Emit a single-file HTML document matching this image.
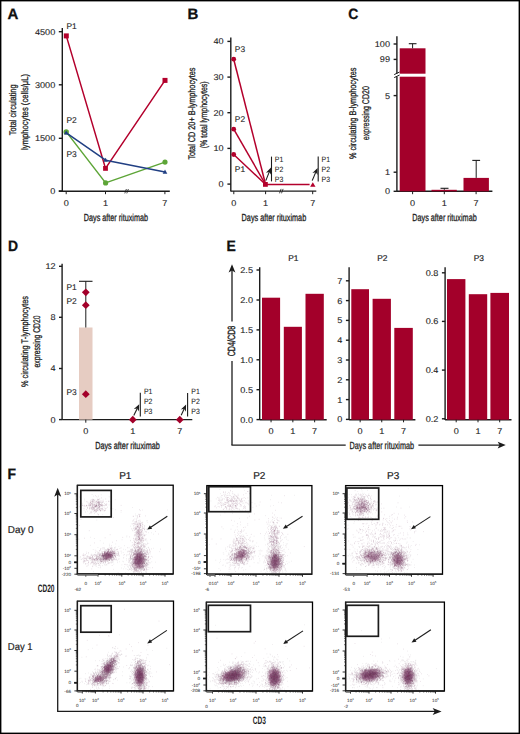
<!DOCTYPE html>
<html><head><meta charset="utf-8"><style>
html,body{margin:0;padding:0;background:#fff;}
body{width:520px;height:734px;overflow:hidden;}
svg{display:block;font-family:"Liberation Sans",sans-serif;text-rendering:geometricPrecision;}
</style></head><body>
<svg width="520" height="734" viewBox="0 0 520 734">
<defs><radialGradient id="cg"><stop offset="0" stop-color="#8C2566" stop-opacity=".95"/><stop offset=".5" stop-color="#8C2566" stop-opacity=".6"/><stop offset="1" stop-color="#8C2566" stop-opacity="0"/></radialGradient></defs>
<rect x="0" y="0" width="520" height="734" fill="#fff"/>
<text x="7.6" y="18.5" font-size="15" font-weight="bold" stroke="#111" stroke-width="0.3" fill="#111">A</text>
<line x1="62.3" y1="27.9" x2="62.3" y2="191.6" stroke="#1c1c1c" stroke-width="1.4"/>
<line x1="58.8" y1="31.7" x2="62.3" y2="31.7" stroke="#1c1c1c" stroke-width="1.4"/>
<text x="55.3" y="34.6" font-size="8.4" text-anchor="end" textLength="20.37" lengthAdjust="spacingAndGlyphs" stroke="#1e1e1e" stroke-width="0.1" fill="#1e1e1e">4500</text>
<line x1="58.8" y1="84.8" x2="62.3" y2="84.8" stroke="#1c1c1c" stroke-width="1.4"/>
<text x="55.3" y="87.7" font-size="8.4" text-anchor="end" textLength="20.37" lengthAdjust="spacingAndGlyphs" stroke="#1e1e1e" stroke-width="0.1" fill="#1e1e1e">3000</text>
<line x1="58.8" y1="138.3" x2="62.3" y2="138.3" stroke="#1c1c1c" stroke-width="1.4"/>
<text x="55.3" y="141.20000000000002" font-size="8.4" text-anchor="end" textLength="20.37" lengthAdjust="spacingAndGlyphs" stroke="#1e1e1e" stroke-width="0.1" fill="#1e1e1e">1500</text>
<line x1="58.8" y1="191.0" x2="62.3" y2="191.0" stroke="#1c1c1c" stroke-width="1.4"/>
<text x="55.3" y="193.9" font-size="8.4" text-anchor="end" textLength="5.09" lengthAdjust="spacingAndGlyphs" stroke="#1e1e1e" stroke-width="0.1" fill="#1e1e1e">0</text>
<line x1="58.8" y1="191.2" x2="169.8" y2="191.2" stroke="#1c1c1c" stroke-width="1.4"/>
<line x1="66.2" y1="191.2" x2="66.2" y2="194.2" stroke="#1c1c1c" stroke-width="1.0"/>
<text x="66.2" y="205.6" font-size="8.4" text-anchor="middle" textLength="5.09" lengthAdjust="spacingAndGlyphs" stroke="#1e1e1e" stroke-width="0.1" fill="#1e1e1e">0</text>
<line x1="105.5" y1="191.2" x2="105.5" y2="194.2" stroke="#1c1c1c" stroke-width="1.0"/>
<text x="105.5" y="205.6" font-size="8.4" text-anchor="middle" textLength="5.09" lengthAdjust="spacingAndGlyphs" stroke="#1e1e1e" stroke-width="0.1" fill="#1e1e1e">1</text>
<line x1="164.9" y1="191.2" x2="164.9" y2="194.2" stroke="#1c1c1c" stroke-width="1.0"/>
<text x="164.9" y="205.6" font-size="8.4" text-anchor="middle" textLength="5.09" lengthAdjust="spacingAndGlyphs" stroke="#1e1e1e" stroke-width="0.1" fill="#1e1e1e">7</text>
<path d="M124.8,193.39999999999998 L126.4,189.0 M126.8,193.39999999999998 L128.4,189.0" stroke="#1c1c1c" stroke-width="0.8" fill="none"/>
<text x="115.9" y="220.5" font-size="10.2" text-anchor="middle" textLength="64.2" lengthAdjust="spacingAndGlyphs" stroke="#1e1e1e" stroke-width="0.3" fill="#1e1e1e">Days after rituximab</text>
<text x="16.2" y="109.8" font-size="9.6" text-anchor="middle" textLength="50.7" lengthAdjust="spacingAndGlyphs" transform="rotate(-90 16.2 109.8)" stroke="#1e1e1e" stroke-width="0.3" fill="#1e1e1e">Total circulating</text>
<text x="28.4" y="111.9" font-size="9.6" text-anchor="middle" textLength="76" lengthAdjust="spacingAndGlyphs" transform="rotate(-90 28.4 111.9)" stroke="#1e1e1e" stroke-width="0.3" fill="#1e1e1e">lymphocytes (cells/μL)</text>
<polyline points="66.3,35.9 105.5,168.4 165,80.4" fill="none" stroke="#B3002C" stroke-width="1.5" stroke-linejoin="round"/>
<rect x="63.8" y="33.4" width="5" height="5" fill="#B3002C"/>
<rect x="103.1" y="166.0" width="4.8" height="4.8" fill="#B3002C"/>
<rect x="162.5" y="77.9" width="5" height="5" fill="#B3002C"/>
<polyline points="66.3,131.9 105.6,182.9 165,162.1" fill="none" stroke="#5DA537" stroke-width="1.5" stroke-linejoin="round"/>
<circle cx="66.2" cy="131.9" r="2.7" fill="#5DA537"/>
<circle cx="105.6" cy="182.9" r="2.6" fill="#5DA537"/>
<circle cx="165" cy="162.1" r="2.6" fill="#5DA537"/>
<polyline points="66.3,132.9 105.6,160.2 165,172.1" fill="none" stroke="#203F83" stroke-width="1.5" stroke-linejoin="round"/>
<polygon points="66.2,130.416 63.900000000000006,134.556 68.5,134.556" fill="#203F83"/>
<polygon points="105.6,157.71599999999998 103.3,161.856 107.89999999999999,161.856" fill="#203F83"/>
<polygon points="165,169.61599999999999 162.7,173.756 167.3,173.756" fill="#203F83"/>
<text x="66.4" y="28.8" font-size="8.4" stroke="#1e1e1e" stroke-width="0.12" fill="#1e1e1e">P1</text>
<text x="66.5" y="123.1" font-size="8.4" stroke="#1e1e1e" stroke-width="0.12" fill="#1e1e1e">P2</text>
<text x="66.5" y="156.7" font-size="8.4" stroke="#1e1e1e" stroke-width="0.12" fill="#1e1e1e">P3</text>
<text x="187.4" y="18.5" font-size="15" font-weight="bold" stroke="#111" stroke-width="0.3" fill="#111">B</text>
<line x1="230.8" y1="37.4" x2="230.8" y2="191.4" stroke="#1c1c1c" stroke-width="1.4"/>
<line x1="227.4" y1="41.4" x2="230.8" y2="41.4" stroke="#1c1c1c" stroke-width="1.4"/>
<text x="223.6" y="44.3" font-size="8.4" text-anchor="end" textLength="10.18" lengthAdjust="spacingAndGlyphs" stroke="#1e1e1e" stroke-width="0.1" fill="#1e1e1e">40</text>
<line x1="227.4" y1="77.1" x2="230.8" y2="77.1" stroke="#1c1c1c" stroke-width="1.4"/>
<text x="223.6" y="80.0" font-size="8.4" text-anchor="end" textLength="10.18" lengthAdjust="spacingAndGlyphs" stroke="#1e1e1e" stroke-width="0.1" fill="#1e1e1e">30</text>
<line x1="227.4" y1="112.7" x2="230.8" y2="112.7" stroke="#1c1c1c" stroke-width="1.4"/>
<text x="223.6" y="115.60000000000001" font-size="8.4" text-anchor="end" textLength="10.18" lengthAdjust="spacingAndGlyphs" stroke="#1e1e1e" stroke-width="0.1" fill="#1e1e1e">20</text>
<line x1="227.4" y1="148.4" x2="230.8" y2="148.4" stroke="#1c1c1c" stroke-width="1.4"/>
<text x="223.6" y="151.3" font-size="8.4" text-anchor="end" textLength="10.18" lengthAdjust="spacingAndGlyphs" stroke="#1e1e1e" stroke-width="0.1" fill="#1e1e1e">10</text>
<line x1="227.4" y1="184.1" x2="230.8" y2="184.1" stroke="#1c1c1c" stroke-width="1.4"/>
<text x="223.6" y="187.0" font-size="8.4" text-anchor="end" textLength="5.09" lengthAdjust="spacingAndGlyphs" stroke="#1e1e1e" stroke-width="0.1" fill="#1e1e1e">0</text>
<line x1="230.8" y1="191.1" x2="316.3" y2="191.1" stroke="#1c1c1c" stroke-width="1.4"/>
<line x1="233.8" y1="191.1" x2="233.8" y2="194.2" stroke="#1c1c1c" stroke-width="1.0"/>
<text x="233.8" y="205.6" font-size="8.4" text-anchor="middle" textLength="5.09" lengthAdjust="spacingAndGlyphs" stroke="#1e1e1e" stroke-width="0.1" fill="#1e1e1e">0</text>
<line x1="265.6" y1="191.1" x2="265.6" y2="194.2" stroke="#1c1c1c" stroke-width="1.0"/>
<text x="265.6" y="205.6" font-size="8.4" text-anchor="middle" textLength="5.09" lengthAdjust="spacingAndGlyphs" stroke="#1e1e1e" stroke-width="0.1" fill="#1e1e1e">1</text>
<line x1="312.7" y1="191.1" x2="312.7" y2="194.2" stroke="#1c1c1c" stroke-width="1.0"/>
<text x="312.7" y="205.6" font-size="8.4" text-anchor="middle" textLength="5.09" lengthAdjust="spacingAndGlyphs" stroke="#1e1e1e" stroke-width="0.1" fill="#1e1e1e">7</text>
<path d="M279.5,193.29999999999998 L281.09999999999997,188.9 M281.5,193.29999999999998 L283.09999999999997,188.9" stroke="#1c1c1c" stroke-width="0.8" fill="none"/>
<text x="273.9" y="220.6" font-size="10.2" text-anchor="middle" textLength="64.6" lengthAdjust="spacingAndGlyphs" stroke="#1e1e1e" stroke-width="0.3" fill="#1e1e1e">Days after rituximab</text>
<text x="195.0" y="113.6" font-size="9.6" text-anchor="middle" textLength="92" lengthAdjust="spacingAndGlyphs" transform="rotate(-90 195.0 113.6)" stroke="#1e1e1e" stroke-width="0.3" fill="#1e1e1e">Total CD 20+ B-lymphocytes</text>
<text x="207.3" y="114.8" font-size="9.6" text-anchor="middle" textLength="67" lengthAdjust="spacingAndGlyphs" transform="rotate(-90 207.3 114.8)" stroke="#1e1e1e" stroke-width="0.3" fill="#1e1e1e">(% total lymphocytes)</text>
<polyline points="233.7,59.2 265.6,184.5" fill="none" stroke="#B3002C" stroke-width="1.5" stroke-linejoin="round"/>
<polyline points="233.7,129.2 265.6,184.5" fill="none" stroke="#B3002C" stroke-width="1.5" stroke-linejoin="round"/>
<polyline points="233.7,154.5 265.6,184.5 309.6,184.5" fill="none" stroke="#B3002C" stroke-width="1.5" stroke-linejoin="round"/>
<circle cx="233.7" cy="59.2" r="2.4" fill="#B3002C"/>
<circle cx="233.7" cy="129.2" r="2.4" fill="#B3002C"/>
<circle cx="233.7" cy="154.5" r="2.4" fill="#B3002C"/>
<rect x="263.0" y="182.0" width="4.8" height="4.8" fill="#B3002C"/>
<polygon points="312.8,182.2 315.5,186.8 310.1,186.8" fill="#B3002C"/>
<text x="234.8" y="51.5" font-size="8.4" stroke="#1e1e1e" stroke-width="0.12" fill="#1e1e1e">P3</text>
<text x="234.8" y="122.0" font-size="8.4" stroke="#1e1e1e" stroke-width="0.12" fill="#1e1e1e">P2</text>
<text x="234.8" y="172.0" font-size="8.4" stroke="#1e1e1e" stroke-width="0.12" fill="#1e1e1e">P1</text>
<line x1="271.5" y1="156.6" x2="271.5" y2="181.4" stroke="#1c1c1c" stroke-width="1.1"/>
<line x1="265.8" y1="180.6" x2="269.3955922781503" y2="171.61101930462434" stroke="#1c1c1c" stroke-width="1.1"/>
<polygon points="271.00,167.60 271.15,174.77 269.28,171.89 265.95,172.69" fill="#1c1c1c"/>
<text x="274.8" y="162.10000000000002" font-size="7.7" textLength="8.48" lengthAdjust="spacingAndGlyphs" stroke="#1e1e1e" stroke-width="0.08" fill="#1e1e1e">P1</text>
<text x="274.8" y="171.9" font-size="7.7" textLength="8.48" lengthAdjust="spacingAndGlyphs" stroke="#1e1e1e" stroke-width="0.08" fill="#1e1e1e">P2</text>
<text x="274.8" y="181.5" font-size="7.7" textLength="8.48" lengthAdjust="spacingAndGlyphs" stroke="#1e1e1e" stroke-width="0.08" fill="#1e1e1e">P3</text>
<line x1="318.2" y1="156.6" x2="318.2" y2="181.4" stroke="#1c1c1c" stroke-width="1.1"/>
<line x1="312.2" y1="180.6" x2="315.9096095979892" y2="171.87554779732173" stroke="#1c1c1c" stroke-width="1.1"/>
<polygon points="317.60,167.90 317.59,175.07 315.79,172.15 312.44,172.88" fill="#1c1c1c"/>
<text x="321.6" y="162.10000000000002" font-size="7.7" textLength="8.48" lengthAdjust="spacingAndGlyphs" stroke="#1e1e1e" stroke-width="0.08" fill="#1e1e1e">P1</text>
<text x="321.6" y="171.9" font-size="7.7" textLength="8.48" lengthAdjust="spacingAndGlyphs" stroke="#1e1e1e" stroke-width="0.08" fill="#1e1e1e">P2</text>
<text x="321.6" y="181.5" font-size="7.7" textLength="8.48" lengthAdjust="spacingAndGlyphs" stroke="#1e1e1e" stroke-width="0.08" fill="#1e1e1e">P3</text>
<text x="348.2" y="18.6" font-size="15" textLength="10.07" lengthAdjust="spacingAndGlyphs" font-weight="bold" stroke="#111" stroke-width="0.3" fill="#111">C</text>
<line x1="396.9" y1="36.3" x2="396.9" y2="73.6" stroke="#1c1c1c" stroke-width="1.4"/>
<line x1="396.9" y1="76.8" x2="396.9" y2="191.6" stroke="#1c1c1c" stroke-width="1.4"/>
<path d="M394.2,74.6 L399.6,72.0 M394.2,77.6 L399.6,75.0" stroke="#1c1c1c" stroke-width="1" fill="none"/>
<line x1="393.6" y1="44.0" x2="396.9" y2="44.0" stroke="#1c1c1c" stroke-width="1.4"/>
<text x="390.0" y="46.9" font-size="8.4" text-anchor="end" textLength="15.27" lengthAdjust="spacingAndGlyphs" stroke="#1e1e1e" stroke-width="0.1" fill="#1e1e1e">100</text>
<line x1="393.6" y1="59.4" x2="396.9" y2="59.4" stroke="#1c1c1c" stroke-width="1.4"/>
<text x="390.0" y="62.3" font-size="8.4" text-anchor="end" textLength="10.18" lengthAdjust="spacingAndGlyphs" stroke="#1e1e1e" stroke-width="0.1" fill="#1e1e1e">99</text>
<line x1="393.6" y1="95.6" x2="396.9" y2="95.6" stroke="#1c1c1c" stroke-width="1.4"/>
<text x="390.0" y="98.5" font-size="8.4" text-anchor="end" textLength="5.09" lengthAdjust="spacingAndGlyphs" stroke="#1e1e1e" stroke-width="0.1" fill="#1e1e1e">5</text>
<line x1="393.6" y1="172.2" x2="396.9" y2="172.2" stroke="#1c1c1c" stroke-width="1.4"/>
<text x="390.0" y="175.1" font-size="8.4" text-anchor="end" textLength="5.09" lengthAdjust="spacingAndGlyphs" stroke="#1e1e1e" stroke-width="0.1" fill="#1e1e1e">1</text>
<line x1="393.6" y1="191.3" x2="396.9" y2="191.3" stroke="#1c1c1c" stroke-width="1.4"/>
<text x="390.0" y="194.20000000000002" font-size="8.4" text-anchor="end" textLength="5.09" lengthAdjust="spacingAndGlyphs" stroke="#1e1e1e" stroke-width="0.1" fill="#1e1e1e">0</text>
<line x1="396.9" y1="191.3" x2="492.4" y2="191.3" stroke="#1c1c1c" stroke-width="1.4"/>
<rect x="399.7" y="48.3" width="25.8" height="25.4" fill="#A3002A"/>
<rect x="399.7" y="76.7" width="25.8" height="114.6" fill="#A3002A"/>
<rect x="431.5" y="189.8" width="25.3" height="1.5" fill="#A3002A"/>
<rect x="463.5" y="177.9" width="25.4" height="13.4" fill="#A3002A"/>
<line x1="412.6" y1="48.3" x2="412.6" y2="43.7" stroke="#1c1c1c" stroke-width="1.0"/>
<line x1="408.8" y1="43.7" x2="416.5" y2="43.7" stroke="#1c1c1c" stroke-width="1.1"/>
<line x1="444.3" y1="189.8" x2="444.3" y2="188.3" stroke="#1c1c1c" stroke-width="1.0"/>
<line x1="440.5" y1="188.3" x2="448.5" y2="188.3" stroke="#1c1c1c" stroke-width="1.1"/>
<line x1="476.2" y1="177.9" x2="476.2" y2="160.4" stroke="#1c1c1c" stroke-width="1.0"/>
<line x1="472.3" y1="160.4" x2="480.1" y2="160.4" stroke="#1c1c1c" stroke-width="1.1"/>
<line x1="412.6" y1="191.3" x2="412.6" y2="194.2" stroke="#1c1c1c" stroke-width="1.0"/>
<text x="412.6" y="205.6" font-size="8.4" text-anchor="middle" textLength="5.09" lengthAdjust="spacingAndGlyphs" stroke="#1e1e1e" stroke-width="0.1" fill="#1e1e1e">0</text>
<line x1="444.3" y1="191.3" x2="444.3" y2="194.2" stroke="#1c1c1c" stroke-width="1.0"/>
<text x="444.3" y="205.6" font-size="8.4" text-anchor="middle" textLength="5.09" lengthAdjust="spacingAndGlyphs" stroke="#1e1e1e" stroke-width="0.1" fill="#1e1e1e">1</text>
<line x1="476.1" y1="191.3" x2="476.1" y2="194.2" stroke="#1c1c1c" stroke-width="1.0"/>
<text x="476.1" y="205.6" font-size="8.4" text-anchor="middle" textLength="5.09" lengthAdjust="spacingAndGlyphs" stroke="#1e1e1e" stroke-width="0.1" fill="#1e1e1e">7</text>
<text x="444.5" y="220.6" font-size="10.2" text-anchor="middle" textLength="64.4" lengthAdjust="spacingAndGlyphs" stroke="#1e1e1e" stroke-width="0.3" fill="#1e1e1e">Days after rituximab</text>
<text x="356.5" y="113.3" font-size="9.6" text-anchor="middle" textLength="91.5" lengthAdjust="spacingAndGlyphs" transform="rotate(-90 356.5 113.3)" stroke="#1e1e1e" stroke-width="0.3" fill="#1e1e1e">% circulating B-lymphocytes</text>
<text x="368.6" y="113.2" font-size="9.6" text-anchor="middle" textLength="54" lengthAdjust="spacingAndGlyphs" transform="rotate(-90 368.6 113.2)" stroke="#1e1e1e" stroke-width="0.3" fill="#1e1e1e">expressing CD20</text>
<text x="8.0" y="250.6" font-size="15" textLength="10.07" lengthAdjust="spacingAndGlyphs" font-weight="bold" stroke="#111" stroke-width="0.3" fill="#111">D</text>
<line x1="62.1" y1="263.8" x2="62.1" y2="419.7" stroke="#1c1c1c" stroke-width="1.4"/>
<line x1="59.0" y1="266.3" x2="62.1" y2="266.3" stroke="#1c1c1c" stroke-width="1.4"/>
<text x="55.6" y="269.2" font-size="8.4" text-anchor="end" textLength="10.18" lengthAdjust="spacingAndGlyphs" stroke="#1e1e1e" stroke-width="0.1" fill="#1e1e1e">12</text>
<line x1="59.0" y1="317.3" x2="62.1" y2="317.3" stroke="#1c1c1c" stroke-width="1.4"/>
<text x="55.6" y="320.2" font-size="8.4" text-anchor="end" textLength="5.09" lengthAdjust="spacingAndGlyphs" stroke="#1e1e1e" stroke-width="0.1" fill="#1e1e1e">8</text>
<line x1="59.0" y1="368.5" x2="62.1" y2="368.5" stroke="#1c1c1c" stroke-width="1.4"/>
<text x="55.6" y="371.4" font-size="8.4" text-anchor="end" textLength="5.09" lengthAdjust="spacingAndGlyphs" stroke="#1e1e1e" stroke-width="0.1" fill="#1e1e1e">4</text>
<line x1="59.0" y1="419.6" x2="62.1" y2="419.6" stroke="#1c1c1c" stroke-width="1.4"/>
<text x="55.6" y="422.5" font-size="8.4" text-anchor="end" textLength="5.09" lengthAdjust="spacingAndGlyphs" stroke="#1e1e1e" stroke-width="0.1" fill="#1e1e1e">0</text>
<line x1="62.1" y1="419.6" x2="192.3" y2="419.6" stroke="#1c1c1c" stroke-width="1.4"/>
<rect x="79.0" y="327.5" width="13.5" height="92.1" fill="#E6CCC2"/>
<line x1="85.8" y1="327.5" x2="85.8" y2="281.3" stroke="#1c1c1c" stroke-width="1.0"/>
<line x1="79.0" y1="281.3" x2="92.5" y2="281.3" stroke="#1c1c1c" stroke-width="1.1"/>
<line x1="85.8" y1="419.6" x2="85.8" y2="422.7" stroke="#1c1c1c" stroke-width="1.0"/>
<text x="85.8" y="434.0" font-size="8.4" text-anchor="middle" textLength="5.09" lengthAdjust="spacingAndGlyphs" stroke="#1e1e1e" stroke-width="0.1" fill="#1e1e1e">0</text>
<line x1="132.8" y1="419.6" x2="132.8" y2="422.7" stroke="#1c1c1c" stroke-width="1.0"/>
<text x="132.8" y="434.0" font-size="8.4" text-anchor="middle" textLength="5.09" lengthAdjust="spacingAndGlyphs" stroke="#1e1e1e" stroke-width="0.1" fill="#1e1e1e">1</text>
<line x1="179.8" y1="419.6" x2="179.8" y2="422.7" stroke="#1c1c1c" stroke-width="1.0"/>
<text x="179.8" y="434.0" font-size="8.4" text-anchor="middle" textLength="5.09" lengthAdjust="spacingAndGlyphs" stroke="#1e1e1e" stroke-width="0.1" fill="#1e1e1e">7</text>
<polygon points="85.8,288.40000000000003 89.7,292.3 85.8,296.2 81.89999999999999,292.3" fill="#A3002A"/>
<polygon points="85.8,301.3 89.7,305.2 85.8,309.09999999999997 81.89999999999999,305.2" fill="#A3002A"/>
<polygon points="85.8,390.3 89.7,394.2 85.8,398.09999999999997 81.89999999999999,394.2" fill="#A3002A"/>
<polygon points="132.8,415.8 136.70000000000002,419.7 132.8,423.59999999999997 128.9,419.7" fill="#A3002A"/>
<polygon points="179.8,415.8 183.70000000000002,419.7 179.8,423.59999999999997 175.9,419.7" fill="#A3002A"/>
<text x="66.4" y="289.9" font-size="8.4" stroke="#1e1e1e" stroke-width="0.12" fill="#1e1e1e">P1</text>
<text x="66.4" y="303.9" font-size="8.4" stroke="#1e1e1e" stroke-width="0.12" fill="#1e1e1e">P2</text>
<text x="66.4" y="395.2" font-size="8.4" stroke="#1e1e1e" stroke-width="0.12" fill="#1e1e1e">P3</text>
<line x1="140.3" y1="392.8" x2="140.3" y2="416.4" stroke="#1c1c1c" stroke-width="1.1"/>
<line x1="133.8" y1="415.6" x2="137.3373328941513" y2="408.19780338816486" stroke="#1c1c1c" stroke-width="1.1"/>
<polygon points="139.20,404.30 138.88,411.46 137.21,408.47 133.83,409.05" fill="#1c1c1c"/>
<text x="143.9" y="394.3" font-size="7.7" textLength="8.48" lengthAdjust="spacingAndGlyphs" stroke="#1e1e1e" stroke-width="0.08" fill="#1e1e1e">P1</text>
<text x="143.9" y="404.3" font-size="7.7" textLength="8.48" lengthAdjust="spacingAndGlyphs" stroke="#1e1e1e" stroke-width="0.08" fill="#1e1e1e">P2</text>
<text x="143.9" y="413.5" font-size="7.7" textLength="8.48" lengthAdjust="spacingAndGlyphs" stroke="#1e1e1e" stroke-width="0.08" fill="#1e1e1e">P3</text>
<line x1="187.6" y1="393.1" x2="187.6" y2="416.4" stroke="#1c1c1c" stroke-width="1.1"/>
<line x1="181.2" y1="415.3" x2="184.3013157155202" y2="408.5277391518233" stroke="#1c1c1c" stroke-width="1.1"/>
<polygon points="186.10,404.60 185.90,411.77 184.18,408.80 180.81,409.43" fill="#1c1c1c"/>
<text x="191.3" y="394.3" font-size="7.7" textLength="8.48" lengthAdjust="spacingAndGlyphs" stroke="#1e1e1e" stroke-width="0.08" fill="#1e1e1e">P1</text>
<text x="191.3" y="404.3" font-size="7.7" textLength="8.48" lengthAdjust="spacingAndGlyphs" stroke="#1e1e1e" stroke-width="0.08" fill="#1e1e1e">P2</text>
<text x="191.3" y="413.5" font-size="7.7" textLength="8.48" lengthAdjust="spacingAndGlyphs" stroke="#1e1e1e" stroke-width="0.08" fill="#1e1e1e">P3</text>
<text x="127.5" y="448.5" font-size="10.2" text-anchor="middle" textLength="64.6" lengthAdjust="spacingAndGlyphs" stroke="#1e1e1e" stroke-width="0.3" fill="#1e1e1e">Days after rituximab</text>
<text x="28.4" y="341.5" font-size="9.6" text-anchor="middle" textLength="91" lengthAdjust="spacingAndGlyphs" transform="rotate(-90 28.4 341.5)" stroke="#1e1e1e" stroke-width="0.3" fill="#1e1e1e">% circulating T-lymphocytes</text>
<text x="40.4" y="341.5" font-size="9.6" text-anchor="middle" textLength="52" lengthAdjust="spacingAndGlyphs" transform="rotate(-90 40.4 341.5)" stroke="#1e1e1e" stroke-width="0.3" fill="#1e1e1e">expressing CD20</text>
<text x="226.4" y="250.9" font-size="15" textLength="9.31" lengthAdjust="spacingAndGlyphs" font-weight="bold" stroke="#111" stroke-width="0.3" fill="#111">E</text>
<line x1="232" y1="270" x2="232" y2="321.4" stroke="#1c1c1c" stroke-width="1.3"/>
<line x1="232" y1="361.0" x2="232" y2="445.1" stroke="#1c1c1c" stroke-width="1.3"/>
<line x1="231.4" y1="445.1" x2="345.7" y2="445.1" stroke="#1c1c1c" stroke-width="1.3"/>
<line x1="418.4" y1="445.1" x2="501" y2="445.1" stroke="#1c1c1c" stroke-width="1.3"/>
<polygon points="232,264.3 228.6,272.4 232,270.6 235.4,272.4" fill="#1c1c1c"/>
<polygon points="505.7,445.1 497.7,441.7 499.5,445.1 497.7,448.5" fill="#1c1c1c"/>
<text x="235.4" y="341.0" font-size="10.4" text-anchor="middle" textLength="30.6" lengthAdjust="spacingAndGlyphs" transform="rotate(-90 235.4 341.0)" stroke="#1e1e1e" stroke-width="0.4" fill="#1e1e1e">CD4/CD8</text>
<text x="381.8" y="448.8" font-size="10.3" text-anchor="middle" textLength="64.4" lengthAdjust="spacingAndGlyphs" stroke="#1e1e1e" stroke-width="0.3" fill="#1e1e1e">Days after rituximab</text>
<line x1="259.7" y1="267.2" x2="259.7" y2="419.9" stroke="#1c1c1c" stroke-width="1.4"/>
<line x1="259.7" y1="419.7" x2="326.7" y2="419.7" stroke="#1c1c1c" stroke-width="1.4"/>
<line x1="256.5" y1="270.0" x2="259.7" y2="270.0" stroke="#1c1c1c" stroke-width="1.4"/>
<text x="253.0" y="272.9" font-size="8.4" text-anchor="end" textLength="12.73" lengthAdjust="spacingAndGlyphs" stroke="#1e1e1e" stroke-width="0.1" fill="#1e1e1e">2.5</text>
<line x1="256.5" y1="300.0" x2="259.7" y2="300.0" stroke="#1c1c1c" stroke-width="1.4"/>
<text x="253.0" y="302.9" font-size="8.4" text-anchor="end" textLength="12.73" lengthAdjust="spacingAndGlyphs" stroke="#1e1e1e" stroke-width="0.1" fill="#1e1e1e">2.0</text>
<line x1="256.5" y1="329.9" x2="259.7" y2="329.9" stroke="#1c1c1c" stroke-width="1.4"/>
<text x="253.0" y="332.79999999999995" font-size="8.4" text-anchor="end" textLength="12.73" lengthAdjust="spacingAndGlyphs" stroke="#1e1e1e" stroke-width="0.1" fill="#1e1e1e">1.5</text>
<line x1="256.5" y1="359.8" x2="259.7" y2="359.8" stroke="#1c1c1c" stroke-width="1.4"/>
<text x="253.0" y="362.7" font-size="8.4" text-anchor="end" textLength="12.73" lengthAdjust="spacingAndGlyphs" stroke="#1e1e1e" stroke-width="0.1" fill="#1e1e1e">1.0</text>
<line x1="256.5" y1="389.7" x2="259.7" y2="389.7" stroke="#1c1c1c" stroke-width="1.4"/>
<text x="253.0" y="392.59999999999997" font-size="8.4" text-anchor="end" textLength="12.73" lengthAdjust="spacingAndGlyphs" stroke="#1e1e1e" stroke-width="0.1" fill="#1e1e1e">0.5</text>
<line x1="256.5" y1="419.6" x2="259.7" y2="419.6" stroke="#1c1c1c" stroke-width="1.4"/>
<text x="253.0" y="422.5" font-size="8.4" text-anchor="end" textLength="12.73" lengthAdjust="spacingAndGlyphs" stroke="#1e1e1e" stroke-width="0.1" fill="#1e1e1e">0.0</text>
<rect x="262.0" y="297.7" width="18.100000000000023" height="122.0" fill="#A3002A"/>
<line x1="271.05" y1="419.7" x2="271.05" y2="422.3" stroke="#1c1c1c" stroke-width="1.0"/>
<text x="271.05" y="434.0" font-size="8.4" text-anchor="middle" textLength="5.09" lengthAdjust="spacingAndGlyphs" stroke="#1e1e1e" stroke-width="0.1" fill="#1e1e1e">0</text>
<rect x="283.8" y="326.8" width="18.099999999999966" height="92.89999999999998" fill="#A3002A"/>
<line x1="292.85" y1="419.7" x2="292.85" y2="422.3" stroke="#1c1c1c" stroke-width="1.0"/>
<text x="292.85" y="434.0" font-size="8.4" text-anchor="middle" textLength="5.09" lengthAdjust="spacingAndGlyphs" stroke="#1e1e1e" stroke-width="0.1" fill="#1e1e1e">1</text>
<rect x="305.5" y="293.8" width="18.30000000000001" height="125.89999999999998" fill="#A3002A"/>
<line x1="314.65" y1="419.7" x2="314.65" y2="422.3" stroke="#1c1c1c" stroke-width="1.0"/>
<text x="314.65" y="434.0" font-size="8.4" text-anchor="middle" textLength="5.09" lengthAdjust="spacingAndGlyphs" stroke="#1e1e1e" stroke-width="0.1" fill="#1e1e1e">7</text>
<text x="293.4" y="261.0" font-size="8.4" text-anchor="middle" stroke="#1e1e1e" stroke-width="0.2" fill="#1e1e1e">P1</text>
<line x1="349.1" y1="267.2" x2="349.1" y2="419.9" stroke="#1c1c1c" stroke-width="1.4"/>
<line x1="349.1" y1="419.7" x2="415.4" y2="419.7" stroke="#1c1c1c" stroke-width="1.4"/>
<line x1="345.90000000000003" y1="280.8" x2="349.1" y2="280.8" stroke="#1c1c1c" stroke-width="1.4"/>
<text x="342.40000000000003" y="283.7" font-size="8.4" text-anchor="end" textLength="5.09" lengthAdjust="spacingAndGlyphs" stroke="#1e1e1e" stroke-width="0.1" fill="#1e1e1e">7</text>
<line x1="345.90000000000003" y1="300.6" x2="349.1" y2="300.6" stroke="#1c1c1c" stroke-width="1.4"/>
<text x="342.40000000000003" y="303.5" font-size="8.4" text-anchor="end" textLength="5.09" lengthAdjust="spacingAndGlyphs" stroke="#1e1e1e" stroke-width="0.1" fill="#1e1e1e">6</text>
<line x1="345.90000000000003" y1="320.4" x2="349.1" y2="320.4" stroke="#1c1c1c" stroke-width="1.4"/>
<text x="342.40000000000003" y="323.29999999999995" font-size="8.4" text-anchor="end" textLength="5.09" lengthAdjust="spacingAndGlyphs" stroke="#1e1e1e" stroke-width="0.1" fill="#1e1e1e">5</text>
<line x1="345.90000000000003" y1="340.2" x2="349.1" y2="340.2" stroke="#1c1c1c" stroke-width="1.4"/>
<text x="342.40000000000003" y="343.09999999999997" font-size="8.4" text-anchor="end" textLength="5.09" lengthAdjust="spacingAndGlyphs" stroke="#1e1e1e" stroke-width="0.1" fill="#1e1e1e">4</text>
<line x1="345.90000000000003" y1="360.0" x2="349.1" y2="360.0" stroke="#1c1c1c" stroke-width="1.4"/>
<text x="342.40000000000003" y="362.9" font-size="8.4" text-anchor="end" textLength="5.09" lengthAdjust="spacingAndGlyphs" stroke="#1e1e1e" stroke-width="0.1" fill="#1e1e1e">3</text>
<line x1="345.90000000000003" y1="379.8" x2="349.1" y2="379.8" stroke="#1c1c1c" stroke-width="1.4"/>
<text x="342.40000000000003" y="382.7" font-size="8.4" text-anchor="end" textLength="5.09" lengthAdjust="spacingAndGlyphs" stroke="#1e1e1e" stroke-width="0.1" fill="#1e1e1e">2</text>
<line x1="345.90000000000003" y1="399.6" x2="349.1" y2="399.6" stroke="#1c1c1c" stroke-width="1.4"/>
<text x="342.40000000000003" y="402.5" font-size="8.4" text-anchor="end" textLength="5.09" lengthAdjust="spacingAndGlyphs" stroke="#1e1e1e" stroke-width="0.1" fill="#1e1e1e">1</text>
<line x1="345.90000000000003" y1="419.4" x2="349.1" y2="419.4" stroke="#1c1c1c" stroke-width="1.4"/>
<text x="342.40000000000003" y="422.29999999999995" font-size="8.4" text-anchor="end" textLength="5.09" lengthAdjust="spacingAndGlyphs" stroke="#1e1e1e" stroke-width="0.1" fill="#1e1e1e">0</text>
<rect x="351.3" y="289.2" width="17.69999999999999" height="130.5" fill="#A3002A"/>
<line x1="360.15" y1="419.7" x2="360.15" y2="422.3" stroke="#1c1c1c" stroke-width="1.0"/>
<text x="360.15" y="434.0" font-size="8.4" text-anchor="middle" textLength="5.09" lengthAdjust="spacingAndGlyphs" stroke="#1e1e1e" stroke-width="0.1" fill="#1e1e1e">0</text>
<rect x="372.6" y="298.8" width="18.299999999999955" height="120.89999999999998" fill="#A3002A"/>
<line x1="381.75" y1="419.7" x2="381.75" y2="422.3" stroke="#1c1c1c" stroke-width="1.0"/>
<text x="381.75" y="434.0" font-size="8.4" text-anchor="middle" textLength="5.09" lengthAdjust="spacingAndGlyphs" stroke="#1e1e1e" stroke-width="0.1" fill="#1e1e1e">1</text>
<rect x="394.3" y="327.9" width="18.5" height="91.80000000000001" fill="#A3002A"/>
<line x1="403.55" y1="419.7" x2="403.55" y2="422.3" stroke="#1c1c1c" stroke-width="1.0"/>
<text x="403.55" y="434.0" font-size="8.4" text-anchor="middle" textLength="5.09" lengthAdjust="spacingAndGlyphs" stroke="#1e1e1e" stroke-width="0.1" fill="#1e1e1e">7</text>
<text x="382.3" y="261.0" font-size="8.4" text-anchor="middle" stroke="#1e1e1e" stroke-width="0.2" fill="#1e1e1e">P2</text>
<line x1="445.1" y1="267.2" x2="445.1" y2="419.9" stroke="#1c1c1c" stroke-width="1.4"/>
<line x1="445.1" y1="419.7" x2="511.5" y2="419.7" stroke="#1c1c1c" stroke-width="1.4"/>
<line x1="441.90000000000003" y1="272.8" x2="445.1" y2="272.8" stroke="#1c1c1c" stroke-width="1.4"/>
<text x="438.40000000000003" y="275.7" font-size="8.4" text-anchor="end" textLength="12.73" lengthAdjust="spacingAndGlyphs" stroke="#1e1e1e" stroke-width="0.1" fill="#1e1e1e">0.8</text>
<line x1="441.90000000000003" y1="321.4" x2="445.1" y2="321.4" stroke="#1c1c1c" stroke-width="1.4"/>
<text x="438.40000000000003" y="324.29999999999995" font-size="8.4" text-anchor="end" textLength="12.73" lengthAdjust="spacingAndGlyphs" stroke="#1e1e1e" stroke-width="0.1" fill="#1e1e1e">0.6</text>
<line x1="441.90000000000003" y1="370.1" x2="445.1" y2="370.1" stroke="#1c1c1c" stroke-width="1.4"/>
<text x="438.40000000000003" y="373.0" font-size="8.4" text-anchor="end" textLength="12.73" lengthAdjust="spacingAndGlyphs" stroke="#1e1e1e" stroke-width="0.1" fill="#1e1e1e">0.4</text>
<line x1="441.90000000000003" y1="418.8" x2="445.1" y2="418.8" stroke="#1c1c1c" stroke-width="1.4"/>
<text x="438.40000000000003" y="421.7" font-size="8.4" text-anchor="end" textLength="12.73" lengthAdjust="spacingAndGlyphs" stroke="#1e1e1e" stroke-width="0.1" fill="#1e1e1e">0.2</text>
<rect x="447.0" y="279.1" width="18.399999999999977" height="140.59999999999997" fill="#A3002A"/>
<line x1="456.2" y1="419.7" x2="456.2" y2="422.3" stroke="#1c1c1c" stroke-width="1.0"/>
<text x="456.2" y="434.0" font-size="8.4" text-anchor="middle" textLength="5.09" lengthAdjust="spacingAndGlyphs" stroke="#1e1e1e" stroke-width="0.1" fill="#1e1e1e">0</text>
<rect x="468.8" y="294.2" width="18.399999999999977" height="125.5" fill="#A3002A"/>
<line x1="478.0" y1="419.7" x2="478.0" y2="422.3" stroke="#1c1c1c" stroke-width="1.0"/>
<text x="478.0" y="434.0" font-size="8.4" text-anchor="middle" textLength="5.09" lengthAdjust="spacingAndGlyphs" stroke="#1e1e1e" stroke-width="0.1" fill="#1e1e1e">1</text>
<rect x="490.4" y="292.9" width="18.600000000000023" height="126.80000000000001" fill="#A3002A"/>
<line x1="499.7" y1="419.7" x2="499.7" y2="422.3" stroke="#1c1c1c" stroke-width="1.0"/>
<text x="499.7" y="434.0" font-size="8.4" text-anchor="middle" textLength="5.09" lengthAdjust="spacingAndGlyphs" stroke="#1e1e1e" stroke-width="0.1" fill="#1e1e1e">7</text>
<text x="478.8" y="261.0" font-size="8.4" text-anchor="middle" stroke="#1e1e1e" stroke-width="0.2" fill="#1e1e1e">P3</text>
<text x="7.6" y="478.9" font-size="15" textLength="8.52" lengthAdjust="spacingAndGlyphs" font-weight="bold" stroke="#111" stroke-width="0.3" fill="#111">F</text>
<text x="125.3" y="479.4" font-size="10" text-anchor="middle" stroke="#1e1e1e" stroke-width="0.2" fill="#1e1e1e">P1</text>
<text x="259.3" y="479.4" font-size="10" text-anchor="middle" stroke="#1e1e1e" stroke-width="0.2" fill="#1e1e1e">P2</text>
<text x="393.2" y="479.4" font-size="10" text-anchor="middle" stroke="#1e1e1e" stroke-width="0.2" fill="#1e1e1e">P3</text>
<text x="7.8" y="533.0" font-size="10" textLength="25.8" lengthAdjust="spacingAndGlyphs" stroke="#1e1e1e" stroke-width="0.2" fill="#1e1e1e">Day 0</text>
<text x="7.8" y="650.2" font-size="10" textLength="24.8" lengthAdjust="spacingAndGlyphs" stroke="#1e1e1e" stroke-width="0.2" fill="#1e1e1e">Day 1</text>
<text x="46.1" y="591.8" font-size="10.8" text-anchor="middle" textLength="16.9" lengthAdjust="spacingAndGlyphs" font-weight="bold" fill="#1e1e1e">CD20</text>
<text x="259.4" y="723.6" font-size="10.8" text-anchor="middle" textLength="13.2" lengthAdjust="spacingAndGlyphs" font-weight="bold" fill="#1e1e1e">CD3</text>
<line x1="57.7" y1="494" x2="57.7" y2="711.4" stroke="#1c1c1c" stroke-width="1.3"/>
<line x1="57.1" y1="711.4" x2="436" y2="711.4" stroke="#1c1c1c" stroke-width="1.3"/>
<polygon points="57.7,487.8 54.2,496.8 57.7,494.6 61.2,496.8" fill="#1c1c1c"/>
<polygon points="441.6,711.4 432.6,707.9 434.8,711.4 432.6,714.9" fill="#1c1c1c"/>
<ellipse cx="138.8" cy="560.5" rx="6" ry="9.5" fill="url(#cg)" opacity="0.65" transform="rotate(0 138.8 560.5)"/>
<ellipse cx="107.5" cy="555.5" rx="5.7" ry="4.4" fill="url(#cg)" opacity="0.6" transform="rotate(-10 107.5 555.5)"/>
<path d="M95 495.7h.6m2.5 .4h.6m-2.2 .6h.6m4.3 1.2h.6m-9.4 1.2h.6m-.5 .4h.6m3.9-.1h.6m1.7-.6h.6m5.4 .2h.6m-15.4 1h.6m.4-.4h.6m.9 .1h.6m3.8-.1h.6m-.3 0h.6m-.4 .2h.6m-.2 0h.6m3.7 .3h.6m-13.5 .8h.6m.4 .4h.6m.4-.4h.6m-.5-.2h.6m-.2 .5h.6m.1-.3h.6m0 0h.6m-.3-.4h.6m.3 .7h.6m.4 0h.6m-.1 .2h.6m.2-.6h.6m.5 .5h.6m.5 .1h.6m.4-.3h.6m-.2-.1h.6m.4 .1h.6m1 .3h.6m4-.3h.6m-22.4 .6h.6m.7 .2h.6m2 .4h.6m-.4 .2h.6m-.5-.5h.6m-.1-.2h.6m1 .2h.6m-.4-.5h.6m.3 .4h.6m-.1 .3h.6m.6 .1h.6m.5-.7h.6m.2 .8h.6m-.4 0h.6m-.5-.5h.6m-.2 .1h.6m0-.5h.6m-.5 .7h.6m-.5 .2h.6m-.1-.3h.6m.7 .3h.6m.6-.1h.6m0-.2h.6m-.1 .3h.6m2.4-.8h.6m1.6 0h.6m-26.8 1.7h.6m5.4-.3h.6m2.2-.1h.6m-.3 .5h.6m.1-.1h.6m-.2-.4h.6m-.6 .1h.6m.9-.4h.6m1.5 .6h.6m-.3 0h.6m.1-.6h.6m.4 .5h.6m-.1-.3h.6m-.3 .3h.6m-.6-.3h.6m-.5-.1h.6m0 .1h.6m1.3 .2h.6m-12.6 .6h.6m.5 .4h.6m-.6 .5h.6m-.1-.8h.6m-.2 0h.6m.5 0h.6m.5 .6h.6m-.5-.2h.6m.3-.3h.6m-.5 .7h.6m1.2 0h.6m-.4-.9h.6m.5 .2h.6m.1 .1h.6m.1 .1h.6m-.6-.5h.6m-.4 .3h.6m-.4 .2h.6m-.4 .3h.6m-.5 .1h.6m.7 0h.6m-.5-.3h.6m2.9-.6h.6m.2 .9h.6m.7 0h.6m-.6-.6h.6m-25.1 1.3h.6m-.4 .3h.6m1.5-.1h.6m1.1 .2h.6m-.2-.1h.6m-.5 0h.6m.9-.7h.6m.4-.2h.6m-.5 .6h.6m.3 .3h.6m-.3-.1h.6m-.5-.3h.6m.2-.5h.6m.2 .3h.6m-.4 0h.6m-.4 .1h.6m-.5 .4h.6m.4 .1h.6m-.4-.1h.6m.1-.8h.6m-.1 .7h.6m.1-.5h.6m-.3 .6h.6m-.2 .1h.6m-.3-.3h.6m-.6 .2h.6m-.5 0h.6m.6-.7h.6m-.4 .9h.6m-.5-.1h.6m-.4-.1h.6m-.3-.2h.6m-.6-.5h.6m.8 .9h.6m-.6-1h.6m-.2 .1h.6m-.5 0h.6m-.4 .6h.6m.1 .2h.6m-.5 .1h.6m.1-.4h.6m-.6 .2h.6m-.5-.6h.6m-.2 .6h.6m1.7 0h.6m0-.4h.6m.1 .6h.6m13.8-.1h.6m-41.5 .3h.6m4.1 .4h.6m-.5 .1h.6m1.1-.1h.6m.6-.1h.6m0-.4h.6m.4 .1h.6m-.3 .2h.6m.2-.2h.6m.7 .4h.6m-.5-.4h.6m1.6 .3h.6m-.3-.1h.6m-.4 .2h.6m.2-.1h.6m-.6 .5h.6m-.5-.7h.6m-.4 .4h.6m-.6-.6h.6m-.6 .9h.6m-.5-.3h.6m-.1-.5h.6m-.4 .2h.6m-.5 0h.6m-.5 0h.6m-.5 .4h.6m-.5 .1h.6m.2-.2h.6m1-.3h.6m-.4 .3h.6m-.5 0h.6m-.6 .2h.6m-.5-.1h.6m-.2-.4h.6m.4 .4h.6m-.3-.8h.6m.5 1h.6m-23.3 .3h.6m9.3 .5h.6m-.2-.2h.6m.4 .2h.6m.7-.6h.6m-.4 .1h.6m-.4-.2h.6m-.4 .8h.6m-.5-.3h.6m.2 .2h.6m0-.4h.6m-.2 0h.6m.1-.3h.6m-.5 .4h.6m-.5 .1h.6m1.8 .1h.6m-.2-.3h.6m.3 .2h.6m-.5 .1h.6m-.2-.4h.6m3.4 .4h.6m2.7 0h.6m-24 1.2h.6m2.7-.2h.6m-.4-.6h.6m1.7 .5h.6m1 0h.6m-.4 .3h.6m-.4-.7h.6m-.3 .3h.6m-.2-.3h.6m-.5 .6h.6m.1-.3h.6m-.6 .2h.6m-.1-.4h.6m-.1 .4h.6m-.2-.4h.6m.9 .4h.6m0-.2h.6m.3 .1h.6m-.3 .1h.6m-.3 .2h.6m-.1-.7h.6m-.2 0h.6m-.4 .2h.6m1 .4h.6m1.2-.3h.6m2.8 .2h.6m4 0h.6m-21.8 .3h.6m-.1 0h.6m1.3 .6h.6m-.3 .4h.6m.2-.2h.6m.2-.3h.6m-.4-.4h.6m2.3 .9h.6m-.6-.2h.6m-.3-.6h.6m1.5 .6h.6m-.5-.2h.6m-.1-.3h.6m-.2 .2h.6m.7-.2h.6m0 .1h.6m-.6-.2h.6m2.1 0h.6m.1 .1h.6m-19.6 .8h.6m2.6 0h.6m1.2 .2h.6m.1 .3h.6m.4 0h.6m0-.5h.6m-.3 .3h.6m-.2 .4h.6m-.4 .1h.6m-.5-.3h.6m-.2-.1h.6m-.3-.3h.6m0 .1h.6m-.3 .3h.6m0 0h.6m-.3 .3h.6m.9-.6h.6m-.6-.2h.6m.1 .5h.6m.1 .2h.6m.1-.2h.6m.8-.5h.6m.5 .1h.6m.2 .8h.6m-.1-.1h.6m0-.1h.6m33.2-.7h.6m-45.4 1h.6m.7 .4h.6m-.5 .5h.6m-.2-.1h.6m-.2-.2h.6m-.2-.6h.6m.4 .1h.6m1.6-.2h.6m-.5 .6h.6m-.2-.4h.6m1.5 0h.6m.7 .4h.6m16.3-.6h.6m18.5 .1h.6m-55.5 1.4h.6m4.8-.1h.6m.2-.1h.6m-.1 .3h.6m.7-.5h.6m.3 .1h.6m.6 .6h.6m-5 1h.6m-.6-.8h.6m2.9 .8h.6m2.5 .6h.6m.1 .5h.6m39.7-.1h.6m.7 0h.6m-.6 .2h.6m-41.9 .4h.6m10.3 1.3h.6m23 .1h.6m-.4 0h.6m5.4-.5h.6m-.5 .1h.6m5.6 0h.6m20.8 .3h.6m-30.1 .4h.6m1.7 .1h.6m-.6-.1h.6m-27.1 1h.6m23 .7h.6m.3-.6h.6m-57.4 1.8h.6m53.3-.5h.6m-2 .9h.6m2.4-.1h.6m3 .4h.6m-8.3 .8h.6m3.5 .1h.6m1.1-.6h.6m-3.8 1.7h.6m-.6-.4h.6m.2 .1h.6m.1-.4h.6m-.1 .8h.6m1.4-.6h.6m.9 0h.6m1.7 .6h.6m-9.9 1.1h.6m2.1-.6h.6m1.3 .5h.6m-.2-.3h.6m1.8 .5h.6m-.4-1h.6m.7 .5h.6m-10.4 .9h.6m.8-.4h.6m-.2 .2h.6m.5 0h.6m.1 .4h.6m.8 .3h.6m-.5-.6h.6m-.4 .3h.6m.9-.3h.6m-.3-.2h.6m-.4 .4h.6m-.3 .1h.6m-.1-.1h.6m-.5-.1h.6m.9 .5h.6m-9.4 .8h.6m.4-.3h.6m.4-.3h.6m.7 0h.6m-.5 .8h.6m1.3-.7h.6m-.6 .4h.6m-.1-.2h.6m.6 .1h.6m-.6 .3h.6m-.4-.2h.6m.9-.1h.6m.2-.1h.6m-63.9 .6h.6m54.9 .9h.6m1.4 .1h.6m0-1h.6m-.6 1h.6m-.5 0h.6m-.4-.3h.6m.2-.5h.6m.8 .1h.6m-.2 .1h.6m-.2-.2h.6m3.1 .2h.6m-9.2 1.1h.6m-.1-.1h.6m.3-.4h.6m-.5 .3h.6m-.5 .5h.6m-.1-.3h.6m.3 .4h.6m.2-.9h.6m-.5 0h.6m0 1h.6m.7-.6h.6m-.3-.3h.6m-.5 .7h.6m1.6-.1h.6m-11.2 1.2h.6m-.5-.8h.6m.5 .7h.6m-.5-.1h.6m0-.3h.6m-.5 .2h.6m-.5 .1h.6m1-.5h.6m.2 .3h.6m-.1 .2h.6m-.4-.3h.6m-.3 .2h.6m-.6-.2h.6m.4-.3h.6m2.5 .5h.6m-12.8 .7h.6m1.2 0h.6m1.9 .3h.6m-.1-.4h.6m-.4 .6h.6m-.3-.7h.6m.2 .6h.6m1.2-.1h.6m-.2-.2h.6m-.3 .4h.6m1.7-.6h.6m-.6 .2h.6m.4-.3h.6m1 .2h.6m1 .4h.6m-12.6 1h.6m-.4-.3h.6m0-.2h.6m.3 .3h.6m.7 .4h.6m-.3-.2h.6m-.6 .1h.6m-.2-.1h.6m-.6-.2h.6m-.5-.3h.6m-.1 .3h.6m-.4-.3h.6m-.6 0h.6m.9 .5h.6m-.4-.5h.6m-.2 0h.6m-.5 .2h.6m.3 0h.6m1.7-.3h.6m-.5 .2h.6m-55.9 .9h.6m43.1 .1h.6m3.1 .5h.6m.8 .1h.6m-.5-.2h.6m-.3-.6h.6m-.2 .7h.6m-.4-.3h.6m-.5 .3h.6m-.2-.7h.6m-.4 .6h.6m-.2-.5h.6m1 .2h.6m-.5 .5h.6m.1-.8h.6m2.9 .8h.6m8.9 0h.6m-21.1 1.1h.6m.4-.9h.6m-.2 .3h.6m.2-.1h.6m-.4 .5h.6m-.5 .1h.6m-.5 0h.6m-.5-.3h.6m-.1 0h.6m-.2-.3h.6m-.4 .5h.6m-.5 .1h.6m-.5-.4h.6m-.2 .5h.6m-.5-.6h.6m-.2 .6h.6m-.3-.6h.6m-.6 .6h.6m-.4-.3h.6m.1-.1h.6m0 .2h.6m-.5-.4h.6m-.5 0h.6m.5 .3h.6m1.5-.4h.6m.7 .4h.6m-11.5 .7h.6m.2-.1h.6m-.2-.1h.6m-.5 .5h.6m-.4 .1h.6m.8 .1h.6m-.3-.1h.6m-.5-.4h.6m.7 .5h.6m.2 0h.6m.4-.1h.6m.6 .1h.6m-7.7 .6h.6m.1 .2h.6m-.4-.1h.6m-.2-.3h.6m-.1-.2h.6m-.5 .5h.6m-.3 .4h.6m0-.8h.6m-.4 .1h.6m-.6 .6h.6m-.5-.7h.6m-.5 0h.6m.1 .5h.6m.1-.2h.6m0 0h.6m.7 .5h.6m.8-.1h.6m14.1-.4h.6m-49.1 .7h.6m24.3 .4h.6m-.6-.2h.6m.3 0h.6m1-.1h.6m-.1 0h.6m-.1 .7h.6m.1-.6h.6m-.4-.2h.6m-.1 .2h.6m-.4 .2h.6m-.6-.2h.6m.7-.1h.6m-.3 .5h.6m-.5-.5h.6m2.5 0h.6m-11.3 1.1h.6m.4 .1h.6m.7-.3h.6m-.5 .7h.6m.6-.2h.6m-.5-.3h.6m-.3 .1h.6m-.5 .1h.6m.3 .4h.6m-.5-.9h.6m-.2 0h.6m-.1 .3h.6m-.2-.1h.6m-.2 .2h.6m1.5 0h.6m1-.2h.6m-.5 0h.6m-22.6 1.6h.6m6-.5h.6m7.6 .2h.6m-.3-.5h.6m-.1-.1h.6m-.5 .4h.6m-.4 .5h.6m-.5-.7h.6m0 0h.6m-.5 .5h.6m.8-.3h.6m-.2 .4h.6m.8-.5h.6m-58.8 1.4h.6m20-.4h.6m28.1 .4h.6m1.1 .2h.6m-.3-.5h.6m.1-.3h.6m.1 .3h.6m.5 .1h.6m-.6-.3h.6m-.4 .2h.6m.3 .1h.6m-.5 .1h.6m-.4-.1h.6m-.6 0h.6m-.5 .1h.6m-.6 .3h.6m-.3-.1h.6m-.3-.2h.6m.8-.2h.6m-.5 .2h.6m-.5-.2h.6m-.5 .5h.6m0-.4h.6m-.4-.4h.6m.4 .5h.6m-65.6 1.1h.6m54.3-.6h.6m.6 .8h.6m.2 0h.6m-.2-.5h.6m-.6-.4h.6m1 .2h.6m-.6 .4h.6m0 .4h.6m-.4-.1h.6m-.2 0h.6m-.2-.1h.6m-.5 .2h.6m-.4-.6h.6m-.5-.2h.6m1.1 .6h.6m0-.5h.6m.2-.2h.6m-.2 0h.6m2.1 .1h.6m-13.1 1.5h.6m1.3-.5h.6m.6 .3h.6m-.3-.2h.6m-.4 .5h.6m.5-.6h.6m-.3 .3h.6m-.2-.1h.6m.7-.1h.6m-.6 .2h.6m-.4 .4h.6m-.3-.2h.6m-.5-.4h.6m.3 .6h.6m-.3-.2h.6m-.5-.5h.6m-.3 .6h.6m.6-.1h.6m-.4 .3h.6m-.3-.6h.6m-28.1 .8h.6m17 .7h.6m-.4-.1h.6m0-.4h.6m.5 0h.6m.5-.4h.6m.9 .9h.6m.3-.9h.6m1.3 .1h.6m1.4 .7h.6m-31.6 .9h.6m22.1 .3h.6m-.3-.1h.6m1.7-.3h.6m0-.1h.6m-.3 .3h.6m1.2-.7h.6m-.2 0h.6m-.5 .2h.6m.3 .3h.6m-.5-.1h.6m-.5-.1h.6m-48.1 1h.6m37-.3h.6m1.6 0h.6m.1-.1h.6m1.3 .9h.6m-.2-.2h.6m-.4-.2h.6m-.6 .3h.6m-.1-.1h.6m0-.1h.6m-.6 .2h.6m-.3-.1h.6m.1-.7h.6m-.3 .5h.6m-.3 .2h.6m.2 .2h.6m-8.2 .8h.6m.2 .3h.6m-.5-.5h.6m-.5 0h.6m1.3-.2h.6m.4 .5h.6m.2-.2h.6m.1 .2h.6m0-.4h.6m-.1 .3h.6m.9 .2h.6m1 0h.6m.4-.9h.6m2.6 .2h.6m-15.1 1.2h.6m1.5 .2h.6m.7-.2h.6m.7 .4h.6m.6 .1h.6m1.2 0h.6m.1-.1h.6m-.5-.2h.6m1.8 .3h.6m-.5-.7h.6m.3 .6h.6m.2-.4h.6m.7-.2h.6m-35.7 1.1h.6m21.8 .1h.6m-.3-.4h.6m.3 1h.6m0 0h.6m-.1-.6h.6m.6 .2h.6m-.1 0h.6m-.3 .4h.6m-.3 0h.6m1.7-.1h.6m.2-.2h.6m-.3-.6h.6m.9 .7h.6m-.2-.7h.6m-34.7 1.6h.6m23-.7h.6m-.2 .9h.6m2.8-.1h.6m-.6-.3h.6m.3-.1h.6m-.1 .5h.6m.5-.3h.6m-.2-.2h.6m.1-.3h.6m-.2 .2h.6m-.6 .1h.6m2 .1h.6m-.3 .1h.6m-.5-.3h.6m-.4-.2h.6m-42.2 1.1h.6m.8 .2h.6m3.4 .4h.6m1.7-.1h.6m-.3 .1h.6m-.5 .1h.6m-.1-.1h.6m-.4-.6h.6m2.2 .4h.6m5.9-.2h.6m5.7-.2h.6m6.2 .2h.6m-.4-.3h.6m-.2 .6h.6m.8-.3h.6m-.4-.4h.6m-.2 .5h.6m.2-.3h.6m.7 .2h.6m-.5-.3h.6m-.2 .6h.6m-.1-.2h.6m-.6-.4h.6m-.4 .8h.6m-.3-.6h.6m-.3-.1h.6m-.3 .6h.6m1 .1h.6m-.4-.5h.6m-42.8 .8h.6m1.9 .4h.6m4.1-.3h.6m-.5 .3h.6m-.4 .2h.6m1.2 0h.6m-.2-.5h.6m.6 .4h.6m5.3 0h.6m14.4-.3h.6m2.5 .2h.6m-.4 .1h.6m-.5-.2h.6m.7 .1h.6m.2 .2h.6m0-.3h.6m-.4 0h.6m-.1 .2h.6m0-.1h.6m-.4 .1h.6m-.5-.3h.6m-.6 .2h.6m-.4-.2h.6m.3 .2h.6m-.3-.3h.6m-.1 .1h.6m-.2 .2h.6m6.4 .1h.6m1.7-.3h.6m8.2 .2h.6m-61.6 1.4h.6m.7-.7h.6m4.7 .2h.6m1.4 0h.6m-.3 .5h.6m-.6-.7h.6m-.1-.3h.6m-.6 .7h.6m-.6-.3h.6m-.5-.2h.6m-.4 .4h.6m-.3-.4h.6m1.1 .2h.6m.1 .1h.6m.1 .1h.6m.3-.5h.6m.6 .2h.6m.4 .4h.6m.7-.6h.6m-.4 .1h.6m13.2 .5h.6m.4-.6h.6m-.3 0h.6m.6 .5h.6m1.4 0h.6m-.2 .1h.6m-.6 .3h.6m1-.3h.6m0-.1h.6m-.5-.4h.6m-.5 .3h.6m-.2 .2h.6m-.5 .1h.6m-.6-.3h.6m-.4-.1h.6m-.5 .3h.6m.2-.5h.6m.2 .5h.6m-.5-.3h.6m.1 .3h.6m-.5-.4h.6m-.4-.3h.6m-.3 0h.6m-.1 .7h.6m.8-.5h.6m.3 .1h.6m2-.2h.6m1.7 .3h.6m-54.3 1.2h.6m2.9-.1h.6m1.7 .3h.6m1.9 .2h.6m-.6-.2h.6m-.5-.1h.6m.3-.3h.6m-.6 .5h.6m.6-.4h.6m.3 .3h.6m-.4-.4h.6m-.3 .6h.6m-.5 0h.6m-.5-.5h.6m-.2 .2h.6m-.6-.2h.6m-.3 .3h.6m.8-.3h.6m-.6 .2h.6m-.2 .2h.6m-.5-.4h.6m.2-.5h.6m-.5 .7h.6m.2 0h.6m-.6-.1h.6m-.5-.3h.6m.6 .5h.6m-.4 .1h.6m-.3-.4h.6m-.3 .2h.6m6 0h.6m7.1-.1h.6m1.6-.3h.6m-.4 .6h.6m.3-.5h.6m-.5 .3h.6m-.6-.5h.6m1.6 .4h.6m-.3-.3h.6m-.3 0h.6m-.4 .1h.6m-.4 .1h.6m-.5 .3h.6m-.4-.1h.6m-.4-.7h.6m-.4 .7h.6m.1-.1h.6m-.2 .1h.6m-.5 .1h.6m-.3-.4h.6m-.5 .2h.6m-.5 .2h.6m-.2 0h.6m-.5-.1h.6m-.5 .3h.6m-.1-.4h.6m-.5 0h.6m-.4-.6h.6m.5 .9h.6m-.2 0h.6m-.3-.4h.6m-.5-.2h.6m-.5 .1h.6m-.4 .5h.6m-.6-.3h.6m-.1-.1h.6m-.4 .3h.6m.5 .1h.6m-.1-.9h.6m-.2 .5h.6m1.5 .3h.6m.3-.5h.6m-.4-.2h.6m1.3 0h.6m.5 .7h.6m-53.5 .7h.6m.8 .3h.6m2.9-.7h.6m.4-.1h.6m.5 1h.6m-.4 0h.6m-.5-.4h.6m-.4 .3h.6m-.5-.8h.6m0 .1h.6m0 .2h.6m.7 .3h.6m-.5-.1h.6m-.4-.2h.6m-.6 .3h.6m-.5-.6h.6m-.5 .7h.6m-.3-.6h.6m-.3-.2h.6m-.3 .7h.6m-.6 .1h.6m-.4 .1h.6m-.6-.2h.6m.2 .2h.6m-.6-.1h.6m-.4 .1h.6m-.5-.8h.6m-.3 0h.6m-.3 .6h.6m-.2 0h.6m-.4-.7h.6m-.4 .9h.6m-.6 0h.6m-.2-.5h.6m-.5-.2h.6m-.3 .2h.6m-.6 .1h.6m-.4 .2h.6m-.1-.5h.6m-.5 .3h.6m-.2 .1h.6m.3-.2h.6m-.3 .2h.6m-.3-.2h.6m1.8-.2h.6m11-.2h.6m.4 .2h.6m.3 .6h.6m2.5-.1h.6m-.4-.6h.6m-.1 .5h.6m-.2-.1h.6m-.5-.3h.6m.5-.1h.6m-.5 .2h.6m-.4 .7h.6m.6-.4h.6m-.4 .2h.6m-.4 0h.6m.3-.3h.6m-.1 .4h.6m-.5-.7h.6m-.6 .6h.6m-.4 0h.6m-.2-.1h.6m-.3-.2h.6m-.5 .4h.6m-.5-.5h.6m-.5-.2h.6m-.6 0h.6m-.5 .1h.6m-.4 .3h.6m.2 .4h.6m-.2-.2h.6m-.3-.1h.6m.3-.7h.6m0 .4h.6m2.1-.2h.6m-.5 .6h.6m-.5-.6h.6m-.4 .6h.6m1.2-.2h.6m.3 .2h.6m-64 1.1h.6m1.4-.8h.6m6.2 0h.6m2.2 .5h.6m2.4-.1h.6m-.4 .3h.6m.2-.1h.6m-.6 .3h.6m-.6-.2h.6m-.3-.5h.6m-.5 .6h.6m1-.6h.6m-.3 0h.6m-.6 .1h.6m-.6 .2h.6m-.5 .1h.6m-.5-.3h.6m-.2-.1h.6m-.5-.2h.6m-.5 .6h.6m-.1-.5h.6m-.4 .7h.6m-.4 0h.6m-.4 0h.6m-.5-.1h.6m-.5-.1h.6m-.5 .1h.6m-.5 0h.6m-.5 0h.6m-.6-.4h.6m-.6 .3h.6m-.6-.2h.6m-.5-.3h.6m-.5 .2h.6m-.5 0h.6m-.6 .5h.6m-.5-.4h.6m-.6 0h.6m-.6-.2h.6m0 .3h.6m-.3 0h.6m-.5 .4h.6m0-.4h.6m-.6 .3h.6m-.1-.5h.6m-.5-.2h.6m0 0h.6m-.4-.1h.6m-.6 .9h.6m-.5-.4h.6m-.5-.4h.6m-.4-.2h.6m-.6 .3h.6m-.1-.1h.6m-.5 .1h.6m-.4 .4h.6m-.4-.1h.6m-.6-.6h.6m-.5 1h.6m-.1-.7h.6m-.5 .6h.6m-.2 .1h.6m-.5-.5h.6m-.6 .1h.6m-.5-.5h.6m-.5 .5h.6m-.6 0h.6m-.5 0h.6m-.6-.2h.6m-.2 .2h.6m-.1-.1h.6m-.5 .4h.6m-.4 0h.6m-.6-.1h.6m-.4-.6h.6m-.6 .8h.6m-.3-.5h.6m-.5 .4h.6m.1-.4h.6m2 0h.6m-.5 .2h.6m10.6 0h.6m1.4-.6h.6m.6 .4h.6m-.4-.4h.6m-.4-.1h.6m-.5 .7h.6m.3 0h.6m-.5 0h.6m-.1 .3h.6m-.4 0h.6m-.3-.7h.6m-.1-.1h.6m-.6 .1h.6m-.1 .1h.6m-.3 .2h.6m-.6-.4h.6m-.3 .7h.6m-.6-.6h.6m-.4 .6h.6m-.2-.8h.6m-.5 .3h.6m-.1 .4h.6m-.6-.6h.6m-.6 .4h.6m-.4 .4h.6m-.1-.3h.6m-.5-.4h.6m-.4-.1h.6m-.1 .5h.6m-.6-.4h.6m-.6 .4h.6m-.5-.1h.6m-.4 .3h.6m-.4-.1h.6m-.5-.5h.6m-.4 .7h.6m-.3-.2h.6m-.5-.6h.6m-.5 0h.6m-.6-.2h.6m-.4 .9h.6m-.5-.2h.6m-.6 .2h.6m.3 0h.6m-.2 0h.6m-.2 0h.6m.2 .1h.6m-.1-.1h.6m-.1-.6h.6m-.5 .6h.6m-.5-.9h.6m-.4 .6h.6m-.2 .1h.6m.2-.3h.6m.3 .1h.6m-64.6 .9h.6m12.1 .5h.6m1.3-.5h.6m.7 .4h.6m-.2-.1h.6m-.4-.3h.6m-.4 .3h.6m-.1-.6h.6m1.1 .7h.6m-.6-.1h.6m-.2 .2h.6m-.6-.6h.6m.4 .2h.6m-.2-.5h.6m-.5 0h.6m-.6 .4h.6m-.5-.3h.6m-.4 .8h.6m-.5-.6h.6m-.5 .2h.6m-.3-.2h.6m-.5 0h.6m-.5 .4h.6m-.4-.3h.6m-.5 .6h.6m-.2-.7h.6m-.6 .1h.6m-.3 .1h.6m-.6 .4h.6m-.4-.9h.6m-.5 .8h.6m-.5-.2h.6m-.3-.3h.6m-.6 0h.6m0 .4h.6m-.6-.4h.6m-.6 .2h.6m-.5-.1h.6m-.4 .2h.6m-.5-.4h.6m-.4 .7h.6m-.5-.1h.6m-.4 0h.6m-.4-.1h.6m-.6 .2h.6m-.6-.8h.6m-.4 .8h.6m-.6-.2h.6m-.5 .1h.6m-.5-.3h.6m-.4 .3h.6m-.5 .1h.6m-.6 0h.6m-.5-.1h.6m-.5-.7h.6m-.4 0h.6m-.6 .6h.6m-.4-.3h.6m-.6-.3h.6m-.5 0h.6m-.3 .3h.6m-.6 .5h.6m-.5-.5h.6m-.4 .6h.6m-.4-.2h.6m-.5 .1h.6m-.3 .1h.6m-.5-.9h.6m-.5 .9h.6m-.6-.8h.6m-.3 .7h.6m0-.6h.6m-.5 0h.6m0-.1h.6m-.4 .6h.6m-.5 0h.6m0-.7h.6m-.5 0h.6m-.1 .2h.6m-.1 0h.6m-.4 0h.6m1.3 .1h.6m-.5-.3h.6m12 .7h.6m1.2-.1h.6m1.1-.1h.6m-.3-.1h.6m-.5 0h.6m-.2 0h.6m-.4-.4h.6m-.3 .5h.6m-.5 .2h.6m-.3-.3h.6m.1-.3h.6m-.5 .8h.6m-.6-.6h.6m-.5-.3h.6m-.3 .8h.6m-.6 .1h.6m0-.5h.6m-.5-.2h.6m-.6 .1h.6m.1 .5h.6m-.5-.7h.6m-.5 .2h.6m-.6 0h.6m-.6-.1h.6m-.4 .6h.6m-.6-.1h.6m-.6 0h.6m-.4-.7h.6m-.6 0h.6m-.5 .8h.6m-.5-.5h.6m-.6 .5h.6m-.5-.7h.6m-.5 .4h.6m.1 .4h.6m-.6 0h.6m-.5-.5h.6m-.6 .1h.6m-.4-.1h.6m-.5-.1h.6m-.3 0h.6m-.6-.3h.6m-.6 .8h.6m-.5-.3h.6m-.5-.2h.6m-.5 0h.6m-.1 .2h.6m-.5-.4h.6m-.2 .7h.6m-.5-.4h.6m-.5 .3h.6m-.5 .1h.6m-.5-.1h.6m-.5 .1h.6m-.3-.9h.6m-.5 .2h.6m-.4 .5h.6m-.5-.3h.6m0 .2h.6m-.6 .2h.6m-.3-.3h.6m-.6 .5h.6m-.1-.2h.6m-.4-.4h.6m-.4-.2h.6m1 .1h.6m.3 .4h.6m-.6 .2h.6m.6 0h.6m-.4-.2h.6m-65.8 1.2h.6m-.4-.5h.6m1.4-.3h.6m-.6 .4h.6m5.4-.2h.6m-.4 .6h.6m1.8-.1h.6m.6-.7h.6m-.6 .2h.6m1.3 .5h.6m-.1-.7h.6m.8 .2h.6m0 .6h.6m-.2 0h.6m-.3-.8h.6m-.4 .9h.6m-.4-1h.6m-.2 .2h.6m0 .6h.6m-.1-.5h.6m-.2 .4h.6m-.6 .2h.6m-.6-.6h.6m-.4 .7h.6m-.5-.2h.6m-.6-.1h.6m-.3-.7h.6m-.5 .5h.6m-.5 .3h.6m-.6-.2h.6m-.5 0h.6m-.4-.2h.6m-.5 .1h.6m-.3 .5h.6m-.5-.2h.6m-.4-.3h.6m-.6-.4h.6m-.4 .6h.6m-.5 0h.6m-.5-.1h.6m-.4-.4h.6m-.5 .2h.6m-.5 .2h.6m-.6-.2h.6m-.5 .4h.6m-.5-.4h.6m-.5-.3h.6m-.5 0h.6m-.6-.1h.6m-.6 .6h.6m-.4 .4h.6m-.4-.2h.6m-.6-.7h.6m-.5 .7h.6m-.5 0h.6m-.6-.4h.6m-.6 .2h.6m-.2-.6h.6m-.5 .6h.6m-.6 0h.6m-.5-.5h.6m-.5 .8h.6m-.5-.7h.6m-.4 0h.6m-.4 .2h.6m-.6 0h.6m-.5 .1h.6m-.6-.1h.6m-.2 .3h.6m-.6 .1h.6m-.6-.4h.6m-.3 .4h.6m-.6-.8h.6m-.4 .8h.6m-.5-.4h.6m-.5 .3h.6m-.6-.6h.6m-.5 .5h.6m-.6-.2h.6m-.4-.2h.6m-.6 .5h.6m-.5 .1h.6m-.6-.7h.6m-.4 .5h.6m-.5 .1h.6m-.5-.1h.6m-.5 .2h.6m-.5 0h.6m-.5 0h.6m-.3 .1h.6m-.6-.7h.6m-.5 .7h.6m-.6-.3h.6m-.6-.4h.6m-.5 .1h.6m-.5 .3h.6m-.4 .1h.6m-.6-.7h.6m-.6 .9h.6m-.4-.4h.6m-.4-.1h.6m-.6 .3h.6m-.4-.4h.6m-.5 0h.6m-.4-.2h.6m-.6 0h.6m-.6 .4h.6m-.5 .1h.6m-.3-.1h.6m-.6-.3h.6m-.5 .7h.6m-.5-.7h.6m-.5 .6h.6m-.5-.5h.6m-.6 .6h.6m-.5-.4h.6m-.5-.3h.6m-.4 .6h.6m-.6-.1h.6m-.4-.1h.6m-.5 .2h.6m-.6 0h.6m-.3-.2h.6m-.6-.1h.6m-.4-.1h.6m-.6 .1h.6m.3 .5h.6m-.1-.7h.6m-.5 .4h.6m-.6 .3h.6m-.5-.4h.6m.4-.3h.6m-.6 .5h.6m1.4 .1h.6m-.3-.5h.6m.1 .2h.6m5.3-.5h.6m5.4 .7h.6m-.2-.7h.6m.2 .3h.6m.9 0h.6m-.4-.3h.6m-.4 .8h.6m-.5-.6h.6m-.5 .7h.6m.1-.8h.6m-.5 .2h.6m-.5-.3h.6m-.2 .1h.6m-.5 .3h.6m-.6-.3h.6m.2 .7h.6m-.4-.4h.6m-.5-.1h.6m-.5 .5h.6m-.5-.2h.6m-.5-.4h.6m-.4 .5h.6m-.5-.8h.6m-.6 .9h.6m-.5-.1h.6m-.6-.1h.6m-.5-.6h.6m-.5 0h.6m-.6 .5h.6m-.6 .1h.6m-.4-.2h.6m-.6-.2h.6m-.5 .1h.6m-.6 .1h.6m-.4 .3h.6m-.5-.6h.6m-.5-.2h.6m-.6 .9h.6m-.3-.5h.6m-.4 .5h.6m-.1-.1h.6m-.5-.8h.6m-.3 .6h.6m-.5-.2h.6m-.5 .4h.6m-.6 .1h.6m-.3-.7h.6m-.4 .7h.6m-.6-.3h.6m-.5-.2h.6m-.6 .3h.6m-.5-.7h.6m-.6 .2h.6m-.5 .5h.6m-.1 .2h.6m-.6-.4h.6m-.6-.4h.6m-.5 .2h.6m-.6 .6h.6m-.6-.5h.6m-.6 .1h.6m-.4-.1h.6m-.5 .3h.6m-.4 0h.6m-.5-.2h.6m-.6-.3h.6m-.4-.1h.6m-.5 .4h.6m-.5 .4h.6m-.5-.5h.6m-.6-.3h.6m-.5 .1h.6m-.5-.1h.6m-.4 .5h.6m-.5-.1h.6m-.2-.2h.6m-.4 .5h.6m-.5-.6h.6m-.4 .8h.6m-.2-.4h.6m-.3 .1h.6m-.3 .2h.6m-.4-.6h.6m-.6 .7h.6m-.3-.4h.6m-.5-.1h.6m.1 .1h.6m-.6 .4h.6m.2-.7h.6m-.4-.2h.6m-64 1.1h.6m.1 .2h.6m2.3 .5h.6m-.4-.6h.6m.2 .6h.6m2.2-.3h.6m.9-.3h.6m2.2-.1h.6m-.5 0h.6m.3 .5h.6m-.2-.1h.6m-.6 0h.6m.3 .1h.6m.9-.2h.6m0 .2h.6m-.3-.5h.6m-.5 .7h.6m-.4-.8h.6m.2-.1h.6m.2 .3h.6m-.5-.2h.6m-.5 .7h.6m-.6-.4h.6m-.5-.2h.6m-.4 .3h.6m-.6-.2h.6m-.6 .5h.6m-.4 .1h.6m-.5-.6h.6m-.2-.3h.6m-.5 .8h.6m-.5-.6h.6m-.4 .2h.6m-.6-.2h.6m-.5 0h.6m-.6 .2h.6m-.5 .1h.6m-.4 .1h.6m-.5 .3h.6m-.6 0h.6m-.4-.1h.6m-.6-.4h.6m-.2-.2h.6m-.6 .1h.6m-.4-.1h.6m-.6 0h.6m-.4 .1h.6m-.6-.1h.6m-.5 .1h.6m-.6 .2h.6m-.4 .1h.6m-.5 0h.6m-.4-.2h.6m-.5 .5h.6m-.6 0h.6m-.6-.4h.6m-.3-.2h.6m-.5 .6h.6m-.6-.3h.6m-.6-.3h.6m-.2 0h.6m-.6 0h.6m-.5-.2h.6m-.6 .7h.6m-.5 .1h.6m-.5-.3h.6m-.3-.4h.6m-.6 .1h.6m-.2-.1h.6m-.4 .1h.6m-.6 .3h.6m-.3-.1h.6m-.5-.3h.6m-.6 .7h.6m-.5-.2h.6m-.5-.7h.6m-.6 .2h.6m-.5 .4h.6m-.5 .3h.6m-.3-.2h.6m-.5-.5h.6m-.6 .3h.6m-.6-.4h.6m-.2 .4h.6m-.4 .2h.6m-.5-.6h.6m-.4 .2h.6m-.5 .2h.6m-.5 0h.6m-.5-.3h.6m-.6 .1h.6m-.6 0h.6m-.4 .6h.6m-.6 .1h.6m-.5-.3h.6m-.6 0h.6m-.4-.6h.6m-.6 .8h.6m-.4-.1h.6m-.5-.5h.6m-.6 .3h.6m-.4 .3h.6m-.6-.8h.6m-.4 .5h.6m-.4 0h.6m-.4 .1h.6m-.5 .1h.6m-.5-.2h.6m-.5 0h.6m-.6 0h.6m-.3-.4h.6m-.3 .7h.6m-.5-.4h.6m-.5-.5h.6m-.5 .6h.6m-.5 0h.6m0-.2h.6m.4 0h.6m.2-.1h.6m-.6 .4h.6m-.5 .2h.6m1-.9h.6m1.9 .3h.6m10.4 .7h.6m-.4-.4h.6m.3-.1h.6m0 .4h.6m-.3-.5h.6m-.5-.4h.6m-.2 .6h.6m-.2-.2h.6m1.4-.1h.6m-.3 .5h.6m.3-.4h.6m-.6 .2h.6m-.3 .2h.6m-.5 0h.6m-.6 .2h.6m-.5-.3h.6m-.5 0h.6m-.6-.7h.6m-.4 .8h.6m-.5-.6h.6m-.6 .6h.6m-.4-.3h.6m-.6-.2h.6m-.5 .2h.6m-.4 .2h.6m-.6 .3h.6m-.6-1h.6m-.2 .1h.6m-.4 .6h.6m-.6-.4h.6m-.4 .3h.6m-.5 0h.6m-.4 .1h.6m-.4 .1h.6m-.3-.5h.6m-.6 .4h.6m-.4-.7h.6m-.5 .4h.6m-.6 0h.6m-.5 .5h.6m-.5-.9h.6m-.6 .5h.6m-.5 .2h.6m-.4-.6h.6m-.6 .1h.6m-.5 .5h.6m-.4 .2h.6m-.2-.6h.6m-.5-.3h.6m-.4 .9h.6m-.5-.2h.6m-.5-.6h.6m-.3 .9h.6m-.6 0h.6m-.4-.1h.6m-.6-.5h.6m-.1-.1h.6m-.4 .3h.6m-.6 .2h.6m-.3-.3h.6m-.1 .3h.6m-.5-.5h.6m.3-.3h.6m-.5 .4h.6m0 .5h.6m-.4-.1h.6m.1 .1h.6m-.5-.1h.6m4.4 .1h.6m-71.1 .4h.6m5.5 .5h.6m.8-.3h.6m.4-.2h.6m-.1 .4h.6m.2-.1h.6m.4 .4h.6m.4-.2h.6m-.5-.8h.6m-.6 0h.6m1.1 0h.6m1.7 .4h.6m.6-.2h.6m-.4-.2h.6m0 .1h.6m-.4 .2h.6m1.4 .2h.6m-.4 .1h.6m-.4-.1h.6m-.3-.4h.6m0 .9h.6m-.6-.6h.6m-.1 0h.6m-.2-.1h.6m-.5 .6h.6m-.5-.5h.6m-.5 .1h.6m-.3-.1h.6m-.6 0h.6m-.5 .2h.6m-.6-.4h.6m-.5 .1h.6m-.4-.1h.6m-.5 .1h.6m-.5 .4h.6m-.5 .2h.6m.2-.1h.6m-.3-.5h.6m-.2 .1h.6m-.6 .4h.6m-.6-.7h.6m-.5 .6h.6m-.5 .3h.6m-.5-.7h.6m-.3-.1h.6m-.5 .5h.6m-.5-.1h.6m-.6 .1h.6m-.6-.2h.6m-.2 .1h.6m-.5-.1h.6m-.5 .2h.6m-.6-.1h.6m-.3-.3h.6m-.3 .1h.6m-.5-.2h.6m-.5 .7h.6m-.6 .1h.6m-.6-.2h.6m-.5 .1h.6m-.5-.1h.6m-.4 0h.6m-.4 0h.6m-.4-.3h.6m-.5-.1h.6m-.4 .4h.6m-.6-.4h.6m-.5-.3h.6m-.5 .8h.6m-.6-.9h.6m-.4 .9h.6m-.4-.1h.6m-.5-.5h.6m-.5 .7h.6m-.5-.2h.6m-.3-.7h.6m-.6-.1h.6m-.6 .5h.6m-.4 .1h.6m-.5 0h.6m-.4-.1h.6m-.6-.4h.6m-.5 .7h.6m-.5-.2h.6m-.4 .1h.6m-.3 .2h.6m-.5-.6h.6m-.3 .2h.6m-.4 0h.6m-.5 0h.6m-.2-.3h.6m-.5 .1h.6m-.3 .1h.6m-.5 .4h.6m-.5 .2h.6m-.4-.5h.6m1.1-.3h.6m-.4 .2h.6m14.4 .4h.6m-.5-.4h.6m1.2 .2h.6m1.4 .3h.6m-.6 0h.6m-.4-.2h.6m-.6-.5h.6m-.4 .3h.6m-.5 0h.6m-.4 0h.6m-.5 .2h.6m-.3-.2h.6m-.6 .2h.6m-.6 0h.6m-.6-.1h.6m-.5-.5h.6m-.6 0h.6m-.5 .8h.6m.1 .1h.6m-.5-.2h.6m-.4-.2h.6m-.5-.3h.6m-.5 .1h.6m-.5-.1h.6m-.5 .5h.6m-.6 .2h.6m-.5-.8h.6m-.6-.1h.6m-.5 .3h.6m-.6 .5h.6m-.6-.8h.6m-.5 .2h.6m-.5 0h.6m-.6-.1h.6m-.3 .2h.6m-.6-.2h.6m-.6-.1h.6m-.4 .8h.6m-.5 0h.6m-.5-.7h.6m-.3 0h.6m-.5-.2h.6m-.6 .4h.6m-.5 .3h.6m-.5-.1h.6m-.3-.4h.6m-.6-.1h.6m-.5 .1h.6m-.6 .5h.6m-.5-.5h.6m-.6 .3h.6m-.5 0h.6m-.5 .2h.6m-.6 .3h.6m-.6-.6h.6m-.5-.4h.6m-.6 .1h.6m-.5 .1h.6m-.5 0h.6m-.3 .6h.6m-.6 .2h.6m-.4-.9h.6m-.6 .4h.6m-.5-.5h.6m-.3 .5h.6m-.5-.4h.6m-.6 .5h.6m-.6-.4h.6m-.6 0h.6m-.5 0h.6m-.6 .7h.6m-.3-.1h.6m-.2-.7h.6m-.2 .6h.6m-.4-.1h.6m-.1 .2h.6m-.5-.5h.6m-.2-.3h.6m-.5 .2h.6m-.5 .5h.6m-.5 .3h.6m-.5-.7h.6m-.6 .6h.6m-.5-.4h.6m-.5 .4h.6m-.4-.6h.6m-.5-.1h.6m-.5-.2h.6m0 .3h.6m-.6 .2h.6m-.6-.1h.6m-.6-.3h.6m-.4 .2h.6m-.5-.1h.6m-.3 0h.6m-.4 .1h.6m.3-.3h.6m1.2 .4h.6m-.3 .3h.6m-.3-.5h.6m-.4-.1h.6m-66 1.2h.6m0 .5h.6m.2-.4h.6m.3 .5h.6m-.6-.1h.6m1.5-.2h.6m.5 .2h.6m-.4 .2h.6m-.2-.4h.6m-.2-.5h.6m.1 .5h.6m-.6-.1h.6m0 .2h.6m.1 0h.6m0 0h.6m-.2-.7h.6m0 .9h.6m1.8-.2h.6m-.4-.2h.6m-.3 .3h.6m-.5-.5h.6m-.6 .5h.6m-.4-.7h.6m-.2 0h.6m.5 .2h.6m0 .4h.6m-.3-.4h.6m-.4-.2h.6m.5 .5h.6m.1-.1h.6m.8 .5h.6m-.4-.7h.6m-.5-.1h.6m-.4-.2h.6m-.5 1h.6m-.6-.4h.6m-.5-.3h.6m-.5 0h.6m.1 .2h.6m-.3 .3h.6m-.5 .1h.6m-.5-.1h.6m-.3-.3h.6m-.6-.2h.6m-.6 .5h.6m-.5 .1h.6m0-.4h.6m-.6-.1h.6m-.6-.2h.6m-.5 .1h.6m-.6 .6h.6m-.6 0h.6m0-.6h.6m-.6 .5h.6m-.6 .2h.6m-.4-.3h.6m-.6-.6h.6m-.5 .5h.6m-.5 .1h.6m-.6 .2h.6m-.3-.5h.6m-.5 .1h.6m-.4 .2h.6m-.3 0h.6m-.6-.6h.6m-.4 .3h.6m-.3-.1h.6m-.3 0h.6m-.5 .6h.6m-.1-.9h.6m-.1 .6h.6m-.3 0h.6m-.4 .2h.6m-.5-.5h.6m-.5 .4h.6m-.4 .2h.6m-.5-.4h.6m-.6 .3h.6m-.4-.3h.6m-.5-.3h.6m-.1 .1h.6m-.4 0h.6m-.6 .2h.6m-.5 .2h.6m-.4-.3h.6m-.5 .6h.6m0-.9h.6m-.1 0h.6m.2 .7h.6m-.5-.7h.6m1.1 .2h.6m.3 .2h.6m13.3-.2h.6m-.6 .4h.6m1.2-.5h.6m0 .6h.6m.1-.8h.6m-.5 .3h.6m-.2 .5h.6m-.1-.3h.6m-.2-.2h.6m-.6-.1h.6m-.4 .5h.6m-.5 .1h.6m-.6-.7h.6m-.4 .3h.6m-.5 .1h.6m-.3 .4h.6m-.5-.3h.6m-.1-.5h.6m-.2 .9h.6m-.5-.8h.6m-.6 0h.6m-.3-.1h.6m-.5 .1h.6m-.5 0h.6m-.6 .5h.6m-.5 .3h.6m-.5-.7h.6m-.6 .5h.6m-.6-.5h.6m-.4 .4h.6m-.5 .1h.6m-.6-.3h.6m-.4-.5h.6m-.3 .6h.6m-.2-.5h.6m-.5 .4h.6m-.6-.5h.6m-.5 .3h.6m-.4 .1h.6m-.4 .2h.6m-.6-.3h.6m-.5-.3h.6m-.5 .6h.6m-.6 .2h.6m-.5-.3h.6m-.6 .3h.6m-.5 .1h.6m-.6-.7h.6m-.6 .1h.6m-.5 .5h.6m-.6-.7h.6m-.4 .9h.6m-.6-.8h.6m-.6 .4h.6m-.5-.4h.6m-.6 .5h.6m-.5-.7h.6m-.6 0h.6m-.5 0h.6m-.5 .2h.6m-.6 .7h.6m-.5-.4h.6m-.4-.3h.6m-.4 .5h.6m-.5-.3h.6m-.6 .6h.6m-.5-.8h.6m-.6 .3h.6m-.5 0h.6m-.5-.2h.6m-.4 .3h.6m-.5-.3h.6m-.6-.1h.6m-.6 .4h.6m-.5-.1h.6m-.6-.1h.6m-.3-.1h.6m-.2 0h.6m-.6 .2h.6m-.5 .1h.6m-.4-.3h.6m-.6-.1h.6m-.5 .4h.6m-.3-.3h.6m-.6 .1h.6m-.5 .1h.6m-.5 .3h.6m-.6-.5h.6m0 .4h.6m0 .1h.6m-.3 .1h.6m1.1-.7h.6m.8 .2h.6m0-.4h.6m-67.4 1.8h.6m.4-.7h.6m1.4 .1h.6m4.7-.2h.6m-.5 0h.6m.9 .9h.6m-.2 0h.6m-.1-.9h.6m.1 .6h.6m-.5-.2h.6m.6-.2h.6m.3-.1h.6m-.3 .3h.6m-.5 0h.6m-.3 0h.6m-.1 .3h.6m-.6 .1h.6m.2-.5h.6m-.5 .3h.6m-.5 .1h.6m-.5 0h.6m-.6-.1h.6m-.1-.6h.6m-.2 .3h.6m.3 .3h.6m-.3 .2h.6m-.6-.3h.6m-.4-.5h.6m-.3 .8h.6m-.6-.4h.6m-.3-.3h.6m-.6 .7h.6m-.3 0h.6m-.3 .1h.6m-.3-.4h.6m-.6 .4h.6m-.5-.3h.6m-.3-.5h.6m-.5-.1h.6m-.1 .9h.6m-.5-.6h.6m-.1 .6h.6m-.5-.5h.6m-.5-.2h.6m-.5 .1h.6m-.6-.1h.6m-.5 .7h.6m-.6-.1h.6m-.2 .1h.6m-.4-.8h.6m-.5 .3h.6m-.4 0h.6m-.3 .1h.6m-.6 0h.6m-.5 .3h.6m-.3-.7h.6m-.4 .7h.6m-.5-.3h.6m-.6 .4h.6m-.6-.1h.6m-.5 .2h.6m-.6-.2h.6m-.5-.7h.6m-.6 .1h.6m0 .8h.6m-.5-.4h.6m-.5-.1h.6m-.5-.3h.6m-.6 .8h.6m-.6-.6h.6m-.6 0h.6m-.5 .1h.6m-.5-.1h.6m-.5-.3h.6m-.5 .4h.6m-.6-.4h.6m-.4 .4h.6m-.5-.5h.6m-.1 .3h.6m-.4 .2h.6m-.5 0h.6m-.5-.2h.6m-.2 .2h.6m-.3-.1h.6m-.4 0h.6m-.6-.4h.6m-.3 .7h.6m0 .2h.6m.4 0h.6m-.5-.2h.6m-.1 .2h.6m.8-.2h.6m-.6-.1h.6m-.2-.4h.6m.7 .2h.6m-.6-.1h.6m.9 .6h.6m2.3-.5h.6m9.1 .2h.6m-.2-.4h.6m1 .4h.6m.3-.3h.6m-.5 0h.6m-.4 .4h.6m-.5-.2h.6m.3-.3h.6m-.2-.1h.6m-.3 .8h.6m-.6-.2h.6m-.6 0h.6m.1-.2h.6m-.3-.4h.6m-.5 .6h.6m-.5 0h.6m-.5-.2h.6m-.5-.5h.6m-.1 .6h.6m-.5 0h.6m-.6 .2h.6m-.6 .1h.6m-.5-.1h.6m-.4-.8h.6m-.6 .3h.6m-.4 .1h.6m-.5 0h.6m-.5 0h.6m-.5 0h.6m-.6-.3h.6m-.5 .7h.6m-.6-.3h.6m-.6 .4h.6m-.6 0h.6m-.5-.3h.6m-.6-.5h.6m-.5 .7h.6m-.5-.5h.6m-.3 .4h.6m-.6-.7h.6m-.6 .3h.6m-.6 .3h.6m-.5 .1h.6m-.5-.3h.6m-.4 .6h.6m-.4-.5h.6m-.5 0h.6m-.6-.3h.6m-.6 .1h.6m-.5-.3h.6m-.4 .8h.6m-.5-.3h.6m-.5 0h.6m-.6-.2h.6m-.5 .3h.6m-.6 .3h.6m-.5-.8h.6m-.4 0h.6m-.5 .2h.6m-.5-.2h.6m-.2 .6h.6m-.6-.1h.6m-.5-.2h.6m-.6 .5h.6m-.5 0h.6m-.5-.7h.6m-.5 .3h.6m-.5-.2h.6m-.5 .3h.6m-.6-.4h.6m-.6 0h.6m-.5 .7h.6m-.6-.9h.6m-.3 0h.6m-.6 1h.6m-.5-.1h.6m-.5-.5h.6m-.6 .3h.6m-.5-.5h.6m-.6 .8h.6m-.5-.9h.6m-.6 .8h.6m-.4 0h.6m-.5-.9h.6m-.5 .2h.6m-.5 .7h.6m-.5-.9h.6m-.6 .5h.6m-.4-.1h.6m-.6 .2h.6m-.5 .4h.6m-.5-.9h.6m-.6 .6h.6m-.3-.3h.6m-.6 .5h.6m-.5-.7h.6m-.6 .2h.6m-.5 0h.6m-.4 .2h.6m-.3-.4h.6m-.5 .4h.6m-.5-.1h.6m-.6-.3h.6m-.3 .4h.6m-.6-.2h.6m-.2 0h.6m-.6 .6h.6m-.6-.8h.6m-.5 .1h.6m-.5-.3h.6m-.4 .6h.6m-.6-.3h.6m-.5-.2h.6m-.2 .2h.6m.4-.3h.6m-.5 .5h.6m-.6 .5h.6m-.5-.7h.6m-.6 .7h.6m-.5 0h.6m-.5 0h.6m.2-.6h.6m-.3 .4h.6m.3-.3h.6m1.9-.4h.6m-67.3 1.1h.6m.4 .6h.6m.5 0h.6m-.2-.8h.6m.2 .9h.6m0 0h.6m2.6-.7h.6m.8 .3h.6m-.1-.5h.6m-.4 0h.6m.3 .2h.6m-.5 .2h.6m-.2-.3h.6m-.5 .1h.6m-.4 0h.6m-.6 .1h.6m-.3 .3h.6m.6 .4h.6m-.4-.3h.6m.3-.7h.6m-.2 .2h.6m-.1 .6h.6m-.2-.4h.6m.4-.2h.6m-.5 .1h.6m.3 .1h.6m-.5 0h.6m-.4 .5h.6m.8-.4h.6m-.2-.4h.6m-.3-.1h.6m-.5 .1h.6m-.5-.1h.6m-.5 .4h.6m-.2 .1h.6m-.1 .2h.6m-.6 .3h.6m0-.9h.6m-.3 .1h.6m0 .7h.6m-.3-.1h.6m-.5 .1h.6m0-.8h.6m-.2 0h.6m-.1 .5h.6m-.5-.2h.6m-.4 .1h.6m-.4-.3h.6m-.5-.2h.6m.2 .6h.6m-.5-.2h.6m-.5 .3h.6m-.5-.4h.6m-.5 .6h.6m-.6-.7h.6m.9 .2h.6m0-.3h.6m-.1 .5h.6m.2-.5h.6m-.2 .2h.6m.3 0h.6m1.1 0h.6m.6 .4h.6m12.5-.1h.6m1.7 0h.6m-.5 0h.6m-.4 0h.6m-.3-.3h.6m-.5 0h.6m-.4 .2h.6m-.5-.2h.6m-.2 .2h.6m-.1 .4h.6m-.6-.8h.6m-.4 .6h.6m-.4-.6h.6m-.6 .4h.6m-.3 .4h.6m-.5-.8h.6m-.6 0h.6m-.6 .2h.6m-.6 .7h.6m-.5-.4h.6m-.6 .3h.6m-.5-.8h.6m-.6 .9h.6m-.6-1h.6m-.4 .8h.6m-.5-.7h.6m-.5 0h.6m-.4 .1h.6m-.5 .5h.6m-.3-.5h.6m-.5 .3h.6m-.6 .3h.6m-.5 0h.6m-.5-.4h.6m-.5 .4h.6m-.5-.2h.6m-.6 .2h.6m-.4-.1h.6m-.4-.2h.6m-.4-.2h.6m-.6 0h.6m-.5 .7h.6m-.5-.7h.6m-.4 .3h.6m-.4 .4h.6m-.6-.4h.6m-.5-.3h.6m-.6-.2h.6m-.4 .1h.6m-.5 .1h.6m-.6-.3h.6m-.5 .4h.6m-.5 0h.6m-.6 .6h.6m-.4-.5h.6m-.5-.4h.6m-.6 .8h.6m-.5-.3h.6m-.2-.1h.6m-.6 0h.6m-.5 .1h.6m-.6 0h.6m-.5-.2h.6m-.6-.1h.6m-.6-.3h.6m-.5 .1h.6m-.5 0h.6m-.6 .7h.6m-.6-.3h.6m-.6-.2h.6m-.6 .1h.6m-.5 .1h.6m-.4-.1h.6m-.6 .1h.6m-.6 .4h.6m-.5-.7h.6m-.6 .5h.6m-.5-.4h.6m-.6 .2h.6m-.3-.4h.6m-.6 .4h.6m-.5-.4h.6m-.6 .7h.6m-.2-.1h.6m-.4-.1h.6m-.5 0h.6m-.5-.2h.6m-.3-.1h.6m-.6-.2h.6m-.5 .6h.6m-.5 0h.6m-.6-.4h.6m-.5 0h.6m-.3 .3h.6m-.6-.2h.6m-.5-.4h.6m-.6 .5h.6m.1-.4h.6m-.5 .6h.6m-.5-.2h.6m-.4 .3h.6m-.6-.3h.6m-.3-.4h.6m-.4 .6h.6m-.5-.4h.6m-.5-.1h.6m-.5 .4h.6m-.6-.2h.6m-.6-.3h.6m-.4 .1h.6m-.3-.1h.6m.3 0h.6m-.4 .3h.6m-.3-.1h.6m-.6-.1h.6m-.2 .5h.6m1.1 .1h.6m-65.6 .8h.6m0 .1h.6m-.2-.6h.6m-.3 .8h.6m.5 0h.6m.4-.8h.6m1.4 0h.6m2.5 .7h.6m-.2-.4h.6m-.2 .2h.6m.5-.3h.6m.1 .3h.6m.3-.4h.6m1 .3h.6m-.4-.2h.6m2.1 0h.6m.1-.3h.6m-.6 .8h.6m-.4 .1h.6m-.5-.5h.6m.1-.2h.6m-.6 .5h.6m-.4-.1h.6m-.5 .1h.6m.2 .1h.6m-.6-.8h.6m-.5 .8h.6m0 0h.6m-.2-.4h.6m.1 .1h.6m.5-.2h.6m-.3 .1h.6m-.5 .2h.6m.5-.3h.6m.1 .4h.6m.3-.2h.6m.1-.5h.6m1.3 .1h.6m.7 .1h.6m15.3 .3h.6m.6 0h.6m2.7-.3h.6m0 .3h.6m.4 .3h.6m-.3 .2h.6m-.5-.4h.6m-.3 0h.6m-.5 0h.6m-.5-.2h.6m-.6 .3h.6m-.5-.1h.6m-.3-.5h.6m-.6 .9h.6m0-.8h.6m-.5-.2h.6m-.5 0h.6m-.3 .2h.6m-.5 .7h.6m-.5 0h.6m-.4 0h.6m-.5-.9h.6m-.6 .4h.6m-.3 0h.6m-.2 .2h.6m-.4-.3h.6m-.6 .4h.6m-.6-.1h.6m-.6-.2h.6m-.4 .6h.6m-.6-.1h.6m-.6 .1h.6m-.3-.3h.6m-.6 .1h.6m-.5-.6h.6m-.5 .3h.6m-.5 .1h.6m-.5-.5h.6m-.5 .1h.6m-.5 .4h.6m-.6-.5h.6m-.5 .5h.6m-.6-.1h.6m-.5 .4h.6m-.4-.7h.6m-.6-.1h.6m-.4 .6h.6m-.5 0h.6m-.6-.5h.6m-.3-.2h.6m-.6 .9h.6m-.5-.7h.6m-.6 .4h.6m-.5-.3h.6m-.6-.2h.6m-.4 .1h.6m-.5 .5h.6m-.4 .2h.6m-.6-.3h.6m-.5-.6h.6m-.5 .1h.6m-.6 .8h.6m-.4 0h.6m-.6 0h.6m-.5-.6h.6m-.3-.1h.6m-.6 .5h.6m-.5-.4h.6m-.5-.1h.6m-.5 .2h.6m-.6-.2h.6m-.6 0h.6m-.5 .4h.6m-.3 .4h.6m-.3-.3h.6m-.3-.1h.6m-.5-.4h.6m.1 .1h.6m-.4-.1h.6m-.4 .2h.6m-.3 0h.6m-.4-.4h.6m-.5 .3h.6m-.4 .7h.6m-.1-.8h.6m.8 .5h.6m-.3-.7h.6m.2 0h.6m-.4 .9h.6m-65.9 .6h.6m4.6 .3h.6m-.2-.5h.6m2 .7h.6m.6-.2h.6m-.4 0h.6m.4-.5h.6m.9 .6h.6m-.3-.4h.6m1.3 .1h.6m1.9-.2h.6m1-.1h.6m-.5-.3h.6m-.5 .5h.6m-.4-.2h.6m.6 .5h.6m-.4 .1h.6m.5-.8h.6m.3 .6h.6m-.2-.7h.6m1 .1h.6m2.8 .5h.6m17 .3h.6m2.4-.5h.6m.1-.1h.6m-.4 .3h.6m-.6-.5h.6m-.1 .4h.6m0-.1h.6m-.6 .3h.6m-.6-.3h.6m.1-.1h.6m-.6-.2h.6m-.4 .5h.6m-.6 .1h.6m-.3 0h.6m-.5-.5h.6m-.5-.1h.6m-.6 .4h.6m-.3 .4h.6m-.5-.3h.6m-.4 .4h.6m-.5-.2h.6m-.6-.5h.6m-.5-.2h.6m-.6 .3h.6m-.5 .5h.6m-.5-.6h.6m-.6-.1h.6m-.2 .6h.6m-.6-.6h.6m-.4 .3h.6m-.5 0h.6m-.5-.2h.6m-.5 0h.6m-.5-.2h.6m-.3 .5h.6m-.5-.4h.6m-.6 .4h.6m-.6-.1h.6m-.3-.1h.6m-.6-.4h.6m-.5 .7h.6m-.6-.3h.6m-.5-.1h.6m-.6 .1h.6m-.6 .2h.6m-.5-.4h.6m-.6 0h.6m-.5 .6h.6m-.6 0h.6m-.5-.7h.6m-.6 .1h.6m-.5 .1h.6m-.4 .2h.6m-.6-.4h.6m-.4 .9h.6m-.4-.7h.6m-.3 .6h.6m-.6-.8h.6m-.3 .5h.6m-.5-.5h.6m-.6 .9h.6m-.6-.1h.6m-.4-.9h.6m-.6 .7h.6m-.5-.2h.6m-.5-.2h.6m-.6-.3h.6m-.5 .9h.6m-.6 0h.6m-.6-.2h.6m-.5-.1h.6m-.4 0h.6m-.5 .4h.6m-.4-.1h.6m-.5 0h.6m-.6-.1h.6m-.4-.4h.6m-.5 .3h.6m-.5-.4h.6m-.5-.3h.6m-.4 .6h.6m-.4-.1h.6m-.6 .1h.6m-.3 0h.6m-.4-.5h.6m-.6 .2h.6m-.6-.2h.6m-.1 .8h.6m-.3-.5h.6m-.3-.3h.6m-.5 .8h.6m-.6-.4h.6m-.5-.4h.6m-.5 .4h.6m-.5 .2h.6m-.6-.3h.6m-.6 .1h.6m-.2-.1h.6m-.6 .4h.6m-.4-.4h.6m-.5-.1h.6m-.5 0h.6m-.6 .7h.6m-.1-.6h.6m-.5 .1h.6m.3 .3h.6m.6 .1h.6m-64.3 .6h.6m4.4-.3h.6m2.2 .2h.6m.2 .1h.6m.6 0h.6m.1-.3h.6m-.1 .4h.6m-.3 .2h.6m.8-.1h.6m1.2 .2h.6m1.8-.5h.6m.1 .5h.6m2.3-.4h.6m1 0h.6m2.6-.1h.6m.5 0h.6m1.3-.1h.6m18.7 .1h.6m-.4 .3h.6m.1-.2h.6m-.3 .2h.6m.1-.4h.6m-.1 0h.6m-.2 .6h.6m-.4-.2h.6m-.4 .2h.6m-.6-.8h.6m-.6 .5h.6m-.5-.3h.6m-.4 .4h.6m-.3 0h.6m-.5-.4h.6m-.5 .1h.6m-.2 .4h.6m-.4-.5h.6m-.4-.1h.6m-.6 .1h.6m-.6 .4h.6m-.4-.4h.6m-.5 .7h.6m-.5-.2h.6m-.5-.5h.6m-.6 .6h.6m-.2-.8h.6m-.6 .5h.6m-.5 .4h.6m-.6-.7h.6m-.5 .4h.6m-.5-.2h.6m-.4-.2h.6m-.5 0h.6m-.6-.1h.6m-.5 .3h.6m-.6-.4h.6m-.5 .8h.6m-.6 0h.6m-.5-.1h.6m-.4-.2h.6m-.5-.6h.6m-.4 1h.6m-.5-.5h.6m-.5 .2h.6m-.5-.1h.6m-.6-.3h.6m-.5 .1h.6m-.4 .4h.6m-.6 .1h.6m-.5-.3h.6m-.6-.3h.6m-.4 .4h.6m-.5 .1h.6m-.5-.2h.6m-.6-.6h.6m-.4 .1h.6m-.6 .5h.6m-.3 .2h.6m-.4 .1h.6m-.4-.5h.6m-.3 .3h.6m-.3-.1h.6m-.6 0h.6m-.6 .4h.6m-.5-.6h.6m-.5 .3h.6m-.5 .1h.6m-.6-.2h.6m-.6 .3h.6m-.3-.4h.6m-.1 .3h.6m-.6-.5h.6m-.4-.1h.6m-.5 0h.6m-.6-.2h.6m-.4 .3h.6m-.6 0h.6m-.6 .5h.6m-.5 .2h.6m-.4-.6h.6m-.5 .4h.6m-.5 .2h.6m-.5-.8h.6m-.4 .7h.6m-.1-.6h.6m-.3 .6h.6m-.3-.1h.6m-.3-.3h.6m-.5 .5h.6m-.5-.3h.6m-.6-.3h.6m-.3 .4h.6m.5-.1h.6m-.2 .3h.6m-.6 0h.6m-.2-.2h.6m.6-.1h.6m.1-.6h.6m.1 .2h.6m-64.5 1.4h.6m-.5-.7h.6m.8 .2h.6m2.8 .2h.6m2.8-.3h.6m1.4 .5h.6m.3 .1h.6m1.2-.7h.6m-.4 .2h.6m9-.1h.6m16.1 .8h.6m6.4-.6h.6m-.4 .7h.6m.2-.1h.6m-.4-.6h.6m-.5-.3h.6m-.4 .4h.6m-.5-.3h.6m-.4-.1h.6m-.2 .2h.6m-.5 .2h.6m-.4 0h.6m-.1 .6h.6m-.4 0h.6m-.4-.7h.6m-.5-.2h.6m-.5 .8h.6m-.6-.9h.6m-.6 .1h.6m-.4-.1h.6m-.6 .1h.6m-.4 .5h.6m-.6-.1h.6m-.6-.3h.6m-.5-.1h.6m-.5 .9h.6m-.3-.9h.6m-.6 0h.6m-.4 .1h.6m-.6-.2h.6m-.5 .6h.6m-.4 0h.6m-.4 .1h.6m-.3-.7h.6m-.6 .1h.6m-.5 .4h.6m-.5 .1h.6m-.6-.4h.6m-.6-.2h.6m-.5 1h.6m-.6-.2h.6m-.6-.7h.6m-.4 .1h.6m-.3 0h.6m-.6 .5h.6m-.4-.3h.6m-.5 .4h.6m-.6-.4h.6m-.5 0h.6m-.4 .4h.6m-.3-.7h.6m-.6 .1h.6m-.5 .1h.6m-.5 .1h.6m-.5 0h.6m-.4-.3h.6m-.6 0h.6m-.3 0h.6m-.6 .8h.6m-.6 .1h.6m-.5-1h.6m-.2 .3h.6m-.3 0h.6m-.4-.2h.6m-.3 .2h.6m-.5 .7h.6m-.5-.8h.6m-.5 .5h.6m-.2-.7h.6m-.5 .5h.6m-.4 .1h.6m-.6-.3h.6m-.3-.2h.6m-.4 .6h.6m-.6-.1h.6m.3-.5h.6m-.4 .2h.6m-.6 .2h.6m-.3-.5h.6m-.3 .2h.6m-.5 .1h.6m.2 .5h.6m1-.5h.6m-.1 .3h.6m-.5-.1h.6m-59.6 1h.6m4-.4h.6m.7 .3h.6m4 .2h.6m7.2-.3h.6m19.4 0h.6m4.3-.1h.6m-.5 .3h.6m-.5 0h.6m-.2-.1h.6m-.5 .1h.6m-.3-.3h.6m-.3 .1h.6m-.5 .4h.6m-.3-.2h.6m.3 .3h.6m-.3-.5h.6m-.2 .6h.6m-.4-.8h.6m-.1 .2h.6m-.5 .6h.6m-.6-.3h.6m-.1 .4h.6m-.4-.6h.6m-.5 .5h.6m-.6-.8h.6m-.5 .5h.6m-.1 0h.6m-.6-.5h.6m-.2 .9h.6m-.3-.1h.6m-.4-.8h.6m-.5 .4h.6m-.5-.3h.6m-.5 .5h.6m-.4-.7h.6m-.5 1h.6m-.6-.9h.6m-.5 .1h.6m-.4-.1h.6m-.5 .1h.6m-.5 .5h.6m-.5 0h.6m-.2-.3h.6m-.5 0h.6m-.3 .4h.6m-.5-.3h.6m-.5 0h.6m0-.1h.6m-.5 .1h.6m-.4-.4h.6m-.5-.1h.6m-.1 .8h.6m-.3-.6h.6m-.5 .7h.6m-.5-.5h.6m-.1 .3h.6m.1-.3h.6m-.5-.1h.6m-.4 .5h.6m.4-.7h.6m-.4 .8h.6m-.2-.3h.6m-.6-.5h.6m-.3 .4h.6m-.3 .3h.6m-.5-.6h.6m-.1 .4h.6m-.3 .2h.6m1.2-.6h.6m-62.6 1.5h.6m5.5-.3h.6m2.8 .2h.6m15.2-.6h.6m17 .1h.6m.4 .7h.6m-.3-.8h.6m-.6 .7h.6m.6-.6h.6m-.3 .6h.6m-.2 .1h.6m.3-.1h.6m-.5-.5h.6m.1 0h.6m-.1 .6h.6m-.5-.6h.6m-.4 0h.6m-.4 0h.6m.2 .8h.6m-.4-.5h.6m-.1-.3h.6m-.5 .8h.6m-.1-.1h.6m-.6 .1h.6m-.4-.4h.6m-.2 .3h.6m-.6-.7h.6m-.4 .6h.6m-.5 .2h.6m-.3-.8h.6m-.4-.1h.6m-.5 .7h.6m-.5-.1h.6m-.6-.1h.6m-.6 .3h.6m-.3-.2h.6m-.3-.6h.6m-.6 .3h.6m-.3 .5h.6m-.3 0h.6m-.2-.1h.6m-.6-.6h.6m-.5 0h.6m-.2 .8h.6m-.5-.1h.6m-.4-.1h.6m-.4 0h.6m-.6-.1h.6m-.4 0h.6m-.5-.1h.6m-.6-.4h.6m-.4-.1h.6m-.2 .8h.6m-.6-.5h.6m-.3 .3h.6m-.5-.2h.6m-.3 .4h.6m-.1-.7h.6m-.3 .5h.6m-.2-.7h.6m-.5 1h.6m.5-.1h.6m-.4-.1h.6m1.1-.7h.6m-55.8 1h.6m39.3 0h.6m-.1 0h.6m-.6 .2h.6m.3 .1h.6m-.6 .2h.6m-.1-.3h.6m-.1-.2h.6m-.2 .5h.6m-.6 .4h.6m-.1-.2h.6m-.2-.1h.6m-.4 .1h.6m-.1-.4h.6m-.5-.4h.6m-.3 .2h.6m-.3 .7h.6m-.5 0h.6m-.3-.5h.6m-.5-.2h.6m-.1 .7h.6m0-.6h.6m-.5-.2h.6m-.6 .4h.6m-.3-.2h.6m-.6 .1h.6m-.1 .6h.6m-.4-.2h.6m-.6-.7h.6m-.6 .4h.6m-.4 .4h.6m-.1-.4h.6m-.4 .2h.6m-.3 .3h.6m-.2-.9h.6m-.4 .8h.6m-.5-.3h.6m-.5 .3h.6m-.3-.1h.6m-.2 .2h.6m-.6-.4h.6m-.6 0h.6m-.5-.5h.6m-.6 0h.6m-.5 .5h.6m-.5-.5h.6m-.5 .8h.6m0-.7h.6m.1 0h.6m.2 0h.6m1.7 .3h.6m-48.2 .7h.6m29.6 .1h.6m.8 .6h.6m1-.8h.6m0-.1h.6m-.5 .3h.6m-.4 .5h.6m-.5 0h.6m-.3-.7h.6m-.3 .2h.6m.2 .1h.6m-.5 0h.6m-.3 0h.6m0 0h.6m-.6-.1h.6m-.5 .3h.6m-.4-.3h.6m-.3 0h.6m-.1 .4h.6m-.1-.5h.6m-.2 .2h.6m-.5 .3h.6m-.5 .3h.6m-.5-.6h.6m0-.2h.6m-.5 .3h.6m-.5 .5h.6m-.5-.4h.6m-.6-.5h.6m-.5 .3h.6m-.4 .2h.6m.3-.3h.6m-.1 0h.6m-.3 .6h.6m-.3-.1h.6m.3-.6h.6m-.1 .7h.6m-.4-.3h.6m1-.6h.6m.3 .7h.6m-.3 .2h.6m5.4-.7h.6m-61.5 1.2h.6m39 0h.6m.2 .4h.6m.6-.5h.6m-.1 .5h.6m-.4-.5h.6m-.2 .5h.6m-.6-.3h.6m-.4-.1h.6m-.4-.4h.6m-.3 .3h.6m-.5-.2h.6m-.4 .8h.6m-.3-.5h.6m0 0h.6m-.1 .4h.6m1.3-.1h.6m0-.2h.6m1-.4h.6m-.1 .3h.6m.6 0h.6m-.6 .4h.6m1.2-.5h.6m-.4 .5h.6m-.4-.5h.6m.8 .7h.6m-17 0h.6m.9 .9h.6m1-.4h.6m1.3-.3h.6m-.6 .4h.6m-.2 .2h.6m-.3-.3h.6m-.4 .3h.6m.2 .1h.6m-.5-.7h.6m-.5-.1h.6m.2 .8h.6m0-.2h.6m.2-.4h.6m.3-.1h.6m.6-.1h.6m.3 .3h.6m.6 .3h.6m-.6 .1h.6m.1-.5h.6m-.5 .4h.6m-.4 .1h.6m-.4-.7h.6m-.3 0h.6m-.2 .5h.6m1-.4h.6m-.1 0h.6m-14.5 1.6h.6m.2-.1h.6m-.3-.3h.6m-.2 .3h.6m-.5-.6h.6m.9 .9h.6m-.2-.8h.6m.2 .1h.6m0-.2h.6m-.6 .3h.6m.8 .5h.6m.2-.6h.6m-.4 .1h.6m5.1 .1h.6m-11.1 .6h.6m.6 0h.6m-.1 .5h.6m0-.6h.6m-.1 .7h.6m.1-.1h.6m1.4 .2h.6m-23.8 .5h.6m15.2-.1h.6m7.2 .4h.6m-.5-.1h.6m3.6-.3h.6" stroke="#7A4266" stroke-width=".6" stroke-opacity=".38" fill="none"/>
<path d="M91.8 494.5h.5m8.6 .3h.5m-8.3 1.4h.5m-14 .9h.5m28.8-.3h.5m-11.7 1.2h.5m-13.7 1.2h.5m7.9 .6h.5m.2-.1h.5m.6-.2h.5m1.6 .8h.5m2.1-.5h.5m15-.1h.5m-30.8 1.2h.5m7.2 .4h.5m16.5 0h.5m-17.4 .4h.5m17.6 .2h.5m-21.3 .9h.5m7.8 .2h.5m.5-.3h.5m-.4 .1h.5m.8-.2h.5m.7 .4h.5m0-.1h.5m-13.9 .8h.5m6.5 1.1h.5m1.7 .1h.5m.2-.2h.5m1.9 .4h.5m2.6 .1h.5m4.2-.3h.5m-26.7 .7h.5m.4 .3h.5m4.8-.2h.5m7.2 .5h.5m6.5-.7h.5m.3 .1h.5m6.2 .2h.5m-14.7 1h.5m.8 .4h.5m-11.1 .7h.5m5.7 .3h.5m2.9-.5h.5m0 .6h.5m3.1 0h.5m30.7-.8h.5m-31.5 1.7h.5m10.8-.4h.5m-29.4 1.3h.5m30.7-.4h.5m26.9 .3h.5m24.4 0h.5m-80.8 1.2h.5m7.4-.2h.5m5.2-.2h.5m-4.9 1.4h.5m24.1 0h.5m-32.1 1.4h.5m45.6 .4h.5m-33.2 .6h.5m34.3 .9h.5m-2.8 .3h.5m1.1 0h.5m-29 1.7h.5m-12.1 2.5h.5m41.8 .2h.5m-6.3 .7h.5m12.4-.1h.5m.7-.1h.5m-.1 1.7h.5m-8.8 .2h.5m1.8 .7h.5m-10.5 .5h.5m5.3 .8h.5m-7.8 1.6h.5m2.7 0h.5m10.2-.4h.5m-6 1.4h.5m-3.2 .9h.5m5.3 .8h.5m2-.1h.5m-12.3 1.4h.5m2.7-.7h.5m.8 .5h.5m10.2-.1h.5m-10.7 1.4h.5m4.3-.7h.5m5.7 2.1h.5m2.5 .1h.5m-17.1 1.5h.5m3-.6h.5m.2-.1h.5m.5 .9h.5m12.7-.3h.5m-11.8 .9h.5m3.5-.5h.5m-19.6 1.3h.5m8.8 0h.5m5.8 .5h.5m.8-.8h.5m.6-.1h.5m-55.1 1.8h.5m36-.4h.5m-33.1 1.6h.5m27.3 1.3h.5m8.2 .6h.5m8.3-.6h.5m1.6 0h.5m3.1 .2h.5m-.1-.1h.5m-.1-.2h.5m4.1-.1h.5m-51 1.1h.5m30 .2h.5m15.8 .1h.5m-11.1 .7h.5m2.7-.1h.5m-36.6 1.6h.5m32.6-.2h.5m.6 .4h.5m.9-.8h.5m0 .8h.5m2-.8h.5m.4 .5h.5m4-.2h.5m.9 .5h.5m-40.1 .8h.5m6.1-.3h.5m19.1 .2h.5m7.5-.5h.5m1.9 0h.5m-56.1 1.8h.5m45-.7h.5m6.3 .6h.5m-.3-.4h.5m-33.6 .7h.5m8.8 .8h.5m5.2-.7h.5m6 .4h.5m.6-.5h.5m5.3 .6h.5m-40.6 1.3h.5m17.4-.6h.5m19.6 .5h.5m1.6 .1h.5m1.2-.8h.5m3.1 0h.5m1.4 .3h.5m-.2-.5h.5m2 .9h.5m.2-.1h.5m-45.8 .6h.5m8.5-.1h.5m-.1 .6h.5m1.3-.7h.5m.6 .2h.5m12.8-.1h.5m5.6-.3h.5m3.9 .6h.5m3.2-.5h.5m1.2 .6h.5m1.1 .2h.5m-.3 0h.5m1.6-.3h.5m4 .2h.5m-60.7 1.2h.5m8.3-.8h.5m2.2 .2h.5m.5 .6h.5m5.2 0h.5m8-1h.5m3.2 .8h.5m6.6 .1h.5m-.2 0h.5m.5-.5h.5m2.3 0h.5m2.2 .2h.5m5.3 .2h.5m-48.6 .7h.5m5.1 .1h.5m3.6-.2h.5m1.2 .1h.5m-.3 .3h.5m-.1-.8h.5m8.6 .3h.5m8.9-.1h.5m5.7 0h.5m.1 .5h.5m2.1-.6h.5m.6 .4h.5m-.2 .5h.5m.9-.9h.5m3.3-.1h.5m1.8 .5h.5m.4-.1h.5m-.4 .3h.5m.9 .2h.5m-38.5 .9h.5m2.1 .1h.5m2.1-.2h.5m13.7 .1h.5m1.6-.4h.5m3.1 .3h.5m3 0h.5m0-.1h.5m1.7-.2h.5m-.3 0h.5m-.4 .1h.5m.6-.2h.5m0 .2h.5m.5 .1h.5m0-.2h.5m1.5 .6h.5m-.2-.9h.5m-59.2 1.4h.5m16.9 .4h.5m1-.3h.5m3.4-.5h.5m2.7-.1h.5m2.9 .5h.5m1.6 .1h.5m-.2-.3h.5m8.9 .3h.5m2.8-.3h.5m1 .6h.5m0 .1h.5m2.5-.7h.5m.2-.2h.5m3.6 0h.5m1 .7h.5m.2-.5h.5m16.1-.2h.5m-62.4 1.6h.5m.8-.4h.5m1.3 .5h.5m.7-.7h.5m4.4 .2h.5m-.4-.1h.5m-.4 .3h.5m-.3-.1h.5m.2 .3h.5m10 .1h.5m2.4-.3h.5m1.1-.4h.5m7.9 .8h.5m6.1 0h.5m-.4-.6h.5m-.2 .4h.5m.3 .2h.5m.9-.3h.5m1.3-.3h.5m-.2-.2h.5m.3 .9h.5m.9-.3h.5m.3 0h.5m1.7-.4h.5m-60.3 1h.5m3.1 .3h.5m2.5 .3h.5m2.8-.4h.5m4.5-.3h.5m1.5 .7h.5m-.5 0h.5m.5-.6h.5m-.5-.2h.5m.4 .1h.5m4.5 .5h.5m.5-.5h.5m.6 .4h.5m1.5 0h.5m-.4 0h.5m1.8 .2h.5m12.2-.6h.5m2.4 .5h.5m.2-.4h.5m-.3 .5h.5m1.2-.1h.5m-.4 .2h.5m-.5-.8h.5m.5 .3h.5m.7-.1h.5m1.7-.1h.5m1.1-.1h.5m0 .5h.5m1.9 .3h.5m2.3-.6h.5m-.1 0h.5m.7 .1h.5m-58.5 1.2h.5m1.1-.1h.5m2.2 .2h.5m4.9-.2h.5m.3-.3h.5m2.7 .5h.5m-.4 0h.5m-.4-.3h.5m.3 .3h.5m.4-.7h.5m1.1 .6h.5m-.4-.1h.5m3.3-.3h.5m5.1-.1h.5m4.1 .5h.5m2.7-.1h.5m.1-.2h.5m.7 0h.5m7.3 0h.5m.5 .5h.5m.2-.2h.5m-.1-.5h.5m1.7 .1h.5m1.5 .3h.5m.1-.1h.5m-46.4 .7h.5m-.2 .7h.5m4.3-.7h.5m.5 .5h.5m.1 .3h.5m-.3-.3h.5m-.5-.5h.5m-.4 .3h.5m.2 0h.5m-.2 .5h.5m-.4-.9h.5m-.4 .6h.5m.3 .3h.5m.8-.9h.5m-.1 .1h.5m.8-.1h.5m4 1h.5m4.7-.3h.5m6.8-.2h.5m3.3-.3h.5m.1-.1h.5m1.3 .7h.5m5.3 .1h.5m3.2-.4h.5m-.3 .4h.5m0-.3h.5m2.6 .3h.5m-.4-.1h.5m2.6-.4h.5m-61.7 1.2h.5m4.5 .2h.5m4.2 .1h.5m5.9-.2h.5m3.8-.1h.5m1.7-.2h.5m.3 0h.5m2.2 .2h.5m1.1-.4h.5m7.9 .7h.5m5.7-.6h.5m-.3 .7h.5m4.4-.1h.5m.3-.8h.5m-.5 .4h.5m3.7-.1h.5m-.2 .4h.5m-.2-.1h.5m.3-.2h.5m-.1 .1h.5m.2-.5h.5m0 .7h.5m.1-.1h.5m-.1-.3h.5m.6 .2h.5m6.5 0h.5m-72.7 .8h.5m6.3 .5h.5m2.7-.1h.5m7.5 0h.5m-.2-.5h.5m.8-.1h.5m0 .1h.5m.2-.1h.5m-.2 .6h.5m2.6-.5h.5m.9 .5h.5m4.1-.2h.5m-.4 .1h.5m.7 0h.5m-.1 0h.5m10.8-.1h.5m6.3-.2h.5m0 0h.5m1 .4h.5m1.6-.2h.5m4-.5h.5m-.2 .8h.5m-.2-.1h.5m.1-.3h.5m-.2-.1h.5m1.1 .5h.5m1.6-.1h.5m.9-.4h.5m.2-.3h.5m-65.4 1.9h.5m4.9-.5h.5m-.2-.1h.5m13.7 .2h.5m0-.1h.5m2.1 .5h.5m9.9-.3h.5m1 .3h.5m2-.3h.5m7.8-.6h.5m3.3 0h.5m1-.1h.5m5.6 .3h.5m.2-.3h.5m.1 .8h.5m1.9-.5h.5m1.2 .3h.5m.1 0h.5m3.3-.3h.5m-59 .7h.5m4.4 .9h.5m.5-.7h.5m.1-.1h.5m4.9 .2h.5m1.8 .1h.5m.7-.1h.5m1 .5h.5m1.6-.1h.5m.8 .3h.5m-.4-.9h.5m1.7 .5h.5m0 .1h.5m0-.1h.5m13 .1h.5m3-.3h.5m0-.2h.5m6.9 .1h.5m.3 0h.5m.2 .6h.5m.4-.7h.5m.1 .8h.5m.3-1h.5m.1 .1h.5m.1 0h.5m-.2 .4h.5m2.4-.1h.5m3.2-.3h.5m-59.4 .9h.5m-.3 .4h.5m5.7-.3h.5m.3 .9h.5m1.4-.6h.5m3.1-.2h.5m7.6 .5h.5m.6 0h.5m4.4-.2h.5m4.6 .3h.5m6.3-.3h.5m-.2 0h.5m1.7 .4h.5m4-.9h.5m.5 .5h.5m-.1 .2h.5m.4-.3h.5m4.3 .1h.5m-.1 .3h.5m1-.7h.5m-.3 .1h.5m-.4-.1h.5m-62.2 1.5h.5m13.5-.1h.5m2.2-.3h.5m3.7 .1h.5m2.6 .6h.5m3.6-.2h.5m.7-.2h.5m5.6-.2h.5m3.2 0h.5m5.7 .7h.5m4.3-.9h.5m1.5 .6h.5m.4 .1h.5m0-.5h.5m-.4 .2h.5m1.5 .2h.5m.2-.5h.5m2.4 .5h.5m1.7-.3h.5m5.7-.1h.5m3.3 .4h.5m-59.8 1.2h.5m2.3-.7h.5m.6 .7h.5m2.2 0h.5m2.1-.9h.5m1.2 .9h.5m2.2-.3h.5m1.6-.5h.5m5.1 0h.5m12.4 .4h.5m1.3-.5h.5m1 .2h.5m.2 .3h.5m1.5-.3h.5m2.8-.1h.5m0 0h.5m1.8 .3h.5m-.4 .2h.5m-.5 .2h.5m-.3-.4h.5m-.4 .6h.5m-.5-.5h.5m2.5 .3h.5m-.2-.5h.5m0-.3h.5m3.3 .4h.5m-63.1 .8h.5m7.5-.1h.5m8.3 .5h.5m8.5 .1h.5m15.4-.1h.5m.3-.1h.5m1.4-.3h.5m0 .1h.5m1.2 .2h.5m0 .2h.5m1-.6h.5m.3 .1h.5m0 .5h.5m.5-.3h.5m.9 0h.5m3.9-.2h.5m2.5 .8h.5m-52.9 .2h.5m2.8 .7h.5m.7-.6h.5m-.5 .6h.5m3.9-.5h.5m1.1 .4h.5m-.2-.7h.5m15.3 .3h.5m2.5-.3h.5m2.4 .2h.5m10.3 .1h.5m0 0h.5m.2 .4h.5m.4-.6h.5m.7 .3h.5m-.2 .4h.5m.6 0h.5m.7-.1h.5m1.8-.1h.5m.8-.6h.5m-61 1.3h.5m7.6 0h.5m4 .2h.5m1.9-.5h.5m25.3 .6h.5m8-.2h.5m-.2-.4h.5m-.2 .3h.5m1.5-.2h.5m-.2 .5h.5m-.3-.5h.5m-.5 .2h.5m2.7 .2h.5m-.4-.5h.5m2.4 .2h.5m-48.6 1.7h.5m25.7-.6h.5m2.4-.2h.5m2.8 .6h.5m1.3 0h.5m1.1 0h.5m2.7-.6h.5m.4 .2h.5m.3 .3h.5m2.6-.6h.5m1.2 .4h.5m2.6 .2h.5m1.6 .3h.5m-27.9 .5h.5m6.3-.4h.5m2.8 .1h.5m1.7 0h.5m.7-.1h.5m2.3-.1h.5m1.6 .7h.5m.1-.5h.5m.1 .3h.5m-.4-.2h.5m0 .4h.5m7.9-.3h.5m-36.8 1.5h.5m9.4-.5h.5m1.8-.1h.5m1.3 .7h.5m1.2-.5h.5m-.2 0h.5m.2 .3h.5m3.6 .1h.5m1.8-.3h.5m-.5 .1h.5m-.3-.5h.5m2.8 .5h.5m-.5-.3h.5m-.2 .5h.5m.1-.3h.5m.5-.5h.5m.5 .1h.5m-.3 .5h.5m1-.6h.5m3.4 .8h.5m-21 .8h.5m7.7-.2h.5m4.3-.5h.5m-6.6 1.3h.5m.7-.1h.5m-.4 .1h.5m4.1 .3h.5m-.1-.5h.5m1.8-.1h.5m-51.1 1.1h.5m39.3 0h.5m12 0h.5m.4 .8h.5m-21.3 .5h.5m7.7-.2h.5m.7 0h.5m4.1 .2h.5m3.6 .2h.5" stroke="#8f8290" stroke-width=".5" stroke-opacity=".5" fill="none"/>
<rect x="77.4" y="485.2" width="95.79999999999998" height="88.80000000000001" fill="none" stroke="#000" stroke-width="1.3"/>
<line x1="77.4" y1="485.0" x2="77.4" y2="574.6" stroke="#1c1c1c" stroke-width="1.3"/>
<line x1="76.80000000000001" y1="574.0" x2="173.2" y2="574.0" stroke="#1c1c1c" stroke-width="1.3"/>
<rect x="80.8" y="490.4" width="30.400000000000006" height="26.5" fill="none" stroke="#1c1c1c" stroke-width="1.7"/>
<line x1="167.3" y1="516.2" x2="150.3617911184838" y2="527.4921392543441" stroke="#1c1c1c" stroke-width="1.1"/>
<polygon points="147.2,529.6 149.92,525.38 152.14,528.71" fill="#1c1c1c"/>
<line x1="74.4" y1="493.8" x2="77.4" y2="493.8" stroke="#1c1c1c" stroke-width="0.9"/>
<text x="71.0" y="495.40000000000003" font-size="4.6" text-anchor="end" fill="#262626">10<tspan font-size="3" dy="-1.8">5</tspan></text>
<line x1="74.4" y1="513.5" x2="77.4" y2="513.5" stroke="#1c1c1c" stroke-width="0.9"/>
<text x="71.0" y="515.1" font-size="4.6" text-anchor="end" fill="#262626">10<tspan font-size="3" dy="-1.8">4</tspan></text>
<line x1="74.4" y1="534.7" x2="77.4" y2="534.7" stroke="#1c1c1c" stroke-width="0.9"/>
<text x="71.0" y="536.3000000000001" font-size="4.6" text-anchor="end" fill="#262626">10<tspan font-size="3" dy="-1.8">3</tspan></text>
<line x1="74.4" y1="555.8" x2="77.4" y2="555.8" stroke="#1c1c1c" stroke-width="0.9"/>
<text x="71.0" y="557.4" font-size="4.6" text-anchor="end" fill="#262626">10<tspan font-size="3" dy="-1.8">2</tspan></text>
<line x1="74.4" y1="562.3" x2="77.4" y2="562.3" stroke="#1c1c1c" stroke-width="0.9"/>
<text x="71.0" y="563.9" font-size="4.6" text-anchor="end" fill="#262626">0</text>
<line x1="74.4" y1="568.3" x2="77.4" y2="568.3" stroke="#1c1c1c" stroke-width="0.9"/>
<text x="71.0" y="569.9" font-size="4.6" text-anchor="end" fill="#262626">-10<tspan font-size="3" dy="-1.8">2</tspan></text>
<line x1="74.4" y1="574.2" x2="77.4" y2="574.2" stroke="#1c1c1c" stroke-width="0.9"/>
<text x="71.0" y="575.8000000000001" font-size="4.6" text-anchor="end" fill="#262626">-220</text>
<line x1="75.80000000000001" y1="507.56970908541956" x2="77.4" y2="507.56970908541956" stroke="#1c1c1c" stroke-width="0.6"/>
<line x1="75.80000000000001" y1="504.10071128202264" x2="77.4" y2="504.10071128202264" stroke="#1c1c1c" stroke-width="0.6"/>
<line x1="75.80000000000001" y1="501.6394181708391" x2="77.4" y2="501.6394181708391" stroke="#1c1c1c" stroke-width="0.6"/>
<line x1="75.80000000000001" y1="499.73029091458045" x2="77.4" y2="499.73029091458045" stroke="#1c1c1c" stroke-width="0.6"/>
<line x1="75.80000000000001" y1="498.1704203674422" x2="77.4" y2="498.1704203674422" stroke="#1c1c1c" stroke-width="0.6"/>
<line x1="75.80000000000001" y1="496.85156861171913" x2="77.4" y2="496.85156861171913" stroke="#1c1c1c" stroke-width="0.6"/>
<line x1="75.80000000000001" y1="495.70912725625874" x2="77.4" y2="495.70912725625874" stroke="#1c1c1c" stroke-width="0.6"/>
<line x1="75.80000000000001" y1="494.7014225640453" x2="77.4" y2="494.7014225640453" stroke="#1c1c1c" stroke-width="0.6"/>
<line x1="75.80000000000001" y1="528.3181640919237" x2="77.4" y2="528.3181640919237" stroke="#1c1c1c" stroke-width="0.6"/>
<line x1="75.80000000000001" y1="524.5850293999432" x2="77.4" y2="524.5850293999432" stroke="#1c1c1c" stroke-width="0.6"/>
<line x1="75.80000000000001" y1="521.9363281838472" x2="77.4" y2="521.9363281838472" stroke="#1c1c1c" stroke-width="0.6"/>
<line x1="75.80000000000001" y1="519.8818359080764" x2="77.4" y2="519.8818359080764" stroke="#1c1c1c" stroke-width="0.6"/>
<line x1="75.80000000000001" y1="518.2031934918667" x2="77.4" y2="518.2031934918667" stroke="#1c1c1c" stroke-width="0.6"/>
<line x1="75.80000000000001" y1="516.7839215516977" x2="77.4" y2="516.7839215516977" stroke="#1c1c1c" stroke-width="0.6"/>
<line x1="75.80000000000001" y1="515.5544922757708" x2="77.4" y2="515.5544922757708" stroke="#1c1c1c" stroke-width="0.6"/>
<line x1="75.80000000000001" y1="514.4700587998863" x2="77.4" y2="514.4700587998863" stroke="#1c1c1c" stroke-width="0.6"/>
<line x1="75.80000000000001" y1="549.4482670914899" x2="77.4" y2="549.4482670914899" stroke="#1c1c1c" stroke-width="0.6"/>
<line x1="75.80000000000001" y1="545.7327415254151" x2="77.4" y2="545.7327415254151" stroke="#1c1c1c" stroke-width="0.6"/>
<line x1="75.80000000000001" y1="543.09653418298" x2="77.4" y2="543.09653418298" stroke="#1c1c1c" stroke-width="0.6"/>
<line x1="75.80000000000001" y1="541.0517329085101" x2="77.4" y2="541.0517329085101" stroke="#1c1c1c" stroke-width="0.6"/>
<line x1="75.80000000000001" y1="539.3810086169051" x2="77.4" y2="539.3810086169051" stroke="#1c1c1c" stroke-width="0.6"/>
<line x1="75.80000000000001" y1="537.9684313556992" x2="77.4" y2="537.9684313556992" stroke="#1c1c1c" stroke-width="0.6"/>
<line x1="75.80000000000001" y1="536.74480127447" x2="77.4" y2="536.74480127447" stroke="#1c1c1c" stroke-width="0.6"/>
<line x1="75.80000000000001" y1="535.6654830508303" x2="77.4" y2="535.6654830508303" stroke="#1c1c1c" stroke-width="0.6"/>
<rect x="74.10000000000001" y="561.4" width="3.3" height="1.8" fill="#1c1c1c"/>
<line x1="85.8" y1="574.0" x2="85.8" y2="576.6" stroke="#1c1c1c" stroke-width="0.9"/>
<text x="85.8" y="585.0" font-size="4.6" text-anchor="middle" fill="#262626">0</text>
<line x1="98" y1="574.0" x2="98" y2="576.6" stroke="#1c1c1c" stroke-width="0.9"/>
<text x="98" y="585.0" font-size="4.6" text-anchor="middle" fill="#262626">10<tspan font-size="3" dy="-1.8">2</tspan></text>
<line x1="121.8" y1="574.0" x2="121.8" y2="576.6" stroke="#1c1c1c" stroke-width="0.9"/>
<text x="121.8" y="585.0" font-size="4.6" text-anchor="middle" fill="#262626">10<tspan font-size="3" dy="-1.8">3</tspan></text>
<line x1="143" y1="574.0" x2="143" y2="576.6" stroke="#1c1c1c" stroke-width="0.9"/>
<text x="143" y="585.0" font-size="4.6" text-anchor="middle" fill="#262626">10<tspan font-size="3" dy="-1.8">4</tspan></text>
<line x1="165" y1="574.0" x2="165" y2="576.6" stroke="#1c1c1c" stroke-width="0.9"/>
<text x="165" y="585.0" font-size="4.6" text-anchor="middle" fill="#262626">10<tspan font-size="3" dy="-1.8">5</tspan></text>
<rect x="77.4" y="574.0" width="20.599999999999994" height="1.7" fill="#666"/>
<line x1="105.16451389680275" y1="574.0" x2="105.16451389680275" y2="575.6" stroke="#1c1c1c" stroke-width="0.6"/>
<line x1="109.35548586232797" y1="574.0" x2="109.35548586232797" y2="575.6" stroke="#1c1c1c" stroke-width="0.6"/>
<line x1="112.3290277936055" y1="574.0" x2="112.3290277936055" y2="575.6" stroke="#1c1c1c" stroke-width="0.6"/>
<line x1="114.63548610319725" y1="574.0" x2="114.63548610319725" y2="575.6" stroke="#1c1c1c" stroke-width="0.6"/>
<line x1="116.51999975913071" y1="574.0" x2="116.51999975913071" y2="575.6" stroke="#1c1c1c" stroke-width="0.6"/>
<line x1="118.11333335233931" y1="574.0" x2="118.11333335233931" y2="575.6" stroke="#1c1c1c" stroke-width="0.6"/>
<line x1="119.49354169040825" y1="574.0" x2="119.49354169040825" y2="575.6" stroke="#1c1c1c" stroke-width="0.6"/>
<line x1="120.71097172465593" y1="574.0" x2="120.71097172465593" y2="575.6" stroke="#1c1c1c" stroke-width="0.6"/>
<line x1="128.1818359080764" y1="574.0" x2="128.1818359080764" y2="575.6" stroke="#1c1c1c" stroke-width="0.6"/>
<line x1="131.91497060005685" y1="574.0" x2="131.91497060005685" y2="575.6" stroke="#1c1c1c" stroke-width="0.6"/>
<line x1="134.5636718161528" y1="574.0" x2="134.5636718161528" y2="575.6" stroke="#1c1c1c" stroke-width="0.6"/>
<line x1="136.6181640919236" y1="574.0" x2="136.6181640919236" y2="575.6" stroke="#1c1c1c" stroke-width="0.6"/>
<line x1="138.29680650813324" y1="574.0" x2="138.29680650813324" y2="575.6" stroke="#1c1c1c" stroke-width="0.6"/>
<line x1="139.71607844830226" y1="574.0" x2="139.71607844830226" y2="575.6" stroke="#1c1c1c" stroke-width="0.6"/>
<line x1="140.9455077242292" y1="574.0" x2="140.9455077242292" y2="575.6" stroke="#1c1c1c" stroke-width="0.6"/>
<line x1="142.02994120011368" y1="574.0" x2="142.02994120011368" y2="575.6" stroke="#1c1c1c" stroke-width="0.6"/>
<line x1="149.6226599046076" y1="574.0" x2="149.6226599046076" y2="575.6" stroke="#1c1c1c" stroke-width="0.6"/>
<line x1="153.49666760383258" y1="574.0" x2="153.49666760383258" y2="575.6" stroke="#1c1c1c" stroke-width="0.6"/>
<line x1="156.24531980921518" y1="574.0" x2="156.24531980921518" y2="575.6" stroke="#1c1c1c" stroke-width="0.6"/>
<line x1="158.3773400953924" y1="574.0" x2="158.3773400953924" y2="575.6" stroke="#1c1c1c" stroke-width="0.6"/>
<line x1="160.11932750844016" y1="574.0" x2="160.11932750844016" y2="575.6" stroke="#1c1c1c" stroke-width="0.6"/>
<line x1="161.59215688031364" y1="574.0" x2="161.59215688031364" y2="575.6" stroke="#1c1c1c" stroke-width="0.6"/>
<line x1="162.86797971382276" y1="574.0" x2="162.86797971382276" y2="575.6" stroke="#1c1c1c" stroke-width="0.6"/>
<line x1="163.99333520766515" y1="574.0" x2="163.99333520766515" y2="575.6" stroke="#1c1c1c" stroke-width="0.6"/>
<text x="77.7" y="590.8" font-size="4.6" text-anchor="middle" fill="#262626">-62</text>
<ellipse cx="108" cy="668.5" rx="4.5" ry="6.5" fill="url(#cg)" opacity="0.85" transform="rotate(30 108 668.5)"/>
<ellipse cx="99" cy="679" rx="5.5" ry="3.8" fill="url(#cg)" opacity="0.6" transform="rotate(-10 99 679)"/>
<ellipse cx="139.6" cy="676.5" rx="5.8" ry="10" fill="url(#cg)" opacity="0.8" transform="rotate(0 139.6 676.5)"/>
<path d="M124.4 609.3h.6m33.7 11.8h.6m-49.8 11.8h.6m-10.9 2.4h.6m8.7 .4h.6m-.4 .4h.6m-22.4 4.2h.6m50.8 2.3h.6m-9.5 1.8h.6m-33.3 .6h.6m50.4 .3h.6m-33.3 1.3h.6m15.4 0h.6m-19.4 1.2h.6m4.7 .5h.6m7.7 .7h.6m-6.6 1.7h.6m.3 .4h.6m11.1-.3h.6m-18.9 1h.6m.2 .6h.6m3.5-.2h.6m-7.6 1h.6m3.6-.6h.6m-.6 .3h.6m1.3-.1h.6m22-.3h.6m-34.2 1.8h.6m4.1-.5h.6m3.3 0h.6m.7 .3h.6m-.3-.4h.6m-.3 .8h.6m3.4-.1h.6m-7.9 1h.6m.1-.8h.6m.2 .6h.6m.2-.6h.6m2.4 .8h.6m-10.6 .4h.6m-.5 0h.6m3.3-.2h.6m-.4 .6h.6m-.4 0h.6m.7 .1h.6m-.2-.7h.6m-.4 .6h.6m-.3-.6h.6m-.6 .3h.6m.1 0h.6m-.4-.3h.6m-.4 .6h.6m-.5 .3h.6m-.4-.4h.6m-.2 .1h.6m6.4 0h.6m.4-.2h.6m7.3-.5h.6m5.3 0h.6m-54.5 1.3h.6m21.4-.2h.6m1.4 .2h.6m.3-.2h.6m2.2 .2h.6m-.1 .6h.6m-.4-.3h.6m-.4 .2h.6m-.3-.6h.6m-.2 .2h.6m0-.3h.6m-.6 .6h.6m-.4-.6h.6m.9 .5h.6m-8.4 1.2h.6m-.6-.2h.6m.8-.1h.6m-.5 .4h.6m-.6-.2h.6m.7-.6h.6m-.6 .6h.6m-.5-.2h.6m0 .4h.6m.3-.7h.6m-.4 .6h.6m.4-.1h.6m.2-.3h.6m.8 .4h.6m-.1-.2h.6m.2-.2h.6m16.1 .4h.6m.6 0h.6m-35.1 1.1h.6m.8-.3h.6m1.3-.4h.6m3.3 .1h.6m0 0h.6m-.1 .6h.6m-.6-.1h.6m-.2-.2h.6m-.6-.5h.6m-.4 .3h.6m-.5 .1h.6m-.6 .1h.6m-.2 .1h.6m0 0h.6m-.5-.1h.6m-.5-.6h.6m-.4 .4h.6m-.6-.3h.6m-.1 .2h.6m-.5-.3h.6m-.6 .2h.6m-.3 .4h.6m-.6 .3h.6m-.4-.7h.6m-.6 .1h.6m-.4 0h.6m.1 .2h.6m.4-.4h.6m-.3 .2h.6m2.7 .6h.6m12.7 .1h.6m6.4-.8h.6m-37.2 1.6h.6m2.7 .1h.6m.2-.1h.6m-.3 .2h.6m-.4-.6h.6m.5-.1h.6m-.5 .1h.6m-.3 .2h.6m-.5 0h.6m.3-.3h.6m-.2-.1h.6m-.5 .3h.6m-.5 .4h.6m-.5-.3h.6m-.2 0h.6m-.6-.4h.6m-.6 .4h.6m-.3-.2h.6m-.5 .4h.6m-.2-.6h.6m.3-.1h.6m-.5 .8h.6m-.4-.9h.6m-.6 .3h.6m-.5 .2h.6m-.6-.5h.6m-.6 .8h.6m-.5-.3h.6m-.6-.1h.6m-.4 .1h.6m-.4 0h.6m-.5 .5h.6m-.5-.2h.6m-.5-.1h.6m-.5-.6h.6m-.6 .7h.6m-.1-.2h.6m-.1 .3h.6m-.6 0h.6m-.5 0h.6m-.4-.1h.6m-.3-.5h.6m-.4 .1h.6m.7-.1h.6m1.4 .6h.6m13.9-.1h.6m.4-.7h.6m-.2 .1h.6m3.1 .8h.6m.1-.5h.6m.1-.4h.6m-.2 .5h.6m-.2-.3h.6m.5 .7h.6m.6-.5h.6m-41 .8h.6m3.5 .1h.6m-.1 .4h.6m-.1-.1h.6m.3 0h.6m-.4-.4h.6m-.3 .2h.6m-.1-.4h.6m-.6 .3h.6m-.5 .6h.6m-.6-1h.6m.1 .2h.6m-.4-.1h.6m-.3 .5h.6m-.3-.4h.6m-.6-.1h.6m-.5 .7h.6m-.3-.2h.6m-.5 .3h.6m-.4-.6h.6m-.5 .5h.6m-.4 .2h.6m-.3-.4h.6m-.5 0h.6m-.3 0h.6m-.6-.2h.6m-.5 .1h.6m-.3-.1h.6m-.6-.3h.6m-.5 .3h.6m-.5 .1h.6m-.5-.2h.6m-.4 .6h.6m-.5-.4h.6m-.5 .1h.6m-.6-.5h.6m-.3 .1h.6m-.2 .2h.6m-.1 .6h.6m-.5-.3h.6m-.6-.4h.6m-.5 .3h.6m-.4 0h.6m-.5-.3h.6m.5 .3h.6m17.4 .3h.6m1.3-.1h.6m-.5-.6h.6m.2 .3h.6m.1 .4h.6m-.3-.7h.6m.2 .4h.6m.1 .4h.6m-.1-.7h.6m-.1 .3h.6m2.3-.3h.6m.2-.1h.6m-40.9 1.8h.6m.8-.8h.6m-.1 .7h.6m-.6-.1h.6m.8-.2h.6m-.5-.2h.6m-.3 .1h.6m-.6-.5h.6m-.4 .9h.6m-.5-.4h.6m-.4 .5h.6m-.3-.2h.6m-.5-.4h.6m-.6-.4h.6m-.5 .5h.6m-.6 .2h.6m-.2 .1h.6m-.5 .1h.6m-.5-.3h.6m-.3 0h.6m-.4 .4h.6m-.2-.4h.6m-.6-.4h.6m-.5 .1h.6m-.6-.3h.6m-.5 .3h.6m-.6-.1h.6m-.6 .5h.6m-.5-.4h.6m-.5 .7h.6m-.5-.2h.6m-.6-.5h.6m-.2 .1h.6m-.5-.4h.6m-.6 .9h.6m-.6-.8h.6m-.5 .5h.6m-.5-.2h.6m-.6-.2h.6m-.5 .6h.6m-.6-.8h.6m-.4 1h.6m-.6-.2h.6m-.4-.1h.6m-.4-.7h.6m-.3 .2h.6m-.6 .3h.6m-.5 .4h.6m-.5-.7h.6m-.5 0h.6m-.5 .7h.6m.1-.2h.6m-.5-.7h.6m-.6 .3h.6m-.3 .4h.6m-.6 .1h.6m-.4-.1h.6m-.5 0h.6m-.6-.1h.6m-.5 .4h.6m-.4-1h.6m.4 .1h.6m.2 .4h.6m17.5-.5h.6m1.1 .9h.6m-.3-.4h.6m-.3-.2h.6m-.1-.1h.6m-.2 .3h.6m-.5-.3h.6m.3 .1h.6m-.5 .3h.6m-.6-.2h.6m.3 .1h.6m1.9-.5h.6m-40.1 1.7h.6m-.5 .3h.6m-.4-.6h.6m-.2-.4h.6m1.1 .4h.6m-.6 .2h.6m-.3 .2h.6m-.3-.3h.6m-.2-.1h.6m-.5 .5h.6m-.3-.9h.6m-.4 .6h.6m-.6-.5h.6m-.5 .5h.6m-.6 .1h.6m-.2 .1h.6m-.2-.6h.6m-.6 .4h.6m0 .2h.6m-.3-.1h.6m-.3-.2h.6m-.6 .4h.6m-.6-.5h.6m-.5 .1h.6m-.4-.3h.6m-.5 .7h.6m-.5-.2h.6m-.6-.4h.6m-.4 0h.6m-.6 .2h.6m-.4 .2h.6m-.6-.4h.6m-.6 .1h.6m-.6 .2h.6m-.6 .1h.6m-.5-.7h.6m-.6 .5h.6m-.5-.4h.6m-.6 0h.6m0 .7h.6m-.5-.4h.6m-.4 .2h.6m-.5-.1h.6m-.6 0h.6m-.5 .3h.6m-.5-.3h.6m-.2 0h.6m-.3-.2h.6m-.6 0h.6m-.5 .7h.6m-.5-.2h.6m-.2 0h.6m-.5 0h.6m-.5-.3h.6m-.4-.1h.6m-.6 .4h.6m-.2-.5h.6m.4-.2h.6m.4 .4h.6m1.7-.4h.6m-.4 .4h.6m0-.1h.6m16.2 .6h.6m.6-.9h.6m-.5 .1h.6m-.2 .7h.6m-.4 0h.6m-.2-.3h.6m-.4-.1h.6m.8-.1h.6m-.5 .1h.6m-.4-.3h.6m1 .6h.6m-.6-.5h.6m-.3 .5h.6m.4 0h.6m0 0h.6m-.5 0h.6m-.5-.6h.6m-.4 .8h.6m-.5-.3h.6m.5-.5h.6m-.3 .3h.6m-45.1 1.1h.6m.9-.3h.6m.7 .6h.6m-.6-.8h.6m-.2 .1h.6m-.5 .6h.6m-.2-.4h.6m-.5 .4h.6m-.1-.2h.6m.5-.5h.6m-.6 .3h.6m-.5 .5h.6m-.5-.8h.6m-.5 .7h.6m-.3-.3h.6m-.3 .2h.6m-.3-.1h.6m-.6-.3h.6m-.5 .3h.6m-.4-.2h.6m-.4 .4h.6m-.1-.6h.6m-.2 .6h.6m-.4-.5h.6m-.4 .5h.6m0-.6h.6m-.6 .1h.6m-.2 .6h.6m-.5-.8h.6m-.4 .2h.6m-.4 .6h.6m-.5 .1h.6m-.5-1h.6m-.5 .5h.6m-.5 .5h.6m-.6-.2h.6m-.5-.5h.6m-.3 .6h.6m-.5 .1h.6m-.3-.1h.6m-.6-.7h.6m-.5 .5h.6m-.6-.1h.6m-.4 .1h.6m-.4-.3h.6m-.5-.2h.6m-.6 .2h.6m-.5 0h.6m-.6 0h.6m-.1-.4h.6m0 .4h.6m-.5 .2h.6m-.6 .1h.6m-.5 .2h.6m-.3-.9h.6m-.2 .7h.6m-.4 .2h.6m-.6-.5h.6m.2-.2h.6m-.4-.2h.6m-.1 .5h.6m18.3-.1h.6m-.2 .2h.6m-.2-.3h.6m.1-.2h.6m-.1 .2h.6m.2 .2h.6m-.5-.1h.6m.6 .1h.6m-.1-.3h.6m-.1-.1h.6m-.1 .1h.6m-.5 .7h.6m-.6-.3h.6m.4-.6h.6m-38.9 1.6h.6m-.5-.6h.6m-.1 .3h.6m-.1 .2h.6m-.5 .3h.6m-.5-.1h.6m-.5 0h.6m-.5-.2h.6m-.3 .2h.6m-.5-.4h.6m-.5 .3h.6m0-.4h.6m-.1-.1h.6m-.6 .6h.6m-.5-.6h.6m-.6 .2h.6m-.4-.3h.6m-.6 .8h.6m-.5-.6h.6m-.5 .6h.6m-.5 0h.6m-.4-.4h.6m-.4 .2h.6m-.6 0h.6m-.4-.5h.6m-.6 .8h.6m-.5-.7h.6m-.6 .7h.6m-.6-.2h.6m-.5-.5h.6m-.5 .8h.6m-.6-.5h.6m-.4-.2h.6m-.6 .4h.6m-.6-.2h.6m-.1 .2h.6m-.6 .2h.6m-.6-.9h.6m-.6 .1h.6m-.6 .7h.6m-.5 0h.6m-.4-.1h.6m-.5 .2h.6m-.6-.3h.6m-.4 .1h.6m-.5-.5h.6m-.3 .1h.6m-.6 .6h.6m-.5 0h.6m-.6-.7h.6m-.5 .3h.6m-.6 .3h.6m-.5 .2h.6m-.5-.5h.6m-.5 .2h.6m-.5-.4h.6m-.6 .1h.6m-.2 .4h.6m-.5 .2h.6m-.6-.8h.6m-.4 .3h.6m-.6-.1h.6m-.5 .2h.6m.1-.1h.6m-.5 .2h.6m-.5-.4h.6m-.5-.3h.6m-.5 .7h.6m-.5-.1h.6m-.6 .2h.6m-.5 .2h.6m-.2-.3h.6m.1 .2h.6m-.4-.5h.6m-.6 .6h.6m.1-.5h.6m-.5 .4h.6m-.6-.8h.6m.4 .2h.6m-.4-.1h.6m-.4 0h.6m13.8 .4h.6m1-.2h.6m1.5-.3h.6m1.3 0h.6m-.5 .9h.6m-.3-.5h.6m-.5 .3h.6m-.3 .1h.6m-.6-.7h.6m-.3 .8h.6m.2-.7h.6m-.4 .6h.6m-.5-.6h.6m-.1 0h.6m-.3-.2h.6m-.2 .6h.6m-.5-.2h.6m-.3 0h.6m-.3 0h.6m-.5 0h.6m-.6-.4h.6m-.3 .8h.6m-.1-.6h.6m-.4-.3h.6m3.5 .3h.6m-.3-.2h.6m2.1 .7h.6m20-.7h.6m-72.5 1.1h.6m-.2 0h.6m4.1 .6h.6m-.6 0h.6m-.5 .2h.6m.9-.4h.6m-.6 .1h.6m-.3-.1h.6m-.5-.2h.6m-.5 .5h.6m-.6-.2h.6m-.2 .3h.6m-.6 0h.6m-.4-.4h.6m-.6 .1h.6m-.4 0h.6m-.4-.2h.6m-.2 .5h.6m-.6-.3h.6m-.5-.3h.6m-.6-.1h.6m-.1 .3h.6m-.5-.2h.6m-.6-.1h.6m-.5 .4h.6m-.6-.4h.6m-.4 .4h.6m-.5-.5h.6m-.6-.1h.6m-.3 0h.6m-.5 .4h.6m-.3-.1h.6m-.6-.3h.6m-.2 .5h.6m-.6 .3h.6m-.5-.8h.6m-.6 .9h.6m-.4-.5h.6m-.5 .3h.6m-.3-.6h.6m-.5 .5h.6m-.6-.4h.6m-.5 .5h.6m-.1-.6h.6m-.5 .1h.6m-.5-.2h.6m-.6 .6h.6m-.4 0h.6m-.6-.3h.6m-.6 .6h.6m-.3 0h.6m-.6-.4h.6m-.6-.5h.6m-.5-.1h.6m-.5 .2h.6m-.6 .2h.6m-.6-.3h.6m-.5 .2h.6m-.5 .3h.6m-.6 .4h.6m-.5-.5h.6m-.6-.3h.6m-.6 .7h.6m-.6-.4h.6m-.6 .5h.6m-.5-.3h.6m-.6-.7h.6m-.6 .2h.6m-.5 .6h.6m-.1 .2h.6m-.5-.2h.6m-.1-.5h.6m-.5-.1h.6m-.6-.2h.6m-.5 .9h.6m-.5 0h.6m-.5-.1h.6m-.4 0h.6m-.5-.7h.6m-.5 .7h.6m-.5-.1h.6m-.5-.2h.6m-.6 .2h.6m.1-.6h.6m-.5 .9h.6m-.2-.1h.6m-.2-.2h.6m.8 0h.6m.9 .1h.6m8.5-.8h.6m7.3 .3h.6m.5 0h.6m-.4 .1h.6m-.4 .6h.6m.1-.6h.6m.6 .1h.6m-.6 .5h.6m-.4-1h.6m-.5 0h.6m-.3 .7h.6m-.3 .2h.6m-.5-.5h.6m-.6-.4h.6m-.6 .4h.6m-.5-.2h.6m-.6 .1h.6m-.4 .4h.6m-.3-.4h.6m-.3-.2h.6m-.2 .3h.6m-.4 .6h.6m-.5-.4h.6m-.3-.4h.6m-.5 .1h.6m-.5 .5h.6m-.3-.6h.6m-.1 .4h.6m-.3-.6h.6m-.5 .3h.6m-.4 .3h.6m-.1 .4h.6m.3-.9h.6m-.2 .6h.6m-.3 0h.6m-.3-.7h.6m1.8 .3h.6m-47.1 .8h.6m0 .2h.6m-.5 0h.6m-.3 .2h.6m.7-.1h.6m-.5 .6h.6m-.2-.7h.6m-.3 .5h.6m-.4 0h.6m-.6-.1h.6m-.6-.3h.6m-.3 .6h.6m-.6-.6h.6m-.5-.2h.6m-.5 .1h.6m-.5 .1h.6m-.4 .2h.6m-.5-.5h.6m-.3 .4h.6m-.5-.1h.6m-.5-.3h.6m-.2 .1h.6m-.4 .6h.6m-.5 .2h.6m-.5-.7h.6m-.4 .2h.6m-.5-.2h.6m-.6 .5h.6m-.5-.7h.6m-.4 .5h.6m-.6 .3h.6m-.6-.1h.6m-.5-.1h.6m-.6-.1h.6m-.5-.2h.6m-.3 .5h.6m-.6-.3h.6m-.3-.3h.6m-.5 .6h.6m-.4 .1h.6m-.4-.6h.6m-.6 .3h.6m-.6-.2h.6m-.4-.5h.6m-.5 .9h.6m-.6-.1h.6m-.6-.8h.6m-.4 .1h.6m-.5 .8h.6m-.4-.3h.6m-.6-.4h.6m-.4-.1h.6m-.6 0h.6m-.4 .3h.6m-.4-.1h.6m-.6 .4h.6m-.3 .1h.6m-.5 .2h.6m-.3-.9h.6m-.5 .4h.6m-.6-.4h.6m-.6 .3h.6m-.4 .5h.6m-.5-.7h.6m-.5 0h.6m-.5 .5h.6m-.4 .1h.6m-.3-.3h.6m-.6 .2h.6m-.6-.4h.6m-.6 0h.6m-.4 .3h.6m-.5-.6h.6m-.3 .7h.6m-.6 0h.6m-.5 0h.6m-.5-.4h.6m-.5 .2h.6m-.1-.5h.6m-.6 0h.6m-.4 .3h.6m-.6-.1h.6m-.5 .7h.6m-.1-.3h.6m-.6-.4h.6m-.1 .7h.6m-.1-.5h.6m-.4 .2h.6m-.1 .3h.6m-.4 0h.6m3.2-.7h.6m13.7 .7h.6m.1-.3h.6m-.3 .2h.6m.6-.8h.6m-.5 .8h.6m-.4-.1h.6m-.5-.7h.6m-.2 .3h.6m-.5 .4h.6m-.6-.2h.6m-.6 .1h.6m-.4-.3h.6m-.4 .1h.6m.3 .2h.6m-.5-.2h.6m-.5 .2h.6m-.4-.2h.6m0 .4h.6m-.5 0h.6m-.5-.1h.6m-.1-.6h.6m-.6 .6h.6m-.5-.3h.6m-.6-.3h.6m-.5 .1h.6m.1 .2h.6m-.6 .5h.6m.2-.6h.6m-.2 .4h.6m-.4 .1h.6m-.5 .1h.6m-.6-.3h.6m-.5-.6h.6m0 .2h.6m-.5-.1h.6m-.1 .4h.6m-.4 .1h.6m-.5-.4h.6m-.3 .5h.6m-.5-.2h.6m-.3 .1h.6m.2-.4h.6m-.5 .7h.6m-44.8 .5h.6m.2 0h.6m-.1 .3h.6m-.4 .3h.6m-.4-.9h.6m0 .1h.6m-.3 .3h.6m-.5-.4h.6m-.5 .6h.6m-.4 0h.6m-.4-.5h.6m-.5 0h.6m-.6 .7h.6m-.4-.9h.6m-.5 0h.6m-.5 .9h.6m-.5-.3h.6m-.6 .3h.6m-.4-.3h.6m-.6 .1h.6m-.4 .1h.6m-.5 .2h.6m-.6-.9h.6m-.5 .3h.6m-.3-.4h.6m-.4 .7h.6m-.5-.1h.6m-.4 .2h.6m-.6-.6h.6m-.6 .3h.6m-.4 .2h.6m-.5 0h.6m-.4 0h.6m-.3-.7h.6m-.3 .1h.6m-.5 0h.6m-.6 .8h.6m-.5-.4h.6m-.4-.1h.6m-.6 0h.6m-.5 .5h.6m-.5-.9h.6m-.6 .3h.6m-.4 .7h.6m-.5-.2h.6m-.6-.5h.6m-.6 .7h.6m-.6-.3h.6m-.5-.7h.6m-.4 .7h.6m-.6 0h.6m-.6-.5h.6m-.5 .4h.6m-.6-.5h.6m-.6 .9h.6m-.5-.8h.6m-.5 .1h.6m-.5 0h.6m-.5-.2h.6m-.4 .8h.6m-.4 0h.6m-.5-.8h.6m-.5 .2h.6m-.3 .2h.6m.1-.3h.6m-.6 .4h.6m-.5-.1h.6m-.5 0h.6m-.2 .3h.6m-.5-.5h.6m-.1 .5h.6m-.6-.8h.6m-.6 .1h.6m0 .6h.6m-.1 0h.6m-.3-.5h.6m-.6 .2h.6m0 .1h.6m.8 0h.6m.8 0h.6m12.1-.5h.6m4 .4h.6m-.3 .4h.6m0-.7h.6m-.4 .5h.6m-.2-.4h.6m-.5 .7h.6m-.5 .1h.6m-.4-.8h.6m-.6 .4h.6m-.6-.2h.6m-.4-.2h.6m0 .4h.6m-.3 0h.6m-.6-.3h.6m-.4 .2h.6m-.4-.1h.6m-.5 .6h.6m-.4 0h.6m-.4-.1h.6m-.4-.2h.6m-.5-.3h.6m-.2-.3h.6m-.5 .8h.6m-.6 .1h.6m-.4-.4h.6m-.5-.2h.6m-.5 .2h.6m-.5 .2h.6m-.3-.7h.6m-.5 .7h.6m-.4-.2h.6m-.5-.3h.6m-.6-.1h.6m-.6 .4h.6m-.6 .4h.6m-.5-.2h.6m-.5-.2h.6m-.4-.5h.6m-.6 0h.6m-.5 .9h.6m-.4-.7h.6m-.6 0h.6m-.5 .1h.6m-.4 .1h.6m-.5 .2h.6m-.3-.2h.6m-.5 .5h.6m-.5-.7h.6m-.6 .3h.6m-.3 0h.6m.1 .4h.6m-.5-.9h.6m-.6 .7h.6m-.5-.4h.6m-.5 .5h.6m-.5 0h.6m-.4-.3h.6m-.4-.2h.6m-.2-.1h.6m-.4-.1h.6m.6 .6h.6m-.4-.7h.6m-.4 .4h.6m-51.3 1.4h.6m2.2-.2h.6m2.8 0h.6m.4 0h.6m-.1-.5h.6m-.4 .5h.6m-.5 0h.6m.5-.2h.6m-.4-.2h.6m-.1 .5h.6m-.6-.4h.6m-.6 .4h.6m-.5 .1h.6m-.6-.1h.6m-.5-.4h.6m-.4 .1h.6m-.5 .4h.6m-.4 0h.6m-.4-.4h.6m-.6 .3h.6m-.5-.8h.6m-.6 .7h.6m-.6-.6h.6m-.6 .2h.6m-.5 .3h.6m-.4-.3h.6m-.6 .7h.6m-.5-.4h.6m-.5 .1h.6m-.5-.3h.6m-.4-.2h.6m-.6 .5h.6m-.6-.4h.6m-.4 .2h.6m-.6 .3h.6m-.4-.7h.6m-.5 .7h.6m-.6 0h.6m-.4-.6h.6m-.5 .6h.6m-.1-.6h.6m-.4 .1h.6m-.6 0h.6m-.6 0h.6m-.6 .4h.6m-.5 0h.6m-.4-.1h.6m-.6 .3h.6m-.4-.2h.6m-.5 .2h.6m-.4-.5h.6m-.5 .2h.6m-.5 0h.6m-.5-.2h.6m-.5-.2h.6m-.3 .6h.6m-.4-.8h.6m-.5 .9h.6m-.1-.2h.6m-.4 .2h.6m-.5-.8h.6m-.5 .1h.6m-.5 .8h.6m-.4-.6h.6m-.6 .3h.6m-.6-.6h.6m-.4 0h.6m-.5 .4h.6m-.5 .3h.6m-.6-.8h.6m-.6 .5h.6m-.4 .3h.6m-.3-.7h.6m-.5 .7h.6m-.3-.1h.6m-.4-.4h.6m-.5 .1h.6m-.6 .3h.6m-.5-.5h.6m-.5 .5h.6m-.5 .1h.6m-.2-.4h.6m-.4 .5h.6m-.4-.6h.6m-.5-.2h.6m-.6 .8h.6m-.1 0h.6m-.1-.8h.6m.4 .1h.6m-.4 .7h.6m.9-.8h.6m.2 0h.6m15.1 .5h.6m-.5-.5h.6m-.2 .6h.6m-.2-.6h.6m.2 .3h.6m-.6 .3h.6m-.4 .3h.6m.5-.7h.6m-.5 .4h.6m-.6-.3h.6m-.6 0h.6m0 .6h.6m-.3-.5h.6m-.6 .1h.6m-.5 .1h.6m-.6 .1h.6m-.4 .1h.6m-.4 0h.6m-.2-.1h.6m-.4 .1h.6m-.2-.6h.6m-.6-.1h.6m-.4 .1h.6m-.5 .5h.6m-.6-.2h.6m-.4-.4h.6m-.4 0h.6m-.5 .7h.6m-.5-.8h.6m-.5 .1h.6m-.5-.2h.6m-.5 .5h.6m-.5-.3h.6m-.5 .8h.6m-.6-.1h.6m-.6-.3h.6m-.4-.5h.6m-.6 .5h.6m-.2-.5h.6m-.3 .8h.6m-.6-.6h.6m-.4 .6h.6m-.5-.8h.6m-.4 .6h.6m-.5-.4h.6m-.5 .4h.6m-.5-.5h.6m-.4 0h.6m-.5 .2h.6m-.6 .3h.6m-.5-.2h.6m-.3-.1h.6m-.4-.2h.6m-.4 .1h.6m-.6-.3h.6m-.4 .4h.6m-.5 .5h.6m-.5-.9h.6m-.2 .8h.6m.3-.1h.6m4.5-.3h.6m-53.1 1.3h.6m.4-.7h.6m.2 .5h.6m.8 .2h.6m-.2-.4h.6m-.1 .1h.6m-.1 .4h.6m-.4 .1h.6m-.6-.6h.6m0 .3h.6m-.5 .4h.6m-.4 0h.6m-.5-.5h.6m-.3 .1h.6m-.5-.3h.6m-.5 .7h.6m-.6-.7h.6m-.5-.2h.6m-.5 .6h.6m-.6 .2h.6m-.5-.7h.6m-.6-.2h.6m-.2 .1h.6m-.2 .9h.6m-.6-.4h.6m-.5 .2h.6m-.2-.7h.6m-.3 .5h.6m-.5 .2h.6m-.1-.2h.6m-.6-.5h.6m-.5 .4h.6m-.5-.3h.6m-.6 .7h.6m-.6-.2h.6m-.6-.1h.6m-.5 .3h.6m-.6-.6h.6m-.5 .3h.6m-.6 .3h.6m-.6-.2h.6m-.5 0h.6m-.5-.2h.6m-.6-.1h.6m-.4 .4h.6m-.4-.4h.6m-.6 .2h.6m-.5-.3h.6m-.5-.3h.6m-.5 .2h.6m-.6 .2h.6m-.4 .1h.6m-.6 .1h.6m-.5-.5h.6m-.6 .5h.6m-.6 .1h.6m-.5-.2h.6m-.5 .4h.6m-.5-.8h.6m-.6 .4h.6m-.4 .2h.6m-.4-.5h.6m-.5 .1h.6m-.5-.2h.6m-.4 .2h.6m-.4-.1h.6m-.6 .1h.6m-.6 .6h.6m-.4 0h.6m-.5-.5h.6m-.5 .3h.6m-.6-.3h.6m-.5 .2h.6m-.5-.2h.6m-.3 .2h.6m-.3-.5h.6m-.5 .2h.6m-.5-.3h.6m-.6 .1h.6m-.6 .4h.6m-.5-.2h.6m-.4 .4h.6m-.4-.5h.6m-.4 .6h.6m-.5-.8h.6m-.2 .4h.6m-.6-.3h.6m-.4-.1h.6m-.5 1h.6m-.5-1h.6m-.3 .9h.6m-.5-.5h.6m-.1 .1h.6m-.3-.3h.6m-.5-.1h.6m20.4 .9h.6m-.5-.4h.6m.2 .1h.6m-.1 0h.6m-.6-.2h.6m-.2-.1h.6m-.5-.2h.6m-.5 .7h.6m-.6-.5h.6m-.5-.1h.6m-.6 .6h.6m-.6-.5h.6m-.5-.3h.6m-.6 .7h.6m-.6-.3h.6m-.2 0h.6m-.5 .4h.6m-.4-.7h.6m-.6 .3h.6m-.4-.1h.6m-.4 .1h.6m-.6-.2h.6m-.5 .1h.6m-.3 .1h.6m-.5 .3h.6m-.5-.3h.6m-.6 0h.6m-.5 .1h.6m-.5-.1h.6m-.4-.4h.6m-.6 .1h.6m-.6 .1h.6m-.4 .2h.6m-.6 .3h.6m-.5 .2h.6m-.5-.1h.6m-.5-.1h.6m-.4-.3h.6m-.5-.5h.6m-.5 .8h.6m-.5-.6h.6m-.5 .6h.6m-.4-.5h.6m-.5 .2h.6m-.6-.2h.6m-.4-.1h.6m-.6 .1h.6m-.5-.3h.6m-.4 .2h.6m-.6 .5h.6m-.6-.1h.6m-.4 .4h.6m-.6-.1h.6m-.4-.8h.6m-.5 .8h.6m-.5 0h.6m-.5 0h.6m-.5-.6h.6m-.5 0h.6m-.3-.1h.6m-.6 .4h.6m-.5 .1h.6m-.4-.1h.6m-.6 .2h.6m-.6-.5h.6m-.4-.3h.6m-.4 .6h.6m-.5 0h.6m-.5-.5h.6m-.5 0h.6m-.3 .9h.6m-.2-1h.6m-.5 1h.6m-.4-1h.6m.6 .8h.6m-.5-.1h.6m1.4-.2h.6m-50.3 1.2h.6m.8 .1h.6m-.1-.7h.6m1 .8h.6m-.3-.1h.6m-.5-.2h.6m-.3 0h.6m-.6 .3h.6m0-.6h.6m-.3 .6h.6m-.6-.2h.6m-.6 .2h.6m-.5-.9h.6m0 .5h.6m-.5 .1h.6m-.4-.4h.6m-.5 .8h.6m-.5-.9h.6m-.5 .5h.6m-.4 .3h.6m-.3 0h.6m-.6-.8h.6m-.5 .9h.6m-.6-.1h.6m-.4 0h.6m-.5-.4h.6m-.5-.5h.6m-.3 .9h.6m-.6-.1h.6m-.4-.8h.6m-.6 .8h.6m-.4-.2h.6m-.4-.3h.6m-.5 .5h.6m-.5-.1h.6m-.6-.2h.6m-.6-.2h.6m-.5-.3h.6m-.6 .8h.6m-.5 0h.6m-.4 .2h.6m-.4-.9h.6m-.5 .3h.6m-.4 0h.6m-.4 .3h.6m-.5 .3h.6m-.4-.4h.6m-.5 .3h.6m-.3-.2h.6m-.5-.1h.6m-.6-.4h.6m-.5 .1h.6m-.6 .3h.6m-.6 .1h.6m-.5-.5h.6m-.6 .4h.6m-.5-.4h.6m-.4 .1h.6m-.6 .7h.6m-.5-.2h.6m-.5 0h.6m-.5-.5h.6m-.5-.3h.6m-.5 .6h.6m-.5 .2h.6m-.4-.5h.6m-.1-.1h.6m-.6 .7h.6m-.5-.3h.6m-.4-.2h.6m-.6 .1h.6m-.5-.3h.6m-.6 .2h.6m-.4-.3h.6m-.6 .4h.6m-.4-.1h.6m-.4-.1h.6m-.5-.2h.6m-.5 .2h.6m-.5 .7h.6m-.4-.4h.6m-.3-.4h.6m-.6 .5h.6m-.3-.3h.6m-.5-.3h.6m-.5 .7h.6m-.1-.5h.6m-.5-.1h.6m2.3 .3h.6m14 .4h.6m1.5 .1h.6m.1-.6h.6m.3 0h.6m-.2-.1h.6m-.5 .3h.6m-.4 .4h.6m-.2-.2h.6m-.2-.2h.6m-.4-.1h.6m-.4-.5h.6m-.5 .3h.6m-.3-.2h.6m-.3 .7h.6m-.6-.6h.6m-.5-.1h.6m-.6 .2h.6m-.4 .5h.6m-.5-.1h.6m-.2 .2h.6m-.5-.8h.6m-.5 .1h.6m-.5 .3h.6m-.4-.1h.6m-.5 0h.6m-.5-.2h.6m-.5 .8h.6m-.5-.3h.6m-.6-.6h.6m-.6 .3h.6m-.6-.3h.6m-.6 .5h.6m-.5-.1h.6m-.4 .1h.6m-.6 .3h.6m-.5 0h.6m-.3-.2h.6m-.6 0h.6m-.5-.4h.6m-.4 .2h.6m-.5 0h.6m-.6 0h.6m-.5-.3h.6m-.4 .4h.6m-.4 .4h.6m-.4-.3h.6m-.5 0h.6m-.6-.5h.6m-.5 .4h.6m-.6-.2h.6m-.5 .5h.6m-.5-.2h.6m-.6-.3h.6m-.5 .4h.6m-.6 .1h.6m-.3-.1h.6m-.6-.7h.6m-.5 .8h.6m-.5-.3h.6m-.5-.3h.6m-.2 .1h.6m-.6 .6h.6m-.6-.5h.6m-.5 .1h.6m-.4-.3h.6m-.5 .2h.6m-.6 .3h.6m-.2-.7h.6m-.5 .8h.6m-.6-.1h.6m-.6-.4h.6m-.4 0h.6m-.4 .2h.6m-.2-.1h.6m-.6-.3h.6m-.4 .4h.6m-.5 .2h.6m-.5-.5h.6m-.5 .4h.6m-.2-.5h.6m-.4 .2h.6m-.5 .4h.6m-.3-.6h.6m0-.1h.6m.2 .8h.6m-51.8 .9h.6m-.2-.4h.6m.8 .4h.6m1.2 .1h.6m.2-.4h.6m0 .1h.6m-.6 .1h.6m-.1-.1h.6m0-.3h.6m-.5-.1h.6m-.6 .6h.6m0-.5h.6m-.5 .6h.6m-.5-.8h.6m-.4 .5h.6m-.5 .1h.6m-.6 .1h.6m-.5 0h.6m-.4-.1h.6m-.5 .2h.6m-.5-.7h.6m-.6 .7h.6m-.4-.5h.6m0 .3h.6m-.4 .3h.6m-.3-.1h.6m-.4-.4h.6m-.6 .4h.6m-.5-.3h.6m0-.5h.6m-.6 .7h.6m-.5-.6h.6m-.1 .6h.6m-.3-.6h.6m-.5 .2h.6m-.5 .5h.6m-.6-.5h.6m-.4-.1h.6m-.3 .3h.6m-.5-.3h.6m-.6 .5h.6m-.6-.3h.6m-.6 .3h.6m-.4-.7h.6m-.5 0h.6m-.5 .1h.6m-.5 .2h.6m-.6 .1h.6m-.3 0h.6m-.6 .5h.6m-.5-.4h.6m-.6 .3h.6m-.4-.5h.6m-.6 .6h.6m-.5-.6h.6m-.4-.1h.6m-.5 0h.6m-.6 .4h.6m-.6-.4h.6m-.6 .2h.6m-.6 .5h.6m-.6-.3h.6m-.3 .3h.6m-.5-.1h.6m-.1 0h.6m-.6-.8h.6m-.5-.1h.6m-.5 1h.6m-.5-.5h.6m-.5-.2h.6m-.3 .4h.6m-.4 .2h.6m-.4-.2h.6m0-.3h.6m.4-.4h.6m-.4 .9h.6m-.4 0h.6m-.5-.3h.6m.2-.2h.6m0 0h.6m.3 .4h.6m16.2-.1h.6m1.1 0h.6m-.6-.2h.6m-.1 .4h.6m.7-.4h.6m-.6-.5h.6m-.6 .3h.6m-.6 .5h.6m-.2-.1h.6m-.5 .1h.6m-.6-.2h.6m.2 0h.6m-.5 .2h.6m-.1-.2h.6m-.4 .2h.6m-.6-.3h.6m-.5 .4h.6m-.6-.8h.6m-.4 .1h.6m-.6 .1h.6m-.4 .1h.6m-.6 0h.6m-.6 .5h.6m-.5-.2h.6m-.6 .2h.6m-.1-.7h.6m-.6 .7h.6m-.5 .1h.6m-.6-.9h.6m-.5 .4h.6m-.5 .3h.6m-.6-.7h.6m-.4 0h.6m-.5 .6h.6m-.4-.3h.6m-.5 .5h.6m-.5-.8h.6m-.6 .1h.6m-.6 .2h.6m-.6 .5h.6m-.5-.2h.6m-.6 .2h.6m-.4-.3h.6m-.6 .1h.6m-.5-.5h.6m-.6 .1h.6m-.6 .3h.6m-.4-.1h.6m-.6 0h.6m-.6-.2h.6m-.5 .3h.6m-.5-.4h.6m-.6 .4h.6m-.5-.4h.6m-.4 0h.6m-.6 .4h.6m-.5 .1h.6m-.5-.2h.6m-.5-.2h.6m-.4 0h.6m-.6 .6h.6m-.2 .1h.6m-.5-.4h.6m-.5-.3h.6m-.4 .4h.6m-.5-.1h.6m-.6 0h.6m-.5-.3h.6m-.6 .5h.6m-.5 .2h.6m-.4-.3h.6m-.6-.2h.6m-.5-.3h.6m0 .2h.6m.1-.4h.6m-.3 .6h.6m-.5-.2h.6m.3 .3h.6m-.2-.5h.6m-.1 0h.6m-.2 .1h.6m0 .5h.6m-.5-.4h.6m1.9-.1h.6m6.2 .1h.6m-63.2 1.6h.6m-.5-.9h.6m1.4 .5h.6m.4 .1h.6m1.5-.5h.6m-.5 .6h.6m.4-.7h.6m-.3 .7h.6m.1-.6h.6m-.4 .1h.6m.5 .1h.6m-.5 .5h.6m-.4-.7h.6m-.5-.2h.6m.2 .2h.6m-.3 0h.6m-.5 .5h.6m-.2-.2h.6m-.3 .3h.6m-.6-.6h.6m-.5 .6h.6m-.5-.7h.6m-.3 .4h.6m0-.4h.6m-.4 .4h.6m-.6 .2h.6m-.3-.4h.6m-.2 .3h.6m-.3 0h.6m-.4 .3h.6m-.5 0h.6m-.6-.1h.6m-.5-.7h.6m-.5 .8h.6m.2-.1h.6m-.6-.1h.6m.1-.2h.6m-.6 .4h.6m-.5-.3h.6m-.6-.4h.6m-.4-.2h.6m-.5 .1h.6m-.5 0h.6m.2 .2h.6m-.5 .5h.6m-.3-.6h.6m-.4 .3h.6m-.4 .1h.6m-.6-.4h.6m-.3 0h.6m-.6 .5h.6m0-.3h.6m-.4 .4h.6m-.5-.8h.6m1 .3h.6m19.6-.1h.6m-.5 .4h.6m-.4-.5h.6m.1 .6h.6m-.2-.6h.6m-.5 .8h.6m-.4-.7h.6m-.6 .1h.6m-.4 .6h.6m-.3-.8h.6m.1 .6h.6m-.6-.2h.6m-.3-.2h.6m-.6 .1h.6m-.5-.3h.6m-.5 .3h.6m-.5 .3h.6m-.6-.5h.6m-.5-.1h.6m-.5-.1h.6m-.5 1h.6m-.6-.7h.6m-.2 0h.6m-.6 .2h.6m-.5 .4h.6m-.5-.2h.6m-.6-.4h.6m-.6 0h.6m-.5-.1h.6m-.5 .5h.6m-.5 .2h.6m-.4-.4h.6m-.6-.1h.6m-.5 .3h.6m-.5-.6h.6m-.6 .2h.6m-.6 .4h.6m-.5-.4h.6m-.5 .5h.6m-.6-.1h.6m-.6-.3h.6m-.5 .5h.6m-.6-.1h.6m-.6 .1h.6m-.5 0h.6m-.5-.4h.6m-.4 .4h.6m-.4-.4h.6m-.5 .1h.6m-.6 0h.6m-.6 .3h.6m-.6-.9h.6m-.6 .3h.6m-.5 .4h.6m-.5 0h.6m-.5 .1h.6m-.6 0h.6m-.5-.3h.6m-.5 .4h.6m-.5-.3h.6m-.3-.4h.6m-.5 .5h.6m-.5 .1h.6m-.6-.6h.6m-.6 .7h.6m-.5-.1h.6m-.3 .1h.6m-.6 0h.6m-.5-.1h.6m-.4 0h.6m-.6-.4h.6m-.3 .1h.6m-.4 .1h.6m-.6-.4h.6m-.5-.2h.6m-.5 1h.6m-.5-.7h.6m-.6-.3h.6m-.5 .4h.6m-.4 0h.6m-.3-.4h.6m0 .2h.6m-.6 .7h.6m-.3 .1h.6m-.3-.8h.6m-.5 .7h.6m-.5-.7h.6m-.5 .2h.6m-.5 0h.6m-.3-.2h.6m-.6-.2h.6m1.4 .7h.6m.6-.3h.6m-58.4 1.3h.6m.2 0h.6m1.9-.2h.6m-.2-.1h.6m1.4 .6h.6m1.1-.7h.6m-.3 .6h.6m-.5 0h.6m-.4-.4h.6m0-.3h.6m-.3 .3h.6m.4 .4h.6m-.5-.1h.6m-.2 .1h.6m-.1-.6h.6m-.6-.1h.6m-.4 .1h.6m-.4-.2h.6m-.5 .8h.6m-.4-.7h.6m-.5 .3h.6m-.5 .4h.6m-.6-.8h.6m-.5 .3h.6m-.2-.2h.6m-.3 .1h.6m-.4 .6h.6m-.4-.7h.6m-.5 .4h.6m-.5-.5h.6m-.1 .5h.6m-.6 .1h.6m-.1 .2h.6m-.5-.1h.6m-.6-.2h.6m-.5 .2h.6m-.5-.5h.6m-.6 0h.6m-.4-.3h.6m-.6 .8h.6m-.6 0h.6m0-.1h.6m-.6 0h.6m-.6 .2h.6m-.4-.6h.6m-.5-.1h.6m-.5 .1h.6m-.4 .7h.6m-.3-.6h.6m-.5 0h.6m-.6-.3h.6m-.3 .7h.6m-.2-.4h.6m-.5 .4h.6m-.5-.3h.6m-.5-.2h.6m-.5 .4h.6m-.6-.2h.6m-.3-.4h.6m-.2 .3h.6m-.5 .6h.6m-.6-.9h.6m-.5 .8h.6m-.5-.2h.6m0 .1h.6m-.3-.4h.6m-.3-.2h.6m-.6 .2h.6m-.3 .2h.6m-.5-.3h.6m-.2 .2h.6m-.4-.3h.6m20.4 .1h.6m-.1-.2h.6m.6 .4h.6m0-.1h.6m-.5 .3h.6m-.3-.2h.6m-.6 .1h.6m-.4-.2h.6m-.3-.2h.6m-.5 .5h.6m-.6-.6h.6m-.5 .8h.6m-.4-.6h.6m-.4 .5h.6m-.4-.1h.6m-.5 .2h.6m-.5-.3h.6m-.6-.5h.6m-.5 .6h.6m-.3-.2h.6m-.6-.3h.6m-.3 .3h.6m-.5-.1h.6m-.6 .6h.6m-.3-.7h.6m-.4 .3h.6m-.6-.2h.6m-.4-.3h.6m-.6-.1h.6m-.5 .3h.6m-.6-.2h.6m-.5 .2h.6m-.4-.2h.6m-.5 .3h.6m-.4 .1h.6m-.6 .2h.6m-.5 0h.6m-.3 .2h.6m-.6-.2h.6m-.4-.2h.6m-.6 .5h.6m-.6 0h.6m-.6-1h.6m-.5 .2h.6m-.6 .7h.6m-.6 .1h.6m-.5-.9h.6m-.6 .2h.6m-.6 .7h.6m-.6-.4h.6m-.4-.4h.6m-.6 .1h.6m-.6 .2h.6m-.3 .2h.6m-.6 .2h.6m-.5-.8h.6m-.5 .2h.6m-.4 .3h.6m-.6 .3h.6m-.5 0h.6m-.6-.7h.6m-.6 .1h.6m-.5 .1h.6m-.6-.4h.6m-.5 1h.6m-.6-1h.6m-.5 .2h.6m-.5 .2h.6m-.5 .3h.6m-.5-.1h.6m-.6 .2h.6m-.6 .2h.6m-.5-.6h.6m-.4 .4h.6m-.6-.4h.6m-.5-.1h.6m-.6 0h.6m-.6-.2h.6m-.5-.1h.6m-.6 .2h.6m-.6 .6h.6m-.4 0h.6m-.5-.7h.6m-.4 .5h.6m-.6-.2h.6m-.5 .3h.6m-.6-.4h.6m-.6 .2h.6m-.5-.2h.6m-.6 .6h.6m-.5-.2h.6m-.5-.3h.6m-.6-.2h.6m-.5 .4h.6m-.6-.1h.6m-.5 0h.6m-.5-.4h.6m-.4 .6h.6m-.6 .1h.6m-.5 .1h.6m-.5-.8h.6m-.3 .6h.6m-.2-.4h.6m-.5 0h.6m-.2 .1h.6m-.4 0h.6m-.6-.2h.6m-.4 .6h.6m.1-.4h.6m-.4 .5h.6m.4-.5h.6m2.4 0h.6m-57.4 1.2h.6m0 .1h.6m-.6 .2h.6m.1-.2h.6m-.5 .1h.6m-.1-.6h.6m-.2 .7h.6m-.5 .1h.6m.5-.5h.6m-.2-.4h.6m.4 .3h.6m0 0h.6m.1 .5h.6m.2-.7h.6m-.5 .7h.6m.2-.4h.6m-.4-.2h.6m-.4 .4h.6m-.5-.1h.6m-.6 .1h.6m-.1 .1h.6m-.2-.8h.6m0 .9h.6m-.6-.3h.6m-.5 .4h.6m-.6-.4h.6m-.6 0h.6m-.3-.6h.6m-.5 .7h.6m-.5 0h.6m-.6-.1h.6m-.4-.1h.6m-.3-.3h.6m-.5-.1h.6m-.4 .3h.6m-.5 .1h.6m-.1-.1h.6m-.6 .3h.6m-.1-.5h.6m-.6 .1h.6m-.4 .7h.6m-.5-.2h.6m-.2-.7h.6m-.6 .3h.6m-.1-.2h.6m-.5 .6h.6m-.5-.5h.6m-.3 0h.6m-.6 0h.6m-.5 .3h.6m-.6 .3h.6m-.6-.3h.6m-.3-.2h.6m-.3-.4h.6m-.2 .1h.6m-.6 .6h.6m-.2-.4h.6m.2 .3h.6m-.4-.4h.6m-.1 .7h.6m-.5-.4h.6m-.5 .1h.6m22.8-.4h.6m-.2 .2h.6m-.5 .6h.6m-.3-.8h.6m0 .2h.6m-.5-.2h.6m-.4 .7h.6m-.5-.2h.6m-.2 0h.6m-.6-.6h.6m-.1 .5h.6m-.4 .1h.6m-.5 .1h.6m-.4-.2h.6m-.5-.3h.6m0 .2h.6m-.6-.4h.6m-.4 .8h.6m-.6-.7h.6m-.6 .3h.6m-.6 0h.6m-.5 0h.6m-.5 .2h.6m-.6-.3h.6m-.6 .6h.6m-.5-.3h.6m-.4 .2h.6m-.4-.7h.6m-.6 0h.6m-.6-.1h.6m-.6 0h.6m-.4 0h.6m-.5 .1h.6m-.6 .5h.6m-.5-.1h.6m-.5 0h.6m-.6 0h.6m-.6 .2h.6m-.5-.6h.6m-.5 .6h.6m-.6-.8h.6m-.5 .1h.6m-.6 0h.6m-.5 .3h.6m-.5-.2h.6m-.6-.1h.6m-.5 .1h.6m-.6 .4h.6m-.5-.5h.6m-.6 .6h.6m-.5 .3h.6m-.5-.9h.6m-.5 .7h.6m-.5-.7h.6m-.6 .5h.6m-.5 .4h.6m-.6-.5h.6m-.6 .5h.6m-.5-.3h.6m-.6 .3h.6m-.5-.9h.6m-.6 .6h.6m-.4 0h.6m-.5-.4h.6m-.6 .5h.6m-.6-.7h.6m-.4 .8h.6m-.6-.5h.6m-.5 .2h.6m-.5 .3h.6m-.5-.8h.6m-.6 .3h.6m-.5 .1h.6m-.6-.4h.6m-.5 .1h.6m-.5 .7h.6m-.5-.6h.6m-.6 .1h.6m-.5 .6h.6m-.6-.7h.6m-.6 .3h.6m-.5-.1h.6m-.6 .3h.6m-.6-.7h.6m-.6 .8h.6m-.5-.2h.6m-.4 0h.6m-.5 0h.6m-.3-.7h.6m-.5 .8h.6m-.5-.3h.6m-.5 0h.6m-.6 .4h.6m-.5-.5h.6m-.5 .2h.6m-.5-.5h.6m-.5 .1h.6m-.5 .1h.6m-.1 .6h.6m-.6-.1h.6m-.3-.4h.6m-.4 0h.6m-.4 .1h.6m.3-.1h.6m-.5-.1h.6m-.4 .2h.6m-.1-.4h.6m-.4 .2h.6m-.1 .3h.6m-54.9 1.3h.6m-.4-.3h.6m-.5 .4h.6m-.4-.8h.6m-.6 0h.6m-.3 .6h.6m0-.3h.6m.6 .2h.6m1.4-.6h.6m-.5 .3h.6m-.5-.1h.6m-.5 .6h.6m-.5-.2h.6m-.5-.1h.6m-.6-.6h.6m-.4 .3h.6m-.6-.3h.6m-.5 .1h.6m-.3 .7h.6m.1-.5h.6m-.5-.1h.6m-.4-.1h.6m-.3 .6h.6m-.6 .1h.6m-.2-.6h.6m-.4 .7h.6m-.6-.1h.6m-.5-.3h.6m-.5 .3h.6m-.5-.4h.6m-.5 .3h.6m-.5-.5h.6m-.4 .6h.6m-.4 0h.6m-.5 .1h.6m-.6-.2h.6m-.4-.3h.6m-.4 .2h.6m-.2-.3h.6m.3 .6h.6m-.2-.3h.6m-.5 .1h.6m-.4-.3h.6m-.1-.1h.6m-.6 0h.6m-.5 .6h.6m-.6-.1h.6m-.5-.4h.6m-.3 .1h.6m-.4 .3h.6m-.6-.3h.6m-.5 .4h.6m-.4-.3h.6m-.5-.5h.6m-.5 .2h.6m.1 .6h.6m-.2 0h.6m-.5-.3h.6m-.4 .2h.6m-.5-.3h.6m-.1 .1h.6m-.6-.5h.6m-.5 .4h.6m-.4-.2h.6m-.5 .2h.6m-.5 .2h.6m-.5 0h.6m-.1-.4h.6m-.6-.1h.6m.1 .4h.6m-.4-.2h.6m-.5 .4h.6m-.5-.3h.6m-.4-.4h.6m.5 .1h.6m-.5 .5h.6m23.1-.1h.6m-.2-.3h.6m0-.2h.6m-.6 0h.6m-.3 .4h.6m-.6-.3h.6m-.4 0h.6m.1 .4h.6m-.5-.2h.6m-.6 .3h.6m-.5 0h.6m-.2-.6h.6m-.4 .5h.6m-.5-.3h.6m-.5 0h.6m-.5 .5h.6m-.5-.4h.6m-.6 .3h.6m-.6-.6h.6m-.6 .3h.6m-.5-.2h.6m-.4 .6h.6m-.4-.6h.6m-.5 .5h.6m-.6-.6h.6m-.6 .4h.6m-.5-.1h.6m-.5-.1h.6m-.5-.2h.6m-.6 .1h.6m-.5 .5h.6m-.6-.5h.6m-.5 .5h.6m-.6-.1h.6m-.6-.4h.6m-.4 .6h.6m-.5 .2h.6m-.6-.2h.6m-.6-.5h.6m-.5-.2h.6m-.6 .3h.6m-.5 0h.6m-.6-.1h.6m-.5 .1h.6m-.6 .3h.6m-.5-.3h.6m-.5 .3h.6m-.6 .2h.6m-.5-.1h.6m-.6-.1h.6m-.5-.1h.6m-.5-.2h.6m-.5 .3h.6m-.6-.1h.6m-.4 0h.6m-.4-.4h.6m-.6 .2h.6m-.6-.1h.6m-.5 .1h.6m-.3 .4h.6m-.6 0h.6m-.3-.8h.6m-.6 .4h.6m-.5-.2h.6m-.6 .1h.6m-.6 .2h.6m-.6 0h.6m-.5 0h.6m-.5 .2h.6m-.4-.7h.6m-.5 .7h.6m-.6-.1h.6m-.6-.5h.6m-.4 .2h.6m-.6-.1h.6m-.6 .1h.6m-.5 .6h.6m-.6 .1h.6m-.6-1h.6m-.3 .7h.6m-.6-.4h.6m-.4 .3h.6m-.6-.4h.6m-.5 .2h.6m-.5-.1h.6m-.5 .6h.6m-.5 .1h.6m-.5-.6h.6m-.2-.1h.6m-.2-.2h.6m-.5 .9h.6m-.6-.8h.6m-.6 .4h.6m-.4-.6h.6m-.4 .8h.6m-.1-.2h.6m-.5-.4h.6m-.4-.1h.6m-.1 .9h.6m-.5-.1h.6m-.4-.4h.6m0-.4h.6m-.6 0h.6m-57.5 1.3h.6m.3-.1h.6m1.5 .1h.6m-.4-.3h.6m-.2-.1h.6m-.4 .9h.6m-.5-.6h.6m-.5 .7h.6m-.5-.3h.6m-.4-.1h.6m.3-.4h.6m-.1 0h.6m-.6 .7h.6m-.3-.2h.6m-.3-.3h.6m-.4 0h.6m-.1-.2h.6m-.6 .4h.6m-.5 .2h.6m-.5 0h.6m-.6-.3h.6m-.4 0h.6m-.2 .2h.6m-.5 .3h.6m-.5-.7h.6m-.5 0h.6m-.4 0h.6m-.5 .6h.6m-.6-.6h.6m-.4 .1h.6m-.6-.1h.6m.3-.1h.6m-.5 .2h.6m-.4 .4h.6m-.6-.6h.6m-.5 .4h.6m-.6-.2h.6m-.5 .2h.6m-.4-.5h.6m-.5 .6h.6m-.5-.1h.6m-.3-.4h.6m-.5 .3h.6m-.4 .4h.6m-.5-.2h.6m-.3-.5h.6m-.6 .2h.6m0 .5h.6m-.4-.1h.6m-.3-.2h.6m-.4-.3h.6m-.5 .2h.6m-.6 0h.6m-.3-.1h.6m-.5 .2h.6m-.6-.6h.6m-.5 0h.6m-.3 .7h.6m-.5 .3h.6m-.5-1h.6m-.3 .2h.6m.3 .1h.6m-.3 .4h.6m-.6 .1h.6m-.4-.6h.6m-.5 .6h.6m-.6-.2h.6m-.2-.5h.6m-.6 0h.6m-.5 .6h.6m-.5 .2h.6m-.6-.2h.6m-.6-.2h.6m-.5 .1h.6m-.5-.4h.6m-.6-.2h.6m-.4 .7h.6m-.4-.7h.6m-.5 .5h.6m.3 .4h.6m.2-.4h.6m1.1 .5h.6m-.4-.3h.6m19.6-.5h.6m-.5 .2h.6m3.1 .6h.6m-.6-.9h.6m-.5 .9h.6m-.2-.5h.6m-.3-.2h.6m-.5 .5h.6m-.3 0h.6m-.4-.1h.6m-.4-.3h.6m-.5-.3h.6m-.6 .6h.6m-.5 .3h.6m-.4-.4h.6m-.5-.2h.6m-.5 .6h.6m-.6-.7h.6m-.5 .1h.6m-.6-.4h.6m-.5 .5h.6m-.5 .5h.6m-.5 0h.6m-.5-.7h.6m-.5 .3h.6m-.5 0h.6m-.6-.2h.6m-.6 .2h.6m-.5 .4h.6m-.6-.6h.6m-.6 .3h.6m-.5-.3h.6m-.6-.2h.6m-.6 .2h.6m-.1 .1h.6m-.5 .2h.6m-.4-.6h.6m-.5 .3h.6m-.3-.1h.6m-.6-.1h.6m-.6 .7h.6m-.6-.1h.6m-.5-.1h.6m-.6 .1h.6m-.5 0h.6m-.5-.1h.6m-.5-.1h.6m-.5-.2h.6m-.6 .2h.6m-.5 .3h.6m-.5-.2h.6m-.5-.3h.6m-.3-.1h.6m-.6-.3h.6m-.5 1h.6m-.6-.6h.6m-.6-.1h.6m-.5 .1h.6m-.5 .4h.6m-.6-.2h.6m-.5-.3h.6m-.5 .1h.6m-.6 .6h.6m-.6 0h.6m-.5-.6h.6m-.6 .5h.6m-.6 0h.6m-.6-.1h.6m-.5 0h.6m-.4 .1h.6m-.6-.8h.6m-.5-.1h.6m-.5 .2h.6m-.4 .1h.6m-.6-.1h.6m-.6 .5h.6m-.6 0h.6m-.5 .3h.6m-.6-.4h.6m-.4-.5h.6m-.5 .7h.6m-.2 .1h.6m-.6 0h.6m-.5-.2h.6m-.5-.2h.6m-.5-.3h.6m-.5 .3h.6m-.4-.2h.6m-.5 .4h.6m-.6 .1h.6m-.3-.2h.6m-.5 .4h.6m-.6-.7h.6m-.5 0h.6m-.6-.1h.6m-.5 .6h.6m-.5-.5h.6m-.1 .7h.6m-.5-1h.6m-.5 .4h.6m-.5 .4h.6m-.5-.8h.6m-.2 .7h.6m.1-.2h.6m-.5 .3h.6m.5 .2h.6m3.3-.9h.6m-61.7 1.2h.6m-.2 .3h.6m-.2-.2h.6m1.2 .4h.6m-.3-.2h.6m-.5 .3h.6m-.3-.3h.6m-.1-.2h.6m.4 .2h.6m-.3 .3h.6m.2-.3h.6m-.5-.4h.6m-.6 .1h.6m-.4-.2h.6m-.5 .8h.6m-.6 0h.6m-.4-.7h.6m-.5 .1h.6m-.3 .1h.6m-.5 .4h.6m.1-.5h.6m-.5 .4h.6m.1-.3h.6m-.4 0h.6m-.6 .5h.6m-.3-.4h.6m-.4 .3h.6m-.5-.1h.6m-.2-.1h.6m-.6 .3h.6m-.3-.5h.6m-.2 .1h.6m-.4 .4h.6m-.3-.8h.6m-.5 .7h.6m-.5-.7h.6m-.5 .7h.6m-.5-.5h.6m-.5 .4h.6m-.3-.1h.6m-.6-.1h.6m-.6-.5h.6m-.3 .5h.6m-.6-.2h.6m-.2 .4h.6m-.6 0h.6m-.5-.6h.6m-.3-.1h.6m-.6 .6h.6m-.5 .3h.6m-.5-.4h.6m-.6 .4h.6m-.5-.1h.6m-.6-.1h.6m-.1-.4h.6m0-.2h.6m-.4 .2h.6m-.5-.2h.6m-.4 .3h.6m-.6-.3h.6m-.6 0h.6m-.4 .5h.6m-.5 .2h.6m-.5-.2h.6m-.5-.3h.6m-.6-.2h.6m-.4 .8h.6m-.5-.1h.6m-.6-.7h.6m.2 .6h.6m-.6 .2h.6m-.5-.8h.6m-.5 .8h.6m-.2-.8h.6m-.2 .4h.6m-.5 .3h.6m-.4 .1h.6m-.5-.7h.6m-.6 0h.6m-.5-.1h.6m-.5 .9h.6m.1-.9h.6m.2 .2h.6m-.2 0h.6m-.5-.1h.6m-.3 .7h.6m-.1-.6h.6m.3 0h.6m-.2 0h.6m22.8 .2h.6m-.2 .5h.6m-.3-.3h.6m-.3-.5h.6m.2 .7h.6m-.5-.3h.6m-.6 0h.6m-.5 0h.6m-.5-.3h.6m-.5-.2h.6m-.5 .7h.6m-.5-.4h.6m-.3 .4h.6m-.6-.8h.6m-.5 .2h.6m-.5-.1h.6m-.5 .8h.6m-.3-.7h.6m-.5 .8h.6m-.3-.6h.6m-.5 .1h.6m-.5 .4h.6m-.4 .1h.6m-.6-.4h.6m-.6-.4h.6m-.4-.2h.6m-.4 .3h.6m-.5 .5h.6m-.6-.6h.6m-.6 .2h.6m-.5 0h.6m-.6 .1h.6m-.4 .1h.6m-.4-.2h.6m-.5 .6h.6m-.6 0h.6m-.5-.4h.6m-.5 .3h.6m-.6-.8h.6m-.6 .7h.6m-.5-.4h.6m-.6 .2h.6m-.4 .1h.6m-.6 .1h.6m-.5 0h.6m-.6-.1h.6m-.4-.6h.6m-.6 .3h.6m-.6 .3h.6m-.3-.4h.6m-.6 .6h.6m-.5-.4h.6m-.6-.3h.6m-.5 .4h.6m-.4-.4h.6m-.5 .4h.6m-.5 0h.6m-.2-.5h.6m-.5 .7h.6m-.5-.6h.6m-.6 .1h.6m-.6-.2h.6m-.4 .3h.6m-.5-.4h.6m-.5 .1h.6m-.6 .6h.6m-.5 .3h.6m-.5-1h.6m-.6 0h.6m-.4 .4h.6m-.5 .6h.6m-.5 0h.6m-.5-1h.6m-.5 0h.6m-.5 .5h.6m-.4-.3h.6m-.4 .1h.6m-.6-.1h.6m-.5 0h.6m-.6 .7h.6m-.2-.5h.6m-.4 .5h.6m-.3-.3h.6m-.5 0h.6m-.6-.4h.6m-.5 .5h.6m-.5-.2h.6m.7-.3h.6m-.6 .6h.6m-.4-.2h.6m-61.5 1.1h.6m3.8 .2h.6m0-.1h.6m1.6-.2h.6m-.6-.1h.6m-.2 .4h.6m-.2-.8h.6m-.3 .7h.6m-.5 .2h.6m.1-.4h.6m-.1 0h.6m-.5-.2h.6m-.1 .1h.6m-.5-.4h.6m-.4-.1h.6m-.2 .9h.6m-.5-.1h.6m-.5-.8h.6m-.5 .3h.6m-.6-.2h.6m-.4 0h.6m-.5 .6h.6m-.4-.2h.6m-.4 .5h.6m-.5-.2h.6m-.5-.7h.6m-.5 .5h.6m-.5-.4h.6m-.4 0h.6m-.5 .5h.6m-.5 .3h.6m-.5-.9h.6m-.2 .7h.6m-.2-.4h.6m-.4-.3h.6m-.4 .5h.6m-.4 0h.6m-.5 0h.6m-.4 .1h.6m-.5 .2h.6m-.6-.5h.6m-.5-.2h.6m-.5 .3h.6m-.4-.2h.6m-.5-.2h.6m-.1 .6h.6m-.6-.1h.6m-.1-.2h.6m-.4 .3h.6m-.6 .1h.6m-.4-.4h.6m-.2 .3h.6m-.2-.4h.6m-.5-.1h.6m-.2 .4h.6m-.4-.1h.6m-.6-.1h.6m-.4 .2h.6m-.6-.3h.6m-.6 .3h.6m-.6-.5h.6m.1 .2h.6m-.6 0h.6m-.3-.1h.6m-.1 0h.6m-.5-.1h.6m-.4 .5h.6m.2 0h.6m.3 .1h.6m1-.1h.6m-.2 .3h.6m5.8-.4h.6m13.9-.1h.6m2.7 .2h.6m-.4 .2h.6m-.2-.3h.6m0-.1h.6m.4 .3h.6m-.5-.2h.6m-.4 .5h.6m-.6-.4h.6m-.2 .2h.6m-.4-.2h.6m-.4-.1h.6m-.5 .5h.6m-.6-.9h.6m-.3 .4h.6m-.5 .4h.6m-.2-.3h.6m-.6-.1h.6m-.4 .3h.6m-.4-.6h.6m-.2-.1h.6m-.6 0h.6m-.4-.1h.6m-.4 .9h.6m-.6-.1h.6m-.4-.5h.6m-.6 .6h.6m-.5 .1h.6m-.6-.8h.6m-.4-.2h.6m-.5 .4h.6m-.6-.4h.6m-.6 .3h.6m-.3 0h.6m-.6 .5h.6m-.5-.5h.6m-.5 .1h.6m-.2-.3h.6m-.4 .8h.6m-.5-.5h.6m-.6 .5h.6m-.6-.3h.6m-.3 .1h.6m-.3-.6h.6m-.6 .4h.6m-.5-.1h.6m-.6-.4h.6m-.5 .9h.6m-.6-.3h.6m-.6 .2h.6m-.5-.3h.6m-.4 .4h.6m-.3-.3h.6m-.6 .4h.6m-.5-.8h.6m-.5 .2h.6m-.5 .2h.6m-.6 .2h.6m-.6-.4h.6m-.6 .4h.6m-.5-.2h.6m-.5-.1h.6m-.3 .3h.6m-.5 0h.6m-.4-.6h.6m-.2 .2h.6m-.5 .3h.6m-.4 0h.6m1.1 .3h.6m-.5-1h.6m-.5 .5h.6m-.4-.4h.6m-.6 .1h.6m-.3 .7h.6m.9-.6h.6m-60.2 1.6h.6m-.2-.4h.6m.1 .4h.6m.2-.7h.6m.8 .2h.6m1 .1h.6m-.2-.4h.6m-.6 .8h.6m-.6-.6h.6m-.5 .1h.6m0-.4h.6m-.2 .7h.6m-.4 .1h.6m0 0h.6m-.6-.3h.6m-.5-.3h.6m-.6 .6h.6m-.5-.2h.6m-.6 .2h.6m-.5-.1h.6m-.6-.4h.6m-.5 .2h.6m-.6-.4h.6m-.5 .9h.6m-.5-.5h.6m-.5 .2h.6m-.4-.2h.6m-.5-.1h.6m-.4 .1h.6m-.3-.3h.6m-.5 0h.6m-.6 .4h.6m-.5-.3h.6m-.3-.1h.6m-.5 .5h.6m.1-.2h.6m-.5-.3h.6m-.5 .1h.6m-.5 .6h.6m-.5-.1h.6m-.5 0h.6m0-.6h.6m-.4 0h.6m-.5 0h.6m-.1 .4h.6m-.4 .2h.6m-.5-.2h.6m-.6-.2h.6m-.5-.2h.6m-.3 .7h.6m-.5 0h.6m-.4-.5h.6m-.5-.1h.6m-.2 .5h.6m-.4-.1h.6m-.5-.5h.6m-.4 .2h.6m-.5 0h.6m-.4 0h.6m-.2 .2h.6m-.6-.1h.6m-.5 .3h.6m-.5-.8h.6m-.5 .5h.6m-.6 .2h.6m-.6-.6h.6m-.5 .2h.6m0 .5h.6m0 0h.6m.7-.7h.6m-.5 .8h.6m-.3-.8h.6m0 .7h.6m-.5-.1h.6m25.6-.1h.6m-.1 .2h.6m.3-.6h.6m-.2 .6h.6m-.1 .1h.6m-.4-.8h.6m-.6 .5h.6m-.3 0h.6m-.5 .2h.6m-.3-.3h.6m-.1 0h.6m-.2 .1h.6m-.6 .4h.6m-.2-.5h.6m-.5-.2h.6m-.5 0h.6m-.4-.2h.6m-.5 .4h.6m-.5-.4h.6m-.6 .2h.6m-.6 .5h.6m-.6-.2h.6m-.5 .3h.6m-.4-.4h.6m-.6 .4h.6m-.6 0h.6m-.5-.3h.6m-.4 0h.6m-.5 0h.6m-.6 .2h.6m-.6-.2h.6m-.5 .1h.6m-.5-.2h.6m-.5-.1h.6m-.6 .1h.6m-.6-.1h.6m-.3 .4h.6m-.5-.4h.6m-.6 .2h.6m-.5 .3h.6m-.4-.6h.6m-.6 .2h.6m-.4 0h.6m-.6-.4h.6m-.5 .6h.6m-.5-.2h.6m-.5 .3h.6m-.4-.7h.6m-.5 .7h.6m-.6-.1h.6m-.3-.6h.6m-.5 .6h.6m-.5-.1h.6m-.6-.4h.6m-.5 .3h.6m-.5-.1h.6m-.5-.2h.6m-.3-.2h.6m-.5 .8h.6m-.5-.6h.6m-.6 .7h.6m-.4-.5h.6m-.5-.2h.6m-.4 .3h.6m-.6-.3h.6m-.5 .4h.6m-.6-.1h.6m-.6 .1h.6m-.3 .4h.6m-.4-.6h.6m-.5 .1h.6m-.5-.3h.6m-.2 .4h.6m-.5-.1h.6m-.4 .3h.6m.2-.4h.6m-.5-.1h.6m.2 .1h.6m-.1-.3h.6m-.1 .9h.6m-65.2 .8h.6m3.1-.4h.6m2.3-.2h.6m-.6 .6h.6m0-.7h.6m.6-.1h.6m-.6 .6h.6m1.3-.4h.6m-.2 .6h.6m-.5-.3h.6m-.5-.1h.6m.3 0h.6m-.2 .5h.6m-.4 0h.6m-.4-.3h.6m-.4-.4h.6m-.6 0h.6m-.5 .3h.6m-.5 .1h.6m-.6-.6h.6m-.6 .7h.6m-.4-.1h.6m-.5-.5h.6m-.5 .8h.6m-.2-.8h.6m-.2 0h.6m-.6 .1h.6m-.2-.1h.6m-.6 .8h.6m-.4-.1h.6m-.2-.7h.6m-.2 .3h.6m-.4-.3h.6m-.6 .9h.6m-.5-.3h.6m-.6-.2h.6m-.3 .5h.6m-.4-.8h.6m-.6 .5h.6m-.6 .2h.6m-.5-.2h.6m-.4 .2h.6m-.6 0h.6m.1 .1h.6m-.2-.2h.6m-.4-.3h.6m-.6 .1h.6m-.5 0h.6m-.3 0h.6m-.4-.3h.6m-.6-.1h.6m-.5 .4h.6m-.2 .3h.6m-.3-.9h.6m-.2 .2h.6m-.5 .1h.6m-.5 0h.6m-.5 0h.6m-.5 .4h.6m-.5-.5h.6m-.2-.1h.6m-.6 .5h.6m-.1-.3h.6m-.5 .4h.6m.3-.6h.6m-.6 .2h.6m-.5 .4h.6m-.3-.6h.6m-.2-.1h.6m-.3 .1h.6m.5 .6h.6m-.6 .1h.6m-.2 .1h.6m-.5-.9h.6m-.6 .7h.6m.4-.6h.6m.1 .7h.6m.4 .1h.6m0-.3h.6m24.5-.3h.6m-.5 .3h.6m.2-.3h.6m-.3 .2h.6m-.3 0h.6m-.5-.3h.6m-.5 .3h.6m0-.3h.6m-.5-.1h.6m-.6 .5h.6m-.4-.3h.6m-.5-.1h.6m-.6 .2h.6m-.3 0h.6m-.6 .3h.6m-.6 .3h.6m-.5-.1h.6m-.5-.6h.6m-.4 .3h.6m-.6-.5h.6m-.6 .8h.6m-.4 0h.6m-.6-.8h.6m-.5 .5h.6m-.6-.4h.6m-.5-.2h.6m-.5 0h.6m-.6 .4h.6m-.6 .3h.6m-.4-.4h.6m-.5 0h.6m-.6-.3h.6m-.6 1h.6m-.4-.6h.6m-.5 .2h.6m-.6 0h.6m-.5-.6h.6m-.4 .5h.6m-.5-.3h.6m-.6 .3h.6m-.1 0h.6m-.6 .5h.6m-.4-.1h.6m-.5-.1h.6m-.6-.3h.6m-.6 .5h.6m-.4-.6h.6m-.6-.3h.6m-.5 .7h.6m-.4-.7h.6m-.6 .1h.6m-.3 .5h.6m-.4-.2h.6m-.4-.2h.6m-.5 .2h.6m-.6-.5h.6m-.4 .6h.6m-.5-.6h.6m-.2 .7h.6m-.6-.3h.6m-.1 0h.6m-.5 0h.6m-.6 .3h.6m-.4 .1h.6m.3-.2h.6m-.4-.5h.6m3.5 .8h.6m-64.3 .1h.6m2.4 .7h.6m.7-.5h.6m3.1 .5h.6m-.6-.5h.6m-.6 .7h.6m0 .1h.6m0-.8h.6m-.5 .1h.6m-.3-.2h.6m-.5 .1h.6m-.4 .1h.6m-.6 .4h.6m-.2-.3h.6m-.4-.1h.6m-.3 .1h.6m-.3-.3h.6m-.5 .7h.6m-.5-.6h.6m-.1 0h.6m-.6 .2h.6m-.6 .2h.6m.3-.4h.6m1-.1h.6m-.4 .3h.6m-.6 .4h.6m.1 0h.6m-.6-.7h.6m0 .3h.6m.1 .1h.6m-.6-.2h.6m-.6 .2h.6m-.4 .4h.6m-.4 .1h.6m-.5-.5h.6m.2 .2h.6m-.4-.2h.6m-.2-.2h.6m-.2-.2h.6m-.6 0h.6m-.5 .4h.6m0-.2h.6m-.4 .2h.6m.4 .5h.6m0-.9h.6m26.5 .6h.6m-.1 .2h.6m-.3-.9h.6m-.3 .4h.6m.3-.4h.6m-.2 .5h.6m-.1 .5h.6m-.4-.1h.6m-.6-.9h.6m-.2 .8h.6m-.4 0h.6m-.2-.4h.6m-.5 .1h.6m-.6-.2h.6m-.5 .4h.6m-.5 .2h.6m-.6-.9h.6m-.6 .3h.6m-.5 .5h.6m-.4-.4h.6m-.3 .4h.6m-.6-.4h.6m-.5 .2h.6m-.3-.3h.6m-.6 .2h.6m-.5-.2h.6m-.5 .1h.6m-.6 .2h.6m-.5 0h.6m-.6-.5h.6m-.6 .8h.6m-.4-.3h.6m-.4 0h.6m-.4-.2h.6m-.5 .2h.6m-.6 .2h.6m-.5-.1h.6m-.3-.4h.6m-.6-.1h.6m-.6-.1h.6m-.5-.1h.6m-.6 .9h.6m-.5 0h.6m-.5 .1h.6m-.5-.9h.6m-.5 .3h.6m-.4-.4h.6m-.6 .7h.6m-.6 .2h.6m-.6-.9h.6m-.6 .7h.6m-.6 .2h.6m-.5-.8h.6m-.5 .3h.6m-.5 .4h.6m-.4 .2h.6m-.4 0h.6m-.6-.2h.6m-.6-.3h.6m-.4 .3h.6m-.4 .1h.6m-.3-.6h.6m-.5-.1h.6m-.5 .1h.6m-.5-.3h.6m-.4 .1h.6m-.3 .6h.6m-.1 .3h.6m1.1-.9h.6m-.5 .7h.6m.5-.3h.6m.5 .4h.6m.8-.6h.6m-61.9 1.5h.6m-.4 0h.6m-.5-.4h.6m1.8-.1h.6m.7 .5h.6m.5-.8h.6m.3 .2h.6m-.5-.1h.6m-.1 .5h.6m-.2-.2h.6m1.4 0h.6m-.3-.3h.6m0 .6h.6m.8-.2h.6m-.2 .1h.6m-.3 .1h.6m-.4-.6h.6m-.2 .1h.6m-.2 .5h.6m-.5 0h.6m-.1-.4h.6m0 .7h.6m-.5-.2h.6m-.4-.1h.6m-.4-.3h.6m-.3 0h.6m-.5-.3h.6m-.3 0h.6m-.2 .4h.6m-.4 .3h.6m3.4-.3h.6m3.9 .4h.6m21.6-.4h.6m-.6 .4h.6m-.4 0h.6m-.6-.6h.6m.2 .7h.6m-.6-.9h.6m-.5 .1h.6m-.2 .2h.6m-.2 .4h.6m-.6-.4h.6m-.6 .4h.6m-.5-.4h.6m-.4 .1h.6m-.3 .5h.6m-.4-.2h.6m-.6-.3h.6m-.6 .3h.6m-.5-.3h.6m-.5-.3h.6m-.1 .2h.6m-.3-.2h.6m-.4-.1h.6m-.5-.1h.6m-.5 .5h.6m-.4 .3h.6m-.6-.6h.6m-.4 .4h.6m-.3-.6h.6m-.6 .7h.6m-.4-.1h.6m-.5-.4h.6m-.6-.1h.6m.1 .7h.6m-.6-.5h.6m-.4-.3h.6m-.5 .2h.6m-.6 .4h.6m-.3 .4h.6m-.5-.1h.6m-.2 0h.6m-.5-.1h.6m-.6-.6h.6m-.4 .5h.6m-.5 .1h.6m-.4-.2h.6m-.6-.2h.6m0-.1h.6m-.6 .2h.6m-.4 .1h.6m-.4-.2h.6m.1-.3h.6m-.3 .3h.6m-.3-.1h.6m-.6 .1h.6m1.2 .1h.6m-.1-.4h.6m.3 .6h.6m-59.2 .7h.6m3.1-.2h.6m-.6 .2h.6m-.3-.3h.6m.6 .3h.6m1 .4h.6m1-.5h.6m-.5-.2h.6m-.6 .1h.6m-.1 .1h.6m-.4-.3h.6m-.3 .1h.6m1.1 .3h.6m.2-.2h.6m0 .2h.6m.3 .4h.6m.1-.5h.6m.2-.1h.6m1.6 .1h.6m-.1 0h.6m.6 0h.6m24 0h.6m-.6-.3h.6m-.2 .1h.6m.1 .4h.6m1.1 .5h.6m.9-1h.6m-.1 .8h.6m-.5-.1h.6m-.3-.5h.6m-.1 .4h.6m-.3-.5h.6m-.4-.1h.6m-.6 .2h.6m-.4 .4h.6m-.5-.5h.6m-.3 .8h.6m-.4-.1h.6m-.5-.5h.6m-.5 0h.6m-.4-.3h.6m-.5 .2h.6m-.4 .4h.6m-.5-.1h.6m-.5 .3h.6m-.1-.7h.6m.1 .9h.6m-.6-.2h.6m-.4-.5h.6m.1 .3h.6m-.3-.4h.6m-.5 0h.6m-.5 0h.6m-.6-.2h.6m-.5 0h.6m-.1 1h.6m-.4-.1h.6m.4-.3h.6m-.2-.3h.6m.6-.3h.6m-55.7 1h.6m.8 .3h.6m.6-.2h.6m-.3 .6h.6m-.2-.4h.6m-.4 .6h.6m-.2-.5h.6m.7 .2h.6m.2 0h.6m-.6 .1h.6m2.5-.7h.6m-.4 .2h.6m-.5 .3h.6m.4 .1h.6m.4-.2h.6m-.5 .3h.6m.3-.1h.6m.8 .3h.6m28.4 .1h.6m-.1-.6h.6m.5 .3h.6m-.5-.7h.6m-.5 .8h.6m.1-.5h.6m.1 0h.6m0 .2h.6m-.6 .5h.6m-.5 0h.6m-.5-.2h.6m-.5 .1h.6m-.5-.2h.6m-.5 .1h.6m.3-.8h.6m-.5 .8h.6m-.6 0h.6m-.3-.2h.6m-.6-.4h.6m-.4 0h.6m-.5 .8h.6m-.5 0h.6m-.3-1h.6m0 .7h.6m-.5-.5h.6m-.3 .1h.6m-.6 .3h.6m1.6 0h.6m-.6-.4h.6m.4 .6h.6m1.2 .1h.6m-.5-.5h.6m-.4 .2h.6m-.3 .1h.6m-55.2 .4h.6m-.3 .5h.6m10.7 .2h.6m.6-.7h.6m28.4 0h.6m.4 .8h.6m.3-.5h.6m-.4-.1h.6m-.1 .4h.6m-.5-.6h.6m.3 .7h.6m-.3-.5h.6m-.3-.2h.6m0 .7h.6m-.5-.4h.6m-.5 .4h.6m-.3-.4h.6m-.2 .3h.6m-.6-.7h.6m-.5 .1h.6m-.5 0h.6m-.3 .5h.6m-.2-.3h.6m-.5-.3h.6m-.4 .5h.6m-.3 .2h.6m-.4 .2h.6m-.1-.7h.6m1.1 .2h.6m-.3 .5h.6m-.4-.3h.6m-52.5 1.4h.6m5.5-.3h.6m32.8-.1h.6m-.5 0h.6m1.9 .2h.6m.4-.1h.6m.9-.2h.6m-.5-.2h.6m.8-.3h.6m-.2 .3h.6m-.1 .6h.6m-.2-.7h.6m-.6 .3h.6m-.3-.2h.6m.1-.3h.6m-.2 .9h.6m.6-.8h.6m.6 .9h.6m-.3-.7h.6m-.4 .1h.6m-.4 .3h.6m.1-.3h.6m.1-.2h.6m-14.6 1.6h.6m2.2-.4h.6m2.2 0h.6m.3 .5h.6m-.5-.6h.6m-.1 .3h.6m-.4 0h.6m-.5-.5h.6m0 .5h.6m-.4-.4h.6m-.4 .3h.6m.2-.2h.6m.3 .7h.6m-.4-1h.6m-.6 .7h.6m1.5 .2h.6m-.3-.6h.6m-.1 .5h.6m-.1-.1h.6m.2-.4h.6m-56.3 1.6h.6m47.1-.7h.6m.1 .1h.6m-.2 .5h.6m-.3-.3h.6m-.4 .3h.6m-.3-.2h.6m-.4-.4h.6m-.3-.2h.6m-.5 .8h.6m-.3-.8h.6m-.1 .2h.6m-.6 .2h.6m1.2 .3h.6m-.5-.4h.6m-.3 .2h.6m-.1-.4h.6m-.5 .1h.6m.9 0h.6m1.6 .2h.6m-8.6 .8h.6m.2 .4h.6m2.5 0h.6m.4-.6h.6" stroke="#7A4266" stroke-width=".6" stroke-opacity=".38" fill="none"/>
<path d="M86.6 631.5h.5m32.4 3.3h.5m-7.3 12.6h.5m-20.9 .9h.5m21.8 .1h.5m51.5-.1h.5m-53.2 .3h.5m.9 .3h.5m-27.9 .8h.5m58 .3h.5m5.2 .5h.5m-44.5 1.8h.5m6.4-.2h.5m1.1-.1h.5m1 1.1h.5m-7 1.3h.5m4.3-.9h.5m2.2 1h.5m1.5-.5h.5m-.3 .3h.5m-14.4 1.2h.5m3-.1h.5m5.5-.7h.5m1.1 0h.5m1 .5h.5m-.4-.3h.5m17 .6h.5m-.4-.1h.5m.4-.5h.5m7.9-.4h.5m.4 .3h.5m-41.4 1.1h.5m3.7 .3h.5m-.5-.5h.5m5.3 .6h.5m18.5-.7h.5m3 .7h.5m-.2-.3h.5m-58.6 1.3h.5m29.6 .1h.5m1.3-.1h.5m2.2 .1h.5m29.7 0h.5m-40.1 .9h.5m.3-.1h.5m5.2-.6h.5m.3 .8h.5m-.4-.3h.5m.4 .2h.5m-.2-.8h.5m1.1 .3h.5m17.4-.1h.5m2.2 .8h.5m-31.3 .4h.5m1.7-.2h.5m1.9 .1h.5m0 0h.5m.8-.3h.5m.1 1h.5m.2-.5h.5m2.6-.3h.5m-.1 .8h.5m16.2-.4h.5m2.2-.4h.5m2.7 .7h.5m.9 0h.5m3.8-.6h.5m-37.2 1.4h.5m1.3-.5h.5m.1 .2h.5m-.2 .3h.5m.2-.5h.5m1.1 .8h.5m23.9-.3h.5m.4-.4h.5m1 .5h.5m1.3-.2h.5m-48.4 .6h.5m3.5-.1h.5m1.7 .8h.5m.9-.7h.5m.9-.1h.5m.9 0h.5m.1 .9h.5m-.3-.1h.5m-.4-.3h.5m-.1-.3h.5m.7-.1h.5m.4 .1h.5m1 .6h.5m-.5-.3h.5m-.4 0h.5m5 .2h.5m20.9-.4h.5m2.8-.1h.5m.4 .2h.5m2.7 .1h.5m.6-.6h.5m-44.3 1.3h.5m1 0h.5m.8-.2h.5m1.2 .5h.5m-.3 .1h.5m0 0h.5m2.2-.1h.5m0 0h.5m.6-.4h.5m1.9 .7h.5m.4-.4h.5m1.7-.4h.5m13.7 .8h.5m2.9 0h.5m1.6-.1h.5m1.9-.6h.5m-.3-.2h.5m.3 .7h.5m1.1 .1h.5m6.9-.7h.5m-45.7 1h.5m3 .6h.5m1.3 .1h.5m.7 0h.5m-.2 .2h.5m.1-.4h.5m.6-.5h.5m-.2 .7h.5m.7-.8h.5m19.3 0h.5m2.4 .3h.5m.2 0h.5m-.5 .1h.5m2.2 .3h.5m-39.1 .6h.5m4.9 .2h.5m.4-.1h.5m2.8 .3h.5m-.2 0h.5m.7-.7h.5m.7 .8h.5m-.1-.5h.5m2.1 0h.5m13 .6h.5m4.1-.4h.5m.9-.5h.5m1.5 .7h.5m.7 .2h.5m.7-.2h.5m.5-.1h.5m.4 .1h.5m.1-.3h.5m.8 .5h.5m-43.3 1h.5m.8-.7h.5m-.1 .5h.5m.2-.2h.5m2.7 .2h.5m-.1-.6h.5m.6 .5h.5m1.8-.1h.5m-.5-.3h.5m-.3 0h.5m2.9 .5h.5m14.5 .3h.5m.3 0h.5m8.9-.9h.5m-.2 .8h.5m.1-.6h.5m-44.8 1.1h.5m.4 0h.5m7 .5h.5m.1 0h.5m.5-.2h.5m.4-.6h.5m-.5 .3h.5m.4 0h.5m.4 .4h.5m0-.1h.5m-.5-.2h.5m.8 .3h.5m1.6-.8h.5m17.3 .2h.5m.4-.1h.5m2.1 .1h.5m2.6 .4h.5m.9-.6h.5m0 .7h.5m.3-.7h.5m.6 .5h.5m.2 .1h.5m1.8 .3h.5m-.4-.4h.5m4.8 .4h.5m-49.1 .8h.5m1 .1h.5m0 .1h.5m1.8-.1h.5m.1-.3h.5m1.1-.2h.5m-.3 .1h.5m.7 0h.5m-.3 .5h.5m1.7-.4h.5m.4 .3h.5m.4-.2h.5m9-.1h.5m9.5 .4h.5m2.1-.5h.5m1.8 .6h.5m.1-.3h.5m.9 0h.5m-.4-.3h.5m1.8 .6h.5m-.4-.5h.5m-42.3 1.4h.5m3-.3h.5m1.5 .2h.5m1.7-.6h.5m1.5 .5h.5m.2-.4h.5m-.5 0h.5m.4 .7h.5m4.3-.8h.5m15.8 .6h.5m4.8 0h.5m1.3 0h.5m-.2 .1h.5m-.3 .1h.5m2.1-.8h.5m1.4 .8h.5m-50.1 .4h.5m5.9 .1h.5m-.4-.3h.5m2.4 .7h.5m.8-.4h.5m.6-.3h.5m.1-.1h.5m.3 .4h.5m1-.1h.5m.3 .2h.5m-.2-.2h.5m4.6 .1h.5m-.2 0h.5m10.9-.3h.5m.9 0h.5m5.1 .6h.5m4.7-.3h.5m-.5 .4h.5m.2-.8h.5m1.7 .9h.5m.9-.9h.5m0 .5h.5m1.4 .3h.5m.1 .1h.5m-.3-.5h.5m-52.6 1.2h.5m3.8 .3h.5m4.1-1h.5m.3 .9h.5m.5-.7h.5m5.7 .4h.5m-.3 .4h.5m.6-.9h.5m.9 .5h.5m15.4 .4h.5m-.1-1h.5m-.1 .7h.5m1.5-.2h.5m-.1 .1h.5m.3-.4h.5m1 .6h.5m.4-.2h.5m.3 .2h.5m2-.7h.5m-.4 .5h.5m.9 .3h.5m-.4-.6h.5m.3-.3h.5m.7 1h.5m-.3-.6h.5m-45.3 .6h.5m2 .8h.5m3.4 .1h.5m-.3-.2h.5m-.1 .1h.5m.1-.3h.5m-.1 .5h.5m1.7-.5h.5m.3-.2h.5m24.2 .3h.5m2.9-.5h.5m2.1 .8h.5m.4-.7h.5m.9 .1h.5m1.5 .2h.5m2-.5h.5m-56.8 1.2h.5m4.7-.1h.5m2.2 .2h.5m-.5 0h.5m.7 .3h.5m1.1 .4h.5m.1-.7h.5m.2 .3h.5m-.2 .4h.5m-.5-.2h.5m-.4-.5h.5m-.1 .7h.5m1.5-.2h.5m1.1-.6h.5m-.1-.2h.5m.2 .2h.5m.5 .1h.5m-.5 .4h.5m.9-.1h.5m1.4 0h.5m2 .3h.5m5.5-.6h.5m9.3 0h.5m3.8 .1h.5m-.2 .5h.5m2.8-.2h.5m1.2-.1h.5m1.1 0h.5m.3-.1h.5m-.1-.5h.5m.8 1h.5m3.4-.9h.5m-62.2 1.4h.5m4.3-.5h.5m.4 .9h.5m-.4 .1h.5m.9-.4h.5m.5 .1h.5m.7-.5h.5m4.8 .3h.5m1.5 .1h.5m-.3-.2h.5m.6 .4h.5m-.3-.2h.5m-.1 .2h.5m1.2-.7h.5m1.7 .4h.5m.4 0h.5m-.4-.5h.5m.6 .3h.5m-.4 .5h.5m22.2 .2h.5m1-.1h.5m-.3 0h.5m.4-.6h.5m-.3 .2h.5m-.4-.4h.5m-.3 .6h.5m3.4-.5h.5m1-.1h.5m5.3 .5h.5m1.3 0h.5m-66.7 .5h.5m10.2 .2h.5m1.3 .5h.5m.3-.1h.5m1.8 .1h.5m.3-.2h.5m2 .2h.5m-.4-.1h.5m.4-.2h.5m0 .2h.5m0-.6h.5m.5 0h.5m-.4 0h.5m1.2 .3h.5m.6 .3h.5m-.5-.5h.5m.4 .3h.5m20 .2h.5m1.8-.1h.5m.5 .3h.5m.4-.2h.5m1.3 0h.5m-.3-.3h.5m.4 .1h.5m-.2 .1h.5m2.9 0h.5m.6 .1h.5m3.9-.2h.5m-57.7 1.4h.5m-.2-.2h.5m3.2-.6h.5m2.7 .7h.5m-.5-.4h.5m1.9 .3h.5m1.7-.4h.5m-.1 .2h.5m1.1-.5h.5m24.7 .8h.5m2.4-.3h.5m2.2 .4h.5m.7-.3h.5m.6-.1h.5m2.8 .2h.5m2.1-.6h.5m-.2 .6h.5m.5-.6h.5m.4 .7h.5m.4 .2h.5m1.8-.3h.5m-53.9 .9h.5m2.4-.1h.5m3.2-.4h.5m0 .5h.5m.3-.3h.5m0 .2h.5m3.2 .2h.5m.3 0h.5m-.3-.4h.5m12.9-.1h.5m8.5 .3h.5m1.3 .1h.5m.2-.5h.5m.7 0h.5m0 .6h.5m.7 .1h.5m1.1 .1h.5m-.5-.9h.5m-.2 .3h.5m-.5 .5h.5m1.4-.7h.5m-.2 .7h.5m.6-.3h.5m-.2-.1h.5m2.7 .3h.5m4.8 .1h.5m-62 .6h.5m3.9-.1h.5m5.1 .5h.5m-.2 0h.5m1.9 0h.5m-.2 0h.5m1.3-.7h.5m1.8 0h.5m23 0h.5m1 .4h.5m2.1 .5h.5m2.5-.2h.5m.7 0h.5m.8 0h.5m-.4-.3h.5m-.4-.4h.5m-.4 .5h.5m.5-.5h.5m0 .3h.5m1.7 .1h.5m1.9 .2h.5m6.3-.6h.5m-72.1 1.7h.5m16.3-.2h.5m.9-.2h.5m2-.1h.5m-.2 .5h.5m-.1-.3h.5m.4-.2h.5m2.5 .3h.5m1.5-.3h.5m0 0h.5m.1-.2h.5m0 .5h.5m5.2 .2h.5m-.3 .2h.5m.4-1h.5m13.1 1h.5m1.8-.5h.5m1.7-.1h.5m7.2 .6h.5m0-.1h.5m.5-.1h.5m.3-.3h.5m.4-.1h.5m-66.6 .9h.5m5-.1h.5m1.5 .3h.5m6.7-.4h.5m.5 .3h.5m.1 .6h.5m.1-1h.5m-.1 .4h.5m3.2-.3h.5m.6 .8h.5m-.1-.7h.5m1.2 .5h.5m-.5 0h.5m9.7 .2h.5m15.3-.8h.5m-.3 .1h.5m1.7 .1h.5m3.1 0h.5m.2 .5h.5m-.5-.1h.5m.7 .3h.5m2-.5h.5m2.1 0h.5m-.1-.2h.5m1.8-.3h.5m-51 1.4h.5m1.5 .3h.5m1.9-.4h.5m.5-.2h.5m-.2-.1h.5m1.4 .8h.5m-.1-.4h.5m.1-.1h.5m1.9 .6h.5m1.5 0h.5m5.1-.6h.5m3.3 .4h.5m13.5-.3h.5m4.8-.1h.5m-.1 .5h.5m1.2-.5h.5m-.1 .1h.5m1.9 .4h.5m-.3-.2h.5m.6-.3h.5m.9 .6h.5m3.3-.5h.5m-.4 0h.5m-59.6 1.5h.5m2.1-.8h.5m2.1 .3h.5m5.8-.1h.5m1.2 .6h.5m2.6 0h.5m-.1-.4h.5m0 0h.5m.4-.5h.5m.3 0h.5m.7 .5h.5m22.2 0h.5m2.3-.1h.5m.3 .5h.5m3.2-.3h.5m.7 0h.5m.4 .1h.5m.4-.4h.5m-62.2 1.7h.5m1.5-.2h.5m3.7 .1h.5m7.8-.1h.5m2 0h.5m3.5-.8h.5m2.2 .8h.5m.8-.4h.5m24.2 .1h.5m3 .4h.5m-.4-.3h.5m.4 .3h.5m.3-.5h.5m.5 .5h.5m.8-.6h.5m.1 .2h.5m-.4 .4h.5m1-.4h.5m1.9 .2h.5m-.1 .2h.5m1.2-.2h.5m-.4 0h.5m-52.8 .6h.5m-.4-.1h.5m2.6 0h.5m.1-.1h.5m-.5 .5h.5m3.4-.3h.5m5.9 .3h.5m-.3 .1h.5m1.5 .3h.5m-.3-.9h.5m17.7 .2h.5m2.2 .1h.5m4.5-.2h.5m.2-.1h.5m2.1 .6h.5m.4 .1h.5m0-.1h.5m0-.2h.5m-61 .7h.5m4.6-.1h.5m2.7 .7h.5m.6 .2h.5m2.1-.7h.5m.4 .1h.5m1.1 .3h.5m2.7 0h.5m-.1-.1h.5m.1 .1h.5m.4-.6h.5m2.9 .3h.5m3.1-.4h.5m7.3 .1h.5m17.5 .7h.5m0-.7h.5m2.5 .1h.5m.9-.2h.5m-.2 .6h.5m.1-.2h.5m.4-.3h.5m2 .6h.5m.6 .3h.5m1.8-.7h.5m.3 0h.5m-59.3 .9h.5m6.7-.1h.5m4.6 .7h.5m.4-.2h.5m.4 0h.5m37 0h.5m-.5-.5h.5m1.4 .9h.5m1.9-.2h.5m-.2-.2h.5m.1 .4h.5m0-.2h.5m-.1-.1h.5m.9 .2h.5m-.5-.8h.5m.6 .3h.5m-52.7 1h.5m8.4-.3h.5m5.6 .5h.5m27.5-.4h.5m4.5 .1h.5m.4-.2h.5m4.7 .6h.5m.5 .2h.5m-53.9 .2h.5m.2 .7h.5m5.7-.6h.5m29.9 .6h.5m6.9-.6h.5m1.7 .3h.5m0-.5h.5m.2 .7h.5m4.1-.1h.5m3.3-.5h.5m-54.9 1.7h.5m10.9 .1h.5m21.8-.1h.5m5.8-.1h.5m-.3-.3h.5m2.2-.4h.5m-45.1 1.1h.5m2.2 .1h.5m2.5 .2h.5m31.6 .3h.5m.7-.6h.5m-.2 .5h.5m.6-.3h.5m1.3 .6h.5m.9-.1h.5m.5-.3h.5m.1-.4h.5m1.1 .1h.5m.9 .7h.5m-51.1 .6h.5m0-.5h.5m2.8 .3h.5m40.6 0h.5m-.2 .1h.5m1-.1h.5m1 .2h.5m7.6-.3h.5" stroke="#8f8290" stroke-width=".5" stroke-opacity=".5" fill="none"/>
<rect x="77.4" y="601.1" width="96.1" height="89.79999999999995" fill="none" stroke="#000" stroke-width="1.3"/>
<line x1="77.4" y1="600.9" x2="77.4" y2="691.5" stroke="#1c1c1c" stroke-width="1.3"/>
<line x1="76.80000000000001" y1="690.9" x2="173.5" y2="690.9" stroke="#1c1c1c" stroke-width="1.3"/>
<rect x="80.8" y="605.7" width="30.400000000000006" height="26.5" fill="none" stroke="#1c1c1c" stroke-width="1.7"/>
<line x1="166.9" y1="630.4" x2="150.36426005865158" y2="641.3958473721657" stroke="#1c1c1c" stroke-width="1.1"/>
<polygon points="147.2,643.5 149.92,639.29 152.14,642.62" fill="#1c1c1c"/>
<line x1="74.4" y1="610.3" x2="77.4" y2="610.3" stroke="#1c1c1c" stroke-width="0.9"/>
<text x="71.0" y="611.9" font-size="4.6" text-anchor="end" fill="#262626">10<tspan font-size="3" dy="-1.8">5</tspan></text>
<line x1="74.4" y1="630" x2="77.4" y2="630" stroke="#1c1c1c" stroke-width="0.9"/>
<text x="71.0" y="631.6" font-size="4.6" text-anchor="end" fill="#262626">10<tspan font-size="3" dy="-1.8">4</tspan></text>
<line x1="74.4" y1="650.5" x2="77.4" y2="650.5" stroke="#1c1c1c" stroke-width="0.9"/>
<text x="71.0" y="652.1" font-size="4.6" text-anchor="end" fill="#262626">10<tspan font-size="3" dy="-1.8">3</tspan></text>
<line x1="74.4" y1="671.2" x2="77.4" y2="671.2" stroke="#1c1c1c" stroke-width="0.9"/>
<text x="71.0" y="672.8000000000001" font-size="4.6" text-anchor="end" fill="#262626">10<tspan font-size="3" dy="-1.8">2</tspan></text>
<line x1="74.4" y1="682.8" x2="77.4" y2="682.8" stroke="#1c1c1c" stroke-width="0.9"/>
<text x="71.0" y="684.4" font-size="4.6" text-anchor="end" fill="#262626">0</text>
<line x1="74.4" y1="690.9" x2="77.4" y2="690.9" stroke="#1c1c1c" stroke-width="0.9"/>
<text x="71.0" y="692.5" font-size="4.6" text-anchor="end" fill="#262626">-66</text>
<line x1="75.80000000000001" y1="624.0697090854195" x2="77.4" y2="624.0697090854195" stroke="#1c1c1c" stroke-width="0.6"/>
<line x1="75.80000000000001" y1="620.6007112820226" x2="77.4" y2="620.6007112820226" stroke="#1c1c1c" stroke-width="0.6"/>
<line x1="75.80000000000001" y1="618.1394181708391" x2="77.4" y2="618.1394181708391" stroke="#1c1c1c" stroke-width="0.6"/>
<line x1="75.80000000000001" y1="616.2302909145805" x2="77.4" y2="616.2302909145805" stroke="#1c1c1c" stroke-width="0.6"/>
<line x1="75.80000000000001" y1="614.6704203674421" x2="77.4" y2="614.6704203674421" stroke="#1c1c1c" stroke-width="0.6"/>
<line x1="75.80000000000001" y1="613.3515686117191" x2="77.4" y2="613.3515686117191" stroke="#1c1c1c" stroke-width="0.6"/>
<line x1="75.80000000000001" y1="612.2091272562586" x2="77.4" y2="612.2091272562586" stroke="#1c1c1c" stroke-width="0.6"/>
<line x1="75.80000000000001" y1="611.2014225640453" x2="77.4" y2="611.2014225640453" stroke="#1c1c1c" stroke-width="0.6"/>
<line x1="75.80000000000001" y1="644.3288850888883" x2="77.4" y2="644.3288850888883" stroke="#1c1c1c" stroke-width="0.6"/>
<line x1="75.80000000000001" y1="640.719014278247" x2="77.4" y2="640.719014278247" stroke="#1c1c1c" stroke-width="0.6"/>
<line x1="75.80000000000001" y1="638.1577701777768" x2="77.4" y2="638.1577701777768" stroke="#1c1c1c" stroke-width="0.6"/>
<line x1="75.80000000000001" y1="636.1711149111117" x2="77.4" y2="636.1711149111117" stroke="#1c1c1c" stroke-width="0.6"/>
<line x1="75.80000000000001" y1="634.5478993671353" x2="77.4" y2="634.5478993671353" stroke="#1c1c1c" stroke-width="0.6"/>
<line x1="75.80000000000001" y1="633.1754901797077" x2="77.4" y2="633.1754901797077" stroke="#1c1c1c" stroke-width="0.6"/>
<line x1="75.80000000000001" y1="631.9866552666651" x2="77.4" y2="631.9866552666651" stroke="#1c1c1c" stroke-width="0.6"/>
<line x1="75.80000000000001" y1="630.9380285564938" x2="77.4" y2="630.9380285564938" stroke="#1c1c1c" stroke-width="0.6"/>
<line x1="75.80000000000001" y1="664.9686790897556" x2="77.4" y2="664.9686790897556" stroke="#1c1c1c" stroke-width="0.6"/>
<line x1="75.80000000000001" y1="661.323590027303" x2="77.4" y2="661.323590027303" stroke="#1c1c1c" stroke-width="0.6"/>
<line x1="75.80000000000001" y1="658.7373581795111" x2="77.4" y2="658.7373581795111" stroke="#1c1c1c" stroke-width="0.6"/>
<line x1="75.80000000000001" y1="656.7313209102444" x2="77.4" y2="656.7313209102444" stroke="#1c1c1c" stroke-width="0.6"/>
<line x1="75.80000000000001" y1="655.0922691170585" x2="77.4" y2="655.0922691170585" stroke="#1c1c1c" stroke-width="0.6"/>
<line x1="75.80000000000001" y1="653.7064705717049" x2="77.4" y2="653.7064705717049" stroke="#1c1c1c" stroke-width="0.6"/>
<line x1="75.80000000000001" y1="652.5060372692668" x2="77.4" y2="652.5060372692668" stroke="#1c1c1c" stroke-width="0.6"/>
<line x1="75.80000000000001" y1="651.447180054606" x2="77.4" y2="651.447180054606" stroke="#1c1c1c" stroke-width="0.6"/>
<rect x="74.10000000000001" y="681.9" width="3.3" height="1.8" fill="#1c1c1c"/>
<line x1="82.3" y1="690.9" x2="82.3" y2="693.5" stroke="#1c1c1c" stroke-width="0.9"/>
<text x="82.3" y="701.9" font-size="4.6" text-anchor="middle" fill="#262626">10<tspan font-size="3" dy="-1.8">1</tspan></text>
<line x1="95.4" y1="690.9" x2="95.4" y2="693.5" stroke="#1c1c1c" stroke-width="0.9"/>
<text x="95.4" y="701.9" font-size="4.6" text-anchor="middle" fill="#262626">10<tspan font-size="3" dy="-1.8">2</tspan></text>
<line x1="121" y1="690.9" x2="121" y2="693.5" stroke="#1c1c1c" stroke-width="0.9"/>
<text x="121" y="701.9" font-size="4.6" text-anchor="middle" fill="#262626">10<tspan font-size="3" dy="-1.8">3</tspan></text>
<line x1="143" y1="690.9" x2="143" y2="693.5" stroke="#1c1c1c" stroke-width="0.9"/>
<text x="143" y="701.9" font-size="4.6" text-anchor="middle" fill="#262626">10<tspan font-size="3" dy="-1.8">4</tspan></text>
<line x1="165" y1="690.9" x2="165" y2="693.5" stroke="#1c1c1c" stroke-width="0.9"/>
<text x="165" y="701.9" font-size="4.6" text-anchor="middle" fill="#262626">10<tspan font-size="3" dy="-1.8">5</tspan></text>
<rect x="77.4" y="690.9" width="4.8999999999999915" height="1.7" fill="#666"/>
<line x1="86.24349294319815" y1="690.9" x2="86.24349294319815" y2="692.5" stroke="#1c1c1c" stroke-width="0.6"/>
<line x1="88.55028843682759" y1="690.9" x2="88.55028843682759" y2="692.5" stroke="#1c1c1c" stroke-width="0.6"/>
<line x1="90.18698588639631" y1="690.9" x2="90.18698588639631" y2="692.5" stroke="#1c1c1c" stroke-width="0.6"/>
<line x1="91.45650705680185" y1="690.9" x2="91.45650705680185" y2="692.5" stroke="#1c1c1c" stroke-width="0.6"/>
<line x1="92.49378138002574" y1="690.9" x2="92.49378138002574" y2="692.5" stroke="#1c1c1c" stroke-width="0.6"/>
<line x1="93.37078432418677" y1="690.9" x2="93.37078432418677" y2="692.5" stroke="#1c1c1c" stroke-width="0.6"/>
<line x1="94.13047882959447" y1="690.9" x2="94.13047882959447" y2="692.5" stroke="#1c1c1c" stroke-width="0.6"/>
<line x1="94.80057687365516" y1="690.9" x2="94.80057687365516" y2="692.5" stroke="#1c1c1c" stroke-width="0.6"/>
<line x1="103.10636788899792" y1="690.9" x2="103.10636788899792" y2="692.5" stroke="#1c1c1c" stroke-width="0.6"/>
<line x1="107.61430412082336" y1="690.9" x2="107.61430412082336" y2="692.5" stroke="#1c1c1c" stroke-width="0.6"/>
<line x1="110.81273577799584" y1="690.9" x2="110.81273577799584" y2="692.5" stroke="#1c1c1c" stroke-width="0.6"/>
<line x1="113.29363211100208" y1="690.9" x2="113.29363211100208" y2="692.5" stroke="#1c1c1c" stroke-width="0.6"/>
<line x1="115.32067200982128" y1="690.9" x2="115.32067200982128" y2="692.5" stroke="#1c1c1c" stroke-width="0.6"/>
<line x1="117.03450982436497" y1="690.9" x2="117.03450982436497" y2="692.5" stroke="#1c1c1c" stroke-width="0.6"/>
<line x1="118.51910366699376" y1="690.9" x2="118.51910366699376" y2="692.5" stroke="#1c1c1c" stroke-width="0.6"/>
<line x1="119.82860824164672" y1="690.9" x2="119.82860824164672" y2="692.5" stroke="#1c1c1c" stroke-width="0.6"/>
<line x1="127.62265990460759" y1="690.9" x2="127.62265990460759" y2="692.5" stroke="#1c1c1c" stroke-width="0.6"/>
<line x1="131.49666760383258" y1="690.9" x2="131.49666760383258" y2="692.5" stroke="#1c1c1c" stroke-width="0.6"/>
<line x1="134.24531980921518" y1="690.9" x2="134.24531980921518" y2="692.5" stroke="#1c1c1c" stroke-width="0.6"/>
<line x1="136.3773400953924" y1="690.9" x2="136.3773400953924" y2="692.5" stroke="#1c1c1c" stroke-width="0.6"/>
<line x1="138.11932750844016" y1="690.9" x2="138.11932750844016" y2="692.5" stroke="#1c1c1c" stroke-width="0.6"/>
<line x1="139.59215688031364" y1="690.9" x2="139.59215688031364" y2="692.5" stroke="#1c1c1c" stroke-width="0.6"/>
<line x1="140.86797971382276" y1="690.9" x2="140.86797971382276" y2="692.5" stroke="#1c1c1c" stroke-width="0.6"/>
<line x1="141.99333520766515" y1="690.9" x2="141.99333520766515" y2="692.5" stroke="#1c1c1c" stroke-width="0.6"/>
<line x1="149.6226599046076" y1="690.9" x2="149.6226599046076" y2="692.5" stroke="#1c1c1c" stroke-width="0.6"/>
<line x1="153.49666760383258" y1="690.9" x2="153.49666760383258" y2="692.5" stroke="#1c1c1c" stroke-width="0.6"/>
<line x1="156.24531980921518" y1="690.9" x2="156.24531980921518" y2="692.5" stroke="#1c1c1c" stroke-width="0.6"/>
<line x1="158.3773400953924" y1="690.9" x2="158.3773400953924" y2="692.5" stroke="#1c1c1c" stroke-width="0.6"/>
<line x1="160.11932750844016" y1="690.9" x2="160.11932750844016" y2="692.5" stroke="#1c1c1c" stroke-width="0.6"/>
<line x1="161.59215688031364" y1="690.9" x2="161.59215688031364" y2="692.5" stroke="#1c1c1c" stroke-width="0.6"/>
<line x1="162.86797971382276" y1="690.9" x2="162.86797971382276" y2="692.5" stroke="#1c1c1c" stroke-width="0.6"/>
<line x1="163.99333520766515" y1="690.9" x2="163.99333520766515" y2="692.5" stroke="#1c1c1c" stroke-width="0.6"/>
<text x="77.3" y="707.4" font-size="4.6" text-anchor="middle" fill="#262626">0</text>
<ellipse cx="241.5" cy="554.5" rx="6.5" ry="4.5" fill="url(#cg)" opacity="0.45" transform="rotate(-35 241.5 554.5)"/>
<ellipse cx="275" cy="562" rx="5.5" ry="9" fill="url(#cg)" opacity="0.5" transform="rotate(0 275 562)"/>
<path d="M230.4 490.9h.6m16.2 .6h.6m-.1 0h.6m-25 .5h.6m-.5 .2h.6m1.3-.3h.6m2.6 .5h.6m3.3-.6h.6m-8.1 1.1h.6m3.8 .3h.6m15.8 .2h.6m3.4-.2h.6m-26.6 1.1h.6m7.8-.6h.6m5.1 .5h.6m10.6-.5h.6m-24.1 1h.6m1.5 .6h.6m.8-.1h.6m4.8-.4h.6m-.2 .4h.6m2.4 .3h.6m4.9-.7h.6m-22.4 1h.6m-.3-.3h.6m1.9 .1h.6m1 .2h.6m3.6-.1h.6m2.4 .6h.6m1.9-.4h.6m-.2 .4h.6m-.1 0h.6m46.9-.6h.6m-67.1 1.7h.6m7.5-.1h.6m1.9 .2h.6m2.7-1h.6m.8 .2h.6m.1 .2h.6m2.8 .2h.6m.1 .1h.6m-12.4 .3h.6m.8 .8h.6m-.4-.7h.6m-.5 0h.6m2.7 .4h.6m-.3 .3h.6m.3-.2h.6m.1-.3h.6m.1 .3h.6m.1-.1h.6m.3 .4h.6m1.2-.3h.6m-.2-.2h.6m.7 .6h.6m3.5-.1h.6m.6-.9h.6m.9 1h.6m1.7-.6h.6m-29.5 1.1h.6m1.4 .2h.6m.7-.2h.6m1.6 0h.6m1.5-.3h.6m.7 .7h.6m1.1-.9h.6m1.4 .8h.6m2.3-.4h.6m-.3 .3h.6m2.4-.5h.6m1 .3h.6m1.3-.2h.6m-.5 .2h.6m-22.5 1.3h.6m2.3-.3h.6m3.3 .1h.6m0 0h.6m-.3 .2h.6m-.6-.7h.6m.3 0h.6m1.2 .7h.6m0 .1h.6m-.6-.5h.6m.5 .4h.6m-.2-.1h.6m-.2 .2h.6m-.3-.8h.6m2.5 .5h.6m0-.5h.6m-.5 .8h.6m1.9-.8h.6m1.6 0h.6m-.1 .7h.6m-23.9 .2h.6m.8 .7h.6m.4-.4h.6m6-.3h.6m.2 .6h.6m.2-.2h.6m-.4-.3h.6m.9 .5h.6m-.4 0h.6m-.5 .3h.6m-.2-.5h.6m1.1 .4h.6m-.5-.3h.6m-.3 .1h.6m-.4-.1h.6m.1 .4h.6m-.5-.1h.6m.3-.4h.6m-.2 .3h.6m0-.4h.6m-.2 .5h.6m-.5-.3h.6m.4-.1h.6m1.4-.3h.6m-.5 .1h.6m-.1 .4h.6m.1 .2h.6m1.1-.7h.6m.9 .1h.6m3.3 .2h.6m-28.6 1.6h.6m4-.4h.6m-.1 .4h.6m.8-.3h.6m.3-.4h.6m.6-.1h.6m-.5 .1h.6m1.6-.2h.6m-.2 .5h.6m.7-.1h.6m-.3-.2h.6m3.5 .6h.6m2.1 .1h.6m.3-1h.6m.3 .7h.6m0-.7h.6m3 .8h.6m13.5-.3h.6m-41.7 1.4h.6m.5-.3h.6m.7-.1h.6m.1 .1h.6m2.3-.2h.6m1.4 .2h.6m-.5-.1h.6m4.5 .4h.6m.3-.1h.6m1.2 .2h.6m.1-1h.6m-.3 .9h.6m.2-.3h.6m1.6 .3h.6m4.3-.3h.6m1.6-.2h.6m1.4 .1h.6m3.4-.4h.6m28.7 .2h.6m-64 1.2h.6m4.9-.4h.6m.3 .7h.6m.9-.2h.6m2.2 0h.6m-.3-.4h.6m2.1 .3h.6m0-.1h.6m.4 .1h.6m2.2-.4h.6m.6 .1h.6m1.6 .1h.6m.4 .6h.6m7-.8h.6m-27.7 1.2h.6m-.3 .5h.6m1.9 0h.6m.5-.6h.6m.2-.2h.6m2.1 .7h.6m.7-.5h.6m.3 .6h.6m-.4 0h.6m-.4-.4h.6m1.5 .2h.6m-.2-.5h.6m.9 .4h.6m1-.3h.6m.3 .3h.6m-.4-.4h.6m2.7 .4h.6m-.5-.1h.6m2.7 .4h.6m3.4-.6h.6m-33.7 1.2h.6m2.3 .6h.6m2.7-.5h.6m0-.4h.6m4.8 0h.6m-.1 .5h.6m-.4 0h.6m.1 .2h.6m.2-.4h.6m-.2 0h.6m-.2 .6h.6m-.1-.1h.6m-.5-.1h.6m.9-.7h.6m.2 .5h.6m1.2-.6h.6m-.4 .1h.6m-.5 .4h.6m-.6-.4h.6m0 .1h.6m-.2 .4h.6m3.1 .2h.6m.6-.4h.6m14.3 .2h.6m-41.9 .6h.6m3.9 .2h.6m1.4 .4h.6m3.2-.6h.6m-.5 .1h.6m-.4-.1h.6m.4 .4h.6m2.4-.4h.6m1.9 0h.6m-.5 .6h.6m0 0h.6m2.2-.6h.6m0 0h.6m7-.2h.6m.1 .8h.6m0-.7h.6m-.1 .4h.6m-29.5 .8h.6m8.7-.3h.6m.3 .4h.6m4.3-.1h.6m1.3 .1h.6m1.2 .2h.6m.1-.1h.6m-.2 .3h.6m6.2-.2h.6m.1 .2h.6m.9 .1h.6m-22.9 .9h.6m-.3 0h.6m2.4-.7h.6m-.3 .7h.6m1.8-.3h.6m-.4-.2h.6m1 .1h.6m1.2-.4h.6m.6 .9h.6m3-.6h.6m1.3 .5h.6m-11 .4h.6m1.8 .1h.6m13.5 .6h.6m29.4-.1h.6m-43.9 1h.6m-.3-.1h.6m6.8-.4h.6m-15.7 2h.6m22.6 .4h.6m23.6-.1h.6m-18.2 .8h.6m19 1h.6m-25.5 1.3h.6m22.4 .8h.6m-.1 .4h.6m-26.1 .5h.6m29.4-.2h.6m3.6 .5h.6m-23.1 1.1h.6m8.7-.7h.6m5.1-.1h.6m1.9 .6h.6m-45.6 1.2h.6m22.7-.3h.6m19.1 .5h.6m2.3-.3h.6m-9.4 .8h.6m3.8 .5h.6m5-.8h.6m-38.9 1.4h.6m25.8 .1h.6m3-.1h.6m1.7 .2h.6m.2 .1h.6m3.3 0h.6m-9.1 .3h.6m4.2 .2h.6m-.2 .3h.6m1.6-.6h.6m.7 .6h.6m-40.9 .5h.6m9.9 .1h.6m18.8 .3h.6m5 1.2h.6m.6-.7h.6m1.6 .6h.6m-8.4 1.1h.6m1.6-.6h.6m.6 .4h.6m2.5 .3h.6m-.5-.4h.6m-.6 .2h.6m3.6-.2h.6m-57.9 .9h.6m14.7-.1h.6m7.4 .4h.6m25.5 .1h.6m-.3-.1h.6m-.5-.4h.6m.7 .2h.6m-.5 .4h.6m.6-.5h.6m.3 .1h.6m-.4 .4h.6m.2-.6h.6m-.2 .1h.6m2.2-.4h.6m-36.4 1h.6m23.2 .4h.6m2.9-.2h.6m1 .1h.6m.4 .6h.6m.4-.8h.6m.1 .9h.6m-.2 0h.6m-.2-.6h.6m.2 .1h.6m-.6-.4h.6m.1 .6h.6m-47.1 1h.6m36.7 .1h.6m1.5-.1h.6m0-.5h.6m-.2-.1h.6m-.3 .2h.6m1.6-.1h.6m1.1 .7h.6m1.4-.6h.6m-36.9 1h.6m2.2 .2h.6m25.6-.3h.6m1.4-.1h.6m-.5 .1h.6m.2-.1h.6m-.5 .3h.6m.1 .6h.6m-.2-.3h.6m-.5 .3h.6m-.6-.1h.6m-.5-.4h.6m.4-.3h.6m-.3 .6h.6m.9-.1h.6m-39.5 1.1h.6m2.3-.6h.6m1.1 .5h.6m24.8 .2h.6m2.2-.9h.6m-.2 .1h.6m-.5 .4h.6m1.6 .2h.6m0 .1h.6m-.5-.7h.6m-.4 .3h.6m-.5 .2h.6m.5-.3h.6m.9 .1h.6m-.2 .4h.6m-.5-.6h.6m.6 .1h.6m-39.8 1h.6m-.4-.2h.6m.4 .5h.6m24.7 0h.6m3.4 .1h.6m-.2-.6h.6m.4 .6h.6m-.4-.5h.6m.4-.1h.6m-.5-.1h.6m.3 .3h.6m-.1 .1h.6m.8 .5h.6m.1-.1h.6m-.1-.2h.6m-.2 0h.6m.1-.1h.6m0 .1h.6m-.4 0h.6m-45.5 .4h.6m2.9 .5h.6m1.7 .5h.6m5.4-.2h.6m22.6 .2h.6m-.5-.4h.6m-.4-.2h.6m1.5-.1h.6m.4-.1h.6m-.1 .5h.6m-.2-.4h.6m0 .3h.6m-.6-.2h.6m2.3 .6h.6m-.2-.7h.6m0 .4h.6m-.3-.5h.6m2.8-.2h.6m.1 .9h.6m-44.7 .8h.6m12.2 .2h.6m8.7-.8h.6m4.3 .2h.6m2 .2h.6m2.9 .4h.6m-.3-.9h.6m-.3 0h.6m.8 .2h.6m.3-.1h.6m-.1 .4h.6m-.4 .1h.6m-.3-.6h.6m.4 .3h.6m0 0h.6m-.4 .2h.6m1.1 .4h.6m2.8-.4h.6m5 .3h.6m-53.4 .6h.6m11.4 .6h.6m25-.4h.6m-.2-.3h.6m.8 .5h.6m-.6-.6h.6m-.5 .1h.6m-.3 .6h.6m-.4-.2h.6m0-.3h.6m.1 .4h.6m.5-.4h.6m3.3 .6h.6m-44.5 0h.6m1.5 .3h.6m.6 .1h.6m2 .3h.6m-.1 .1h.6m24-.4h.6m1-.2h.6m-.4 .2h.6m-.6-.2h.6m.2 0h.6m0 .7h.6m.7 0h.6m1.8-.4h.6m.9 .1h.6m-42 .8h.6m4.5-.3h.6m1.3 .1h.6m1.6 .7h.6m24.8-.4h.6m.3-.3h.6m-.4 0h.6m-.6 0h.6m-.2-.1h.6m.1 .4h.6m.2 .2h.6m-.5-.6h.6m0 .4h.6m-.4-.4h.6m-.1 0h.6m0 .2h.6m-.4-.1h.6m-.4 .5h.6m-.6-.3h.6m-.2 .2h.6m-.4-.1h.6m-.1-.2h.6m-.3 .6h.6m-.3-.6h.6m-.3 .6h.6m2.5-.8h.6m-42.9 1.1h.6m.6 .4h.6m.2 .1h.6m.1-.1h.6m1.2 .3h.6m5.9-.4h.6m20 0h.6m-.2 .2h.6m.8-.5h.6m-.2-.1h.6m-.5 .6h.6m-.4-.6h.6m.3-.1h.6m.2 .2h.6m1.2-.1h.6m-.3 .8h.6m-.1-.9h.6m-.2 .8h.6m.6 .1h.6m-.1-.3h.6m1.2 .3h.6m-69.2 .6h.6m8.4-.1h.6m11.7 .3h.6m.5 0h.6m1.5-.5h.6m-.4 .1h.6m-.5 .1h.6m-.5-.1h.6m.2-.3h.6m2.2 .1h.6m.1 .4h.6m.7-.1h.6m-.3-.3h.6m-.2 .3h.6m.2 .2h.6m1.4 .1h.6m1.7 .3h.6m19.8-.6h.6m-.2-.1h.6m.1-.3h.6m.9 .5h.6m1.6-.3h.6m-.3 .3h.6m-.2-.4h.6m1.2-.1h.6m-.3 .3h.6m-.1 .2h.6m-.4 0h.6m-.3-.3h.6m-41.2 1.5h.6m.2-.3h.6m-.3 .1h.6m.8 0h.6m.3 .3h.6m-.2-.1h.6m1.5-.1h.6m-.1-.6h.6m-.5 .9h.6m2.7-.6h.6m2.9 .3h.6m19.1 .3h.6m-.1-.9h.6m1.6 .1h.6m.4 .5h.6m.1-.5h.6m-.5 0h.6m-.5 .3h.6m-.3 .1h.6m.1-.1h.6m-.3 .5h.6m0-.4h.6m-.2 .2h.6m.3 .2h.6m-45 .6h.6m.2 0h.6m.5 0h.6m.5-.2h.6m.2 0h.6m-.3-.3h.6m.5 .5h.6m.2-.3h.6m2.4 0h.6m.3 0h.6m.7 .7h.6m-.1-.8h.6m-.5 .8h.6m7.4-.1h.6m-.5-.5h.6m16 0h.6m-.3 .6h.6m.3 .1h.6m.1-.9h.6m-.4 .5h.6m.3 .1h.6m-.5 .1h.6m.2 .1h.6m-.2-.9h.6m-.1 .2h.6m-.4 .1h.6m-.1-.2h.6m.5 .7h.6m-.5-.1h.6m-.2-.5h.6m-.6 .1h.6m-.2 .2h.6m.2 .1h.6m2.6-.4h.6m-48.6 1.4h.6m2.1-.5h.6m1.7 .4h.6m.2-.4h.6m.8 0h.6m-.5 .3h.6m.9 .2h.6m0 .1h.6m-.4 .1h.6m-.1-.1h.6m2.5 .1h.6m22.6 .2h.6m.2-.1h.6m-.1-.8h.6m-.6 .6h.6m-.4-.1h.6m-.1-.5h.6m-.4 .6h.6m-.4-.6h.6m-.3 .7h.6m-.4 .1h.6m-.4-.5h.6m.1 0h.6m-.5 0h.6m-.6-.4h.6m-.4 .8h.6m-.6-.6h.6m-.4 .2h.6m-.4 .4h.6m1.5-.6h.6m-.4 .3h.6m-.4-.2h.6m0 .2h.6m-.5 .2h.6m.2-.3h.6m.1 .3h.6m1.2-.5h.6m-47.8 1.2h.6m.3 .1h.6m-.4 .3h.6m.6-.5h.6m.6 .6h.6m1.1 0h.6m-.3-.9h.6m-.3 .3h.6m-.3 .3h.6m.4 .4h.6m.2-.2h.6m-.4-.1h.6m-.1 .3h.6m-.1-.2h.6m.8-.1h.6m2.5-.2h.6m26-.1h.6m-.1 .2h.6m-.3-.5h.6m-.2 .2h.6m.2-.2h.6m-.1 .7h.6m-.5-.1h.6m-.4 .2h.6m-.2-.3h.6m-.3 0h.6m.4 0h.6m.2-.6h.6m-63.2 1.5h.6m18.7-.2h.6m-.2 .3h.6m.5-.1h.6m1.4-.4h.6m1.1 .6h.6m.6 .3h.6m.1-.9h.6m.8 .3h.6m1-.4h.6m1 .6h.6m21.3-.4h.6m1.7 .4h.6m-.3-.5h.6m-.2 .8h.6m.5-.3h.6m-.2 .3h.6m-.5 0h.6m-.5-.5h.6m-.1 0h.6m.3-.1h.6m.8 0h.6m-.5-.2h.6m1.7 .1h.6m-49.8 1.3h.6m2.1 0h.6m.2 .1h.6m2.1-.2h.6m-.5 .1h.6m1.9-.5h.6m.9 .7h.6m.6-.3h.6m-.6 .2h.6m.3 .4h.6m.2-.2h.6m24-.7h.6m.6 .7h.6m1-.1h.6m.3-.4h.6m-.5 0h.6m.4 .5h.6m-.3-.3h.6m1.5-.2h.6m1.2 .5h.6m.2-.2h.6m0-.2h.6m2.5 .5h.6m-49.6 .8h.6m1.2 .3h.6m-.5-.6h.6m.6-.3h.6m1.4 .3h.6m1.9 .1h.6m0 .5h.6m-.4-.5h.6m-.5 .2h.6m.8-.7h.6m.4 .9h.6m1.1-.3h.6m-.6-.5h.6m1.7-.1h.6m.2 .6h.6m1.6-.5h.6m2.4 .6h.6m15.7 .3h.6m2.1-.6h.6m.4-.1h.6m-.4 .3h.6m-.3-.3h.6m-.5 .3h.6m.2-.3h.6m-.6 .3h.6m0-.3h.6m-.1 .6h.6m-.1-.4h.6m.1-.2h.6m.2 .5h.6m2 0h.6m-53.2 .5h.6m2.8 .7h.6m3.8-.5h.6m1.3 .1h.6m1.3 0h.6m-.5-.5h.6m.5 .4h.6m-.2 .2h.6m-.6-.5h.6m-.2-.1h.6m.2 .6h.6m1-.3h.6m-.5-.3h.6m-.4 .5h.6m-.5-.2h.6m-.3-.3h.6m-.5 .6h.6m-.3-.2h.6m-.4 .2h.6m-.4 0h.6m-.5 .1h.6m-.5 0h.6m-.3-.5h.6m-.5 .1h.6m-.5 .2h.6m-.2 .3h.6m-.4-.1h.6m2.2-.8h.6m1.5 .3h.6m18.4-.1h.6m.7 .1h.6m-.1 .4h.6m2.9-.2h.6m-.2 0h.6m.4-.1h.6m-.1 .6h.6m.1-.5h.6m7.4 .1h.6m17.5-.5h.6m-73.3 1.6h.6m1.9-.1h.6m.6-.5h.6m-.4 .9h.6m1.1-.1h.6m.3-.6h.6m.4 0h.6m-.2 .1h.6m-.3 .2h.6m-.6-.3h.6m-.3 .6h.6m-.4-.9h.6m.2 0h.6m.2 .2h.6m-.2 .1h.6m0 .4h.6m-.5-.5h.6m-.2 .3h.6m.4-.1h.6m.2 .1h.6m-.1-.3h.6m.1 .7h.6m-.5-.1h.6m-.5 .1h.6m-.3-.2h.6m-.5-.4h.6m-.4-.2h.6m0 .4h.6m.5-.2h.6m.5 0h.6m-.4-.1h.6m.7 .1h.6m.8 .4h.6m.3-.2h.6m-.6 .2h.6m-.3 .1h.6m14.1 0h.6m2.6-.3h.6m.3-.2h.6m-.4 .2h.6m.1-.4h.6m.1 0h.6m-.3-.1h.6m-.6 .3h.6m-.6 .5h.6m.3-.1h.6m3.2-.3h.6m.7 0h.6m-49.3 .9h.6m.2 .2h.6m1.6-.1h.6m-.3-.2h.6m-.5 .6h.6m-.1 .1h.6m-.1-.2h.6m-.3 0h.6m.5-.6h.6m-.5 .6h.6m0 .2h.6m.5-.4h.6m-.4 0h.6m-.5-.2h.6m-.1-.2h.6m0 .5h.6m-.5-.1h.6m-.6 .4h.6m-.2-.3h.6m-.6-.5h.6m-.6 .9h.6m-.1-.1h.6m-.4-.3h.6m-.2 .3h.6m-.2-.2h.6m.3 .2h.6m-.5-.1h.6m-.3 .2h.6m.2-.8h.6m.5-.1h.6m1.3 .1h.6m0 .1h.6m-.4 .2h.6m.1-.4h.6m.5 .6h.6m1.2-.3h.6m.8 .3h.6m14.1-.1h.6m.3 .2h.6m2.4-.5h.6m.1 .3h.6m-.3-.2h.6m-.3 .4h.6m-.3-.5h.6m-.2 .7h.6m-.3-.9h.6m-.3 .3h.6m-.3 .5h.6m-.6-.3h.6m.4 .2h.6m.1-.6h.6m.7 0h.6m-.4 .1h.6m-.3 .3h.6m.4 .3h.6m1.3-.8h.6m-50.3 1.4h.6m0 .4h.6m1.1 .1h.6m.8-.1h.6m-.3-.4h.6m-.6-.3h.6m-.1 .4h.6m-.5-.2h.6m0 .1h.6m-.5-.4h.6m.1-.1h.6m-.2 .1h.6m-.5 .6h.6m-.4-.2h.6m-.1-.3h.6m-.1 .7h.6m-.2-.5h.6m-.6 0h.6m.3-.3h.6m-.2-.1h.6m-.1 .2h.6m-.3 .7h.6m-.5-.1h.6m-.6-.1h.6m-.3 .2h.6m-.5-.3h.6m-.6-.3h.6m-.3 .5h.6m-.6 0h.6m-.6-.5h.6m-.2-.2h.6m-.3 0h.6m-.3 .8h.6m-.5-.2h.6m-.5 .2h.6m.6 .1h.6m0-.2h.6m-.1-.1h.6m.3-.3h.6m-.4-.3h.6m-.2 .6h.6m-.2 0h.6m0-.5h.6m17.8 .4h.6m2.7 .4h.6m-.1 0h.6m-.2-.1h.6m-.5-.7h.6m-.2 .5h.6m-.3-.6h.6m0 .6h.6m-.1-.6h.6m-.5 .1h.6m0 .5h.6m-.1-.3h.6m.5 .2h.6m-.4 0h.6m-.5 .2h.6m-.5-.8h.6m-.2 .6h.6m-.4-.6h.6m.3 .4h.6m.5 .5h.6m-49.7 .2h.6m1 .7h.6m-.2 0h.6m-.3-.5h.6m.2 .2h.6m1.6-.2h.6m1.8-.3h.6m0 .9h.6m.1 0h.6m-.4-.7h.6m-.5 .3h.6m-.6 .4h.6m-.2-.3h.6m-.5 .2h.6m-.3-.3h.6m-.3 0h.6m-.5 .4h.6m-.5-.8h.6m-.2 .2h.6m-.6 .4h.6m-.5-.4h.6m-.5-.1h.6m-.4 .6h.6m-.4-.2h.6m-.3-.4h.6m-.2 .7h.6m.1-.4h.6m-.3-.2h.6m-.4-.3h.6m-.4 .6h.6m-.6 .1h.6m-.4-.5h.6m-.6 .3h.6m-.4 0h.6m-.4-.3h.6m-.5 .3h.6m-.3-.3h.6m-.6 0h.6m-.2 .4h.6m-.2 0h.6m-.5-.1h.6m-.6-.5h.6m-.4 .9h.6m-.6-.8h.6m-.3 .5h.6m-.5-.2h.6m0-.1h.6m-.6 0h.6m.1 .4h.6m.3-.4h.6m-.5-.2h.6m.3 .6h.6m-.4 0h.6m1 .1h.6m-.3 0h.6m.5-.6h.6m1.2 .8h.6m-.3-.3h.6m6.8-.3h.6m7.2 .2h.6m.7-.4h.6m-.5 .4h.6m-.3 .4h.6m-.4-.8h.6m.6 .1h.6m-.4 .4h.6m.2-.3h.6m-.2 .3h.6m-.1-.7h.6m.2 .3h.6m-.4 .5h.6m-.4-.3h.6m-.5 0h.6m-.2 .4h.6m.6-.8h.6m-.5 0h.6m-.4 .2h.6m-.5 .2h.6m-.6-.1h.6m0 .2h.6m-.6-.3h.6m.1 .3h.6m2-.5h.6m-.3 .4h.6m1.2 .2h.6m-54 1.1h.6m-.1-.2h.6m4.2-.3h.6m-.4 0h.6m0 .5h.6m-.2-.2h.6m-.4 .2h.6m-.5-.5h.6m-.1-.2h.6m-.5 .7h.6m-.4-.7h.6m-.2-.1h.6m-.6 .4h.6m-.5-.3h.6m-.6 .6h.6m-.2 .3h.6m-.5-.8h.6m-.4 .5h.6m-.6-.3h.6m-.5 0h.6m-.3 .6h.6m-.5-1h.6m-.2 .6h.6m-.5-.1h.6m-.5-.2h.6m-.5 .1h.6m-.6 0h.6m-.4-.4h.6m-.4 .5h.6m-.4 .3h.6m-.2 0h.6m-.6 .1h.6m-.6-.1h.6m-.6-.6h.6m-.6 .5h.6m-.3 .1h.6m-.2-.5h.6m0 .3h.6m-.3 .1h.6m-.6 .2h.6m-.5 0h.6m-.6-.2h.6m-.6-.6h.6m-.3 .6h.6m-.5-.4h.6m-.6 .3h.6m-.2-.6h.6m-.6 .9h.6m-.4-.4h.6m-.6-.5h.6m-.4 .9h.6m-.5-.2h.6m-.5-.1h.6m0 0h.6m.3-.5h.6m-.2 .1h.6m-.2 .5h.6m-.6 0h.6m-.5 0h.6m-.2 .2h.6m.4-.3h.6m-.4-.3h.6m-.4-.2h.6m1.5 .6h.6m.1 0h.6m.3 .2h.6m.8-.3h.6m.1 0h.6m12.7-.6h.6m1.8 .4h.6m-.2 .1h.6m-.4 .4h.6m-.6-.2h.6m-.4 .2h.6m-.4 0h.6m-.3-.5h.6m.7 .1h.6m-.6 .1h.6m-.3-.4h.6m-.4-.1h.6m-.5-.1h.6m-.1 .4h.6m.4 0h.6m-.5-.3h.6m-.1 .2h.6m-.2 .6h.6m-.2-.1h.6m-.1-.4h.6m.6 .2h.6m.2 .3h.6m-.4 .1h.6m-.4-.6h.6m-48 .9h.6m1.6-.1h.6m.9 .6h.6m.2-.3h.6m-.5-.5h.6m-.4 .8h.6m-.6-.1h.6m-.5-.5h.6m-.4 0h.6m-.2 .7h.6m.1-.5h.6m-.4 .1h.6m-.5-.2h.6m-.5 .2h.6m-.5 .2h.6m-.3-.2h.6m-.6-.5h.6m-.5 .6h.6m-.5-.1h.6m-.3-.4h.6m-.6 0h.6m-.3 .3h.6m-.6 0h.6m-.5 .6h.6m-.3-.4h.6m-.5-.1h.6m-.3 .3h.6m-.5-.3h.6m-.3 .5h.6m-.4-.7h.6m-.5 .7h.6m-.5-.5h.6m-.3 .4h.6m-.2-.5h.6m-.4 .3h.6m-.5-.6h.6m-.5 .1h.6m-.6 .1h.6m-.3 .5h.6m-.4-.3h.6m-.6 0h.6m-.5 .2h.6m-.5 .1h.6m-.4 0h.6m-.6 .2h.6m-.5-.7h.6m-.4 .2h.6m-.5 .2h.6m-.6-.6h.6m-.4 .5h.6m-.5-.1h.6m-.4-.1h.6m-.5 0h.6m.2 0h.6m.2 .1h.6m-.3 .4h.6m-.4-.8h.6m-.6 .7h.6m-.4-.7h.6m-.3 .1h.6m0 .3h.6m-.3 0h.6m-.2 .4h.6m-.4-.3h.6m-.4-.6h.6m.1 .9h.6m.4-.8h.6m-.6 .1h.6m.6-.2h.6m.2 .6h.6m1.5 .1h.6m12.7 .2h.6m1.9-.8h.6m-.1 .8h.6m0-.5h.6m.9 .4h.6m-.6-.4h.6m-.6 0h.6m-.4-.3h.6m-.5 0h.6m-.6 .7h.6m-.3-.2h.6m-.5-.2h.6m-.3 .1h.6m-.5 .2h.6m-.6-.1h.6m-.6-.2h.6m-.3-.1h.6m-.4 .5h.6m.1-.4h.6m-.4 .1h.6m0 .1h.6m-.3 0h.6m-.6-.1h.6m-.1-.1h.6m-.4 .1h.6m.4-.4h.6m.2 .4h.6m-.6-.2h.6m-.4 .4h.6m-.6-.3h.6m-.5-.1h.6m.1-.2h.6m-.5 .4h.6m-.1-.4h.6m.3 .1h.6m-50 1.6h.6m-.3 0h.6m-.3-.5h.6m-.3 .3h.6m.7 .1h.6m-.6-.6h.6m-.6 .9h.6m-.5-.4h.6m-.5-.4h.6m-.5 .6h.6m-.4-.7h.6m-.5 .1h.6m-.1 .5h.6m-.4 .1h.6m-.5 0h.6m-.5-.2h.6m-.5-.2h.6m-.5 .2h.6m-.5-.6h.6m-.2 .9h.6m-.4-.4h.6m-.6 .4h.6m-.5-.8h.6m.3 .1h.6m-.4 .4h.6m-.3-.3h.6m-.5 .6h.6m-.5-.7h.6m-.1 .3h.6m-.5-.1h.6m-.6 .2h.6m-.4-.4h.6m-.4 0h.6m-.6 .2h.6m-.6-.3h.6m-.4 .7h.6m-.6-.2h.6m-.4 .3h.6m0 0h.6m-.6-.4h.6m-.6 .4h.6m-.2-.8h.6m-.2 .5h.6m-.4 .4h.6m-.3-.9h.6m-.6 .2h.6m-.5 .1h.6m-.4-.3h.6m-.2 .3h.6m-.4 .5h.6m-.6-.3h.6m-.6-.1h.6m-.4 .2h.6m-.5-.4h.6m-.1-.1h.6m-.4 .2h.6m-.4-.2h.6m-.6 0h.6m.2 .8h.6m-.5-.4h.6m-.5 0h.6m-.6-.5h.6m-.3 .4h.6m-.6 .1h.6m-.5-.5h.6m-.6 .6h.6m-.5-.4h.6m-.6-.1h.6m-.5 0h.6m-.4 .7h.6m-.5-.2h.6m-.5 0h.6m-.6-.3h.6m.4-.3h.6m-.4 .1h.6m-.2 .5h.6m-.5-.6h.6m-.5 .7h.6m.5-.4h.6m-.2-.2h.6m0 .1h.6m.6 .4h.6m-.5-.1h.6m-.1-.3h.6m-.3-.2h.6m18.1 0h.6m.8 .1h.6m-.6 .2h.6m-.3 .1h.6m-.5 .1h.6m-.4-.5h.6m-.3 0h.6m.1 0h.6m.2 .1h.6m-.1 .2h.6m-.6 .4h.6m-.6 .1h.6m-.5-.5h.6m-.4-.1h.6m-.5 .6h.6m-.4 .1h.6m-.4-.9h.6m-.6 .8h.6m-.5 0h.6m.1-.6h.6m-.5-.3h.6m-.6 .9h.6m.2-.5h.6m-.4 .1h.6m-.3 .3h.6m-.3 .2h.6m-.6-.4h.6m-.5 .4h.6m-.4-.8h.6m-.4 .3h.6m.3 .1h.6m-.1-.1h.6m-.1 .4h.6m.9 0h.6m-.2 0h.6m-54 .4h.6m2.9 .1h.6m-.3 .3h.6m-.6 .2h.6m.1 .1h.6m.5-.4h.6m-.5 0h.6m-.3 0h.6m.3 .1h.6m-.5 .2h.6m-.3 0h.6m-.5-.8h.6m-.2-.1h.6m-.5 1h.6m-.5-.6h.6m-.5 .4h.6m-.5-.1h.6m-.3-.1h.6m-.3 .3h.6m-.6 0h.6m-.3-.1h.6m-.1-.5h.6m-.6 .6h.6m-.3-.2h.6m-.4 0h.6m-.1-.2h.6m-.5 .4h.6m-.4-.4h.6m-.2 .1h.6m-.6 .1h.6m-.5 .1h.6m-.5-.5h.6m-.4 .4h.6m-.5-.7h.6m-.5 .2h.6m-.6 .3h.6m-.4 .1h.6m-.4-.2h.6m-.4-.3h.6m-.6 .3h.6m-.4-.2h.6m-.4 .4h.6m-.6-.5h.6m-.5 .2h.6m-.5 .4h.6m-.5-.4h.6m-.6 .4h.6m-.5-.2h.6m-.4 .3h.6m-.5-.7h.6m-.6 .8h.6m-.6-.1h.6m-.5-.6h.6m-.4 .1h.6m-.5 .3h.6m-.6-.2h.6m-.2 .6h.6m-.6-.2h.6m-.6-.7h.6m-.5 .8h.6m-.5-.8h.6m-.4 .6h.6m-.3-.2h.6m-.2-.4h.6m-.5 .7h.6m-.5-.4h.6m-.3-.2h.6m0-.1h.6m-.1 .6h.6m-.5-.6h.6m.2 .1h.6m-.5 .4h.6m-.6-.1h.6m-.4 0h.6m-.1 .2h.6m-.5-.1h.6m.3 .2h.6m-.1 .1h.6m-.1-.6h.6m16.6 .3h.6m.5 .2h.6m-.2-.3h.6m.3 0h.6m.2 .3h.6m-.3-.4h.6m.4-.2h.6m-.5 .3h.6m-.5-.2h.6m-.1 .2h.6m-.5 .2h.6m-.5-.6h.6m.6 0h.6m-.6 .6h.6m-.6-.1h.6m-.5-.2h.6m-.3 .5h.6m-.6-.8h.6m-.6 0h.6m-.6 .4h.6m-.5 .5h.6m-.6-.5h.6m-.4-.4h.6m-.6 0h.6m-.1 .7h.6m-.4-.5h.6m-.5 .4h.6m-.5-.1h.6m-.5 0h.6m-.6 .2h.6m-.5 0h.6m-.5-.1h.6m-.6-.1h.6m-.4 0h.6m-.5-.3h.6m-.5-.2h.6m-.6 .1h.6m-.3 .1h.6m-.5 .4h.6m-.6 0h.6m-.5-.1h.6m-.5-.1h.6m-.6 .1h.6m-.4 .2h.6m-.6-.1h.6m-.6-.6h.6m-.2 0h.6m-.5 .7h.6m0 0h.6m-.4 0h.6m-.3-.2h.6m-.4-.4h.6m-.5 .4h.6m-.6 0h.6m-.5 .2h.6m-.4 0h.6m-.4-.3h.6m-.5 .4h.6m.3-.8h.6m-.2 .4h.6m-.4-.3h.6m.5 .6h.6m.5-.5h.6m.6-.2h.6m-57.4 1.3h.6m2.2 .1h.6m-.2 .1h.6m.4-.4h.6m0 .3h.6m.3 .2h.6m.1 .1h.6m.3-.1h.6m-.5-.6h.6m.4 .8h.6m-.2-.2h.6m-.2-.2h.6m-.5 0h.6m-.2 0h.6m-.4 .1h.6m-.3-.4h.6m-.5 .6h.6m-.5-.1h.6m-.5 .1h.6m-.4-.7h.6m0 .9h.6m-.5-.7h.6m-.6-.1h.6m-.4-.1h.6m-.5 .3h.6m-.5-.1h.6m-.6-.1h.6m-.6 0h.6m-.2 .4h.6m-.5-.6h.6m-.2 .2h.6m-.6 .5h.6m-.4-.2h.6m-.5 .4h.6m-.5 0h.6m-.2-.5h.6m-.5 .4h.6m-.5 0h.6m-.5-.7h.6m-.4 0h.6m-.5-.1h.6m-.5 .3h.6m-.5 .6h.6m-.6 0h.6m-.4-.5h.6m-.6 .6h.6m-.2-.2h.6m-.6-.4h.6m-.3 .1h.6m-.5-.4h.6m-.6 .3h.6m-.5-.2h.6m-.5 .3h.6m-.5 0h.6m-.6-.3h.6m-.5 .1h.6m-.6-.1h.6m-.5-.2h.6m-.5 .1h.6m-.6 .3h.6m-.5 .5h.6m-.5-.1h.6m-.5 .1h.6m-.6-.3h.6m-.6 0h.6m-.2 .2h.6m-.5 .1h.6m-.6-.7h.6m-.2 .3h.6m-.5-.3h.6m-.4 .1h.6m-.5-.3h.6m-.3 .4h.6m-.3 .2h.6m-.4 .3h.6m0-.2h.6m-.4-.2h.6m-.2-.1h.6m0-.3h.6m-.5-.1h.6m-.6 .9h.6m-.4-.5h.6m.4 .1h.6m-.6 0h.6m1.8-.2h.6m15.6 .2h.6m.5 .3h.6m-.3-.2h.6m.5-.3h.6m-.5 .1h.6m-.3-.2h.6m0 .2h.6m0 .5h.6m-.2-.9h.6m-.4 .5h.6m-.4-.1h.6m0-.1h.6m-.3 .5h.6m-.5 .2h.6m-.5-.7h.6m-.4 .4h.6m-.6 .1h.6m-.5-.8h.6m-.6 .4h.6m-.5 .2h.6m-.6-.1h.6m-.5-.1h.6m-.5 .2h.6m-.4 .1h.6m-.2 .1h.6m-.5-.8h.6m-.6 .1h.6m-.5 .2h.6m-.5 .5h.6m-.5-.8h.6m-.5 .5h.6m-.4 .1h.6m-.6 0h.6m-.5 .1h.6m-.5-.5h.6m-.5 .5h.6m-.6-.5h.6m-.6 .6h.6m-.5-.5h.6m-.5-.1h.6m-.6 .2h.6m-.5-.2h.6m-.3 .3h.6m-.5 .4h.6m-.4-.4h.6m-.5-.1h.6m-.6 .1h.6m-.6-.1h.6m-.5-.1h.6m-.6 .5h.6m-.4-.7h.6m-.6 .8h.6m-.5-.3h.6m-.6-.5h.6m-.4 .1h.6m-.5 .8h.6m-.5-.3h.6m-.1 .2h.6m-.1-.4h.6m-.5 .5h.6m-.6-.2h.6m-.5-.1h.6m.5 0h.6m-.5 .3h.6m.3-.2h.6m-.6-.2h.6m-.5-.1h.6m-.5-.1h.6m.1 .3h.6m-.2-.5h.6m-.4 .7h.6m-.4-.3h.6m-.4-.2h.6m.8-.2h.6m1.1 .3h.6m-56.5 1.3h.6m-.2 0h.6m-.4-.7h.6m-.4-.1h.6m-.3 .2h.6m.9 .7h.6m1.7-.5h.6m-.6-.1h.6m-.5-.1h.6m-.3 .7h.6m-.4-.5h.6m-.5 0h.6m-.3 0h.6m-.4 .5h.6m-.2 .1h.6m-.3-.3h.6m-.6 .1h.6m-.5-.5h.6m-.4 .1h.6m-.4 .3h.6m-.3-.7h.6m-.6 1h.6m-.4-.8h.6m-.6 .2h.6m-.5 .4h.6m-.4-.3h.6m-.6 .4h.6m-.4 0h.6m-.5-.7h.6m-.4 0h.6m-.5-.1h.6m-.2 .6h.6m-.5-.4h.6m-.5 .7h.6m-.6-.5h.6m-.6 .2h.6m-.3-.4h.6m-.4 .1h.6m-.4-.2h.6m-.6 .4h.6m-.5-.2h.6m-.4-.1h.6m-.6-.1h.6m-.4 0h.6m-.4 0h.6m-.4 .4h.6m-.6 0h.6m-.6-.5h.6m-.4 .4h.6m-.3-.4h.6m-.6 .8h.6m-.6-.5h.6m-.5 .1h.6m-.6-.5h.6m-.5 .4h.6m-.2 .1h.6m-.2-.1h.6m-.6 0h.6m-.6 .4h.6m-.4-.6h.6m-.5 0h.6m-.6 .3h.6m-.5-.5h.6m-.4 .1h.6m-.4 .4h.6m-.5-.2h.6m-.5 .2h.6m-.6 .3h.6m-.1-.6h.6m.1 .5h.6m-.6-.2h.6m-.4-.3h.6m-.3 .2h.6m-.5-.1h.6m-.5 0h.6m-.2 .4h.6m-.2-.2h.6m-.5 0h.6m-.5 .2h.6m-.4 .2h.6m.2-.8h.6m-.4-.1h.6m.2 .5h.6m-.3 .4h.6m-.5-.3h.6m-.1 .1h.6m-.4-.4h.6m-.5 .3h.6m-.1-.4h.6m-.1 .3h.6m1.9-.3h.6m-.1 .4h.6m11.9 .2h.6m.6-.3h.6m.6 0h.6m.1-.4h.6m-.2 .3h.6m-.5 .3h.6m-.5-.3h.6m-.3 .1h.6m-.5-.2h.6m-.5 0h.6m-.4 .5h.6m.3 0h.6m-.6-.5h.6m-.5 .5h.6m-.5-.2h.6m-.6 .2h.6m-.5 .2h.6m-.4-.7h.6m-.2-.3h.6m-.3 .3h.6m0 .4h.6m-.4-.4h.6m-.5 .6h.6m-.6 0h.6m-.4-.6h.6m-.5 .4h.6m-.4-.5h.6m-.3 .6h.6m-.3-.2h.6m-.5 .1h.6m-.6-.5h.6m-.6-.1h.6m-.5 .8h.6m-.6-.4h.6m-.5-.1h.6m-.6 .5h.6m-.6-.5h.6m-.5 0h.6m-.5 .1h.6m-.6-.2h.6m-.5-.1h.6m-.5 .2h.6m-.5 .5h.6m-.6-.3h.6m-.6 .3h.6m-.6 .1h.6m-.6-.4h.6m-.5-.2h.6m-.6 .1h.6m-.5-.2h.6m-.6 .4h.6m-.6-.6h.6m-.6 .4h.6m-.3 .4h.6m-.4-.3h.6m-.5 .1h.6m-.6-.3h.6m-.5-.1h.6m-.4 .4h.6m-.6-.6h.6m-.4 .8h.6m-.5 0h.6m-.2-.9h.6m-.2 .8h.6m-.6-.4h.6m-.4 .6h.6m-.6-.1h.6m-.5-.7h.6m-.6 .5h.6m-.2-.3h.6m-.2-.4h.6m-.6 .9h.6m-.3-.3h.6m-.5 .1h.6m-.5-.5h.6m-.5-.1h.6m-.5 .5h.6m-.2 .3h.6m-.5-.8h.6m-.2 0h.6m.2 .6h.6m-.5-.3h.6m-.3-.2h.6m-.1 .3h.6m-.5-.5h.6m-.4 .3h.6m-.3-.2h.6m-52 1.8h.6m-.1-.8h.6m-.1 .5h.6m-.2-.3h.6m.5 .4h.6m-.2-.5h.6m-.1 .6h.6m-.5-.7h.6m-.3 .5h.6m-.2-.4h.6m-.6 .3h.6m-.4-.1h.6m-.5 .5h.6m-.4-.1h.6m-.2-.8h.6m-.5 .6h.6m-.5-.5h.6m-.5 .4h.6m-.4-.5h.6m-.5 .4h.6m-.5 .2h.6m-.5 .2h.6m-.4-.7h.6m-.6 .5h.6m-.5-.5h.6m-.2 .8h.6m-.6 0h.6m0-.7h.6m-.5 0h.6m-.4-.1h.6m0 .6h.6m-.3 .1h.6m-.3-.3h.6m-.6 0h.6m-.1-.4h.6m-.6 .7h.6m-.1-.3h.6m-.6-.4h.6m-.1 0h.6m-.5 .2h.6m-.6 .6h.6m-.1-.2h.6m-.5 .2h.6m-.5-.8h.6m-.6 .1h.6m-.4 .5h.6m-.6-.4h.6m-.3-.1h.6m-.6-.1h.6m-.5 .3h.6m-.4 .1h.6m-.4 .4h.6m-.3-.3h.6m-.4-.2h.6m-.5-.3h.6m-.2 .1h.6m-.2-.1h.6m-.3 0h.6m-.5-.1h.6m0 .5h.6m.4-.1h.6m-.5 .5h.6m-.5-.1h.6m-.4-.2h.6m-.4 .1h.6m-.3-.5h.6m.4 .3h.6m-.5-.1h.6m-.2 .5h.6m.4-.5h.6m2 .2h.6m12.4-.3h.6m1 .5h.6m.8-.2h.6m-.6-.4h.6m.1 .1h.6m-.4 .3h.6m-.3 .3h.6m-.5-.7h.6m-.5 0h.6m.1 .7h.6m-.4-.9h.6m0 .4h.6m-.6 0h.6m-.6 0h.6m.3 .2h.6m-.3-.6h.6m-.3 .6h.6m-.6 .3h.6m-.6-.1h.6m-.6-.6h.6m-.5 .6h.6m-.6-.1h.6m-.5-.5h.6m-.4 .2h.6m-.6-.2h.6m-.6 .8h.6m-.6-.8h.6m-.6 .1h.6m-.4 .6h.6m-.5 0h.6m-.5 .1h.6m-.6-.6h.6m-.4 .5h.6m-.5-.6h.6m-.6 .1h.6m-.4 .2h.6m-.6-.3h.6m-.4 .4h.6m-.6 0h.6m-.3 .2h.6m-.3-.7h.6m-.4 .5h.6m-.6-.5h.6m-.5 .1h.6m-.6 .3h.6m-.5 .2h.6m-.6-.3h.6m-.6-.1h.6m-.5 .5h.6m-.5-.5h.6m-.6 .5h.6m-.6 .1h.6m-.4-.9h.6m-.4 .3h.6m-.5-.2h.6m-.6 .2h.6m-.6 .2h.6m-.3-.2h.6m-.6 .6h.6m-.6-.7h.6m-.3 0h.6m-.5 .4h.6m-.6 .2h.6m-.5-.1h.6m-.6-.2h.6m-.5-.2h.6m-.5 .1h.6m-.5-.2h.6m-.5 .6h.6m-.6-.6h.6m-.4 .3h.6m-.6 0h.6m-.5-.2h.6m-.4-.3h.6m-.3 .1h.6m-.3 .7h.6m-.6 0h.6m-.5-.4h.6m-.6 0h.6m-.5 0h.6m-.5-.3h.6m-.4 .7h.6m-.4-.5h.6m-.5 .5h.6m-.5-.7h.6m-.5 .7h.6m-.1 0h.6m-.6-.2h.6m-.6-.1h.6m-.5-.2h.6m-.3 .3h.6m-.3 .3h.6m-.4-.4h.6m-.1 .1h.6m-.1 0h.6m-.4-.1h.6m-.5 0h.6m.2-.4h.6m-.5 0h.6m.4-.2h.6m-56.8 1.5h.6m.9 .3h.6m0-.5h.6m1.1 .6h.6m-.5-.4h.6m-.2 .4h.6m-.2 0h.6m.7-.4h.6m-.6 .4h.6m-.5-.4h.6m-.6 .3h.6m0 0h.6m-.4-.3h.6m-.5 .4h.6m-.3-.4h.6m-.1-.5h.6m-.6 .2h.6m-.1 .7h.6m-.4 .1h.6m-.2-.2h.6m-.4-.8h.6m-.3 .2h.6m-.4 0h.6m-.4 .7h.6m-.1-.4h.6m-.3 0h.6m-.2-.3h.6m-.4-.2h.6m-.3 .8h.6m-.5 0h.6m-.5-.2h.6m-.5-.2h.6m0 .2h.6m-.5-.1h.6m-.6-.2h.6m-.1-.2h.6m-.3 .8h.6m-.4-.4h.6m-.5 .3h.6m-.3-.2h.6m-.5-.5h.6m-.6 .4h.6m-.6-.1h.6m-.5 .4h.6m-.5 .1h.6m-.3-.1h.6m-.6 0h.6m-.4 .2h.6m-.2-.5h.6m-.3-.4h.6m-.2 .3h.6m-.3-.4h.6m.8 .3h.6m-.3 .5h.6m.5 0h.6m-.3-.8h.6m-.6 0h.6m-.5 1h.6m-.4-.4h.6m-.5-.6h.6m.9 .3h.6m-.1 .4h.6m2.1 0h.6m1.1-.2h.6m11.8-.4h.6m1.3 .7h.6m.6-.7h.6m-.6 .3h.6m.1 .5h.6m-.4-.5h.6m-.4 .3h.6m-.4-.1h.6m-.2-.1h.6m-.6 .2h.6m-.2 0h.6m-.5-.5h.6m-.2 .6h.6m-.5-.4h.6m-.2 0h.6m-.5 .2h.6m-.4-.2h.6m-.5-.1h.6m-.6-.1h.6m-.4 .6h.6m-.5 .2h.6m-.4-.1h.6m-.6-.1h.6m-.5-.5h.6m-.5 .1h.6m-.6 .2h.6m.1-.1h.6m-.4-.4h.6m-.5 .4h.6m-.5 .2h.6m-.3-.2h.6m-.4 0h.6m-.6 .2h.6m-.5 .1h.6m-.6-.6h.6m-.5 .4h.6m-.2-.1h.6m-.5 .3h.6m-.2-.4h.6m-.6 .2h.6m-.5-.4h.6m-.5 .6h.6m-.6-.5h.6m-.4 .6h.6m-.5 0h.6m-.4-.2h.6m-.5-.6h.6m-.5 .8h.6m-.5-.9h.6m-.5 .3h.6m-.5 .4h.6m-.4 .1h.6m-.5-.7h.6m-.5 .3h.6m-.6-.3h.6m-.4 .5h.6m-.5-.1h.6m-.5 .2h.6m-.4 .3h.6m-.2-.1h.6m-.5-.2h.6m-.5-.4h.6m-.6 .2h.6m-.5 .3h.6m-.6-.1h.6m-.6-.5h.6m-.6 .1h.6m-.4 .5h.6m-.4-.2h.6m-.5-.3h.6m-.5 .7h.6m-.1-1h.6m-.5 .7h.6m-.4 .2h.6m-.3-.4h.6m-.5 .2h.6m-.3 .1h.6m-.6-.2h.6m-.5-.1h.6m.2-.3h.6m-.5 .2h.6m1.2-.3h.6m-54 1.8h.6m-.4 0h.6m-.6-.1h.6m.6-.2h.6m-.5-.4h.6m1.8 .4h.6m0 .2h.6m.3 .2h.6m-.2-.9h.6m-.1 0h.6m-.5 .4h.6m-.3 0h.6m-.5 .2h.6m-.5-.3h.6m-.5-.3h.6m.2 .5h.6m0 0h.6m-.6 .3h.6m-.2-.1h.6m-.6-.5h.6m-.4 .3h.6m-.4 .2h.6m-.5-.1h.6m-.1-.1h.6m-.3-.4h.6m-.5 .2h.6m-.4-.1h.6m0 0h.6m-.5 .5h.6m-.4-.5h.6m-.1 .4h.6m-.1 0h.6m-.4 .1h.6m-.1 .1h.6m-.5-.7h.6m.1 .2h.6m0-.3h.6m.1 .6h.6m0-.2h.6m-.4 .2h.6m-.4-.3h.6m0 .1h.6m-.4 .1h.6m2.1-.5h.6m14 .6h.6m1.4 0h.6m-.2-.3h.6m1.1-.1h.6m1.2-.1h.6m.1 .1h.6m-.4 0h.6m-.5 .5h.6m-.3 0h.6m-.5-.3h.6m-.6 .1h.6m-.3-.1h.6m-.5-.1h.6m-.3-.1h.6m-.5 .6h.6m-.6 0h.6m-.5-.1h.6m-.4-.2h.6m-.5 0h.6m-.1 .1h.6m-.5-.5h.6m-.6 .3h.6m-.5 .2h.6m-.5-.4h.6m-.5-.2h.6m-.6 .6h.6m-.5 .1h.6m-.6-.4h.6m-.5 .1h.6m-.6 .4h.6m-.4-.4h.6m-.6-.3h.6m-.6 .5h.6m-.4 0h.6m-.6-.3h.6m-.4 0h.6m-.5-.1h.6m-.6 .3h.6m-.5-.5h.6m-.6 .5h.6m-.4 .1h.6m-.5 .1h.6m-.6 0h.6m-.6-.4h.6m-.2 .5h.6m-.6-.2h.6m-.5 .2h.6m-.6-.8h.6m-.6 0h.6m-.6 .6h.6m-.3-.3h.6m-.6 .1h.6m-.6-.1h.6m-.6 .2h.6m-.6 .1h.6m-.5 .2h.6m-.5-.5h.6m-.3 .5h.6m-.6-.2h.6m-.5 .3h.6m-.5-.2h.6m-.5 .1h.6m-.4-.5h.6m-.5-.2h.6m-.5-.1h.6m-.6 .9h.6m-.5-.6h.6m-.6 .5h.6m-.3-.4h.6m-.6-.4h.6m-.3-.1h.6m-.5 .3h.6m-.5 .6h.6m-.5-.3h.6m-.6-.4h.6m-.4 .1h.6m-.6-.2h.6m-.6 .2h.6m-.6 .7h.6m-.5-.7h.6m-.4 .3h.6m-.6 .3h.6m-.2-.4h.6m-.4-.2h.6m-.2-.1h.6m-.3 .1h.6m-.5 .4h.6m-.5-.1h.6m-.3-.4h.6m0 .5h.6m-.5 .1h.6m.2 0h.6m-.6 0h.6m.1-.4h.6m.1-.1h.6m-51.6 .7h.6m-.2 .1h.6m.6 .3h.6m-.4-.4h.6m-.2 .6h.6m-.4 .1h.6m-.4-.5h.6m-.4 0h.6m.8 .7h.6m-.5-.8h.6m-.6 .2h.6m-.5 .3h.6m-.3-.1h.6m.2-.2h.6m.5 .7h.6m-.4-1h.6m0 .3h.6m-.4 .4h.6m-.5-.4h.6m-.4-.1h.6m-.4 .3h.6m-.3 .2h.6m0 .2h.6m-.2-.6h.6m-.5-.2h.6m-.3 .7h.6m.3 .1h.6m23.7-.2h.6m-.2 0h.6m-.6-.2h.6m-.1 .5h.6m-.6-.6h.6m.1-.1h.6m.1 .4h.6m-.5-.6h.6m-.4 .5h.6m-.6-.1h.6m-.3 .2h.6m0-.6h.6m-.6 .3h.6m-.3 .5h.6m-.5-.3h.6m-.6-.6h.6m-.2 .3h.6m-.5 .3h.6m-.4-.1h.6m-.5 .2h.6m-.5 .2h.6m-.4-.1h.6m-.5-.3h.6m-.5-.1h.6m-.6-.1h.6m-.6-.1h.6m-.5 .6h.6m-.5-.3h.6m-.2 .2h.6m-.4-.6h.6m-.6 .7h.6m-.5-.3h.6m-.6 .2h.6m-.5-.3h.6m-.5 .3h.6m-.3-.6h.6m-.6 .3h.6m-.5 .1h.6m-.6 .1h.6m-.3-.6h.6m-.6 1h.6m-.6-.2h.6m-.5-.4h.6m-.5 .5h.6m-.6 0h.6m-.5-.6h.6m-.6 .4h.6m-.4-.6h.6m-.6 .8h.6m-.6-.9h.6m-.5 .2h.6m-.5-.1h.6m-.5 .3h.6m-.5 .5h.6m-.5-.1h.6m-.5-.2h.6m-.5-.5h.6m-.5 .7h.6m-.5-.8h.6m-.4 .1h.6m-.6 .7h.6m-.6 .1h.6m-.6-.6h.6m-.5 .3h.6m-.4 .1h.6m-.6 0h.6m-.6-.2h.6m-.4 .1h.6m-.6 0h.6m-.3 0h.6m-.6 .3h.6m-.5-.2h.6m-.6 .2h.6m-.5-.4h.6m-.5 .1h.6m-.5-.4h.6m-.5 .4h.6m-.5-.1h.6m-.5-.3h.6m-.4 .1h.6m-.4 .6h.6m-.5-.3h.6m-.6-.5h.6m-.4 .6h.6m-.6-.5h.6m-.4 .6h.6m-.6-.3h.6m-.4-.1h.6m-.5-.1h.6m-.4 .4h.6m-.6-.6h.6m-.4 .8h.6m-.4-.2h.6m-.1-.6h.6m-.4 .6h.6m-.5-.5h.6m-.5 .6h.6m-.4-.7h.6m-.5 .1h.6m-.5 .3h.6m-.4-.1h.6m-.3-.1h.6m-.6 .6h.6m-.2-.8h.6m1.8 .2h.6m-.6-.2h.6m-50.9 1.6h.6m1.5-.3h.6m.1 .4h.6m-.3-.4h.6m1.6-.2h.6m.6 .3h.6m-.5-.1h.6m.3 0h.6m.6-.3h.6m-.2 .6h.6m-.3 0h.6m-.6-.3h.6m-.6 .3h.6m.5 0h.6m-.2 .3h.6m-.3-.5h.6m.6-.4h.6m1.1 .1h.6m0-.1h.6m15.3 .1h.6m1 .5h.6m1.3-.1h.6m-.6 .1h.6m.4-.4h.6m-.5 .5h.6m-.4-.7h.6m.3 .2h.6m0 .3h.6m-.5 .2h.6m-.2-.1h.6m-.4-.6h.6m-.6 .1h.6m-.5 .4h.6m-.6 0h.6m-.5-.4h.6m-.4 .3h.6m-.6 .1h.6m-.5-.5h.6m-.5 .5h.6m-.6 .4h.6m-.5-.5h.6m-.3-.3h.6m-.6-.1h.6m-.5 .2h.6m-.6 .2h.6m-.4-.1h.6m-.4 .5h.6m-.4 .1h.6m-.5-.4h.6m-.6 0h.6m-.3-.4h.6m-.6 .3h.6m-.5 .3h.6m-.5-.2h.6m-.4 .1h.6m-.6 .3h.6m-.5-.6h.6m-.5-.3h.6m-.4 .7h.6m-.4-.5h.6m-.5-.2h.6m-.6 .1h.6m-.4 0h.6m-.5 .6h.6m-.3-.6h.6m-.5 .1h.6m-.6 .2h.6m-.6 .1h.6m-.5-.6h.6m-.4 .3h.6m-.4 .3h.6m-.5-.3h.6m-.5-.1h.6m-.6 .1h.6m-.6 .2h.6m-.5 .5h.6m-.6-.1h.6m-.4-.8h.6m-.3 .7h.6m-.6-.4h.6m-.5 .4h.6m-.4-.4h.6m-.5-.4h.6m-.3 .5h.6m-.5-.4h.6m-.4 .2h.6m-.4-.2h.6m-.5 .5h.6m-.6 .1h.6m-.5-.3h.6m-.6 .4h.6m-.6-.4h.6m-.1 .6h.6m-.6-.5h.6m-.5-.2h.6m-.6-.1h.6m-.5 .5h.6m-.5-.2h.6m-.5 .2h.6m-.1 .3h.6m-.6-.5h.6m-.6 .2h.6m-.5-.4h.6m-.6 .2h.6m-.5-.3h.6m-.5 .3h.6m-.3-.4h.6m-.1-.1h.6m-.5 .5h.6m-.5-.2h.6m.4 .5h.6m-.6 .1h.6m.3-.7h.6m-.6-.1h.6m-.6 .1h.6m-.1 .4h.6m.3 .4h.6m-.3 0h.6m-57 .6h.6m1.9-.5h.6m2-.1h.6m1.4 .5h.6m-.4 .2h.6m.3 .1h.6m-.4 0h.6m.9 .1h.6m-.4-.3h.6m.6 .3h.6m1.1-.6h.6m-.1 .4h.6m-.1 .2h.6m.1-.2h.6m-.5-.1h.6m-.3 0h.6m3.9 .2h.6m20-.3h.6m-.6 .1h.6m-.1-.1h.6m-.1 .4h.6m0-.9h.6m-.3 .8h.6m-.5-.7h.6m.4 .5h.6m-.3 .3h.6m-.6 0h.6m-.5-.7h.6m-.4 .1h.6m-.1 .3h.6m-.5-.6h.6m-.4 .9h.6m-.6-.4h.6m-.4-.5h.6m-.4 .8h.6m-.5-.5h.6m-.5 .6h.6m-.4-.7h.6m-.5 .2h.6m-.5 .4h.6m-.5-.8h.6m-.5 0h.6m-.6 .4h.6m-.5-.2h.6m-.5 .5h.6m-.5 0h.6m-.3 0h.6m-.6-.5h.6m-.4-.2h.6m-.4 .8h.6m-.5-.4h.6m-.5 .4h.6m-.5-.8h.6m-.6 .1h.6m-.5 .1h.6m-.6 .3h.6m-.6 .2h.6m-.5-.4h.6m-.5 .6h.6m-.6-.7h.6m-.5 .4h.6m-.5-.1h.6m-.5 0h.6m-.4 0h.6m-.5-.4h.6m-.6 .7h.6m-.5-.1h.6m-.6 .2h.6m-.5-.7h.6m-.6 .5h.6m-.4-.6h.6m-.4 .5h.6m-.4-.5h.6m-.6 .5h.6m-.5 .3h.6m-.6-.9h.6m-.5 .1h.6m-.6 .5h.6m-.4-.1h.6m-.6 .5h.6m-.1-.1h.6m-.1 0h.6m-.6-.5h.6m-.5 .1h.6m-.5-.3h.6m-.6 0h.6m.1 .3h.6m-.5 .1h.6m-.6 .1h.6m-.4 0h.6m-.4 0h.6m-.5-.4h.6m-.2 .1h.6m-.5 .6h.6m-.5-.8h.6m-.5 .3h.6m-.4 0h.6m.5-.1h.6m-.3-.2h.6m-.1 .4h.6m.2-.1h.6m-52.6 1.2h.6m3.6-.5h.6m.9 .1h.6m.9-.1h.6m.4 .7h.6m-.4-.6h.6m3.4-.2h.6m-.2 .1h.6m-.1 .3h.6m-.5 .2h.6m2.3-.5h.6m19.8 .2h.6m-.4-.2h.6m-.4 0h.6m-.6-.1h.6m-.3 .2h.6m-.5 .7h.6m-.5-.3h.6m-.3 .2h.6m-.3 .1h.6m-.6-.1h.6m.4 0h.6m-.6-.8h.6m-.5 .3h.6m-.2 0h.6m-.4-.1h.6m-.4 .5h.6m-.2-.4h.6m-.4-.3h.6m-.6 .6h.6m-.5-.4h.6m-.5 .3h.6m-.6 .2h.6m-.5-.2h.6m-.6-.6h.6m-.4 .7h.6m-.6-.6h.6m-.3 .2h.6m-.4-.2h.6m-.4 .1h.6m-.6 .2h.6m-.5 0h.6m-.6 .3h.6m-.5 .2h.6m-.6-.4h.6m-.3-.3h.6m-.5 .6h.6m-.6 0h.6m-.6-.1h.6m-.6-.1h.6m-.2 .1h.6m-.3 .2h.6m-.5-.8h.6m-.6 .2h.6m-.5 .2h.6m-.6-.5h.6m-.6 1h.6m-.5-.8h.6m-.4 .5h.6m-.5-.2h.6m-.4 0h.6m-.6-.5h.6m-.5 .2h.6m-.5 .5h.6m-.5-.3h.6m-.6-.2h.6m-.6 .7h.6m-.5-.9h.6m-.6 .6h.6m-.3 .2h.6m-.6 .1h.6m-.6-.5h.6m-.5 .3h.6m-.6-.6h.6m-.5-.1h.6m-.4 .1h.6m-.5 .6h.6m-.5 .2h.6m-.4-.7h.6m-.6 .6h.6m-.4 0h.6m-.4-.2h.6m-.6 .4h.6m-.6-.2h.6m-.5-.1h.6m-.6-.3h.6m-.4-.2h.6m-.6 .2h.6m-.4 .3h.6m-.6-.2h.6m-.5-.2h.6m-.4-.3h.6m-.1 .9h.6m-.2-.7h.6m-.5 .5h.6m-.6-.1h.6m-.4-.2h.6m-.6-.1h.6m-.5 .1h.6m-.6-.4h.6m-.4 .8h.6m-.6-.4h.6m-.5 .2h.6m0 0h.6m-.5 0h.6m-.4-.5h.6m-.5 .8h.6m-.6-.2h.6m-.3-.5h.6m-.5 0h.6m-.6-.1h.6m-.2 .6h.6m-.5-.5h.6m-.4 .4h.6m-.6-.3h.6m-.3 .4h.6m-.4-.7h.6m-.1 .3h.6m-.4 .6h.6m-.3-.3h.6m-.6-.1h.6m2.3 .3h.6m-55.2 1.1h.6m.8-.3h.6m1.6 .1h.6m2.7 .2h.6m.1 .1h.6m4.8-.6h.6m22.3-.1h.6m.8-.1h.6m-.3-.1h.6m-.5-.1h.6m-.2 .6h.6m-.5-.1h.6m-.1 .2h.6m0-.4h.6m-.4-.2h.6m-.4 .1h.6m-.3 0h.6m-.6 0h.6m-.6 .1h.6m-.3 .6h.6m-.3 0h.6m-.5-.4h.6m-.5-.3h.6m-.3 .2h.6m-.5 .3h.6m-.2 .2h.6m-.6 0h.6m-.5-.8h.6m-.6 .9h.6m-.6-.7h.6m-.6-.1h.6m-.5 0h.6m-.3 .3h.6m-.4-.1h.6m-.6 .1h.6m-.3-.3h.6m-.4 .6h.6m-.6 .2h.6m-.5-.5h.6m-.6 0h.6m-.4 .3h.6m-.6-.5h.6m-.5 .1h.6m-.6 .2h.6m-.6 .2h.6m-.4-.5h.6m-.4 .1h.6m-.6 .3h.6m-.6 .2h.6m-.6-.6h.6m-.6 .1h.6m-.5-.3h.6m-.5 .1h.6m-.4 .6h.6m-.4-.4h.6m-.6-.3h.6m-.4 0h.6m-.5 .9h.6m-.6-.1h.6m-.5-.8h.6m-.5 .8h.6m-.5-.3h.6m-.4-.3h.6m-.5 .3h.6m-.6 0h.6m-.6-.3h.6m-.6-.2h.6m-.5 0h.6m-.5 .6h.6m-.5-.3h.6m-.6 .5h.6m-.4 .1h.6m-.3-.4h.6m-.6 .3h.6m-.4-.9h.6m-.5 .3h.6m-.5 .3h.6m-.5-.4h.6m-.6 0h.6m-.5 0h.6m-.5 .1h.6m-.5-.1h.6m-.4 .7h.6m-.6-.6h.6m-.5 0h.6m-.4 .5h.6m-.5-.7h.6m-.1 .1h.6m-.5 .4h.6m-.6 .4h.6m-.6-.8h.6m-.2-.2h.6m-.5 0h.6m-.3 .4h.6m-.5 .3h.6m.1-.3h.6m-.6 .5h.6m.1-.2h.6m-.4-.6h.6m-.1 .9h.6m-.3-.3h.6m-46.9 .8h.6m28.6-.2h.6m2.1 0h.6m.8 .2h.6m0-.1h.6m-.6-.3h.6m0 0h.6m.1 0h.6m-.2 .5h.6m-.5-.4h.6m-.1-.1h.6m-.5 .7h.6m-.4-.6h.6m-.4-.2h.6m-.3 .4h.6m-.6 .1h.6m-.6-.2h.6m-.4-.1h.6m-.6 .1h.6m-.6 .2h.6m-.5-.3h.6m-.4 .4h.6m-.5 0h.6m-.5-.6h.6m-.5 .8h.6m-.6-.5h.6m-.3 .1h.6m-.6 .4h.6m-.3 .1h.6m-.4-.3h.6m-.4-.1h.6m-.6 .2h.6m-.4-.4h.6m-.6 .1h.6m-.3 .1h.6m-.6-.1h.6m-.5 .2h.6m-.5-.4h.6m-.5 .4h.6m-.5-.6h.6m-.5 .3h.6m.2 .4h.6m-.5-.4h.6m-.4 .2h.6m-.6-.3h.6m-.6 .6h.6m-.6-.6h.6m-.1 .8h.6m-.5-.5h.6m-.2-.2h.6m-.3-.2h.6m-.4 .1h.6m-.4 .8h.6m-.5-1h.6m-.5 .3h.6m.1 .3h.6m-.3 .2h.6m.6-.4h.6m.2 0h.6m-.6 .3h.6m-.4 .3h.6m1.1-.6h.6m-.1-.3h.6m-.5 .4h.6m-55.6 1.3h.6m5.9-.1h.6m31.6-.1h.6m0-.5h.6m-.2 .4h.6m-.4-.4h.6m-.5 .9h.6m-.5-.9h.6m-.6 .2h.6m-.3-.1h.6m-.1 .5h.6m-.6-.1h.6m-.4-.2h.6m-.4 0h.6m-.4 .1h.6m-.5-.4h.6m-.4 .6h.6m-.4-.1h.6m-.5 0h.6m-.5-.2h.6m-.5 0h.6m-.2 .4h.6m-.2 .1h.6m-.5-.8h.6m-.3-.1h.6m-.3 .5h.6m-.5-.1h.6m-.6 .2h.6m-.3 .4h.6m-.6-.1h.6m-.5 0h.6m-.6-.7h.6m-.6-.1h.6m-.3 .6h.6m-.5 0h.6m-.6-.7h.6m-.5 .6h.6m-.6-.3h.6m-.6-.3h.6m-.5 1h.6m-.5-.3h.6m-.4-.2h.6m-.3-.3h.6m-.6 .8h.6m-.5-.3h.6m-.4 0h.6m-.6 0h.6m-.3 .1h.6m-.4-.6h.6m-.6 .7h.6m-.6-.6h.6m-.4-.1h.6m-.6 .2h.6m-.5 .3h.6m-.5-.5h.6m-.6 0h.6m-.5 .7h.6m-.4-.8h.6m-.5 .4h.6m-.4-.1h.6m-.3-.2h.6m-.6 .5h.6m-.5-.3h.6m-.5-.2h.6m-.4 .1h.6m-.5-.1h.6m-.6 .7h.6m-.4-.5h.6m-.6 .5h.6m-.4-.6h.6m-.5 .5h.6m-.5-.8h.6m-.5 .9h.6m-.5 .1h.6m-.3-.1h.6m-.6-.5h.6m.1-.1h.6m-.6 .6h.6m.1-.8h.6m-.3 .8h.6m-.4-.2h.6m-.3-.2h.6m-.6-.1h.6m-.1-.1h.6m-.5 .2h.6m-.5-.3h.6m-.5-.1h.6m.9 .4h.6m-48.6 .8h.6m3.5-.3h.6m29.1 .5h.6m-.6 .2h.6m-.4-.3h.6m.3 .4h.6m-.4-.6h.6m-.3 .7h.6m-.6-.8h.6m-.5 .1h.6m-.5 .3h.6m-.3 .1h.6m-.6 .1h.6m-.1 .1h.6m-.4-.1h.6m-.6-.4h.6m-.1 .2h.6m-.5-.3h.6m-.3-.1h.6m-.1 .1h.6m-.4-.1h.6m-.6 .5h.6m-.5-.1h.6m-.6 0h.6m.3 .2h.6m-.6-.6h.6m-.6 0h.6m-.6 .5h.6m-.2 0h.6m-.5 0h.6m-.4-.4h.6m-.5 .8h.6m-.4-.4h.6m-.6-.2h.6m-.6 .4h.6m-.4-.7h.6m-.5 .6h.6m-.1-.1h.6m-.2-.5h.6m-.6 .1h.6m.6 .8h.6m-.5-.6h.6m-.1 .4h.6m-.4 0h.6m-.1-.6h.6m-.3 .5h.6m-.6-.5h.6m-.3 .4h.6m-.1-.1h.6m-.4 .1h.6m-.2-.4h.6m.3 .6h.6m2.8-.5h.6m-56.3 1.4h.6m8.8-.3h.6m27.7-.1h.6m-.5 .1h.6m2.2 0h.6m-.4 .4h.6m-.6-.5h.6m-.2 .3h.6m-.4-.2h.6m-.4 .5h.6m.1-.6h.6m.7 .2h.6m-.3-.5h.6m-.6 0h.6m0 .2h.6m-.1 .6h.6m-.5-.4h.6m-.5-.3h.6m-.6 .5h.6m-.4-.1h.6m-.2 .2h.6m-.5 .2h.6m-.1-.4h.6m0 0h.6m-.4-.5h.6m-.4 .4h.6m-.6-.1h.6m0 .7h.6m0 0h.6m-.4-.2h.6m.9-.8h.6m-.3 .5h.6m.2 .3h.6m-.3-.5h.6m-.2 .2h.6m-.5 .1h.6m.1-.1h.6m2.7-.1h.6m-16.1 1h.6m0 .6h.6m-.4-.7h.6m.3 .3h.6m-.3-.5h.6m-.4 .5h.6m-.2 .1h.6m-.2 .1h.6m-.3-.4h.6m-.5 .4h.6m-.6-.4h.6m-.5 .6h.6m-.6-.3h.6m-.4 .2h.6m-.3-.5h.6m-.3-.4h.6m-.5 .9h.6m-.4-.5h.6m-.2 .5h.6m.2-.2h.6m-.2-.6h.6m-.4 .5h.6m-.5 .2h.6m-.1-.4h.6m-.6-.4h.6m0 .2h.6m0 0h.6m-.2 .3h.6m0 .3h.6m-.3-.6h.6m-.4-.2h.6m-.4 .7h.6m.3 .2h.6m-.5-.4h.6m3.8-.1h.6m-50 1.6h.6m35.2-.4h.6m.7 .2h.6m1.4-.5h.6m-.3-.1h.6m-.3 .2h.6m-.3 .2h.6m-.4 0h.6m-.1-.6h.6m-.1 .5h.6m.3 .2h.6m-.5-.5h.6m-.6 .8h.6m.2-.7h.6m.8 .5h.6m-7.5 .3h.6m.1 .2h.6m-.5-.1h.6m-.1 .2h.6m-.5-.3h.6m0 .3h.6m-.3 .5h.6m-.2-.2h.6m0 .1h.6m2.4-.3h.6m-.5-.1h.6m2.6 .2h.6m-17.6 .8h.6m5 .4h.6m0-.1h.6m.3-.7h.6m-.5 .6h.6m1.4 0h.6m.7-.1h.6m2.9 .2h.6" stroke="#7A4266" stroke-width=".6" stroke-opacity=".38" fill="none"/>
<path d="M232.2 487.7h.5m10.8-.1h.5m-24.3 1.9h.5m10.1 .9h.5m13.3-.1h.5m-24.6 3.4h.5m7-.2h.5m5.7 .5h.5m36.9 1.3h.5m22.6 0h.5m-67 .3h.5m-8.3 1.4h.5m1.2 .4h.5m2.2-.9h.5m9.2 .3h.5m-15.8 1h.5m19.3 .1h.5m-23.1 1h.5m2.4 .1h.5m3.5-.3h.5m-1.7 1.4h.5m9.7-.4h.5m38.2 0h.5m-60.3 1.3h.5m10-.1h.5m12.1-.3h.5m3.3 .4h.5m-20.2 1.5h.5m9.1-.1h.5m.2-.5h.5m-.4 .2h.5m49.5 .2h.5m-44.6 1h.5m7.7-.1h.5m11.8 .6h.5m-33.1 .9h.5m.4 .1h.5m35.4 .3h.5m13.6 .4h.5m-3.5 .6h.5m-41.1 1.3h.5m4.3-.2h.5m18 .2h.5m-29 1h.5m11.2-.2h.5m1.1 .2h.5m.7 .6h.5m2.7 1.2h.5m-26.8 1.5h.5m15.9 0h.5m-.1 1.6h.5m-12.4 1.8h.5m44.4 .5h.5m9.7 1.5h.5m-37 1.3h.5m40.2-.3h.5m-7.8 1.4h.5m4.4 .6h.5m-43.9 1.1h.5m37.2-.4h.5m7.1 .2h.5m-6.7 1.7h.5m0-.1h.5m-5.3 1.8h.5m-29.2 .4h.5m7 .6h.5m27-.2h.5m-42.9 .4h.5m35.8 .2h.5m3.4 1.7h.5m17 .8h.5m-68 .5h.5m51.8 .3h.5m-40.4 1h.5m1.5-.3h.5m40 .6h.5m-44.1 .8h.5m42.3-.3h.5m-36.1 1h.5m31.9 .4h.5m0 .8h.5m4.5-.1h.5m-5.4 .8h.5m.9 .1h.5m-35.2 1.5h.5m1.1-.4h.5m29.4-.3h.5m10.2 0h.5m-30 1.5h.5m9.7-.5h.5m4.9 .4h.5m1.9-.4h.5m-31.3 1.1h.5m8.5 .3h.5m17.4 0h.5m16.8-.1h.5m.7 0h.5m-50.8 .6h.5m8.1 .4h.5m-.1 .2h.5m18.5-.2h.5m13.1-.2h.5m1.8-.2h.5m4 .1h.5m-15.6 1h.5m.1 .3h.5m.5 0h.5m1.7-.5h.5m-.1 .8h.5m3.3-.8h.5m8.2 .7h.5m-21.8 .7h.5m6.2-.3h.5m.1 .1h.5m.6 .7h.5m7-.3h.5m.9-.5h.5m5.2 .7h.5m-38.7 .4h.5m.4 .4h.5m19-.1h.5m6.4-.5h.5m-39.2 1.6h.5m0 .3h.5m3.8-.3h.5m8.7-.1h.5m15.1 0h.5m1 .4h.5m-36.4 1h.5m4.3-.1h.5m5.7 0h.5m11.7-.4h.5m10.8 .6h.5m5.4-.1h.5m5-.2h.5m3.5-.6h.5m-40 1.8h.5m3.6-.2h.5m18.7-.6h.5m3.6 .2h.5m5.7 .1h.5m1.5 0h.5m-.4 0h.5m5.9-.1h.5m1.1 0h.5m-79 .7h.5m20.8 .2h.5m4.6 .7h.5m10.2-.5h.5m8.1 .3h.5m10.2-.3h.5m5.4 .1h.5m2.4 .1h.5m.5-.6h.5m.1 .9h.5m.1-.5h.5m1-.2h.5m4.6 .3h.5m2.5 0h.5m-57.7 1.2h.5m7.4-.1h.5m5.6 .3h.5m1.5-.9h.5m-.4 .8h.5m11.1 .2h.5m1.2-.1h.5m13.8-.6h.5m5.4 .2h.5m-.2 .1h.5m1.2 0h.5m4.1-.5h.5m-56.4 1.8h.5m-.3-.4h.5m9.7 .2h.5m6 0h.5m8 .1h.5m12.6-.4h.5m.9 0h.5m2.2 0h.5m1.7 .2h.5m.6 .3h.5m-.1-.8h.5m2.5 .5h.5m-.2-.1h.5m.4-.3h.5m.1 .4h.5m-55.2 .9h.5m11.1-.2h.5m1.2-.3h.5m1.3 .3h.5m9.4-.1h.5m16.7 .4h.5m3.2 .3h.5m6.5-.3h.5m3.5-.6h.5m-57.7 1.9h.5m7.9-.6h.5m3.3 0h.5m12.4 .3h.5m21.4-.2h.5m.7 0h.5m2.2 0h.5m.5 .2h.5m6.9 .2h.5m3.3 .1h.5m-48 1h.5m-.1-.2h.5m1.6-.6h.5m2.1 .2h.5m1.6-.3h.5m1.4 .9h.5m9.6-.3h.5m7.5-.3h.5m4.8 .6h.5m1 0h.5m2.3 .1h.5m-.3-.8h.5m1.7 .8h.5m2.6-.8h.5m-57.7 1.5h.5m4.3 .2h.5m.9-.2h.5m3.2-.1h.5m8.1-.3h.5m-.4-.1h.5m1 .1h.5m2.6 .7h.5m-.3-.4h.5m3.4 .3h.5m1.5-.4h.5m3.1-.4h.5m7 .2h.5m5.8-.1h.5m-30.7 1.2h.5m-.3 0h.5m.2 .6h.5m1.1-.4h.5m2.8 .1h.5m0 0h.5m1.9 .1h.5m1.6 0h.5m6.1-.4h.5m6.4 .2h.5m.9 .2h.5m.7-.3h.5m.7-.1h.5m.9 .3h.5m1.7 .1h.5m.7-.2h.5m.1-.1h.5m.4-.4h.5m.9 .1h.5m6.2 .7h.5m-62.5 .3h.5m5.2 .2h.5m.8 .2h.5m3.3 .2h.5m4.1-.6h.5m-.5 .2h.5m2.1-.1h.5m1.4 .2h.5m3.3 .4h.5m-.5-.5h.5m.4-.3h.5m.4 .4h.5m1.4 0h.5m17.2-.1h.5m1-.3h.5m1.8 .7h.5m1.4-.1h.5m2.7-.7h.5m-.5 .3h.5m1 .5h.5m11.4-.3h.5m-67.2 1.2h.5m4.3-.3h.5m.4 .3h.5m1.4 .1h.5m.3-.4h.5m4.1-.3h.5m.7 .6h.5m2.7-.5h.5m-.3 .4h.5m2.6-.6h.5m2.4 .4h.5m.4 .1h.5m.4-.5h.5m.5 .2h.5m8.7 .3h.5m.3 .1h.5m9.2 .2h.5m5.1 0h.5m1.6-.1h.5m5.5 .2h.5m.5-.1h.5m-53.8 .3h.5m4.7 .7h.5m.7 0h.5m1.3-.5h.5m.8 .1h.5m.3 0h.5m3.8 .2h.5m.2 .3h.5m.6-.6h.5m.2 .5h.5m16.9-.4h.5m.4 .5h.5m2.3-.7h.5m1.5 .1h.5m.5 0h.5m-.2 .3h.5m.5 .3h.5m1.7 0h.5m-.2-.3h.5m.3-.3h.5m-.5 .5h.5m1.2-.1h.5m.1-.5h.5m2.3 .3h.5m.5-.3h.5m-52.2 1h.5m2.3-.1h.5m2.7-.1h.5m-.1 .4h.5m0 .6h.5m2.1-.9h.5m.1 .2h.5m-.5-.3h.5m.1 .9h.5m2.8 0h.5m1.3 0h.5m-.4 0h.5m3.5-.4h.5m2.1-.1h.5m1.2-.1h.5m2.3 .5h.5m3.3-.3h.5m1-.3h.5m1.4 .4h.5m1.8 .1h.5m.6 .2h.5m.1 0h.5m.2 0h.5m1.1-.6h.5m0 .2h.5m.2-.2h.5m-.2 0h.5m2.4 .4h.5m.2-.6h.5m1.9 .7h.5m2.5-.6h.5m1.6 .8h.5m2.5-.9h.5m-55.6 1.8h.5m4-.6h.5m1.2 .1h.5m0 .1h.5m.7 0h.5m8.3-.3h.5m-.1 .2h.5m3.6 .3h.5m10.7-.6h.5m9.1 .9h.5m.2-.4h.5m1-.1h.5m1.3 .4h.5m-.2-.4h.5m.2 .5h.5m.6-.4h.5m-44 .8h.5m-.1 .5h.5m8.5-.3h.5m.3-.1h.5m-.2-.2h.5m22.7 .5h.5m.6-.5h.5m1.3 .6h.5m-.4 0h.5m0-.1h.5m.5-.7h.5m.3 .8h.5m1.2-.2h.5m.3 .2h.5m.5-.2h.5m2.9-.6h.5m-63.1 1.8h.5m5.4 0h.5m4.7-.7h.5m-.1 .2h.5m-.4-.4h.5m1 0h.5m2 .5h.5m-.2 0h.5m.8-.3h.5m2.3 .4h.5m.5 .4h.5m17.7-.7h.5m6.6-.1h.5m1.4 .6h.5m1-.4h.5m-.3 0h.5m.5 0h.5m2.5-.4h.5m-.1 .8h.5m-.2 .1h.5m-.1-.2h.5m-.4 .2h.5m2.5-.5h.5m-.2 .2h.5m2.4-.4h.5m-.1 0h.5m1.4 .2h.5m-68.7 1.3h.5m7.5-.6h.5m.9 .5h.5m9.9 .1h.5m3.3 .1h.5m.6-.2h.5m.4-.4h.5m0 .7h.5m4.7-.8h.5m.6 .7h.5m2.2-.7h.5m16.4 .2h.5m1.9-.2h.5m.6-.1h.5m1.7 1h.5m3-.3h.5m.3-.4h.5m-.5-.2h.5m.6 .6h.5m.2-.4h.5m0 .6h.5m1.8 0h.5m.1-.7h.5m-62.8 1.6h.5m17.3-.4h.5m.1 .2h.5m7.5-.5h.5m12.3 .3h.5m10.1-.1h.5m-.4-.1h.5m4.1-.1h.5m0 .5h.5m2.2 .1h.5m.4 .2h.5m-.2 .1h.5m-.1-.6h.5m6.3 .5h.5m3.9-.2h.5m-62 .7h.5m6.2 .4h.5m3.8 .2h.5m.4-.6h.5m27.4 .2h.5m-.1 .2h.5m1-.7h.5m2.3 .2h.5m.3 .4h.5m2.3-.6h.5m-.2 .8h.5m2.9-.9h.5m7 .7h.5m-69.9 .5h.5m6.2 .4h.5m1.8-.4h.5m3.6 .2h.5m.2 .5h.5m2.3-.9h.5m0 .2h.5m5.9 .3h.5m.8 .1h.5m9.1-.5h.5m3 .3h.5m.8 .1h.5m4.1-.1h.5m1.1-.2h.5m3.1 .6h.5m2.3 .1h.5m5.5-.4h.5m0-.4h.5m1.2 .1h.5m2.4 0h.5m-49.4 1.2h.5m3.2 .6h.5m.3-.2h.5m7.4-.1h.5m22.8-.3h.5m.5-.2h.5m-.3 .7h.5m-.5-.9h.5m1.3 .8h.5m1.4-.2h.5m.9 .1h.5m2.3-.4h.5m1.1 .6h.5m-.5-.3h.5m.3-.3h.5m4.4 .4h.5m1.4-.5h.5m-65.9 1.6h.5m.9-.3h.5m5.7 0h.5m3.8 .3h.5m4.7 0h.5m-.2-.2h.5m3.7-.6h.5m22 .8h.5m2.7-.5h.5m-.3 .3h.5m.9-.1h.5m1.3 .2h.5m-.1 0h.5m4.7 .1h.5m1.3 0h.5m2.5-.4h.5m-58.4 1.2h.5m4.7 .3h.5m2.6-.8h.5m5.1 .6h.5m10.1 0h.5m19.7-.2h.5m1.7 .4h.5m3.2-.6h.5m-.4-.2h.5m-.5 .5h.5m.1-.2h.5m.4-.3h.5m.2 .2h.5m1.4-.1h.5m1.8-.1h.5m-14 1.8h.5m.2-.2h.5m.2-.3h.5m1.2 .2h.5m2.8 .3h.5m-.4-.7h.5m.9 .3h.5m-.2 .4h.5m3.8 .1h.5m0-.6h.5m1.4 .2h.5m-49.8 1h.5m6.3-.1h.5m.8-.5h.5m21.5 .5h.5m1-.3h.5m.4 .4h.5m2.1-.4h.5m-.1 .6h.5m.1 0h.5m3.4-.5h.5m2 .3h.5m-58.7 .5h.5m11.4 .5h.5m33 .4h.5m-.5-.3h.5m-.5 .3h.5m1.8-.7h.5m4.2-.3h.5m-.4 0h.5m.3 0h.5m.5 .2h.5m-.5 .3h.5m4 .5h.5m.5-.4h.5m-58.8 1.3h.5m13.5-.6h.5m8.3 .3h.5m2.1-.5h.5m17.5 .7h.5m5.9-.6h.5m-.2 .7h.5m2.9-.3h.5m5.4 .4h.5m-19.3 .7h.5m5.2-.4h.5m3.4 .2h.5m.3 .5h.5m.7-.9h.5m7.7 .1h.5m1.1-.1h.5m2.2 .2h.5m1 .3h.5m-58.1 .5h.5m37.8 0h.5m1.5 0h.5m1.8 .5h.5m6.9 .3h.5m-.2-.4h.5m-47.9 1.2h.5m39.7-.4h.5m.9 0h.5m-.1 .2h.5m.7 .2h.5m2.7-.4h.5m6.6 .4h.5" stroke="#8f8290" stroke-width=".5" stroke-opacity=".5" fill="none"/>
<rect x="206.9" y="485.6" width="104.99999999999997" height="88.60000000000002" fill="none" stroke="#000" stroke-width="1.3"/>
<line x1="206.9" y1="485.40000000000003" x2="206.9" y2="574.8000000000001" stroke="#1c1c1c" stroke-width="1.3"/>
<line x1="206.3" y1="574.2" x2="311.9" y2="574.2" stroke="#1c1c1c" stroke-width="1.3"/>
<rect x="208.8" y="486.7" width="41.69999999999999" height="25.0" fill="none" stroke="#1c1c1c" stroke-width="1.7"/>
<line x1="302.5" y1="516.3" x2="286.1112995769984" y2="526.668361492103" stroke="#1c1c1c" stroke-width="1.1"/>
<polygon points="282.9,528.7 285.72,524.55 287.86,527.93" fill="#1c1c1c"/>
<line x1="203.9" y1="493.7" x2="206.9" y2="493.7" stroke="#1c1c1c" stroke-width="0.9"/>
<text x="200.5" y="495.3" font-size="4.6" text-anchor="end" fill="#262626">10<tspan font-size="3" dy="-1.8">5</tspan></text>
<line x1="203.9" y1="513" x2="206.9" y2="513" stroke="#1c1c1c" stroke-width="0.9"/>
<text x="200.5" y="514.6" font-size="4.6" text-anchor="end" fill="#262626">10<tspan font-size="3" dy="-1.8">4</tspan></text>
<line x1="203.9" y1="534" x2="206.9" y2="534" stroke="#1c1c1c" stroke-width="0.9"/>
<text x="200.5" y="535.6" font-size="4.6" text-anchor="end" fill="#262626">10<tspan font-size="3" dy="-1.8">3</tspan></text>
<line x1="203.9" y1="555.6" x2="206.9" y2="555.6" stroke="#1c1c1c" stroke-width="0.9"/>
<text x="200.5" y="557.2" font-size="4.6" text-anchor="end" fill="#262626">10<tspan font-size="3" dy="-1.8">2</tspan></text>
<line x1="203.9" y1="562" x2="206.9" y2="562" stroke="#1c1c1c" stroke-width="0.9"/>
<text x="200.5" y="563.6" font-size="4.6" text-anchor="end" fill="#262626">0</text>
<line x1="203.9" y1="568.8" x2="206.9" y2="568.8" stroke="#1c1c1c" stroke-width="0.9"/>
<text x="200.5" y="570.4" font-size="4.6" text-anchor="end" fill="#262626">-10<tspan font-size="3" dy="-1.8">2</tspan></text>
<line x1="203.9" y1="573.6" x2="206.9" y2="573.6" stroke="#1c1c1c" stroke-width="0.9"/>
<text x="200.5" y="575.2" font-size="4.6" text-anchor="end" fill="#262626">-198</text>
<line x1="205.3" y1="507.19012108368514" x2="206.9" y2="507.19012108368514" stroke="#1c1c1c" stroke-width="0.6"/>
<line x1="205.3" y1="503.7915597839105" x2="206.9" y2="503.7915597839105" stroke="#1c1c1c" stroke-width="0.6"/>
<line x1="205.3" y1="501.38024216737034" x2="206.9" y2="501.38024216737034" stroke="#1c1c1c" stroke-width="0.6"/>
<line x1="205.3" y1="499.50987891631485" x2="206.9" y2="499.50987891631485" stroke="#1c1c1c" stroke-width="0.6"/>
<line x1="205.3" y1="497.9816808675957" x2="206.9" y2="497.9816808675957" stroke="#1c1c1c" stroke-width="0.6"/>
<line x1="205.3" y1="496.68960782772484" x2="206.9" y2="496.68960782772484" stroke="#1c1c1c" stroke-width="0.6"/>
<line x1="205.3" y1="495.5703632510555" x2="206.9" y2="495.5703632510555" stroke="#1c1c1c" stroke-width="0.6"/>
<line x1="205.3" y1="494.58311956782103" x2="206.9" y2="494.58311956782103" stroke="#1c1c1c" stroke-width="0.6"/>
<line x1="205.3" y1="527.6783700910564" x2="206.9" y2="527.6783700910564" stroke="#1c1c1c" stroke-width="0.6"/>
<line x1="205.3" y1="523.9804536508871" x2="206.9" y2="523.9804536508871" stroke="#1c1c1c" stroke-width="0.6"/>
<line x1="205.3" y1="521.3567401821128" x2="206.9" y2="521.3567401821128" stroke="#1c1c1c" stroke-width="0.6"/>
<line x1="205.3" y1="519.3216299089436" x2="206.9" y2="519.3216299089436" stroke="#1c1c1c" stroke-width="0.6"/>
<line x1="205.3" y1="517.6588237419435" x2="206.9" y2="517.6588237419435" stroke="#1c1c1c" stroke-width="0.6"/>
<line x1="205.3" y1="516.2529411597006" x2="206.9" y2="516.2529411597006" stroke="#1c1c1c" stroke-width="0.6"/>
<line x1="205.3" y1="515.0351102731692" x2="206.9" y2="515.0351102731692" stroke="#1c1c1c" stroke-width="0.6"/>
<line x1="205.3" y1="513.9609073017742" x2="206.9" y2="513.9609073017742" stroke="#1c1c1c" stroke-width="0.6"/>
<line x1="205.3" y1="549.0977520936581" x2="206.9" y2="549.0977520936581" stroke="#1c1c1c" stroke-width="0.6"/>
<line x1="205.3" y1="545.2941808980553" x2="206.9" y2="545.2941808980553" stroke="#1c1c1c" stroke-width="0.6"/>
<line x1="205.3" y1="542.595504187316" x2="206.9" y2="542.595504187316" stroke="#1c1c1c" stroke-width="0.6"/>
<line x1="205.3" y1="540.502247906342" x2="206.9" y2="540.502247906342" stroke="#1c1c1c" stroke-width="0.6"/>
<line x1="205.3" y1="538.7919329917133" x2="206.9" y2="538.7919329917133" stroke="#1c1c1c" stroke-width="0.6"/>
<line x1="205.3" y1="537.3458823356921" x2="206.9" y2="537.3458823356921" stroke="#1c1c1c" stroke-width="0.6"/>
<line x1="205.3" y1="536.0932562809741" x2="206.9" y2="536.0932562809741" stroke="#1c1c1c" stroke-width="0.6"/>
<line x1="205.3" y1="534.9883617961106" x2="206.9" y2="534.9883617961106" stroke="#1c1c1c" stroke-width="0.6"/>
<rect x="203.6" y="561.1" width="3.3" height="1.8" fill="#1c1c1c"/>
<line x1="210" y1="574.2" x2="210" y2="576.8000000000001" stroke="#1c1c1c" stroke-width="0.9"/>
<text x="210" y="585.2" font-size="4.6" text-anchor="middle" fill="#262626">0</text>
<line x1="215" y1="574.2" x2="215" y2="576.8000000000001" stroke="#1c1c1c" stroke-width="0.9"/>
<text x="215" y="585.2" font-size="4.6" text-anchor="middle" fill="#262626">10<tspan font-size="3" dy="-1.8">1</tspan></text>
<line x1="231" y1="574.2" x2="231" y2="576.8000000000001" stroke="#1c1c1c" stroke-width="0.9"/>
<text x="231" y="585.2" font-size="4.6" text-anchor="middle" fill="#262626">10<tspan font-size="3" dy="-1.8">2</tspan></text>
<line x1="256" y1="574.2" x2="256" y2="576.8000000000001" stroke="#1c1c1c" stroke-width="0.9"/>
<text x="256" y="585.2" font-size="4.6" text-anchor="middle" fill="#262626">10<tspan font-size="3" dy="-1.8">3</tspan></text>
<line x1="279" y1="574.2" x2="279" y2="576.8000000000001" stroke="#1c1c1c" stroke-width="0.9"/>
<text x="279" y="585.2" font-size="4.6" text-anchor="middle" fill="#262626">10<tspan font-size="3" dy="-1.8">4</tspan></text>
<line x1="302.5" y1="574.2" x2="302.5" y2="576.8000000000001" stroke="#1c1c1c" stroke-width="0.9"/>
<text x="302.5" y="585.2" font-size="4.6" text-anchor="middle" fill="#262626">10<tspan font-size="3" dy="-1.8">5</tspan></text>
<rect x="206.9" y="574.2" width="8.099999999999994" height="1.7" fill="#666"/>
<line x1="219.8164799306237" y1="574.2" x2="219.8164799306237" y2="575.8000000000001" stroke="#1c1c1c" stroke-width="0.6"/>
<line x1="222.6339400755146" y1="574.2" x2="222.6339400755146" y2="575.8000000000001" stroke="#1c1c1c" stroke-width="0.6"/>
<line x1="224.6329598612474" y1="574.2" x2="224.6329598612474" y2="575.8000000000001" stroke="#1c1c1c" stroke-width="0.6"/>
<line x1="226.1835200693763" y1="574.2" x2="226.1835200693763" y2="575.8000000000001" stroke="#1c1c1c" stroke-width="0.6"/>
<line x1="227.4504200061383" y1="574.2" x2="227.4504200061383" y2="575.8000000000001" stroke="#1c1c1c" stroke-width="0.6"/>
<line x1="228.5215686402281" y1="574.2" x2="228.5215686402281" y2="575.8000000000001" stroke="#1c1c1c" stroke-width="0.6"/>
<line x1="229.4494397918711" y1="574.2" x2="229.4494397918711" y2="575.8000000000001" stroke="#1c1c1c" stroke-width="0.6"/>
<line x1="230.2678801510292" y1="574.2" x2="230.2678801510292" y2="575.8000000000001" stroke="#1c1c1c" stroke-width="0.6"/>
<line x1="238.52574989159953" y1="574.2" x2="238.52574989159953" y2="575.8000000000001" stroke="#1c1c1c" stroke-width="0.6"/>
<line x1="242.92803136799157" y1="574.2" x2="242.92803136799157" y2="575.8000000000001" stroke="#1c1c1c" stroke-width="0.6"/>
<line x1="246.05149978319906" y1="574.2" x2="246.05149978319906" y2="575.8000000000001" stroke="#1c1c1c" stroke-width="0.6"/>
<line x1="248.47425010840047" y1="574.2" x2="248.47425010840047" y2="575.8000000000001" stroke="#1c1c1c" stroke-width="0.6"/>
<line x1="250.4537812595911" y1="574.2" x2="250.4537812595911" y2="575.8000000000001" stroke="#1c1c1c" stroke-width="0.6"/>
<line x1="252.12745100035642" y1="574.2" x2="252.12745100035642" y2="575.8000000000001" stroke="#1c1c1c" stroke-width="0.6"/>
<line x1="253.5772496747986" y1="574.2" x2="253.5772496747986" y2="575.8000000000001" stroke="#1c1c1c" stroke-width="0.6"/>
<line x1="254.85606273598313" y1="574.2" x2="254.85606273598313" y2="575.8000000000001" stroke="#1c1c1c" stroke-width="0.6"/>
<line x1="262.92368990027154" y1="574.2" x2="262.92368990027154" y2="575.8000000000001" stroke="#1c1c1c" stroke-width="0.6"/>
<line x1="266.9737888585522" y1="574.2" x2="266.9737888585522" y2="575.8000000000001" stroke="#1c1c1c" stroke-width="0.6"/>
<line x1="269.84737980054314" y1="574.2" x2="269.84737980054314" y2="575.8000000000001" stroke="#1c1c1c" stroke-width="0.6"/>
<line x1="272.07631009972846" y1="574.2" x2="272.07631009972846" y2="575.8000000000001" stroke="#1c1c1c" stroke-width="0.6"/>
<line x1="273.8974787588238" y1="574.2" x2="273.8974787588238" y2="575.8000000000001" stroke="#1c1c1c" stroke-width="0.6"/>
<line x1="275.4372549203279" y1="574.2" x2="275.4372549203279" y2="575.8000000000001" stroke="#1c1c1c" stroke-width="0.6"/>
<line x1="276.7710697008147" y1="574.2" x2="276.7710697008147" y2="575.8000000000001" stroke="#1c1c1c" stroke-width="0.6"/>
<line x1="277.9475777171045" y1="574.2" x2="277.9475777171045" y2="575.8000000000001" stroke="#1c1c1c" stroke-width="0.6"/>
<line x1="286.0742048981036" y1="574.2" x2="286.0742048981036" y2="575.8000000000001" stroke="#1c1c1c" stroke-width="0.6"/>
<line x1="290.21234948591206" y1="574.2" x2="290.21234948591206" y2="575.8000000000001" stroke="#1c1c1c" stroke-width="0.6"/>
<line x1="293.1484097962071" y1="574.2" x2="293.1484097962071" y2="575.8000000000001" stroke="#1c1c1c" stroke-width="0.6"/>
<line x1="295.4257951018964" y1="574.2" x2="295.4257951018964" y2="575.8000000000001" stroke="#1c1c1c" stroke-width="0.6"/>
<line x1="297.28655438401563" y1="574.2" x2="297.28655438401563" y2="575.8000000000001" stroke="#1c1c1c" stroke-width="0.6"/>
<line x1="298.85980394033504" y1="574.2" x2="298.85980394033504" y2="575.8000000000001" stroke="#1c1c1c" stroke-width="0.6"/>
<line x1="300.22261469431066" y1="574.2" x2="300.22261469431066" y2="575.8000000000001" stroke="#1c1c1c" stroke-width="0.6"/>
<line x1="301.4246989718241" y1="574.2" x2="301.4246989718241" y2="575.8000000000001" stroke="#1c1c1c" stroke-width="0.6"/>
<text x="207" y="590.5" font-size="4.6" text-anchor="middle" fill="#262626">-6</text>
<ellipse cx="232.5" cy="675.5" rx="12" ry="6" fill="url(#cg)" opacity="0.85" transform="rotate(-10 232.5 675.5)"/>
<ellipse cx="274.5" cy="677" rx="7.4" ry="10" fill="url(#cg)" opacity="0.85" transform="rotate(0 274.5 677)"/>
<path d="M216.7 638.2h.6m37.7 3.2h.6m-1.8 1.7h.6m31.2 3.3h.6m17.6-.1h.6m-39.6 2.5h.6m-33.7 5.1h.6m44.8 .7h.6m-5.7 1.6h.6m-36.1 .9h.6m15.2 .4h.6m-18 1.1h.6m-.5 .1h.6m40.9 .5h.6m-57 1.1h.6m35.5-.1h.6m20.8-.5h.6m-39.7 1.7h.6m7 0h.6m.1-.2h.6m18-.5h.6m3.2 .5h.6m0 .3h.6m-36.9 .6h.6m3.1 .2h.6m.1 .1h.6m2.5-.1h.6m.5-.5h.6m.7 .1h.6m23.3-.4h.6m-.2 1h.6m2.6-.5h.6m1.9 .5h.6m5-.8h.6m-47.5 1.5h.6m4.5 .1h.6m.2-.5h.6m0 .3h.6m1.6 0h.6m16.5-.4h.6m6.3 .1h.6m.3 .5h.6m4.6 .1h.6m.2 0h.6m.1-.6h.6m1.7-.2h.6m1.6 .4h.6m.4-.2h.6m-42.1 1.1h.6m-.2 .2h.6m.4-.5h.6m.2 .9h.6m.6-.1h.6m.4-.1h.6m0 0h.6m-.4 .1h.6m1 0h.6m1.8 0h.6m18.1-.7h.6m6.1 .4h.6m1.2 .2h.6m1.2-.5h.6m.6 .7h.6m1.8-.9h.6m-53.6 1.1h.6m8.2 .6h.6m-.4-.5h.6m.5 .6h.6m-.5-.6h.6m-.5 .6h.6m-.4-.1h.6m.4 0h.6m.3-.5h.6m.2 .7h.6m-.5-.6h.6m-.2 .3h.6m-.5 0h.6m.1 .2h.6m-.3-.2h.6m1.2-.5h.6m-.1 .1h.6m.2 0h.6m1 .1h.6m2 .4h.6m21.4-.4h.6m1.9 .5h.6m-.3-.2h.6m.5-.2h.6m-.6-.2h.6m-.1 .4h.6m.5 .3h.6m1.1-.5h.6m.1-.2h.6m-.4 .2h.6m13.3-.1h.6m-60 .8h.6m2.2 .6h.6m1.2-.7h.6m-.4 .3h.6m-.4 .5h.6m-.2-.4h.6m-.3 .4h.6m-.5-.4h.6m-.2-.2h.6m-.6-.2h.6m-.4 .8h.6m-.6-.2h.6m.1-.5h.6m-.6 .7h.6m.5-.8h.6m1.6 0h.6m-.4 .7h.6m.2-.5h.6m1.7 .5h.6m1.9 .2h.6m.4-.1h.6m15.3-.8h.6m2.7 .7h.6m-.4-.7h.6m2.1 .5h.6m.8 .4h.6m-.1-.7h.6m-.2 .3h.6m3.5 .2h.6m2-.8h.6m-53.8 1.6h.6m2.3 0h.6m-.1-.2h.6m.2 .3h.6m-.3 .2h.6m-.4-.2h.6m1.1 .1h.6m.4-.6h.6m-.5 .3h.6m-.1-.2h.6m-.4 .2h.6m-.5-.3h.6m.3 .4h.6m-.6 .2h.6m-.5-.5h.6m-.5-.3h.6m-.4 .3h.6m-.2 .5h.6m-.6-.8h.6m-.4 .8h.6m.8-.1h.6m.1-.2h.6m-.4 .4h.6m-.6-.7h.6m-.5 .4h.6m-.2 .2h.6m-.6 .2h.6m-.4 0h.6m-.6-.3h.6m-.3 .1h.6m.1-.7h.6m-.6 .6h.6m.5-.1h.6m-.1 .2h.6m-.4 0h.6m-.1-.1h.6m.1-.1h.6m0 .2h.6m6.2 .1h.6m12.5-.7h.6m2.7 .7h.6m2.6 0h.6m-.2-.4h.6m-.5 0h.6m.1-.1h.6m-.6 .5h.6m-.3-.1h.6m-.6 .1h.6m-.5-.4h.6m-.1-.2h.6m-.4-.2h.6m-.5-.1h.6m-.5 .4h.6m-.2 .5h.6m-.4-.1h.6m-.2-.3h.6m.4-.3h.6m-.3 .6h.6m-.1 0h.6m-.2-.1h.6m-.5-.7h.6m.1 .1h.6m.9 .2h.6m.9 .7h.6m8.4-.6h.6m-62.8 .9h.6m.4 .6h.6m.1-.3h.6m.3-.5h.6m-.4 .2h.6m-.3-.2h.6m0 0h.6m1.3 .2h.6m-.2 .2h.6m-.4 .5h.6m-.4-.5h.6m-.6 .3h.6m-.4-.5h.6m-.4 .5h.6m-.2-.7h.6m-.3 .2h.6m-.4 .7h.6m-.5-.6h.6m-.5 .3h.6m-.6-.7h.6m-.5 1h.6m-.1-.1h.6m-.5-.8h.6m-.5-.1h.6m0 .2h.6m-.5 0h.6m-.5 .5h.6m-.4-.6h.6m-.6 .6h.6m-.4-.7h.6m-.3 .7h.6m-.5 .3h.6m-.6-.2h.6m-.4-.4h.6m-.5 .4h.6m-.5 .1h.6m-.3-.3h.6m0 .2h.6m-.5 .2h.6m-.4-.8h.6m-.6 .4h.6m-.4-.5h.6m-.4 .4h.6m-.4 0h.6m-.6 .1h.6m-.3-.2h.6m-.5 .3h.6m-.4-.5h.6m-.2 .5h.6m-.5-.3h.6m-.5 .4h.6m-.6-.4h.6m-.3-.1h.6m-.5-.1h.6m-.1 .1h.6m0 .4h.6m-.3-.6h.6m-.1 .4h.6m-.1 .5h.6m1.5-.7h.6m23.1-.2h.6m-.1 .6h.6m.2 0h.6m-.3-.6h.6m-.2 .4h.6m-.4 0h.6m-.6-.5h.6m1 .8h.6m-.3-.2h.6m-.6-.5h.6m0 .5h.6m-.1-.4h.6m.2 .7h.6m-.2 0h.6m-.1-.2h.6m-.6 0h.6m.5-.6h.6m2.4 .6h.6m0-.6h.6m-.5 .5h.6m26.9-.2h.6m-85.3 1.2h.6m-.3 0h.6m.2 .2h.6m-.1 0h.6m1.8-.8h.6m.2 .3h.6m-.1 .6h.6m-.3-.4h.6m-.5-.3h.6m-.3 0h.6m-.3 0h.6m-.6-.1h.6m-.4 .4h.6m-.4 .2h.6m.4 0h.6m-.5 0h.6m-.5-.2h.6m-.1 .2h.6m-.5 0h.6m-.4 0h.6m-.3 .1h.6m-.5-.6h.6m-.1-.1h.6m-.6 .7h.6m-.4-.4h.6m-.1 .4h.6m.1 .1h.6m-.4-.1h.6m-.5-.4h.6m-.6 .3h.6m-.5-.1h.6m-.4-.1h.6m-.3 .3h.6m-.3-.7h.6m-.5 0h.6m-.6 .5h.6m-.4-.2h.6m-.6 .5h.6m-.5-.3h.6m-.5-.3h.6m0-.2h.6m-.5 .2h.6m-.3-.1h.6m-.4-.2h.6m-.5 .4h.6m-.5-.3h.6m-.4 .8h.6m-.6-.5h.6m-.3 .3h.6m-.5-.5h.6m-.5-.2h.6m-.5 .9h.6m-.2-.3h.6m-.5-.4h.6m-.6 .4h.6m-.4-.1h.6m-.3 .3h.6m-.4-.1h.6m-.6-.5h.6m-.5 .4h.6m-.3-.5h.6m1.1 .8h.6m-.5-.5h.6m-.4 .5h.6m-.2-.1h.6m-.6 .1h.6m-.4-.7h.6m.4 .6h.6m.2-.4h.6m.7 .2h.6m.3-.2h.6m.7 .5h.6m2.6 0h.6m2.4-.7h.6m11.9 .1h.6m-.5-.2h.6m.3 .3h.6m.9 .3h.6m-.3-.7h.6m.9 .7h.6m-.3 0h.6m-.4-.6h.6m-.3 .6h.6m-.4 .1h.6m-.5-.3h.6m-.3-.1h.6m-.2-.2h.6m-.6 .5h.6m-.4-.4h.6m-.2 .4h.6m-.4 .2h.6m-.3-.3h.6m.2 .1h.6m-.3 .1h.6m-.4-.6h.6m-.5 0h.6m.3 .3h.6m-.5 .2h.6m-.4-.7h.6m.2 .8h.6m-.6-.3h.6m0-.1h.6m0 .3h.6m.2-.1h.6m.3-.5h.6m14.6 0h.6m-70.6 1.9h.6m.1-.8h.6m.5 .6h.6m0-.7h.6m.3 .9h.6m-.4-.3h.6m-.5-.2h.6m.1 .4h.6m-.6-.2h.6m-.2 .2h.6m-.6-.2h.6m-.3-.1h.6m-.5-.2h.6m-.6-.4h.6m-.4 1h.6m-.6-1h.6m-.3 .8h.6m-.6-.5h.6m-.3 .4h.6m-.6-.5h.6m-.6 .1h.6m-.2 .2h.6m-.4-.5h.6m-.4 .7h.6m-.3 0h.6m-.3-.4h.6m-.5 .7h.6m-.3-.1h.6m-.5-.8h.6m-.5 .7h.6m-.6 0h.6m-.2 0h.6m-.6-.1h.6m-.1-.5h.6m-.4 .2h.6m-.6 .3h.6m-.5-.2h.6m-.5 0h.6m-.5-.1h.6m-.5 .1h.6m-.2-.3h.6m-.4 .7h.6m-.4-.4h.6m-.4 .1h.6m-.4-.1h.6m-.6-.2h.6m-.4 .2h.6m-.6-.3h.6m-.4 .5h.6m-.5-.4h.6m-.4 .2h.6m-.6 .1h.6m-.6 0h.6m-.5 .2h.6m-.6-.3h.6m-.4 0h.6m-.6 .4h.6m-.5-.6h.6m-.6 .5h.6m-.1-.6h.6m-.6 .3h.6m-.6-.5h.6m-.5 .2h.6m-.6-.1h.6m-.5 .7h.6m-.3-.8h.6m-.5 .8h.6m-.5-.2h.6m-.4-.5h.6m-.5-.1h.6m-.2 .4h.6m-.3-.1h.6m-.3 .1h.6m-.6 .4h.6m-.3-.1h.6m-.5-.3h.6m-.6-.3h.6m.3 .6h.6m-.6-.4h.6m-.5 .1h.6m-.4 .6h.6m-.6-.8h.6m-.5 .4h.6m-.4 .2h.6m-.3-.3h.6m-.4 .4h.6m-.5-.6h.6m-.1 .3h.6m-.3-.1h.6m-.6-.4h.6m-.5 .6h.6m-.3 .3h.6m-.6-1h.6m-.4 .3h.6m.1-.1h.6m.1 0h.6m-.1 .4h.6m3.3-.5h.6m4.7 .4h.6m11.9-.4h.6m.8 .2h.6m-.3 .4h.6m-.5 0h.6m-.5 .1h.6m-.4-.5h.6m-.6 .6h.6m-.4-.3h.6m.4-.5h.6m-.5 .6h.6m-.2-.3h.6m-.4 .2h.6m0 .2h.6m-.5-.1h.6m-.1-.6h.6m-.4 .4h.6m-.5-.1h.6m-.5 .3h.6m-.5 .3h.6m-.5-.9h.6m-.1 0h.6m-.5 .1h.6m-.1 .8h.6m-.6-.6h.6m-.6-.3h.6m-.3 0h.6m-.5 .6h.6m-.5-.2h.6m-.6-.2h.6m-.4 .5h.6m-.5-.1h.6m-.2-.2h.6m.4 .2h.6m-.3 .1h.6m-.6-.6h.6m.1-.1h.6m-.4 .7h.6m-.3-.1h.6m-.3-.2h.6m0-.1h.6m10 .6h.6m-68.6 .4h.6m-.3 .4h.6m-.2-.3h.6m1.1-.5h.6m-.5 .4h.6m-.3 .6h.6m-.6 0h.6m.2-1h.6m-.1 .1h.6m.9 .3h.6m.9 .4h.6m-.5-.6h.6m-.1 .2h.6m-.5 .5h.6m-.5 .1h.6m-.2-.2h.6m-.4-.1h.6m-.5-.3h.6m-.6-.1h.6m-.3-.1h.6m-.5 .8h.6m-.6-.1h.6m-.4-.7h.6m-.4-.1h.6m-.6 .9h.6m-.4-.4h.6m-.3 .1h.6m-.5 .3h.6m-.5-.8h.6m-.3 .1h.6m-.6 .1h.6m-.5 .5h.6m-.6-.7h.6m-.5 .6h.6m-.2-.2h.6m0-.1h.6m-.5 .3h.6m-.5-.4h.6m-.6 .2h.6m-.5-.4h.6m-.5 .4h.6m-.6-.2h.6m-.5 .5h.6m-.4-.3h.6m-.5-.4h.6m-.6 .1h.6m-.6 .3h.6m-.5 .2h.6m-.5-.3h.6m-.5 .3h.6m-.5-.2h.6m-.3-.4h.6m-.6-.2h.6m-.4 .9h.6m-.6-.6h.6m-.5 .2h.6m-.6 0h.6m-.6-.2h.6m-.5 .1h.6m-.6 .1h.6m-.5 .3h.6m-.6-.3h.6m-.6 .1h.6m-.3 .1h.6m-.5-.3h.6m-.6 .6h.6m-.5-.2h.6m-.4-.5h.6m-.6 .2h.6m-.4-.4h.6m-.6 .3h.6m-.4 .4h.6m-.5-.3h.6m-.3 0h.6m-.6 .2h.6m-.5 0h.6m-.1-.1h.6m-.6-.6h.6m-.6 .8h.6m-.5-.2h.6m-.4-.2h.6m-.6 0h.6m-.3-.3h.6m-.6 0h.6m-.5-.1h.6m-.3 .2h.6m-.2 .4h.6m-.6-.1h.6m-.5-.1h.6m-.4 .2h.6m-.5-.3h.6m-.6 .3h.6m-.3-.3h.6m-.6 .6h.6m-.6-.7h.6m0 .1h.6m-.6-.1h.6m-.6 .5h.6m-.6-.4h.6m-.3-.2h.6m-.6 .7h.6m-.3 .2h.6m-.5-.3h.6m-.6-.6h.6m.2 .5h.6m-.4-.1h.6m-.5 .3h.6m-.3-.2h.6m-.5-.3h.6m-.6 .3h.6m-.5-.3h.6m.3-.1h.6m-.5 .4h.6m-.5-.3h.6m-.4-.1h.6m-.4 .6h.6m-.6-.1h.6m-.4 0h.6m0-.2h.6m-.2 .1h.6m.2-.3h.6m.5 .1h.6m-.5-.1h.6m.1-.2h.6m-.4 .7h.6m-.4 .1h.6m18-.2h.6m.3 0h.6m-.3 .1h.6m-.1-.3h.6m0-.3h.6m-.6 .7h.6m-.5-.4h.6m-.3-.1h.6m-.5 .4h.6m-.1-.6h.6m-.3 .6h.6m-.3-.7h.6m-.4 0h.6m-.4 .4h.6m-.2 .3h.6m-.5-.3h.6m-.4-.1h.6m-.4 .3h.6m-.2-.4h.6m-.6 .4h.6m-.4-.3h.6m-.4 0h.6m-.5 .2h.6m-.6-.6h.6m-.3 .9h.6m-.5 0h.6m-.6-.4h.6m-.4 .4h.6m-.6-.3h.6m-.6 0h.6m-.5-.1h.6m-.5 0h.6m-.5 .2h.6m-.5 .2h.6m-.6-.8h.6m0 .3h.6m-.5 .6h.6m-.2-.9h.6m-.5 .4h.6m-.6-.3h.6m-.4 0h.6m-.5 .3h.6m-.5-.1h.6m-.5 .6h.6m-.5-.7h.6m-.6 .3h.6m-.3-.1h.6m-.1 .4h.6m-.4-.7h.6m-.4 .7h.6m-.5-.4h.6m-.5-.4h.6m-.5 .9h.6m-.4-.2h.6m-.6-.6h.6m-.3 .5h.6m.3-.7h.6m-.2 .9h.6m.1 0h.6m-.4-.5h.6m.4-.3h.6m1.7 .5h.6m-61.9 1.1h.6m.4 .1h.6m-.2-.1h.6m-.3-.6h.6m.1 .8h.6m-.3-.3h.6m-.6-.3h.6m-.1 .1h.6m-.6 .5h.6m-.6-.8h.6m-.2 .7h.6m-.5 0h.6m.3 0h.6m-.4-.4h.6m-.2 0h.6m-.4-.1h.6m-.2 .7h.6m-.4-.9h.6m-.4 .1h.6m-.4-.1h.6m-.4 .7h.6m-.3-.2h.6m-.4-.4h.6m-.3 .6h.6m-.3-.1h.6m-.6-.1h.6m-.6 .2h.6m-.4-.1h.6m-.5-.5h.6m-.4 .1h.6m-.6 .5h.6m-.3-.2h.6m-.6-.3h.6m-.4 0h.6m-.6-.2h.6m-.4 .5h.6m-.6-.2h.6m-.6 .2h.6m-.5 .3h.6m-.4-.9h.6m-.4 1h.6m-.5-.8h.6m-.2 .7h.6m-.5-.6h.6m-.6 .3h.6m-.6-.5h.6m-.6-.1h.6m-.5 .1h.6m-.6 .8h.6m-.5-.1h.6m-.6 .1h.6m-.5-.8h.6m-.5 .4h.6m-.4 0h.6m-.4-.5h.6m-.6 .9h.6m-.5-.1h.6m-.6-.4h.6m-.6 0h.6m-.5-.3h.6m-.6 .1h.6m-.5 .4h.6m-.6 .2h.6m-.6 .1h.6m-.5-.9h.6m-.6 .2h.6m-.2 .8h.6m-.5-.6h.6m-.4 0h.6m-.5-.2h.6m-.5 .5h.6m-.6-.1h.6m-.5 .2h.6m-.6-.6h.6m-.6 .4h.6m-.5 .2h.6m-.6 0h.6m-.3 .2h.6m-.5-.7h.6m-.6 .5h.6m-.6-.5h.6m-.4 .1h.6m-.6 .3h.6m-.5-.4h.6m-.5 0h.6m-.4 .2h.6m-.6 .2h.6m-.5-.6h.6m-.6 .2h.6m-.6 .3h.6m-.5-.1h.6m-.6 .1h.6m-.6-.3h.6m-.3 .4h.6m-.5-.6h.6m-.6 .1h.6m-.5 .3h.6m-.2-.4h.6m-.6 .7h.6m-.2 .1h.6m-.6 0h.6m-.5-.4h.6m-.6 .2h.6m-.4-.1h.6m-.6-.6h.6m-.5 0h.6m-.6 .5h.6m-.5 .3h.6m-.5-.5h.6m-.6-.1h.6m-.6-.1h.6m-.6 .6h.6m-.6 .3h.6m-.5-.4h.6m-.5-.1h.6m-.6 .4h.6m-.4-.5h.6m-.5-.1h.6m-.6 .6h.6m-.5-.2h.6m-.5-.3h.6m-.5 .5h.6m-.5-.2h.6m-.5-.4h.6m-.4 .3h.6m-.5-.5h.6m-.5 .1h.6m-.6 .1h.6m-.5-.1h.6m-.6 .7h.6m-.5-.3h.6m-.3-.3h.6m-.4-.2h.6m-.4 .5h.6m-.6-.3h.6m-.6-.3h.6m-.5 .8h.6m-.5-.8h.6m-.5 .5h.6m.2-.3h.6m-.3 .1h.6m-.6 .7h.6m-.6-.1h.6m-.4-.6h.6m-.6 0h.6m-.5 .6h.6m-.4-.4h.6m-.5 .4h.6m-.1-.5h.6m-.4 0h.6m-.5 0h.6m-.2 .6h.6m-.2-.7h.6m-.3-.1h.6m-.6 .8h.6m-.1-.2h.6m-.6-.2h.6m-.3-.6h.6m-.3 .2h.6m-.4 0h.6m-.5-.2h.6m.2 .6h.6m-.4-.3h.6m-.6-.1h.6m.9 .8h.6m.1-.7h.6m3.4 .5h.6m6.4-.3h.6m5.7 .1h.6m1.3-.1h.6m.1 0h.6m-.6 .1h.6m-.2-.5h.6m-.3 .4h.6m-.2-.2h.6m-.5 .3h.6m-.3 .2h.6m-.3-.8h.6m-.5 .3h.6m-.4 .3h.6m0-.1h.6m-.2-.2h.6m-.4-.2h.6m-.2 .4h.6m-.6 .4h.6m-.5-.8h.6m-.4 .7h.6m-.5-.7h.6m-.6 .3h.6m0 .4h.6m-.3 .1h.6m-.5-.3h.6m-.5-.5h.6m-.4 .5h.6m-.6 .1h.6m-.6 .2h.6m-.4-.6h.6m-.5 .3h.6m-.3 .1h.6m-.4-.1h.6m-.5 0h.6m-.6-.5h.6m-.5 .2h.6m-.2 .1h.6m-.6 .4h.6m-.6-.4h.6m-.1 .2h.6m-.5 .3h.6m-.5 0h.6m-.5-.5h.6m-.5-.2h.6m-.6 .7h.6m-.5-.2h.6m-.5 0h.6m-.6-.1h.6m-.6 .1h.6m-.2-.1h.6m-.4-.5h.6m-.5 .5h.6m-.5-.3h.6m-.5 .5h.6m.1-.2h.6m-.6 .1h.6m-.4-.2h.6m-.3 .1h.6m-.6-.5h.6m-.6 .7h.6m-.6-.6h.6m-.4 .6h.6m-.6-.4h.6m-.3 .6h.6m-.5-.8h.6m-.4 .1h.6m-.2 .3h.6m-.4 0h.6m-.5 0h.6m-.3 .3h.6m-.2 .1h.6m1-.4h.6m-.1 .2h.6m-62.2 .7h.6m-.5 .2h.6m.1 0h.6m-.4 0h.6m-.5-.2h.6m.4 .4h.6m-.5-.4h.6m-.5 .1h.6m-.3 .1h.6m-.6-.2h.6m.6 .1h.6m-.1 0h.6m-.5-.3h.6m-.2 0h.6m-.5 .4h.6m-.5-.7h.6m-.3 .7h.6m-.6-.2h.6m-.4 .4h.6m-.3-.3h.6m-.6 .3h.6m-.4-.3h.6m-.3 0h.6m-.5-.5h.6m-.4 .2h.6m-.5 .6h.6m-.4-.5h.6m-.2-.2h.6m-.5 .2h.6m-.6 .2h.6m-.5-.1h.6m-.5-.5h.6m-.5 .3h.6m-.5 .5h.6m-.6-.4h.6m-.5 .5h.6m-.6-.3h.6m-.6-.5h.6m-.6 .2h.6m-.6-.1h.6m-.4 .2h.6m-.5-.1h.6m-.5 .1h.6m-.5 .5h.6m-.6-.9h.6m-.5 .8h.6m-.1-.1h.6m-.6 0h.6m-.5-.7h.6m-.2 1h.6m-.3-1h.6m-.6 .6h.6m-.4-.5h.6m-.6 .6h.6m-.5-.3h.6m-.6 .5h.6m-.6 .1h.6m-.5-.4h.6m-.6-.4h.6m-.2 .4h.6m-.5 .3h.6m-.5-.1h.6m-.3-.5h.6m-.5 .4h.6m-.5 0h.6m-.5 .1h.6m-.5 .1h.6m-.6-.3h.6m-.4 .4h.6m-.6-.6h.6m-.5-.3h.6m-.6 .9h.6m-.6-.4h.6m-.5-.5h.6m-.5 .2h.6m-.5 .1h.6m-.5 0h.6m-.6 .2h.6m-.6-.3h.6m-.6 .3h.6m-.5 0h.6m-.6-.3h.6m-.5 0h.6m-.6 .2h.6m-.3 .3h.6m-.6 0h.6m-.4-.4h.6m-.3 .4h.6m-.4 0h.6m-.3-.1h.6m-.5-.1h.6m-.4-.6h.6m-.5 .6h.6m-.5-.2h.6m-.4 .2h.6m-.5 .2h.6m-.6-.7h.6m-.6 .3h.6m-.5 .1h.6m-.5-.3h.6m-.5 .5h.6m-.6-.3h.6m-.6 .2h.6m-.5 .2h.6m-.5-.8h.6m-.5 .4h.6m-.5 .5h.6m-.5 .1h.6m-.6-.1h.6m-.6-.1h.6m-.4-.7h.6m-.6-.1h.6m-.6 .7h.6m-.5-.7h.6m-.6 .1h.6m-.6-.1h.6m-.4 1h.6m-.6-.9h.6m-.3 .9h.6m-.5-.6h.6m-.6 .2h.6m-.6 .2h.6m-.6-.7h.6m-.4 .9h.6m-.5-.6h.6m-.5 .2h.6m-.3-.5h.6m-.6 .1h.6m-.6 .1h.6m-.5 .2h.6m-.5 .2h.6m-.5 .1h.6m-.5-.2h.6m-.4-.1h.6m-.6 .3h.6m-.6-.8h.6m-.1 .9h.6m-.3-.9h.6m-.4 .3h.6m-.5 0h.6m-.6 .5h.6m-.5 0h.6m-.5-.6h.6m-.6 .5h.6m-.2-.5h.6m-.1-.1h.6m.2 .1h.6m-.5 .2h.6m-.6 .4h.6m-.4-.3h.6m-.5 .2h.6m-.2-.5h.6m-.5 .1h.6m-.2 0h.6m-.5 .5h.6m-.6-.4h.6m-.5 .4h.6m-.5-.6h.6m-.5 .3h.6m-.4-.4h.6m-.4 .2h.6m-.3-.1h.6m-.4 0h.6m-.5 .2h.6m1.4 .2h.6m-.1-.5h.6m1.3 .2h.6m15.8 .4h.6m3-.3h.6m-.4-.2h.6m-.5-.1h.6m-.5 .8h.6m-.4-.1h.6m-.3-.5h.6m-.4 .2h.6m-.3-.4h.6m-.1 .4h.6m.1 .3h.6m.2-.4h.6m-.6 .5h.6m-.5-.1h.6m-.6 .2h.6m-.5-.3h.6m-.5-.3h.6m-.6 .2h.6m-.5 .1h.6m-.2-.6h.6m-.6 .4h.6m-.3 .4h.6m-.6-.1h.6m-.5-.7h.6m-.5 .5h.6m-.6-.4h.6m-.5 .6h.6m-.6-.2h.6m-.6 .3h.6m-.5-.4h.6m-.6-.3h.6m-.5 .8h.6m-.6-.3h.6m-.5 .3h.6m-.6-.8h.6m-.2-.2h.6m-.6 .8h.6m-.5-.2h.6m-.6-.2h.6m-.5 0h.6m-.5 .1h.6m-.6 .4h.6m-.6-.8h.6m-.6 .6h.6m-.5-.3h.6m-.6 .2h.6m-.4 .3h.6m-.6-.3h.6m-.5-.3h.6m-.5 .3h.6m-.6 .3h.6m-.6-.5h.6m-.6-.4h.6m-.2 .3h.6m-.5 .7h.6m-.6-.3h.6m-.4-.4h.6m-.5 .4h.6m-.6 0h.6m-.5-.1h.6m-.6 .4h.6m-.5-.1h.6m-.6 0h.6m-.4-.7h.6m-.5 0h.6m-.5 .5h.6m-.4-.2h.6m-.5 .1h.6m-.4 0h.6m-.2 .4h.6m-.6-.1h.6m-.6-.2h.6m-.4-.4h.6m-.6 .6h.6m-.5-.6h.6m-.2 .7h.6m-.6-.9h.6m-.4 .6h.6m-.4 .2h.6m-.4-.7h.6m-.4 .1h.6m-.5-.3h.6m.8 .4h.6m-.4 .6h.6m.6-.5h.6m.4 0h.6m1.6-.1h.6m-72 .8h.6m4.3 .6h.6m1.6-.2h.6m-.4 .3h.6m-.2-.2h.6m.1-.7h.6m.4 .3h.6m-.2 0h.6m.2-.2h.6m.2 .3h.6m-.5-.4h.6m-.3 .6h.6m-.5-.1h.6m-.6-.2h.6m-.1 .3h.6m-.6 .1h.6m.1-.1h.6m-.6-.4h.6m-.6 .3h.6m-.4-.4h.6m-.5 .6h.6m-.5 .2h.6m-.6-.2h.6m-.4-.1h.6m-.5-.4h.6m-.6 .8h.6m-.6-1h.6m-.3 .8h.6m-.6-.3h.6m-.5-.1h.6m-.6-.3h.6m-.2 .8h.6m-.5-.6h.6m-.5 .7h.6m-.3-.2h.6m-.4-.2h.6m-.4 .4h.6m-.5-.9h.6m-.5 .1h.6m-.5 .2h.6m-.6-.1h.6m-.6 .5h.6m-.6 0h.6m-.5-.2h.6m-.5-.2h.6m-.6 .1h.6m-.5 .3h.6m-.6 0h.6m-.5-.4h.6m-.5 .6h.6m-.5-.7h.6m-.5 .6h.6m-.5-.9h.6m-.6 .7h.6m-.6-.7h.6m-.5 .2h.6m-.5 .2h.6m-.5-.4h.6m-.6 .1h.6m-.4 .6h.6m-.6 .3h.6m-.6-.2h.6m-.4 0h.6m-.5-.6h.6m-.6 .2h.6m-.4 .1h.6m-.5 .2h.6m-.6-.5h.6m-.6 .6h.6m-.4-.8h.6m-.4 .2h.6m-.5 0h.6m-.6 .4h.6m-.5-.5h.6m-.5 0h.6m-.6 .1h.6m-.6 0h.6m-.6 .8h.6m-.5-.4h.6m-.6-.1h.6m-.5-.1h.6m-.6 .3h.6m-.4-.3h.6m-.5 .4h.6m-.6-.7h.6m-.5-.1h.6m-.6 .1h.6m-.6 .8h.6m-.5-.4h.6m-.6-.2h.6m-.6 0h.6m-.5-.1h.6m-.5 .5h.6m-.6-.1h.6m-.6-.1h.6m-.5 .3h.6m-.6 .1h.6m-.6 0h.6m-.6-.5h.6m-.6 .6h.6m-.5-.2h.6m-.3-.3h.6m-.4-.3h.6m-.6 .7h.6m-.5-.5h.6m-.5 .2h.6m-.6-.1h.6m-.5 0h.6m-.6 .1h.6m-.6-.5h.6m-.5 0h.6m-.6 .3h.6m-.5-.1h.6m-.5 .4h.6m-.4 0h.6m-.5-.2h.6m-.5-.5h.6m-.6 .8h.6m-.6 .1h.6m-.6-.3h.6m-.5-.5h.6m-.5 .3h.6m-.6 .6h.6m-.5-.3h.6m-.6-.5h.6m-.5 .2h.6m-.6-.3h.6m-.6 .7h.6m-.5-.7h.6m-.5 .3h.6m-.5 .3h.6m-.6-.4h.6m-.5 .2h.6m-.5 .2h.6m-.5-.2h.6m-.6 .1h.6m-.6-.2h.6m-.6 .2h.6m-.5 0h.6m-.6-.2h.6m-.5 .3h.6m-.5-.5h.6m-.6-.1h.6m-.6 .4h.6m-.5-.5h.6m-.6 .1h.6m-.5 .9h.6m-.5-.7h.6m-.6 .5h.6m-.5 0h.6m-.5-.5h.6m-.6-.2h.6m-.5 .6h.6m-.6-.5h.6m-.5 .7h.6m-.5-.7h.6m-.5 .3h.6m-.6 0h.6m-.5 .1h.6m-.6-.2h.6m-.6-.1h.6m-.6 .3h.6m-.5 .3h.6m-.5-.7h.6m-.6 0h.6m-.6 .5h.6m-.5-.1h.6m-.4-.4h.6m-.5-.1h.6m-.6 .3h.6m-.5 .1h.6m-.4 .3h.6m-.5 .1h.6m-.6 .1h.6m-.6-.9h.6m-.5 .7h.6m-.6 0h.6m-.2 0h.6m-.6-.5h.6m-.5 .7h.6m-.4-.7h.6m-.6 .2h.6m-.6 0h.6m-.2 0h.6m-.6-.3h.6m-.6 .6h.6m-.5-.8h.6m-.5 .9h.6m-.5 0h.6m-.3-.5h.6m-.6-.3h.6m-.3 .8h.6m-.6-.1h.6m-.5-.2h.6m-.4-.5h.6m-.6 .3h.6m-.5-.1h.6m-.5 .4h.6m-.5 0h.6m-.3 .3h.6m-.3 0h.6m-.2-.6h.6m-.3-.1h.6m-.5 .2h.6m-.5 .3h.6m-.3-.1h.6m-.5-.1h.6m-.4 .4h.6m-.6-.5h.6m-.4 .2h.6m-.6-.7h.6m-.3 .2h.6m0-.1h.6m-.4 0h.6m-.2 .4h.6m-.5-.4h.6m-.5 .1h.6m-.2 .3h.6m0-.3h.6m-.2 .3h.6m-.4 .2h.6m.8-.4h.6m.6 0h.6m-.4 0h.6m17.7-.2h.6m-.1 .7h.6m-.4-.7h.6m0 .4h.6m0 .5h.6m.5-.1h.6m-.5-.2h.6m-.5 .1h.6m-.6 0h.6m-.5 0h.6m-.5 0h.6m-.5 .1h.6m-.4-.5h.6m-.6-.1h.6m-.5 0h.6m-.5 .5h.6m-.4-.7h.6m-.5 .8h.6m-.4 .1h.6m-.3-1h.6m-.5 .2h.6m-.4 .1h.6m-.4 .6h.6m-.6-.6h.6m-.3-.1h.6m-.5 .3h.6m-.6 .1h.6m-.5-.4h.6m-.5 .7h.6m-.6-.9h.6m-.4 .5h.6m-.2 .5h.6m-.5 0h.6m-.6-.1h.6m-.5-.2h.6m-.4-.1h.6m-.5 .1h.6m-.5 .3h.6m-.4-.2h.6m-.6-.1h.6m-.3-.2h.6m-.6 .4h.6m-.5-.2h.6m-.5 .2h.6m-.4-.2h.6m-.4-.4h.6m-.6 0h.6m-.6-.3h.6m-.6 .1h.6m-.5 .1h.6m-.5 .6h.6m-.5-.4h.6m-.6-.2h.6m-.6-.2h.6m-.5 1h.6m-.5-.2h.6m-.5-.2h.6m-.4-.1h.6m-.5 .2h.6m-.6-.2h.6m-.6 .2h.6m-.5 .1h.6m-.3-.1h.6m-.5 0h.6m-.5-.6h.6m-.6 .2h.6m-.5 .7h.6m-.6-.9h.6m0 .5h.6m-.5 .2h.6m-.6-.2h.6m-.3 .3h.6m-.4-.8h.6m-.2 .5h.6m-.5-.3h.6m-.6 .2h.6m-.1-.2h.6m.5 0h.6m-.5 .1h.6m-.3 .1h.6m-65.1 .6h.6m.4 .5h.6m3.3-.1h.6m.2 .4h.6m0 .1h.6m-.5 0h.6m-.6-.1h.6m-.4 0h.6m-.3-.8h.6m-.5 .6h.6m0-.2h.6m-.5-.5h.6m-.4 .8h.6m-.3-.2h.6m-.3-.4h.6m-.2 .7h.6m-.6-.5h.6m-.5 .1h.6m-.5 0h.6m-.6-.5h.6m-.4 .7h.6m-.5-.5h.6m-.6 .4h.6m-.6-.3h.6m-.5 0h.6m-.5 .5h.6m-.4-.3h.6m-.5 0h.6m-.5-.2h.6m-.6 .5h.6m-.6 0h.6m-.3-.2h.6m-.6 .3h.6m-.6-.8h.6m-.5 .4h.6m-.3 .3h.6m-.5-.5h.6m-.6 .1h.6m-.6-.1h.6m-.5 .5h.6m-.2-.3h.6m-.6-.4h.6m-.5-.1h.6m-.6 .7h.6m-.5-.6h.6m-.5 .2h.6m-.5 .5h.6m-.4 .1h.6m-.5-.5h.6m-.5 0h.6m-.6-.2h.6m-.3 0h.6m-.5 0h.6m-.6 .5h.6m-.5-.4h.6m-.5 .5h.6m-.6-.3h.6m-.5 .5h.6m-.5-.5h.6m-.6 0h.6m-.5-.2h.6m-.4 0h.6m-.5 .3h.6m-.6-.1h.6m-.6 .3h.6m-.6 .2h.6m-.4-.9h.6m-.6 .3h.6m-.6 .4h.6m-.5-.4h.6m-.5 .5h.6m-.6 0h.6m-.6-.2h.6m-.4-.5h.6m-.6 .4h.6m-.6-.4h.6m-.3 .7h.6m-.4 0h.6m-.5-.5h.6m-.6 .2h.6m-.5 .4h.6m-.6-.7h.6m-.5 .3h.6m-.5-.4h.6m-.6 .4h.6m-.5 .1h.6m-.6 .3h.6m-.6-.8h.6m-.5 .8h.6m-.4-.6h.6m-.5-.2h.6m-.5-.1h.6m-.6 .8h.6m-.5-.4h.6m-.6 .3h.6m-.4 .1h.6m-.6 0h.6m-.5 .1h.6m-.5-.9h.6m-.5 .6h.6m-.5-.4h.6m-.5-.1h.6m-.6 .7h.6m-.5-.3h.6m-.6-.5h.6m-.5 .9h.6m-.6-.9h.6m-.6 .2h.6m-.4 .4h.6m-.6-.4h.6m-.5 .4h.6m-.6-.3h.6m-.5-.1h.6m-.5 .2h.6m-.6-.1h.6m-.5-.2h.6m-.6-.1h.6m-.6 .3h.6m-.5 .1h.6m-.6 .3h.6m-.6-.2h.6m-.5 .2h.6m-.5-.1h.6m-.6-.6h.6m-.6 .2h.6m-.6-.3h.6m-.6 .5h.6m-.6-.5h.6m-.5 .5h.6m-.6-.2h.6m-.6 .1h.6m-.6 .2h.6m-.4 .1h.6m-.6-.5h.6m-.5 .5h.6m-.6-.4h.6m-.6 .6h.6m-.5-.2h.6m-.6 .2h.6m-.4-.1h.6m-.6 0h.6m-.5-.8h.6m-.5 .3h.6m-.6 .3h.6m-.5 .1h.6m-.5-.4h.6m-.6 .7h.6m-.6-.7h.6m-.4-.3h.6m-.6 .1h.6m-.4 .1h.6m-.6 .1h.6m-.5 .4h.6m-.6 .1h.6m-.4-.7h.6m-.6 .1h.6m-.5 .6h.6m-.6 0h.6m-.5 0h.6m-.6 0h.6m-.5-.7h.6m-.4 .5h.6m-.5-.5h.6m-.6 .4h.6m-.6 0h.6m-.4-.3h.6m-.6-.1h.6m-.5 .2h.6m-.5 .1h.6m-.6 .4h.6m-.5-.1h.6m-.6-.6h.6m-.5 .8h.6m-.6-.2h.6m-.6-.6h.6m-.5 .7h.6m-.6 0h.6m-.6-.7h.6m-.5 .6h.6m-.3 .2h.6m-.6-.1h.6m-.5-.2h.6m-.5-.2h.6m-.6-.2h.6m-.5 .7h.6m-.5-.5h.6m-.6 .1h.6m-.5-.5h.6m-.6 .3h.6m-.5 .4h.6m-.4 0h.6m-.5-.4h.6m-.4 .6h.6m-.6-.3h.6m-.6-.2h.6m-.3-.3h.6m-.5 .1h.6m-.5 .7h.6m-.5-.7h.6m-.6 .2h.6m-.5 0h.6m-.5 0h.6m-.5 .4h.6m-.6 .1h.6m-.5-.2h.6m-.6-.2h.6m-.5-.4h.6m-.6 .7h.6m-.6 .1h.6m-.6-.4h.6m-.5-.1h.6m-.4-.3h.6m-.5 .6h.6m-.5-.7h.6m-.4 .1h.6m-.5 .3h.6m-.5 .1h.6m-.4 .4h.6m-.6-.8h.6m-.5 .7h.6m-.4-.7h.6m-.2 0h.6m-.3 .1h.6m-.1 .2h.6m-.5 .4h.6m-.6-.4h.6m-.1-.3h.6m-.5 .6h.6m-.6-.2h.6m-.1 .5h.6m.1-.6h.6m.2 .1h.6m-.5-.4h.6m-.6 .3h.6m.6 .1h.6m-.5-.3h.6m-.3 .2h.6m1.6 .3h.6m1.6-.6h.6m14.1 .3h.6m1.2-.3h.6m.4 .9h.6m.8-.1h.6m-.3-.3h.6m-.4-.3h.6m-.3 .5h.6m-.1-.7h.6m-.3 .9h.6m-.5-.6h.6m-.6 .3h.6m-.5-.6h.6m-.5 .4h.6m-.1 .3h.6m-.6-.7h.6m-.5 .8h.6m-.5 0h.6m-.5-.7h.6m-.4 .5h.6m-.6 0h.6m-.5-.5h.6m-.6-.1h.6m-.2 .4h.6m-.5-.1h.6m-.5 .6h.6m-.4-.1h.6m-.5-.8h.6m-.6 .4h.6m-.5-.1h.6m-.5 .3h.6m-.4-.1h.6m-.6 .3h.6m-.5-.4h.6m-.6 0h.6m-.6-.1h.6m-.5 .3h.6m-.5 0h.6m-.3 .1h.6m-.5 0h.6m-.6 .1h.6m-.5-.2h.6m-.6-.1h.6m-.6-.6h.6m-.5 .1h.6m-.6 .8h.6m-.6-.3h.6m-.5-.3h.6m-.6 .6h.6m-.4-.5h.6m-.6 .3h.6m-.6-.6h.6m-.4 .7h.6m-.6 0h.6m-.5 .1h.6m-.5-.4h.6m-.6-.2h.6m-.5-.2h.6m-.4 .4h.6m-.5 .3h.6m-.6-.5h.6m-.6 .6h.6m-.5-.3h.6m-.5-.4h.6m-.6 .1h.6m-.5-.1h.6m-.6 .7h.6m-.5 .1h.6m-.4-.5h.6m-.5-.4h.6m-.4 .4h.6m-.6 .2h.6m-.3 .2h.6m-.6-.3h.6m-.5 .4h.6m-.6-.2h.6m-.5 0h.6m-.5-.4h.6m-.5-.4h.6m-.3 1h.6m-.5 0h.6m-.3-.9h.6m-.5 .7h.6m-.5-.2h.6m-.1-.2h.6m-.6 .3h.6m-.6-.2h.6m-.5 .1h.6m-.3 0h.6m-.6 0h.6m-.4 .2h.6m-.5-.5h.6m.6 .6h.6m-.5-.7h.6m-.1 .6h.6m-.3-.3h.6m0 0h.6m.5 .1h.6m-.1 .2h.6m-65.8 .2h.6m-.4 1h.6m-.6-.8h.6m.7 .6h.6m-.6 .1h.6m-.6-.3h.6m.1 .4h.6m-.3-.1h.6m.2-.7h.6m-.6-.1h.6m-.1 .6h.6m-.3-.6h.6m-.5 .7h.6m-.6 .1h.6m-.4-.5h.6m-.3 .4h.6m-.6-.5h.6m-.4-.2h.6m-.5 .6h.6m-.4-.1h.6m-.5 .1h.6m-.3 0h.6m-.5 0h.6m0 .1h.6m-.5 0h.6m-.5-.2h.6m-.5 .2h.6m-.5-.2h.6m-.4 .1h.6m-.4 .3h.6m-.3-.9h.6m-.2 .4h.6m-.5-.2h.6m-.4 .4h.6m-.4-.4h.6m-.6 .3h.6m-.6-.5h.6m-.3 .3h.6m-.6-.2h.6m-.5 .2h.6m-.6 .4h.6m-.5-.1h.6m-.6-.5h.6m-.5 .8h.6m-.2-.6h.6m-.6 .5h.6m-.5-.8h.6m-.6 .4h.6m-.6 0h.6m-.5-.2h.6m-.5 .2h.6m-.6 .1h.6m-.6-.2h.6m-.5 .1h.6m-.5 .3h.6m-.6 0h.6m-.5-.1h.6m-.5-.6h.6m-.4 .8h.6m-.6-.3h.6m-.5-.1h.6m-.6 .3h.6m-.5-.8h.6m-.5 0h.6m-.6 .7h.6m0-.6h.6m-.4 .4h.6m-.6 .3h.6m-.6 0h.6m-.5-.5h.6m-.6 .1h.6m-.6 .3h.6m-.5-.4h.6m-.6 .6h.6m-.5-.5h.6m-.6 .4h.6m-.5 .1h.6m-.5 0h.6m-.6 0h.6m-.6-.7h.6m-.5-.1h.6m-.4 .9h.6m-.6-.2h.6m-.5 .2h.6m-.6-1h.6m-.5 .6h.6m-.6-.3h.6m-.5-.1h.6m-.6 .6h.6m-.5-.2h.6m-.4-.1h.6m-.5-.1h.6m-.6-.4h.6m-.6 .1h.6m-.6 .6h.6m-.6-.6h.6m-.4 .5h.6m-.5-.6h.6m-.6 .5h.6m-.5 .1h.6m-.6-.5h.6m-.6 .5h.6m-.6-.2h.6m-.4-.1h.6m-.5 0h.6m-.5 .2h.6m-.5-.2h.6m-.5-.1h.6m-.6 .7h.6m-.6-.2h.6m-.6-.3h.6m-.6-.4h.6m-.5 .7h.6m-.6 0h.6m-.5-.3h.6m-.6 .4h.6m-.4 0h.6m-.5-.4h.6m-.5 .5h.6m-.6-.8h.6m-.5 .1h.6m-.5 .7h.6m-.5-.5h.6m-.6 0h.6m-.6 .5h.6m-.5-.5h.6m-.6 .3h.6m-.6-.1h.6m-.5-.3h.6m-.4 0h.6m-.6 .2h.6m-.6 .1h.6m-.4-.2h.6m-.6 .5h.6m-.5-.7h.6m-.5 .5h.6m-.6-.7h.6m-.6 .5h.6m-.5 .4h.6m-.5 0h.6m-.6-.5h.6m-.5-.1h.6m-.5 .2h.6m-.6 .4h.6m-.6 0h.6m-.3-.2h.6m-.6 0h.6m-.6-.5h.6m-.5 .2h.6m-.6 .1h.6m-.6-.4h.6m-.5 .1h.6m-.6 .5h.6m-.5-.6h.6m-.5 .7h.6m-.5-.7h.6m-.6 .2h.6m-.5 .4h.6m-.4-.3h.6m-.6 .5h.6m-.6-.4h.6m-.5 .2h.6m-.3 .2h.6m-.6-.8h.6m-.5 .9h.6m-.5-.7h.6m-.6-.1h.6m-.5 .7h.6m-.5-.2h.6m-.5-.3h.6m-.6-.2h.6m-.6 .6h.6m-.6-.1h.6m-.5-.1h.6m-.6-.1h.6m-.5 .1h.6m-.5-.4h.6m-.6 .4h.6m-.5-.5h.6m-.3 .6h.6m-.3 .1h.6m-.5-.2h.6m-.5-.4h.6m-.5 0h.6m-.6 .7h.6m-.5-.7h.6m-.6 .2h.6m-.5 .1h.6m-.6-.4h.6m-.6 0h.6m-.5-.1h.6m-.6 .5h.6m-.5 .5h.6m-.6-.9h.6m-.6 .5h.6m-.5 .2h.6m-.5-.1h.6m-.6-.5h.6m-.5 .8h.6m-.6-.1h.6m-.5-.7h.6m-.4 .5h.6m-.6-.5h.6m-.4 .6h.6m-.6 0h.6m-.5-.3h.6m-.5 .5h.6m-.4-.1h.6m-.6-.8h.6m-.3 .7h.6m-.4-.4h.6m-.5 .5h.6m-.6-.6h.6m-.6 0h.6m-.4-.1h.6m-.6 .6h.6m-.5-.2h.6m-.4 .1h.6m-.4 .3h.6m-.5-.2h.6m-.6-.2h.6m-.4-.1h.6m-.6-.2h.6m-.3 .3h.6m-.3-.3h.6m-.6-.2h.6m-.6 0h.6m-.6 .1h.6m-.3 .2h.6m-.5 .3h.6m-.5-.6h.6m-.6 .1h.6m-.3 .7h.6m-.4-.8h.6m-.3 0h.6m-.2 .8h.6m-.6-.1h.6m-.5 0h.6m-.4 .1h.6m-.5 0h.6m-.3-.3h.6m-.2-.3h.6m-.6-.3h.6m-.2 .5h.6m-.5 .2h.6m.1-.1h.6m-.2-.3h.6m5.5 .4h.6m9.1 0h.6m1.5-.7h.6m2.6 .5h.6m-.5 .1h.6m-.4-.1h.6m.2 .4h.6m-.1-.9h.6m-.4 .6h.6m-.5 .4h.6m-.5-.9h.6m-.2 0h.6m-.5 .3h.6m-.4-.2h.6m-.5 .1h.6m-.3-.1h.6m-.6 .1h.6m-.5 .5h.6m-.6-.4h.6m-.5 0h.6m-.6 .5h.6m-.4-.7h.6m-.5 .4h.6m-.6-.3h.6m-.5-.1h.6m-.5 .4h.6m-.6-.2h.6m-.5 .1h.6m-.6 .4h.6m-.3-.4h.6m-.5 .1h.6m-.6 .3h.6m-.5-.2h.6m-.5-.2h.6m-.5-.5h.6m-.4 .1h.6m-.4 .5h.6m-.6-.1h.6m-.6 .1h.6m-.5 .1h.6m-.5-.4h.6m-.4-.2h.6m-.6 .2h.6m-.6 .7h.6m-.6-1h.6m-.5 .2h.6m-.6 .4h.6m-.5 .4h.6m-.3-.7h.6m-.6 .6h.6m-.4 0h.6m-.5-.8h.6m-.5 .2h.6m-.5 .6h.6m-.6-.6h.6m-.6 .2h.6m-.5-.3h.6m-.5 .2h.6m-.6 .4h.6m-.5-.7h.6m-.5 .6h.6m-.5-.4h.6m-.6 .5h.6m-.5-.3h.6m-.5-.1h.6m-.6 .2h.6m-.5-.2h.6m-.5 .5h.6m-.6-.4h.6m-.5-.3h.6m-.5 .6h.6m-.5-.6h.6m-.3 .3h.6m-.6 .3h.6m-.5-.4h.6m-.5 .3h.6m-.5-.6h.6m-.5-.1h.6m-.5 0h.6m-.6 0h.6m-.5 .1h.6m-.6 .2h.6m-.6 .3h.6m-.5-.3h.6m-.6-.2h.6m-.6 0h.6m-.6 .3h.6m-.5-.3h.6m-.4 .3h.6m-.6 .6h.6m-.6-.9h.6m-.6 .8h.6m-.4-.9h.6m-.6 .2h.6m-.6 .7h.6m-.5-.4h.6m-.6-.2h.6m-.6-.1h.6m-.4 .4h.6m-.6 0h.6m-.4-.5h.6m-.5 .2h.6m-.3 0h.6m-.5 .6h.6m-.6-.8h.6m-.5 .9h.6m-.6-.2h.6m-.5-.2h.6m-.6-.4h.6m-.3 .6h.6m-.6-.7h.6m-.2 .1h.6m-.5 .1h.6m-.6 .7h.6m-.5-.6h.6m-.4 0h.6m-.4-.2h.6m-.5 .6h.6m-.2-.1h.6m-.6 .3h.6m-.5-.2h.6m-.5-.3h.6m-.5-.1h.6m-.6-.1h.6m-.2 .6h.6m-.5 .1h.6m.1-.8h.6m-.3 0h.6m3.3 .5h.6m-70.1 .8h.6m.9 .2h.6m.3 0h.6m.1-.3h.6m-.1-.1h.6m-.5 .4h.6m1.2 .2h.6m-.3-.3h.6m.1-.5h.6m-.1-.1h.6m.7 .8h.6m-.4 0h.6m-.5-.1h.6m-.5-.6h.6m-.5 .9h.6m-.4-.3h.6m-.5 0h.6m-.6-.5h.6m-.5 .4h.6m-.6 .4h.6m-.5-.8h.6m-.5 0h.6m-.5 .4h.6m-.6-.5h.6m.1 .9h.6m-.5-.9h.6m-.6 .5h.6m-.2 .1h.6m-.6 .1h.6m-.5-.7h.6m-.6 .8h.6m-.5-.2h.6m-.5-.6h.6m-.5 .1h.6m-.5-.1h.6m-.5 .8h.6m-.5-.8h.6m-.4-.1h.6m-.4 .3h.6m-.5 .5h.6m-.5-.1h.6m-.5-.6h.6m-.6-.1h.6m-.5 .6h.6m-.6-.3h.6m-.5-.2h.6m-.4 0h.6m-.6 .5h.6m-.6-.4h.6m-.6 .6h.6m-.5-.7h.6m-.5 0h.6m-.3 .7h.6m-.4-.4h.6m-.4 .1h.6m-.3-.3h.6m-.6 .3h.6m-.6 0h.6m-.4 .5h.6m-.6-.8h.6m-.6 .5h.6m-.5 0h.6m-.6-.1h.6m-.6 .2h.6m-.5 .1h.6m-.6-.9h.6m-.5 .1h.6m-.6-.1h.6m-.5 .4h.6m-.6 .1h.6m-.6 .2h.6m-.5-.1h.6m-.6 .3h.6m-.5-.9h.6m-.5 .3h.6m-.6 0h.6m-.5 .3h.6m-.6 .2h.6m-.6-.3h.6m-.5 .2h.6m-.6-.6h.6m-.5 0h.6m-.6 .3h.6m-.5 .2h.6m-.5-.3h.6m-.5 .6h.6m-.5-.8h.6m-.5 .3h.6m-.6 .5h.6m-.5 .1h.6m-.6-.7h.6m-.5-.2h.6m-.6 .5h.6m-.6 .3h.6m-.5-.6h.6m-.6 .2h.6m-.6-.4h.6m-.6 .8h.6m-.6 0h.6m-.4 0h.6m-.6-.8h.6m-.6 .8h.6m-.6-.2h.6m-.6-.1h.6m-.5 .2h.6m-.6-.3h.6m-.6-.3h.6m-.6 .7h.6m-.3-.2h.6m-.6-.1h.6m-.5-.3h.6m-.6 .6h.6m-.4-.7h.6m-.6 .6h.6m-.5-.2h.6m-.5-.1h.6m-.5-.4h.6m-.6 .8h.6m-.4-.7h.6m-.6 .3h.6m-.5-.1h.6m-.5 .3h.6m-.6-.3h.6m-.4 .5h.6m-.4-.6h.6m-.6 .2h.6m-.5 .2h.6m-.6 .2h.6m-.5-.5h.6m-.6-.2h.6m-.5 .1h.6m-.6 0h.6m-.6 .5h.6m-.5-.6h.6m-.6 .1h.6m-.5 .4h.6m-.6-.4h.6m-.4 .5h.6m-.6-.2h.6m-.6-.4h.6m-.6 .3h.6m-.6-.2h.6m-.4-.2h.6m-.6 0h.6m-.6 .4h.6m-.5 .1h.6m-.5-.3h.6m-.6-.1h.6m-.6 .4h.6m-.5-.3h.6m-.5 .5h.6m-.6-.6h.6m-.5 .5h.6m-.6 .1h.6m-.6-.1h.6m-.5-.1h.6m-.6 .1h.6m-.5-.1h.6m-.5 .1h.6m-.6 .1h.6m-.3-.4h.6m-.5 .2h.6m-.6-.3h.6m-.5 .5h.6m-.6-.1h.6m-.4-.3h.6m-.5 .4h.6m-.4 .1h.6m-.6-.6h.6m-.6 0h.6m-.6 .3h.6m-.5-.5h.6m-.3 .4h.6m-.6-.2h.6m-.5 .4h.6m-.6-.5h.6m-.6 .5h.6m-.5 0h.6m-.6 .3h.6m-.6-.4h.6m-.5-.3h.6m-.5 .2h.6m-.6 0h.6m0-.3h.6m-.3 .2h.6m-.5 .4h.6m-.5-.2h.6m-.4-.2h.6m-.5-.1h.6m-.4 .1h.6m-.6-.1h.6m-.5-.3h.6m-.5 .5h.6m-.5 0h.6m-.5 .3h.6m-.6-.4h.6m-.6 .1h.6m-.3 .2h.6m-.5-.6h.6m-.5 .1h.6m-.4 .5h.6m-.3 0h.6m-.6-.6h.6m-.5 .3h.6m-.6-.1h.6m-.3 .6h.6m-.1-.2h.6m-.4-.3h.6m-.6 .5h.6m-.3-.2h.6m-.5 0h.6m-.6-.5h.6m0-.1h.6m-.6 .8h.6m-.2-.1h.6m-.6-.4h.6m-.4 .1h.6m-.2-.3h.6m-.5 .8h.6m-.3-.7h.6m-.5 .1h.6m.1 0h.6m-.4 .2h.6m-.6-.1h.6m-.3-.2h.6m.7 .4h.6m1.4-.3h.6m-.4-.2h.6m-.2 .3h.6m.3-.4h.6m1.2 .6h.6m10.5-.5h.6m2.3-.1h.6m2.2 .8h.6m.6-.3h.6m-.4 .2h.6m-.5-.4h.6m-.6-.2h.6m-.1 .6h.6m-.5-.4h.6m-.4 .2h.6m-.5-.3h.6m-.5 .5h.6m-.3-.1h.6m-.4 0h.6m-.6-.2h.6m-.5 .5h.6m-.4-.7h.6m-.4 .6h.6m-.5-.4h.6m-.4 .4h.6m-.6-.4h.6m-.4 .2h.6m-.4-.7h.6m-.5 .7h.6m-.6-.4h.6m-.4 .6h.6m-.6-.8h.6m-.5 .3h.6m-.5-.2h.6m-.5 .3h.6m-.3 .2h.6m-.4 .2h.6m-.5-.6h.6m-.4-.2h.6m-.5 .6h.6m-.6 0h.6m-.6 0h.6m-.5-.1h.6m-.4-.1h.6m-.5 .4h.6m-.6-.6h.6m-.6-.1h.6m-.6 .3h.6m-.4 .4h.6m-.6 0h.6m-.5-.7h.6m-.6-.1h.6m-.3 .8h.6m-.6 0h.6m-.6-.4h.6m-.6 .2h.6m-.5-.4h.6m-.5-.2h.6m-.5 .5h.6m-.3 0h.6m-.5 .4h.6m-.6-.9h.6m-.5 .5h.6m-.4-.2h.6m-.3 0h.6m-.3 .4h.6m-.6-.4h.6m-.5 0h.6m-.4 .1h.6m-.5-.3h.6m-.5 .2h.6m-.6 .5h.6m-.5-.6h.6m-.5-.2h.6m-.6 .6h.6m-.6 .2h.6m-.5-.1h.6m-.6-.4h.6m-.5 0h.6m-.5-.1h.6m-.6 .1h.6m-.6 .1h.6m-.3-.2h.6m-.6-.1h.6m-.6 .6h.6m-.5-.2h.6m-.5-.2h.6m-.4 .5h.6m-.6 .1h.6m-.4-.7h.6m-.4 .3h.6m-.4 0h.6m-.5 .2h.6m-.5-.4h.6m-.6 0h.6m-.4 .5h.6m-.4-.5h.6m-.5 .5h.6m-.5-.4h.6m-.5-.3h.6m-.5-.1h.6m-.2 .6h.6m-.3-.7h.6m-.2 .5h.6m-.4-.5h.6m-.4 .2h.6m.1 .1h.6m-.2 .5h.6m-.2-.6h.6m-.4 .1h.6m-.6-.3h.6m.1 .8h.6m-64.6 .8h.6m.2 .3h.6m-.4-.2h.6m-.6-.2h.6m-.5 .4h.6m.1-.4h.6m-.2 .2h.6m-.4-.5h.6m-.5 .3h.6m-.4 .4h.6m-.5 0h.6m.5-.3h.6m-.6-.5h.6m-.5 .7h.6m-.5-.6h.6m-.5-.1h.6m-.5 .4h.6m.1 .3h.6m-.3-.5h.6m-.5 .4h.6m-.6-.6h.6m-.5 .3h.6m-.5-.2h.6m-.6 .2h.6m-.5-.2h.6m-.4 .2h.6m-.4-.2h.6m-.6 0h.6m-.5 .5h.6m-.5-.3h.6m-.4 0h.6m-.6 .4h.6m-.4-.5h.6m-.4 0h.6m-.6 .4h.6m-.5 .2h.6m-.5-.6h.6m-.4 0h.6m-.5-.3h.6m-.6 .1h.6m-.5 .5h.6m-.4-.4h.6m-.6 .6h.6m-.6-.8h.6m-.5 .1h.6m-.5-.1h.6m-.6 .5h.6m-.6-.2h.6m-.5-.2h.6m-.5 .8h.6m-.6 0h.6m-.5-.8h.6m-.6 .7h.6m-.5-.6h.6m-.4 .1h.6m-.4 .6h.6m-.6-.7h.6m-.5 .2h.6m-.6 .2h.6m-.6 .2h.6m-.6-.3h.6m-.6-.2h.6m-.5 .4h.6m-.6-.6h.6m-.3 .4h.6m-.5 .3h.6m-.3 0h.6m-.4-.2h.6m-.6-.1h.6m-.5-.3h.6m-.5 .1h.6m-.5 .4h.6m-.6-.1h.6m-.4-.2h.6m-.6-.1h.6m-.6-.2h.6m-.5-.1h.6m-.6 .4h.6m-.6-.4h.6m-.5 .9h.6m-.6-.8h.6m-.5 .8h.6m-.6-.6h.6m-.5 .6h.6m-.5-.4h.6m-.5-.4h.6m-.6 .5h.6m-.5 .2h.6m-.6-.4h.6m-.6 0h.6m-.6-.4h.6m-.6 .4h.6m-.5-.2h.6m-.5 0h.6m-.6 .2h.6m-.5-.3h.6m-.5 .5h.6m-.5 .3h.6m-.5-.7h.6m-.6-.2h.6m-.6 .6h.6m-.5-.4h.6m-.6 .2h.6m-.6-.4h.6m-.5 1h.6m-.6-.2h.6m-.4-.3h.6m-.6-.1h.6m-.6-.2h.6m-.5 .3h.6m-.6 .5h.6m-.5-.7h.6m-.5 .3h.6m-.6 .3h.6m-.6-.7h.6m-.5 .4h.6m-.6 .2h.6m-.6 .1h.6m-.5-.4h.6m-.5-.4h.6m-.5 .1h.6m-.6 0h.6m-.6 .5h.6m-.5-.1h.6m-.5-.4h.6m-.5 0h.6m-.5 .7h.6m-.6-.6h.6m-.6-.1h.6m-.6 .7h.6m-.6-.9h.6m-.5 .1h.6m-.6 .3h.6m-.5 .1h.6m-.5-.2h.6m-.5 .3h.6m-.5 .2h.6m-.6-.6h.6m-.6-.2h.6m-.6 .4h.6m-.5 .4h.6m-.5 .2h.6m-.6-.8h.6m-.5 .7h.6m-.5-.2h.6m-.6 0h.6m-.5-.5h.6m-.5 .7h.6m-.5-.1h.6m-.6 0h.6m-.3-.5h.6m-.6 .7h.6m-.5-.2h.6m-.6-.2h.6m-.6 .1h.6m-.4 .2h.6m-.5-.2h.6m-.6-.6h.6m-.5 .3h.6m-.6-.1h.6m-.5 .5h.6m-.4-.4h.6m-.5-.4h.6m-.6 .8h.6m-.4-.4h.6m-.5 .3h.6m-.6-.2h.6m-.4 .3h.6m-.5-.6h.6m-.5 .5h.6m-.6-.3h.6m-.4 .4h.6m-.5 0h.6m-.5-.4h.6m-.6-.1h.6m-.5-.2h.6m-.4 .4h.6m-.6 .1h.6m-.5-.3h.6m-.5-.1h.6m-.6 .5h.6m-.1 .1h.6m-.6-.5h.6m-.5 .6h.6m-.6-.4h.6m-.5 .2h.6m-.6-.4h.6m-.5 0h.6m-.5 .5h.6m-.3-.4h.6m-.6 .5h.6m-.4-.8h.6m-.6 .5h.6m-.5 .3h.6m-.4-.5h.6m-.6 .2h.6m-.4-.3h.6m-.2 .6h.6m-.5-.4h.6m-.6 0h.6m-.6 .1h.6m-.4 .1h.6m-.6-.4h.6m-.5 .5h.6m-.5-.7h.6m.1-.1h.6m-.5 .9h.6m-.6-.8h.6m-.5 .7h.6m-.6-.5h.6m-.5 .2h.6m-.5-.4h.6m-.6 .4h.6m0-.4h.6m-.6 .5h.6m-.4 0h.6m-.2-.4h.6m-.5 .2h.6m-.1-.1h.6m-.5 0h.6m-.4 0h.6m0 0h.6m-.6-.3h.6m-.3 .1h.6m0 .3h.6m-.2 0h.6m.3 .4h.6m0-.6h.6m-.1 .1h.6m.3 .2h.6m-.6-.5h.6m2 .4h.6m7.8 .5h.6m7.8-.2h.6m.4-.6h.6m-.5 .1h.6m.6 .8h.6m-.3-.4h.6m-.2-.5h.6m-.4 .9h.6m-.4-.1h.6m-.5-.1h.6m-.6 .1h.6m-.5-.7h.6m-.6 .6h.6m.2-.2h.6m-.5-.3h.6m-.5 .5h.6m-.6 0h.6m-.6-.4h.6m-.5-.3h.6m-.5 .5h.6m-.6-.3h.6m-.6 .1h.6m-.5-.4h.6m-.6 .3h.6m-.6-.2h.6m-.6 .7h.6m-.5 .1h.6m-.6-.3h.6m-.6-.1h.6m-.5-.4h.6m-.6 .6h.6m-.6 .3h.6m-.3-.7h.6m-.5 .4h.6m-.6 0h.6m-.6-.2h.6m-.5-.2h.6m-.6 .2h.6m-.5 .1h.6m-.6 .3h.6m-.5-.4h.6m-.4 .1h.6m-.5-.1h.6m-.6 .4h.6m-.5-.1h.6m-.5-.6h.6m-.6 0h.6m-.5 .2h.6m-.5 .2h.6m-.6-.1h.6m-.5 .1h.6m-.5-.6h.6m-.6 .7h.6m-.5-.4h.6m-.6-.1h.6m-.3-.1h.6m-.6 .5h.6m-.4-.5h.6m-.6 .5h.6m-.6 .2h.6m-.3-.7h.6m-.5 .1h.6m-.6 .5h.6m-.6-.1h.6m-.5-.4h.6m-.6 .3h.6m-.6 .2h.6m-.5-.3h.6m-.6-.2h.6m-.6-.1h.6m-.3 .6h.6m-.4-.7h.6m-.4 .3h.6m-.5 .5h.6m-.5-.2h.6m-.5 .3h.6m-.5-.1h.6m-.6-.4h.6m-.5 .1h.6m-.6-.1h.6m-.6 .3h.6m-.5 0h.6m-.5-.3h.6m-.6 0h.6m-.5-.1h.6m-.5 .2h.6m-.4-.3h.6m-.6 .5h.6m-.5-.2h.6m-.6 .3h.6m-.6-.1h.6m-.5 .2h.6m-.5-.4h.6m-.6 .1h.6m-.6-.4h.6m-.5 .1h.6m-.6 .3h.6m-.5 0h.6m-.3-.1h.6m-.6 .2h.6m-.6 .1h.6m-.6-.3h.6m-.5 .4h.6m-.4-.1h.6m-.5 .2h.6m-.6-.6h.6m-.6-.3h.6m-.5 .2h.6m-.4-.3h.6m-.6 .1h.6m-.3 .2h.6m-.5 .6h.6m-.6 .1h.6m-.6-.7h.6m-.5 .6h.6m-.5-.7h.6m-.1 .6h.6m-.5-.2h.6m-.5-.5h.6m-.4 .4h.6m-.6 .1h.6m-.2-.4h.6m.9 .8h.6m-.5-.5h.6m0 .3h.6m4.5-.7h.6m-70.2 1.5h.6m.1-.2h.6m.8-.3h.6m.8 .7h.6m-.4-.7h.6m-.4 .3h.6m.1 .1h.6m-.3 .2h.6m-.3-.3h.6m-.4-.1h.6m-.5 .3h.6m-.4 .3h.6m-.1-.7h.6m-.5 0h.6m-.5 0h.6m-.6 .1h.6m-.5 .4h.6m-.5-.3h.6m-.3 .4h.6m-.6-.2h.6m0-.3h.6m-.4-.1h.6m-.6 .2h.6m-.5 .3h.6m-.5-.6h.6m-.6-.1h.6m-.5 .2h.6m-.5 .7h.6m.2-.4h.6m-.3-.3h.6m-.5 .5h.6m-.6-.1h.6m-.6-.5h.6m-.5 .4h.6m-.5 .3h.6m-.4-.1h.6m-.5-.5h.6m-.6 0h.6m-.6 .4h.6m-.1-.1h.6m-.5-.5h.6m-.6 .9h.6m-.4-.1h.6m-.3 0h.6m-.6-.2h.6m-.4-.1h.6m-.5 .2h.6m-.5-.3h.6m-.4 .3h.6m-.5-.7h.6m-.4 .3h.6m-.6 .5h.6m-.4 0h.6m-.6 .1h.6m-.6-.9h.6m-.5 .2h.6m-.4 .5h.6m-.5 .3h.6m-.5-.3h.6m-.4-.2h.6m-.5 0h.6m-.5 0h.6m-.5 .4h.6m-.4-.8h.6m-.6 .1h.6m-.4 .8h.6m-.6-.3h.6m-.5-.3h.6m-.6 .4h.6m-.6-.7h.6m-.5 .4h.6m-.4 .1h.6m-.6-.1h.6m-.5-.4h.6m-.5 0h.6m-.6-.1h.6m-.5 .8h.6m-.5-.5h.6m-.5 .5h.6m-.6-.1h.6m-.6 .1h.6m-.5 .1h.6m-.5-.8h.6m-.6-.1h.6m-.4 .6h.6m-.6-.6h.6m-.6 .2h.6m-.5 .7h.6m-.1-.2h.6m-.5-.5h.6m-.5 .4h.6m-.6 0h.6m-.5 0h.6m-.5 .1h.6m-.6-.4h.6m-.3 .3h.6m-.5-.2h.6m-.5-.1h.6m-.6-.1h.6m-.6 .7h.6m-.5 .1h.6m-.5-.8h.6m-.5 .4h.6m-.5 .1h.6m-.6-.2h.6m-.6-.4h.6m-.6 .2h.6m-.6 .4h.6m-.5-.3h.6m-.5 .6h.6m-.3-.6h.6m-.5-.3h.6m-.5 0h.6m-.5 .5h.6m-.5-.5h.6m-.6 .7h.6m-.5 .2h.6m-.5-.8h.6m-.5 .7h.6m-.6-.6h.6m-.5-.3h.6m-.5 .9h.6m-.5-.9h.6m-.6 .1h.6m-.5 .4h.6m-.4-.2h.6m-.2 .4h.6m-.6-.7h.6m-.4 .3h.6m-.6 .1h.6m-.6-.4h.6m-.6 0h.6m-.5 .9h.6m-.6-.4h.6m-.5-.1h.6m-.4 .4h.6m-.5-.6h.6m-.6 .7h.6m-.5-.7h.6m-.6 0h.6m-.5 0h.6m-.5 .8h.6m-.6-.7h.6m-.5 .2h.6m-.6 .5h.6m-.5-.8h.6m-.6 .3h.6m-.4-.4h.6m-.4 .2h.6m-.3 .3h.6m-.3-.6h.6m-.4 0h.6m-.3 .3h.6m-.6 .3h.6m-.4-.6h.6m-.6 .5h.6m-.4 .5h.6m-.4 0h.6m-.4-.9h.6m-.5 .8h.6m-.6-.7h.6m-.5 .2h.6m-.5-.3h.6m-.4 .4h.6m0-.3h.6m-.5 .1h.6m-.6-.2h.6m.2 0h.6m-.5 .5h.6m0-.5h.6m-.1 .4h.6m-.6 0h.6m-.4 .2h.6m-.5-.6h.6m-.5 .3h.6m-.6 .1h.6m-.5 .5h.6m-.4-.9h.6m.7 .5h.6m1.3 .2h.6m16.6 .1h.6m1.6-.2h.6m.4-.4h.6m.7 .3h.6m-.4 .1h.6m-.4-.4h.6m-.4 .7h.6m-.3-.4h.6m-.5-.4h.6m-.6 .7h.6m-.5-.4h.6m-.4-.3h.6m-.6 0h.6m-.4 .7h.6m-.3-.6h.6m-.2-.1h.6m-.6-.1h.6m-.5 .4h.6m-.3 .2h.6m-.3-.4h.6m-.6-.2h.6m-.3-.1h.6m-.5 0h.6m-.5 .4h.6m-.6-.2h.6m-.4 0h.6m-.4-.1h.6m-.5 0h.6m-.6 .6h.6m-.4-.4h.6m-.6 .5h.6m-.2-.3h.6m-.5-.4h.6m-.6 .1h.6m-.5 .7h.6m-.6-.8h.6m-.5 .1h.6m-.4 0h.6m-.6 .6h.6m-.6-.4h.6m-.5 0h.6m-.6 .1h.6m-.5 0h.6m-.5-.1h.6m-.6 0h.6m-.5 .3h.6m-.4 .3h.6m-.5-.6h.6m-.6-.3h.6m-.5 .6h.6m-.6 .2h.6m-.6-.2h.6m-.5-.3h.6m-.6 .1h.6m-.6-.5h.6m-.5 .5h.6m-.6-.4h.6m-.6 .9h.6m-.6-.3h.6m-.6-.5h.6m-.5 .7h.6m-.6-.8h.6m-.6-.1h.6m-.5 .7h.6m-.5-.1h.6m-.6 .2h.6m-.5 .1h.6m-.5-.3h.6m-.6-.2h.6m-.5-.3h.6m-.4 0h.6m-.6 .6h.6m-.5-.1h.6m-.5-.4h.6m-.4 .7h.6m-.4 .1h.6m-.5-.1h.6m-.3-.8h.6m-.6 .5h.6m-.6 0h.6m-.6-.1h.6m.1 .2h.6m-.3-.4h.6m-.5 .1h.6m-.4 .2h.6m-.5 .3h.6m-.6-.5h.6m-.5-.2h.6m0 .6h.6m-.6-.2h.6m-.5-.5h.6m-.3 .9h.6m0-.4h.6m-.4-.1h.6m-.6 .5h.6m.3-.5h.6m-.4 .4h.6m-.6-.2h.6m-.4 .3h.6m-.6-.2h.6m.2-.2h.6m-.2 .3h.6m.5-.6h.6m-.3 .2h.6m-69.3 1h.6m-.5 0h.6m.6-.1h.6m1.3 0h.6m.8-.1h.6m.1 .1h.6m-.5-.2h.6m-.4 .2h.6m-.6 .3h.6m0-.2h.6m-.6 .2h.6m0 .1h.6m-.1-.7h.6m-.4 .7h.6m-.6-.5h.6m-.3 .2h.6m-.2 .3h.6m-.2 .1h.6m-.5-.9h.6m-.5 .7h.6m-.6-.6h.6m-.5 .7h.6m-.6-.1h.6m-.6-.1h.6m-.4 .3h.6m-.5-.1h.6m-.5-.7h.6m-.6-.1h.6m-.5 .8h.6m0-.6h.6m-.3 .7h.6m-.1-.5h.6m-.4 .3h.6m-.3 0h.6m-.6 0h.6m-.5 0h.6m-.6-.1h.6m-.4 .1h.6m-.6 .1h.6m-.5-.7h.6m-.5 .7h.6m-.6 0h.6m-.5-.8h.6m-.6 .9h.6m-.6-.8h.6m-.5 .7h.6m-.4-.7h.6m-.4 .6h.6m-.6 .3h.6m-.4-.8h.6m-.5 .4h.6m-.6 .1h.6m-.5-.1h.6m-.5-.4h.6m-.5 .7h.6m-.6-.8h.6m-.6 .2h.6m-.4 0h.6m-.5 0h.6m-.5-.2h.6m-.5 .3h.6m-.6 .6h.6m-.6-.7h.6m-.5 .5h.6m-.6 0h.6m-.5-.5h.6m-.4 0h.6m-.6 .6h.6m-.4-.7h.6m-.6 .5h.6m-.5-.3h.6m-.5 .5h.6m-.6-.4h.6m-.5-.1h.6m-.6 .1h.6m-.5-.2h.6m-.2 .3h.6m-.5 .1h.6m-.5-.7h.6m-.5 .9h.6m-.3-.3h.6m-.5 0h.6m-.4 .3h.6m-.4-.1h.6m-.3 0h.6m-.5-.2h.6m-.4-.5h.6m-.4 .1h.6m-.5-.1h.6m-.6 .6h.6m-.4-.6h.6m-.5 .3h.6m-.5 .2h.6m-.6 .1h.6m-.5 .1h.6m-.4-.5h.6m-.5-.1h.6m-.5 .2h.6m-.6-.2h.6m-.5-.1h.6m-.4 .2h.6m-.6 .1h.6m-.5-.2h.6m-.4 .5h.6m-.6 .2h.6m-.5-.9h.6m-.6 .1h.6m-.5 .6h.6m-.3-.2h.6m-.4-.5h.6m-.5 .6h.6m-.5-.2h.6m-.5 .1h.6m-.6 .1h.6m-.6 .3h.6m-.6-.4h.6m-.4-.1h.6m-.6 .5h.6m-.4 0h.6m-.6-.2h.6m-.5 0h.6m-.5-.6h.6m-.3 0h.6m-.6 .5h.6m-.4 .1h.6m-.5-.7h.6m-.6 .6h.6m-.2 .1h.6m-.5 .1h.6m.1-.6h.6m-.5 .3h.6m-.5 .3h.6m-.4 0h.6m-.6-.5h.6m-.4-.3h.6m-.4 .1h.6m-.5 .4h.6m-.4-.3h.6m-.6-.1h.6m-.6 .8h.6m-.3 0h.6m-.5-.6h.6m-.5 .3h.6m-.6 .2h.6m-.4-.5h.6m-.4-.1h.6m.1 .2h.6m-.2-.3h.6m-.6 .4h.6m-.5-.3h.6m0 .7h.6m.1-.6h.6m-.5 .6h.6m.2-.7h.6m-.6 .5h.6m.8 .3h.6m4.1-.3h.6m.8-.5h.6m15.2 .4h.6m.1 .3h.6m1.5-.1h.6m-.5-.2h.6m.9-.5h.6m-.4 .5h.6m-.2-.5h.6m-.6 0h.6m-.3 .9h.6m-.6-.9h.6m-.6 0h.6m-.3 .1h.6m-.4 .5h.6m-.3-.3h.6m-.6-.3h.6m-.4 0h.6m-.5 .6h.6m-.5-.6h.6m-.4-.1h.6m-.3 .9h.6m-.6-.7h.6m-.6 .3h.6m-.5-.4h.6m-.5 .1h.6m-.3 .2h.6m-.6-.2h.6m-.5 .3h.6m-.5 0h.6m-.5-.3h.6m-.6 .6h.6m-.5 .1h.6m-.6-.3h.6m-.4-.3h.6m-.5-.2h.6m-.6 .3h.6m-.5 .3h.6m-.6 0h.6m-.6 .1h.6m-.6-.2h.6m-.6-.5h.6m-.1 0h.6m-.5 .3h.6m-.6-.1h.6m-.6 .4h.6m-.5 0h.6m-.5-.1h.6m-.5-.2h.6m-.5 .1h.6m-.6-.4h.6m-.5 0h.6m-.6 .6h.6m-.6-.6h.6m-.6 .9h.6m-.5-.4h.6m-.6-.6h.6m-.5 .7h.6m-.5 0h.6m-.6-.6h.6m-.3 .5h.6m-.5 .2h.6m-.6 .1h.6m-.6-.5h.6m-.3 .6h.6m-.5-.7h.6m-.6 .4h.6m-.6-.5h.6m-.6 .2h.6m-.5-.2h.6m-.6-.1h.6m-.5 .9h.6m-.5-.3h.6m-.6 0h.6m-.6-.6h.6m-.5 0h.6m-.5 .6h.6m-.4-.4h.6m-.5 0h.6m-.6 .4h.6m-.5 0h.6m-.5-.2h.6m-.6 .5h.6m-.4-.3h.6m-.5 .1h.6m-.1-.5h.6m-.6 .1h.6m-.5-.3h.6m-.6-.1h.6m-.5 .2h.6m-.5-.1h.6m-.6 .8h.6m-.3-.6h.6m-.4 .4h.6m-.3-.6h.6m-.6 .3h.6m-.5-.3h.6m-.5-.1h.6m-.5 .3h.6m-.6-.2h.6m-.4 .8h.6m-.4-.3h.6m-.6-.6h.6m-.3 .9h.6m-.1-.4h.6m-.5 .4h.6m.4-.2h.6m-.6-.6h.6m-.3 .7h.6m.7-.2h.6m-70.5 .8h.6m5.4 0h.6m-.2-.3h.6m0 .1h.6m-.4 .4h.6m.1 0h.6m.4 .2h.6m-.1 .2h.6m-.2-.8h.6m-.1 .4h.6m-.3-.3h.6m-.5 .1h.6m-.4 .4h.6m.9-.4h.6m-.4 .3h.6m-.6 0h.6m-.5-.3h.6m-.3 .1h.6m-.3 .3h.6m-.3-.2h.6m-.3 0h.6m-.4-.3h.6m-.3 .1h.6m-.6-.1h.6m-.2 .1h.6m-.5-.3h.6m-.6 .7h.6m-.5 .2h.6m-.5-.2h.6m-.5 0h.6m-.5 .2h.6m-.4-.8h.6m-.4 .1h.6m-.5-.2h.6m-.5 .4h.6m-.6 .4h.6m-.6-.7h.6m-.6 .2h.6m-.3-.4h.6m-.4 0h.6m-.5 .1h.6m-.6 .6h.6m-.5 0h.6m-.6 .2h.6m-.3-.2h.6m-.6 .1h.6m-.4-.3h.6m-.6-.2h.6m-.5 .2h.6m-.5-.4h.6m-.5 .6h.6m-.6-.4h.6m-.4 .4h.6m-.6-.4h.6m-.6-.1h.6m-.4 0h.6m-.4 .6h.6m-.5 .2h.6m-.5-.1h.6m-.6-.6h.6m-.5 0h.6m-.5 0h.6m-.6-.2h.6m-.6 .2h.6m-.4 .2h.6m0 .3h.6m-.6-.7h.6m-.6-.1h.6m-.5 .4h.6m-.6-.1h.6m-.3-.3h.6m-.3 0h.6m.3 .6h.6m-.6-.2h.6m-.4-.3h.6m-.4 0h.6m-.2 .1h.6m.1-.2h.6m-.3 .3h.6m.2-.2h.6m-.6 .3h.6m-.6-.1h.6m1.2 .1h.6m-.5 .2h.6m-.5-.1h.6m-.6-.1h.6m-.5 .1h.6m-.6-.1h.6m-.4 0h.6m-.5-.1h.6m-.3 .3h.6m-.4-.6h.6m-.6 .3h.6m-.3-.2h.6m.3 .1h.6m-.3 .3h.6m.3 .4h.6m-.1-.5h.6m-.3-.3h.6m1.7 .7h.6m1.6-.1h.6m15.3-.1h.6m2.8 .1h.6m.6 .3h.6m.1-.2h.6m0-.7h.6m-.1 .2h.6m-.6-.2h.6m0 .1h.6m-.4-.1h.6m-.4 .5h.6m-.6 .2h.6m-.4-.4h.6m-.4 .4h.6m-.5-.7h.6m-.3 .1h.6m-.5 .2h.6m-.6 .2h.6m-.5-.2h.6m-.6 .2h.6m-.5 .1h.6m-.5 0h.6m-.6-.5h.6m-.6 .4h.6m-.4 .2h.6m-.6 .2h.6m-.6-1h.6m-.5 .4h.6m-.6 .4h.6m-.3-.4h.6m-.5 .5h.6m-.3-.8h.6m-.6 .8h.6m-.5-.1h.6m-.5-.1h.6m-.6-.3h.6m-.4-.2h.6m-.4 .6h.6m-.5-.8h.6m-.6 .6h.6m-.4 .2h.6m-.3-.2h.6m-.6-.5h.6m-.5 .3h.6m-.5 .2h.6m-.6-.5h.6m-.4 .3h.6m-.4 .5h.6m-.5-.3h.6m-.5 0h.6m-.5-.3h.6m-.5 0h.6m-.4 .3h.6m-.5 .4h.6m-.6-.7h.6m-.6-.1h.6m-.5 .7h.6m-.6-.8h.6m-.6 .8h.6m-.5-.8h.6m-.5-.1h.6m-.6 .9h.6m-.5-.5h.6m-.5 .4h.6m-.6-.7h.6m-.5 .3h.6m-.5 .4h.6m-.6-.1h.6m-.5-.2h.6m-.5-.1h.6m-.2 .4h.6m-.6 .2h.6m-.6-.9h.6m-.5 .9h.6m-.5-1h.6m-.6 .9h.6m-.5-.1h.6m-.5 .1h.6m-.6-.8h.6m-.4 .4h.6m-.6 .2h.6m-.5-.6h.6m-.6 .9h.6m-.2-.7h.6m-.4 .5h.6m-.5-.5h.6m-.5 .3h.6m-.6-.2h.6m-.5 0h.6m-.4 .3h.6m-.4 .2h.6m-.6-.8h.6m-.6 .6h.6m-.4-.5h.6m-.4-.1h.6m-.6 0h.6m-.6 .3h.6m-.5 .1h.6m-.6-.1h.6m-.5 0h.6m-.1 .6h.6m-.5-.7h.6m-.4-.2h.6m-.5 .1h.6m-.3 .1h.6m-.6 .5h.6m-.6 0h.6m-.2-.3h.6m-.5-.4h.6m-.4 .5h.6m-.2-.2h.6m.2-.3h.6m-.2 .8h.6m-68.5 .5h.6m.9 .4h.6m3.1 .1h.6m.6-.6h.6m.1 .3h.6m.4 .1h.6m-.4-.6h.6m-.5 .7h.6m-.4-.4h.6m-.5-.3h.6m.8 .6h.6m.5-.1h.6m.1 .1h.6m-.5-.2h.6m-.6 .5h.6m-.4-.9h.6m-.4 .1h.6m-.6 .1h.6m-.5 .3h.6m-.6 .1h.6m-.5-.7h.6m-.5 .4h.6m-.2-.2h.6m1-.1h.6m-.4 .3h.6m-.4-.2h.6m.2 .2h.6m-.1-.2h.6m-.4 .6h.6m-.1-.2h.6m-.3-.5h.6m-.1 .4h.6m-.5-.2h.6m-.2 .2h.6m-.5-.3h.6m-.1 .1h.6m.3-.2h.6m-.5 .5h.6m-.6 .3h.6m-.4-.7h.6m-.6 .3h.6m-.3-.1h.6m-.5 .6h.6m.1-.8h.6m-.3-.2h.6m-.6 .3h.6m-.6 .5h.6m-.3 0h.6m-.3 0h.6m0-.2h.6m.6 0h.6m0-.5h.6m-.6 .8h.6m-.1-.3h.6m8.2-.1h.6m19.7 .4h.6m-.1-.1h.6m-.1-.3h.6m-.3-.1h.6m-.2 .6h.6m-.6-.5h.6m-.6 .1h.6m-.3-.4h.6m-.2 .5h.6m-.5 .2h.6m-.5-.6h.6m-.6-.3h.6m-.5 .5h.6m-.4-.2h.6m-.3 .6h.6m-.6-.6h.6m-.5-.1h.6m-.4-.1h.6m-.6 .8h.6m-.6-.4h.6m-.6-.2h.6m-.6 0h.6m-.5 .6h.6m-.2 .1h.6m-.5-.7h.6m-.5 .4h.6m-.6-.7h.6m-.4 .7h.6m-.3 .2h.6m-.5-.9h.6m-.5 .6h.6m-.6 0h.6m-.3-.2h.6m-.6-.3h.6m-.6 0h.6m-.6 .4h.6m-.1 .2h.6m-.5-.5h.6m-.5 .7h.6m-.2-.8h.6m-.4 .2h.6m-.6 .3h.6m-.5-.3h.6m-.5 .1h.6m-.6 .5h.6m-.4-.2h.6m-.6-.4h.6m-.5-.1h.6m-.6-.2h.6m-.4 .2h.6m-.6 .7h.6m-.5-.2h.6m-.6-.6h.6m-.4 .2h.6m-.2 .6h.6m-.6-.1h.6m-.4-.3h.6m-.6 .4h.6m-.6 0h.6m-.5-.2h.6m-.1-.3h.6m-.6-.3h.6m-.5 .8h.6m-.6-.7h.6m-.4 .2h.6m-.3 .1h.6m-.4 .4h.6m-.3 0h.6m0-.1h.6m.2 .1h.6m-.6-.3h.6m-.5 .4h.6m-.4-.5h.6m-.5 0h.6m-.2-.2h.6m-.5 0h.6m-.5 .6h.6m-.1-.5h.6m-.5 .3h.6m-63.9 1.2h.6m.9-.6h.6m.3 .4h.6m-.4-.1h.6m-.6 .1h.6m.1 .1h.6m.2 0h.6m-.3-.2h.6m-.3 0h.6m-.6 .3h.6m-.2-.1h.6m-.2-.7h.6m0 .6h.6m-.1-.7h.6m-.4 .6h.6m-.5-.5h.6m-.5 .3h.6m-.4 .2h.6m-.6 .3h.6m-.4-.2h.6m-.6 .1h.6m-.1-.3h.6m.4-.3h.6m-.5 .6h.6m0-.5h.6m-.2-.2h.6m-.5 .4h.6m-.2-.3h.6m-.3-.1h.6m-.4 0h.6m-.5 .4h.6m-.1 .4h.6m-.4-.4h.6m-.4 0h.6m.3-.3h.6m-.4 .6h.6m-.5 0h.6m1-.5h.6m.6 .6h.6m-.4-.2h.6m-.5-.6h.6m-.5-.1h.6m-.5 .4h.6m.3 0h.6m-.5-.3h.6m-.4 .3h.6m-.4-.4h.6m.1 .6h.6m-.5 .1h.6m.1-.3h.6m-.3 .1h.6m2.3 .4h.6m24-.1h.6m-.3-.8h.6m-.6 .1h.6m.4 .8h.6m.5-.7h.6m0-.1h.6m.4 .4h.6m-.3 .2h.6m-.4-.4h.6m-.3 0h.6m-.6-.3h.6m-.6 .8h.6m-.4-.1h.6m-.6-.6h.6m-.5 .3h.6m-.5 .5h.6m-.3-.7h.6m-.6 0h.6m-.5 .4h.6m-.5-.4h.6m-.2 .7h.6m-.5-.9h.6m-.5 .1h.6m-.4 .2h.6m-.2-.2h.6m-.5 .7h.6m-.6-.3h.6m-.6-.4h.6m-.5 .2h.6m-.5 .5h.6m-.4-.8h.6m-.5 .6h.6m-.4-.2h.6m-.5 .3h.6m-.5-.3h.6m-.5-.3h.6m-.6 .7h.6m-.5-.5h.6m-.5-.1h.6m-.3 .6h.6m-.5 0h.6m-.6-.1h.6m-.6-.1h.6m-.5-.2h.6m-.6 .5h.6m-.6 0h.6m-.6-.5h.6m-.2 .5h.6m-.6-.7h.6m-.4 .1h.6m-.4 .7h.6m-.4-.9h.6m-.4 .6h.6m-.4-.6h.6m-.4 .8h.6m-.6-.5h.6m-.2-.2h.6m-.6-.1h.6m-.5 0h.6m-.4-.1h.6m-.4 .2h.6m-.4 .7h.6m-.6-.7h.6m-.5 .7h.6m-.6-.3h.6m-.6-.4h.6m-.4 .7h.6m-.6 0h.6m-.1-.6h.6m-.4 .3h.6m-.2 .1h.6m0-.1h.6m-.6-.2h.6m-.2 .1h.6m-.5-.1h.6m-.5-.2h.6m-.5-.1h.6m-.6 0h.6m2.1 .3h.6m-.4-.3h.6m-65.9 1h.6m1.4 .5h.6m.5-.3h.6m.9 .2h.6m-.4-.5h.6m-.4 1h.6m.9-.8h.6m-.3 .2h.6m1.6 0h.6m-.4 .5h.6m-.2-.9h.6m.3 .6h.6m.6 0h.6m-.5-.1h.6m-.6 .3h.6m-.4-.4h.6m-.3-.1h.6m-.4 .6h.6m-.1 .1h.6m0-.6h.6m-.3-.2h.6m-.5 .4h.6m-.6 .2h.6m.3-.6h.6m.1 .3h.6m-.3 .3h.6m-.4-.8h.6m.6 .4h.6m-.4-.1h.6m-.6 .5h.6m.6 .2h.6m.5-.5h.6m.5-.4h.6m27.9 .4h.6m1.7 .4h.6m-.3-.2h.6m-.6 .2h.6m.5-.1h.6m-.5-.4h.6m-.5-.1h.6m-.5 .6h.6m-.2-.9h.6m-.6 .7h.6m-.2 .2h.6m-.2-.8h.6m-.6 .4h.6m-.4 .1h.6m-.6-.5h.6m-.5 0h.6m.2 .5h.6m-.4 .3h.6m-.1-.7h.6m-.3-.2h.6m-.6 .6h.6m-.5 0h.6m-.5 0h.6m-.6-.4h.6m-.5 .4h.6m-.6-.6h.6m-.5 .3h.6m-.5 .5h.6m-.4-.6h.6m-.5 .7h.6m-.3-.6h.6m-.6 .2h.6m-.5-.4h.6m-.4 .2h.6m-.4 .2h.6m-.6-.3h.6m-.4-.1h.6m-.6 .5h.6m-.6-.2h.6m-.6 0h.6m-.4-.1h.6m-.6 .4h.6m-.5-.4h.6m-.6 .5h.6m-.5-.1h.6m-.2-.2h.6m-.4 .4h.6m-.3-.8h.6m-.5 .8h.6m.1-.2h.6m-.4-.3h.6m-.6 .2h.6m-.6 0h.6m-.4 .4h.6m-.3-.3h.6m-.5 .3h.6m-.5-.5h.6m-.5 .3h.6m-.5 .1h.6m-.4 0h.6m-.1-.6h.6m-.5 .5h.6m-.3-.4h.6m0 .4h.6m-57.3 .2h.6m3.9 1h.6m.6-1h.6m-.4 .4h.6m1.5-.3h.6m1.1 .4h.6m.8-.5h.6m-.4 .3h.6m.9 0h.6m12.1-.1h.6m7.5 .1h.6m4.1 0h.6m6.1-.3h.6m.6 .3h.6m-.6 .4h.6m0-.1h.6m-.6-.1h.6m-.3 0h.6m-.5-.1h.6m-.4 .3h.6m-.2-.4h.6m-.5 .4h.6m-.5-.5h.6m-.4 .4h.6m-.6-.2h.6m-.6 .4h.6m-.5-.3h.6m-.6-.1h.6m-.6 0h.6m-.5 .2h.6m-.4 .2h.6m-.3-.2h.6m-.5 .3h.6m-.5-.2h.6m-.3 0h.6m-.6-.1h.6m-.3-.5h.6m-.5 .2h.6m-.5 .5h.6m-.3-.7h.6m-.6 0h.6m-.5 .2h.6m-.5 .5h.6m-.6-.2h.6m-.1 .3h.6m-.5-.1h.6m-.3-.2h.6m-.3-.5h.6m-.3 .1h.6m.2 .8h.6m-.6-.3h.6m.6-.6h.6m.4 .3h.6m-.6 .4h.6m-.4-.5h.6m-.6 .6h.6m-.5-.2h.6m-.2 .2h.6m.6-.1h.6m0-.5h.6m-59.7 1.1h.6m1.3 .2h.6m1.4 .3h.6m4.1 0h.6m1 .1h.6m5.3-.1h.6m24.1 0h.6m4.2 .1h.6m.5-.1h.6m1.4-.5h.6m-.6 .2h.6m-.2 .2h.6m0-.4h.6m.3-.1h.6m-.4 .3h.6m-.5-.5h.6m-.5 .5h.6m-.5-.4h.6m-.3 .4h.6m-.6 .3h.6m-.1-.6h.6m-.5 .5h.6m.2-.3h.6m-.2 .1h.6m-.5 .3h.6m-.5 0h.6m-.6-.2h.6m.1-.6h.6m-.6 0h.6m-.2 .5h.6m.4 .4h.6m-.5-.5h.6m.1-.2h.6m-.2 .4h.6m.3 .1h.6m-53.5 .3h.6m.4 .5h.6m2.4-.4h.6m-.3 .3h.6m28-.4h.6m6 .1h.6m3.1-.1h.6m.1 .7h.6m.3-.2h.6m-.1 .3h.6m-.6-.5h.6m.2 .4h.6m0-.7h.6m-.4 .8h.6m-.2-.4h.6m-.1 .5h.6m-.5-.2h.6m-.3 .1h.6m-.3-.9h.6m-.5 .4h.6m-.4 .4h.6m-.2-.8h.6m.2 .6h.6m-.4-.1h.6m-.3-.2h.6m-.3 .7h.6m-.3-.5h.6m-.5 .4h.6m-.2-.9h.6m-.5 .7h.6m0 .2h.6m2.8-.1h.6m-56.6 1.1h.6m8.3-.7h.6m34.8 .5h.6m-.6-.5h.6m1.1 .7h.6m-.5-.7h.6m-.6 0h.6m.1 .2h.6m0 .4h.6m-.5 .2h.6m-.4 0h.6m.5-.7h.6m-.3 .1h.6m.8 .4h.6m-.3 0h.6m-.5-.1h.6m0 0h.6m-.5-.6h.6m-.2 0h.6m-.2 .9h.6m-.6-.5h.6m.2-.4h.6m0 .6h.6m-13.8 1.1h.6m1.5-.2h.6m-.2 .2h.6m-.5-.5h.6m.8 .2h.6m.6 .4h.6m0-.1h.6m.8 .1h.6m.2-.6h.6m-.6 .1h.6m.2 .2h.6m4.5 .1h.6m-14.6 .4h.6m4.2-.1h.6m.2 .4h.6m1.1 .1h.6m-.4-.5h.6m-.6 .7h.6m.7-.1h.6m.3 0h.6m-.4-.2h.6m1.8-.3h.6" stroke="#7A4266" stroke-width=".6" stroke-opacity=".38" fill="none"/>
<path d="M215.2 625.3h.5m88.3-.5h.5m-32.4 19.7h.5m-27.9 8.3h.5m21.5 1.1h.5m2.6 .2h.5m-16.2 1.2h.5m15.7-.5h.5m-29.3 1.7h.5m25.8 .8h.5m5.9-.7h.5m3.2 .2h.5m-14.8 1.6h.5m9.6-.5h.5m.5-.4h.5m-2 2h.5m13.3-.8h.5m-21.3 1.8h.5m7-.1h.5m-33.5 .5h.5m7.1 .3h.5m1.4 .2h.5m19.2-.4h.5m4.9 .4h.5m1.7-.5h.5m4.9 .6h.5m6.2-.6h.5m-71.7 1.5h.5m10.5-.2h.5m2.1-.2h.5m9.3-.3h.5m3.2-.1h.5m20.1 .7h.5m2.2-.2h.5m.8 .4h.5m4.1-.7h.5m4.9 .4h.5m-.1-.1h.5m.9-.1h.5m-49.6 1.3h.5m1.8-.6h.5m6.8-.2h.5m.6 .9h.5m-.3-.1h.5m28.1-.5h.5m.9-.1h.5m5.5 0h.5m2.5 .3h.5m-60.2 1.2h.5m12.1-.2h.5m4 .4h.5m.5-.3h.5m2.9-.3h.5m.9 .4h.5m2.4-.5h.5m.1-.1h.5m-.1 .8h.5m21-.2h.5m.8-.2h.5m10 .4h.5m-60.1 1h.5m4.8-.2h.5m4-.4h.5m4.8 .2h.5m8.6-.1h.5m5.2 .1h.5m9.4-.1h.5m6.5 0h.5m1.1 .4h.5m4.5 .1h.5m.4 .1h.5m.4-.9h.5m-58.5 1.8h.5m3.2-.7h.5m4.3 .6h.5m.6-.2h.5m2 .3h.5m0-.2h.5m3.3-.5h.5m.3 .7h.5m1.5-.5h.5m2.8 .3h.5m2.7-.5h.5m12 0h.5m5.2 .2h.5m.2-.3h.5m0 .6h.5m11.8 .2h.5m1.4-.9h.5m.1 .9h.5m3.3-.2h.5m-58.6 .5h.5m1.1 .6h.5m-.5-.7h.5m-.4 0h.5m1.2 .5h.5m-.3 .2h.5m1.3-.4h.5m-.4-.1h.5m-.5 .3h.5m.6-.2h.5m-.3-.1h.5m3.1 .3h.5m.9 .2h.5m1.3-.6h.5m.2-.1h.5m1.2 .4h.5m20.1-.4h.5m2.9 .2h.5m.3 .5h.5m2-.4h.5m.8 .3h.5m2.1 .1h.5m-.5 .1h.5m0 0h.5m.6-.8h.5m1.6 .3h.5m1.5 .2h.5m1.9 .3h.5m7.1 0h.5m-81 .9h.5m7.9-.8h.5m7.3 .3h.5m3.9 .6h.5m.3-.6h.5m5.7 .2h.5m.9-.1h.5m24.2 .6h.5m9-.7h.5m1 0h.5m1.4 .1h.5m0 .5h.5m-.4-.7h.5m4.5 .1h.5m1.6 .2h.5m0-.5h.5m-65.4 1.7h.5m5.1-.3h.5m3.5 .3h.5m1.3-.2h.5m2.9-.1h.5m0 .2h.5m2.2-.4h.5m2.8 .1h.5m.2 .2h.5m-.2-.1h.5m0 .3h.5m-.4-.2h.5m1.7-.2h.5m.5 .7h.5m-.3-.9h.5m1.9 .5h.5m.1-.5h.5m2.1 0h.5m4.2 .6h.5m10.9-.2h.5m.7 0h.5m.6 0h.5m3.1 .4h.5m.9-.4h.5m-.4-.3h.5m1.6 0h.5m2.3 .2h.5m-55.4 1.3h.5m6.6-.7h.5m-.1 .2h.5m-.2 .4h.5m.9 .3h.5m-.3-.4h.5m1.7 .3h.5m-.1-.3h.5m2.5-.1h.5m3.8-.4h.5m2.8 .8h.5m1.9-.5h.5m3.7 .6h.5m11-.6h.5m2.7 .4h.5m3.8 .1h.5m.1-.5h.5m.9 .1h.5m.2-.1h.5m.8 .3h.5m1.8 .1h.5m-.3-.7h.5m7.3 .9h.5m-68.3 .1h.5m4.7 .8h.5m2.9-.6h.5m.2 .7h.5m2.5-.1h.5m2.4-.6h.5m-.4-.2h.5m.9 .4h.5m0 .1h.5m-.4 .4h.5m-.1 0h.5m-.4-.5h.5m.1 .3h.5m-.3 .3h.5m-.1-1h.5m1.3 .9h.5m-.2-.8h.5m-.3 .8h.5m-.3-.7h.5m-.3 .2h.5m-.3 .5h.5m1.5-.4h.5m.7-.3h.5m-.3 .4h.5m.2 .3h.5m2.6 .1h.5m0-.3h.5m1.1 .2h.5m.5-.7h.5m15.3 .7h.5m1.8-.6h.5m3.3 .5h.5m1.1 .2h.5m1.7-.6h.5m7.3-.2h.5m2.6 .5h.5m-72.9 1.2h.5m1.3-.5h.5m3.9 .1h.5m-.3 0h.5m3 .5h.5m-.3-.1h.5m6.4 0h.5m0-.9h.5m-.4 .9h.5m-.3 0h.5m-.1-.1h.5m.4-.5h.5m-.2-.3h.5m1.7 .1h.5m.4 .5h.5m-.5 0h.5m-.3-.1h.5m.2 .4h.5m.5-.2h.5m0-.1h.5m1 .2h.5m2.3-.3h.5m.1 .1h.5m-.3 .2h.5m.3-.3h.5m3.3-.1h.5m6.3-.2h.5m5.4 .5h.5m4.7-.7h.5m1.6 .5h.5m4.2-.1h.5m.1 .2h.5m.9-.3h.5m0-.2h.5m.9 0h.5m1.3 .3h.5m.5-.3h.5m-72.7 1h.5m12.3 .2h.5m1.7 .4h.5m.7-.1h.5m-.4-.4h.5m.7 .2h.5m-.3 .5h.5m-.1 0h.5m.9-.7h.5m-.1 0h.5m.3 .3h.5m-.4 .4h.5m.8-.4h.5m-.4-.4h.5m-.1 .3h.5m-.4-.3h.5m-.2 .2h.5m2.3-.2h.5m1.2 .5h.5m-.1-.1h.5m-.1-.3h.5m-.5 0h.5m-.3 .1h.5m-.4 .6h.5m-.3-.5h.5m1-.2h.5m0 .6h.5m1.5 0h.5m-.4-.5h.5m.2 .1h.5m1.2 .5h.5m-.1 0h.5m-.3-.6h.5m0 .6h.5m-.1-.7h.5m-.5 .2h.5m4.4-.4h.5m7.1 .5h.5m7.6 .1h.5m.1-.3h.5m.2-.2h.5m.5 .5h.5m1.4-.3h.5m.7 .6h.5m0-.8h.5m-.2 .4h.5m1.2 .4h.5m-.5 0h.5m0-.1h.5m-.3-.7h.5m.9 .4h.5m-.4 .1h.5m1.8 .4h.5m.4-.7h.5m-.4-.2h.5m-68.1 1.1h.5m1.4 .7h.5m1.5-.2h.5m.4 .2h.5m-.2-.8h.5m1.1 .8h.5m.4-.1h.5m1.2 0h.5m2.1-.5h.5m-.4 .1h.5m0-.1h.5m1.3-.2h.5m0 .3h.5m2 .5h.5m-.4-.8h.5m0 .3h.5m-.4 0h.5m-.3 .3h.5m.9-.4h.5m.6 .5h.5m0-.7h.5m1.9 .2h.5m.3-.1h.5m.5-.1h.5m.1 .3h.5m0 .2h.5m2.6 .3h.5m.8-.3h.5m-.3 0h.5m-.5 .2h.5m2.4-.8h.5m1.2 .6h.5m.2-.5h.5m16.5 .1h.5m1.2-.1h.5m-.4 0h.5m0 .9h.5m1-1h.5m3.9 .4h.5m1.7-.2h.5m1.6 .7h.5m0 0h.5m-71.4 1h.5m-.1-.7h.5m7.2 .4h.5m1.6 0h.5m-.2-.3h.5m2.9 .2h.5m-.3 .1h.5m-.2 0h.5m.7 .2h.5m-.2-.2h.5m2.5 .2h.5m-.4-.6h.5m.2 .7h.5m-.5-.2h.5m1.3 0h.5m.4-.4h.5m-.1-.1h.5m2.6 .1h.5m.4 .3h.5m-.1-.4h.5m0 .2h.5m1 .2h.5m1.5 .4h.5m2.6-.4h.5m.6-.2h.5m-.2-.4h.5m-.2 .5h.5m-.4-.1h.5m23.4 .3h.5m0-.2h.5m.1 0h.5m2.5 .5h.5m-.4-.8h.5m0 .2h.5m.1 .2h.5m-.4-.1h.5m-.1 .2h.5m.2 .3h.5m-.3-.8h.5m1.7 .1h.5m.4-.3h.5m.4 .5h.5m.7-.3h.5m2.8 .3h.5m.3 .1h.5m-69.5 1h.5m1.3 0h.5m2 0h.5m.2 .3h.5m.3-.5h.5m2 0h.5m2.5 .4h.5m.2 .2h.5m.1-.3h.5m-.3-.1h.5m0 0h.5m-.5 .3h.5m1.4-.8h.5m-.1 .6h.5m.3 .2h.5m-.2-.2h.5m.7-.1h.5m-.3 .3h.5m2.4-.6h.5m.9 .4h.5m-.2 .3h.5m-.4-.4h.5m-.4-.4h.5m.4 .1h.5m.1 .3h.5m-.2-.1h.5m1.1 .2h.5m2.3-.6h.5m2.2 0h.5m4.5 .1h.5m11.5-.1h.5m4.4 .7h.5m1.1-.4h.5m2.1 .1h.5m0-.1h.5m1.5-.3h.5m-.2 .3h.5m-.2 .1h.5m-.1 .4h.5m-.4-.7h.5m.7-.2h.5m1.2 .7h.5m.8-.3h.5m-71.3 1.2h.5m5 .2h.5m.3-.6h.5m1.7 .4h.5m1.6 .3h.5m.5-.7h.5m1.8-.1h.5m3.4 0h.5m1.2 .9h.5m-.3-.8h.5m-.2 .3h.5m-.4-.4h.5m-.1 0h.5m-.1 .9h.5m0-.7h.5m.1 .5h.5m.1-.6h.5m.3 .2h.5m-.2-.2h.5m.1 .5h.5m-.2 .1h.5m.4-.6h.5m.8 .7h.5m.1-.3h.5m-.2 .2h.5m.4-.3h.5m.1 .4h.5m.2-.5h.5m.1-.3h.5m-.2 .7h.5m.3-.5h.5m-.4 .3h.5m0 0h.5m.7 .1h.5m.4 .3h.5m6.1-.2h.5m.1-.3h.5m13.7-.1h.5m1.3-.1h.5m2.1-.2h.5m2 .7h.5m.8-.2h.5m1.8-.1h.5m-.1 .4h.5m1.6-.5h.5m-.2 0h.5m2.7 .5h.5m-69.8 .2h.5m.5 .6h.5m7.7-.4h.5m1.8 .4h.5m1.1 .1h.5m1.5 .1h.5m2.5-.4h.5m1.6 .2h.5m1.1-.4h.5m.8 .2h.5m1.2 .4h.5m.3-.6h.5m.2 .2h.5m-.5-.5h.5m.2 .1h.5m-.3 .9h.5m.5-.7h.5m-.3 .4h.5m.8-.1h.5m-.4-.5h.5m1.3-.1h.5m2.8 .5h.5m2.3 .1h.5m17.3-.6h.5m-.1 .8h.5m.1-.6h.5m1.1 .6h.5m0 0h.5m-.4-.1h.5m.5-.2h.5m-.2 .5h.5m.9-.3h.5m-.5-.5h.5m-.4 0h.5m1.1 .5h.5m.8 .2h.5m2.4-.4h.5m1.5 .5h.5m3.2-.2h.5m-77.6 1.1h.5m4.1-.5h.5m3.1-.1h.5m1.8 .5h.5m.6-.6h.5m.6 .2h.5m2.9 .4h.5m-.4-.3h.5m.8 .4h.5m2.5-.3h.5m-.3 0h.5m.4 .3h.5m.8-.5h.5m.8 .3h.5m-.2-.5h.5m1.1 .5h.5m1.2 .1h.5m1.2 0h.5m-.3-.2h.5m-.4 0h.5m1.6-.3h.5m.4 .3h.5m-.4 0h.5m.8-.3h.5m.7 0h.5m-.3 .1h.5m2.4 .2h.5m8.7-.1h.5m6.2-.5h.5m4.1 .3h.5m1 0h.5m.4 .6h.5m.8-.3h.5m1-.5h.5m1 .3h.5m.7 .4h.5m-.4 .1h.5m.4-.7h.5m.3 .4h.5m.6 0h.5m.2 .2h.5m.2-.8h.5m-.3 .2h.5m-62.2 1.6h.5m-.1-.1h.5m1.7-.2h.5m-.4-.5h.5m-.3 .5h.5m1.2-.4h.5m1.9 .5h.5m-.3 .3h.5m1.9-.7h.5m.4 .1h.5m.7 .1h.5m-.2 .1h.5m-.4 .4h.5m.8-.1h.5m-.5-.1h.5m.8-.5h.5m-.2 0h.5m-.2 .8h.5m1.7-.6h.5m-.1 0h.5m.8 .1h.5m.3 0h.5m-.3 .1h.5m1.3-.6h.5m3.1 .3h.5m19 .4h.5m4.2-.1h.5m.7-.3h.5m.6-.2h.5m.7 0h.5m1.6 .7h.5m1.2 0h.5m-.3-.2h.5m-.1 .3h.5m5.5 .1h.5m.9-.2h.5m-.3-.1h.5m.5-.5h.5m-74.9 1.1h.5m2-.1h.5m5.9 .1h.5m-.2 .4h.5m3-.3h.5m1.3 .3h.5m1.4-.6h.5m-.3-.1h.5m-.2 .8h.5m-.2-.6h.5m.4 .3h.5m2.2 .1h.5m1.2 .2h.5m1.4 0h.5m-.2-.4h.5m-.3 .4h.5m4.6-.7h.5m-.4 0h.5m1.3 .6h.5m2.7-.7h.5m2.6 .9h.5m4.3-.3h.5m8.1-.2h.5m6.7-.4h.5m-.2 0h.5m1.7 .9h.5m1.1-.5h.5m1.1-.2h.5m-.3 0h.5m.4-.1h.5m-.5 .8h.5m.5-.8h.5m1.9 .4h.5m0-.4h.5m7.4 .7h.5m-77.5 .4h.5m4.3 .1h.5m8.3 0h.5m.7 .4h.5m.8-.6h.5m1 .5h.5m1.1 .2h.5m.1-.6h.5m.2-.1h.5m-.4 .7h.5m.5-.1h.5m.5-.6h.5m.1 .1h.5m-.4-.1h.5m-.2 .6h.5m-.4 0h.5m.8 .3h.5m-.2-.7h.5m.4-.1h.5m1.6-.2h.5m.5 .4h.5m14.2-.3h.5m4.5 .8h.5m5.3-.4h.5m5.4-.4h.5m2.2 .8h.5m3-.4h.5m.2 .5h.5m.8-.6h.5m-60.2 .7h.5m1.1 .6h.5m2.6-.6h.5m-.1 .7h.5m.3-.3h.5m-.5 .2h.5m2.8-.2h.5m0-.2h.5m.3 .3h.5m-.3 0h.5m4.6 .2h.5m-.1 0h.5m-.3 0h.5m.4 0h.5m1 0h.5m3.5 .1h.5m2.3-.7h.5m5.9 .5h.5m2.1-.2h.5m10.3 .4h.5m2.7 0h.5m3 0h.5m.8-.1h.5m.2-.5h.5m.1-.2h.5m0 .2h.5m-.4 .5h.5m.6-.1h.5m-60.2 .6h.5m1.7 .5h.5m2.9-.3h.5m.8-.4h.5m-.3 .5h.5m2.9-.4h.5m1.6 .7h.5m-.4-.9h.5m7.1 .9h.5m1-.3h.5m14.2-.4h.5m8.5 0h.5m4.9-.1h.5m.1 .3h.5m3.1 .5h.5m-.4 0h.5m.7-.7h.5m.5 .1h.5m0 .6h.5m2.5-.7h.5m-.4-.2h.5m3.8 0h.5m-.1 .7h.5m.6-.2h.5m-69.4 .8h.5m1.2 .6h.5m16.1-.9h.5m0 .1h.5m2.6 0h.5m3.6 .7h.5m2.8 .1h.5m8.9-.2h.5m3.6-.5h.5m2.8 .6h.5m1.4-.4h.5m2.6 0h.5m-.4-.3h.5m.6 .3h.5m1.9 0h.5m2.7 .6h.5m1.2-.7h.5m.1 .7h.5m1.2-.3h.5m1.3-.6h.5m.5 .2h.5m-.4 .3h.5m2 .1h.5m-66.3 .6h.5m1.3 .4h.5m4.7-.5h.5m5.4 .6h.5m-.2-.3h.5m4.2 .3h.5m1.7-.3h.5m-.3 0h.5m2.7 .3h.5m1.4-.1h.5m10.5 .1h.5m11.5-.7h.5m.7 .5h.5m1.9-.6h.5m1.2 0h.5m.7 .6h.5m.2 .2h.5m2.1-.4h.5m.6 .1h.5m.1-.3h.5m1.5 .1h.5m-57.8 1.7h.5m2.5-.9h.5m3.8 .6h.5m.5-.1h.5m1.5-.4h.5m2.3-.1h.5m30.6 .7h.5m4.9-.7h.5m.8 .6h.5m-.1 0h.5m-.1-.6h.5m2.7 .6h.5m1.3 0h.5m10.3-.6h.5m-70.4 1.4h.5m1.6-.5h.5m3.5 .7h.5m-.2 .1h.5m48.3-.2h.5m.7 .3h.5m-67.1 1.1h.5m1.7-.6h.5m13.2 .6h.5m4.3-.4h.5m1.1 .1h.5m39-.4h.5m.6 .5h.5m3.3-.5h.5m.8 .1h.5m.2 .3h.5m5.1-.1h.5m1.9 0h.5m-59.5 .5h.5m40.6 .3h.5m5.5-.1h.5m.6 0h.5m6.4-.3h.5" stroke="#8f8290" stroke-width=".5" stroke-opacity=".5" fill="none"/>
<rect x="206.4" y="602.1" width="106.1" height="88.89999999999998" fill="none" stroke="#000" stroke-width="1.3"/>
<line x1="206.4" y1="601.9" x2="206.4" y2="691.6" stroke="#1c1c1c" stroke-width="1.3"/>
<line x1="205.8" y1="691" x2="312.5" y2="691" stroke="#1c1c1c" stroke-width="1.3"/>
<rect x="208.3" y="605.3" width="42.19999999999999" height="26.40000000000009" fill="none" stroke="#1c1c1c" stroke-width="1.7"/>
<line x1="303" y1="630.9" x2="286.28132915714525" y2="641.8217447717141" stroke="#1c1c1c" stroke-width="1.1"/>
<polygon points="283.1,643.9 285.86,639.71 288.04,643.06" fill="#1c1c1c"/>
<line x1="203.4" y1="610" x2="206.4" y2="610" stroke="#1c1c1c" stroke-width="0.9"/>
<text x="200.0" y="611.6" font-size="4.6" text-anchor="end" fill="#262626">10<tspan font-size="3" dy="-1.8">5</tspan></text>
<line x1="203.4" y1="630" x2="206.4" y2="630" stroke="#1c1c1c" stroke-width="0.9"/>
<text x="200.0" y="631.6" font-size="4.6" text-anchor="end" fill="#262626">10<tspan font-size="3" dy="-1.8">4</tspan></text>
<line x1="203.4" y1="651" x2="206.4" y2="651" stroke="#1c1c1c" stroke-width="0.9"/>
<text x="200.0" y="652.6" font-size="4.6" text-anchor="end" fill="#262626">10<tspan font-size="3" dy="-1.8">3</tspan></text>
<line x1="203.4" y1="672" x2="206.4" y2="672" stroke="#1c1c1c" stroke-width="0.9"/>
<text x="200.0" y="673.6" font-size="4.6" text-anchor="end" fill="#262626">10<tspan font-size="3" dy="-1.8">2</tspan></text>
<line x1="203.4" y1="678.5" x2="206.4" y2="678.5" stroke="#1c1c1c" stroke-width="0.9"/>
<text x="200.0" y="680.1" font-size="4.6" text-anchor="end" fill="#262626">0</text>
<line x1="203.4" y1="685" x2="206.4" y2="685" stroke="#1c1c1c" stroke-width="0.9"/>
<text x="200.0" y="686.6" font-size="4.6" text-anchor="end" fill="#262626">-10<tspan font-size="3" dy="-1.8">2</tspan></text>
<line x1="203.4" y1="690.8" x2="206.4" y2="690.8" stroke="#1c1c1c" stroke-width="0.9"/>
<text x="200.0" y="692.4" font-size="4.6" text-anchor="end" fill="#262626">-208</text>
<line x1="204.8" y1="623.9794000867204" x2="206.4" y2="623.9794000867204" stroke="#1c1c1c" stroke-width="0.6"/>
<line x1="204.8" y1="620.4575749056067" x2="206.4" y2="620.4575749056067" stroke="#1c1c1c" stroke-width="0.6"/>
<line x1="204.8" y1="617.9588001734407" x2="206.4" y2="617.9588001734407" stroke="#1c1c1c" stroke-width="0.6"/>
<line x1="204.8" y1="616.0205999132796" x2="206.4" y2="616.0205999132796" stroke="#1c1c1c" stroke-width="0.6"/>
<line x1="204.8" y1="614.4369749923271" x2="206.4" y2="614.4369749923271" stroke="#1c1c1c" stroke-width="0.6"/>
<line x1="204.8" y1="613.0980391997149" x2="206.4" y2="613.0980391997149" stroke="#1c1c1c" stroke-width="0.6"/>
<line x1="204.8" y1="611.9382002601611" x2="206.4" y2="611.9382002601611" stroke="#1c1c1c" stroke-width="0.6"/>
<line x1="204.8" y1="610.9151498112135" x2="206.4" y2="610.9151498112135" stroke="#1c1c1c" stroke-width="0.6"/>
<line x1="204.8" y1="644.6783700910564" x2="206.4" y2="644.6783700910564" stroke="#1c1c1c" stroke-width="0.6"/>
<line x1="204.8" y1="640.9804536508871" x2="206.4" y2="640.9804536508871" stroke="#1c1c1c" stroke-width="0.6"/>
<line x1="204.8" y1="638.3567401821128" x2="206.4" y2="638.3567401821128" stroke="#1c1c1c" stroke-width="0.6"/>
<line x1="204.8" y1="636.3216299089436" x2="206.4" y2="636.3216299089436" stroke="#1c1c1c" stroke-width="0.6"/>
<line x1="204.8" y1="634.6588237419435" x2="206.4" y2="634.6588237419435" stroke="#1c1c1c" stroke-width="0.6"/>
<line x1="204.8" y1="633.2529411597006" x2="206.4" y2="633.2529411597006" stroke="#1c1c1c" stroke-width="0.6"/>
<line x1="204.8" y1="632.0351102731692" x2="206.4" y2="632.0351102731692" stroke="#1c1c1c" stroke-width="0.6"/>
<line x1="204.8" y1="630.9609073017742" x2="206.4" y2="630.9609073017742" stroke="#1c1c1c" stroke-width="0.6"/>
<line x1="204.8" y1="665.6783700910564" x2="206.4" y2="665.6783700910564" stroke="#1c1c1c" stroke-width="0.6"/>
<line x1="204.8" y1="661.9804536508871" x2="206.4" y2="661.9804536508871" stroke="#1c1c1c" stroke-width="0.6"/>
<line x1="204.8" y1="659.3567401821128" x2="206.4" y2="659.3567401821128" stroke="#1c1c1c" stroke-width="0.6"/>
<line x1="204.8" y1="657.3216299089436" x2="206.4" y2="657.3216299089436" stroke="#1c1c1c" stroke-width="0.6"/>
<line x1="204.8" y1="655.6588237419435" x2="206.4" y2="655.6588237419435" stroke="#1c1c1c" stroke-width="0.6"/>
<line x1="204.8" y1="654.2529411597006" x2="206.4" y2="654.2529411597006" stroke="#1c1c1c" stroke-width="0.6"/>
<line x1="204.8" y1="653.0351102731692" x2="206.4" y2="653.0351102731692" stroke="#1c1c1c" stroke-width="0.6"/>
<line x1="204.8" y1="651.9609073017742" x2="206.4" y2="651.9609073017742" stroke="#1c1c1c" stroke-width="0.6"/>
<rect x="203.1" y="677.6" width="3.3" height="1.8" fill="#1c1c1c"/>
<line x1="212.5" y1="691" x2="212.5" y2="693.6" stroke="#1c1c1c" stroke-width="0.9"/>
<text x="212.5" y="702" font-size="4.6" text-anchor="middle" fill="#262626">10<tspan font-size="3" dy="-1.8">1</tspan></text>
<line x1="233" y1="691" x2="233" y2="693.6" stroke="#1c1c1c" stroke-width="0.9"/>
<text x="233" y="702" font-size="4.6" text-anchor="middle" fill="#262626">10<tspan font-size="3" dy="-1.8">2</tspan></text>
<line x1="256" y1="691" x2="256" y2="693.6" stroke="#1c1c1c" stroke-width="0.9"/>
<text x="256" y="702" font-size="4.6" text-anchor="middle" fill="#262626">10<tspan font-size="3" dy="-1.8">3</tspan></text>
<line x1="279" y1="691" x2="279" y2="693.6" stroke="#1c1c1c" stroke-width="0.9"/>
<text x="279" y="702" font-size="4.6" text-anchor="middle" fill="#262626">10<tspan font-size="3" dy="-1.8">4</tspan></text>
<line x1="302.5" y1="691" x2="302.5" y2="693.6" stroke="#1c1c1c" stroke-width="0.9"/>
<text x="302.5" y="702" font-size="4.6" text-anchor="middle" fill="#262626">10<tspan font-size="3" dy="-1.8">5</tspan></text>
<rect x="206.4" y="691" width="6.099999999999994" height="1.7" fill="#666"/>
<line x1="218.6711149111116" y1="691" x2="218.6711149111116" y2="692.6" stroke="#1c1c1c" stroke-width="0.6"/>
<line x1="222.28098572175307" y1="691" x2="222.28098572175307" y2="692.6" stroke="#1c1c1c" stroke-width="0.6"/>
<line x1="224.84222982222323" y1="691" x2="224.84222982222323" y2="692.6" stroke="#1c1c1c" stroke-width="0.6"/>
<line x1="226.8288850888884" y1="691" x2="226.8288850888884" y2="692.6" stroke="#1c1c1c" stroke-width="0.6"/>
<line x1="228.4521006328647" y1="691" x2="228.4521006328647" y2="692.6" stroke="#1c1c1c" stroke-width="0.6"/>
<line x1="229.82450982029226" y1="691" x2="229.82450982029226" y2="692.6" stroke="#1c1c1c" stroke-width="0.6"/>
<line x1="231.01334473333483" y1="691" x2="231.01334473333483" y2="692.6" stroke="#1c1c1c" stroke-width="0.6"/>
<line x1="232.06197144350617" y1="691" x2="232.06197144350617" y2="692.6" stroke="#1c1c1c" stroke-width="0.6"/>
<line x1="239.92368990027157" y1="691" x2="239.92368990027157" y2="692.6" stroke="#1c1c1c" stroke-width="0.6"/>
<line x1="243.97378885855224" y1="691" x2="243.97378885855224" y2="692.6" stroke="#1c1c1c" stroke-width="0.6"/>
<line x1="246.84737980054314" y1="691" x2="246.84737980054314" y2="692.6" stroke="#1c1c1c" stroke-width="0.6"/>
<line x1="249.07631009972843" y1="691" x2="249.07631009972843" y2="692.6" stroke="#1c1c1c" stroke-width="0.6"/>
<line x1="250.8974787588238" y1="691" x2="250.8974787588238" y2="692.6" stroke="#1c1c1c" stroke-width="0.6"/>
<line x1="252.43725492032792" y1="691" x2="252.43725492032792" y2="692.6" stroke="#1c1c1c" stroke-width="0.6"/>
<line x1="253.7710697008147" y1="691" x2="253.7710697008147" y2="692.6" stroke="#1c1c1c" stroke-width="0.6"/>
<line x1="254.94757771710448" y1="691" x2="254.94757771710448" y2="692.6" stroke="#1c1c1c" stroke-width="0.6"/>
<line x1="262.92368990027154" y1="691" x2="262.92368990027154" y2="692.6" stroke="#1c1c1c" stroke-width="0.6"/>
<line x1="266.9737888585522" y1="691" x2="266.9737888585522" y2="692.6" stroke="#1c1c1c" stroke-width="0.6"/>
<line x1="269.84737980054314" y1="691" x2="269.84737980054314" y2="692.6" stroke="#1c1c1c" stroke-width="0.6"/>
<line x1="272.07631009972846" y1="691" x2="272.07631009972846" y2="692.6" stroke="#1c1c1c" stroke-width="0.6"/>
<line x1="273.8974787588238" y1="691" x2="273.8974787588238" y2="692.6" stroke="#1c1c1c" stroke-width="0.6"/>
<line x1="275.4372549203279" y1="691" x2="275.4372549203279" y2="692.6" stroke="#1c1c1c" stroke-width="0.6"/>
<line x1="276.7710697008147" y1="691" x2="276.7710697008147" y2="692.6" stroke="#1c1c1c" stroke-width="0.6"/>
<line x1="277.9475777171045" y1="691" x2="277.9475777171045" y2="692.6" stroke="#1c1c1c" stroke-width="0.6"/>
<line x1="286.0742048981036" y1="691" x2="286.0742048981036" y2="692.6" stroke="#1c1c1c" stroke-width="0.6"/>
<line x1="290.21234948591206" y1="691" x2="290.21234948591206" y2="692.6" stroke="#1c1c1c" stroke-width="0.6"/>
<line x1="293.1484097962071" y1="691" x2="293.1484097962071" y2="692.6" stroke="#1c1c1c" stroke-width="0.6"/>
<line x1="295.4257951018964" y1="691" x2="295.4257951018964" y2="692.6" stroke="#1c1c1c" stroke-width="0.6"/>
<line x1="297.28655438401563" y1="691" x2="297.28655438401563" y2="692.6" stroke="#1c1c1c" stroke-width="0.6"/>
<line x1="298.85980394033504" y1="691" x2="298.85980394033504" y2="692.6" stroke="#1c1c1c" stroke-width="0.6"/>
<line x1="300.22261469431066" y1="691" x2="300.22261469431066" y2="692.6" stroke="#1c1c1c" stroke-width="0.6"/>
<line x1="301.4246989718241" y1="691" x2="301.4246989718241" y2="692.6" stroke="#1c1c1c" stroke-width="0.6"/>
<text x="206.5" y="707.5" font-size="4.6" text-anchor="middle" fill="#262626">0</text>
<ellipse cx="361.7" cy="507" rx="7" ry="6.5" fill="url(#cg)" opacity="0.15" transform="rotate(0 361.7 507)"/>
<ellipse cx="372.5" cy="557" rx="9" ry="5.5" fill="url(#cg)" opacity="0.35" transform="rotate(0 372.5 557)"/>
<ellipse cx="398" cy="560" rx="6.5" ry="7.5" fill="url(#cg)" opacity="0.45" transform="rotate(0 398 560)"/>
<path d="M354.8 490.6h.6m1.1 3.6h.6m3.1 0h.6m-2.1 .6h.6m.5 .6h.6m.3-.3h.6m-.4-.1h.6m1.6-.4h.6m1.7 .2h.6m2.3 .3h.6m-.2 .4h.6m-15.3 .5h.6m1-.2h.6m6 0h.6m1.1 .7h.6m2.2-.6h.6m0 .5h.6m-16.3 .7h.6m1.2-.6h.6m0 .8h.6m.1-.4h.6m1.9 .3h.6m-.1 .3h.6m-.4-.5h.6m2.3 .1h.6m-.5-.2h.6m.2-.3h.6m1.4 .5h.6m-.4-.1h.6m.4-.2h.6m1.7 .5h.6m2.4-.4h.6m-16.9 .8h.6m.5-.2h.6m5.1 .9h.6m.3-.2h.6m0 .1h.6m1.3-.3h.6m-.4 .1h.6m5.2 .1h.6m-.3 .1h.6m-18.7 .8h.6m.4-.2h.6m-.2-.3h.6m1.5 .6h.6m.1 .1h.6m-.2-.2h.6m.3-.6h.6m-.5 .3h.6m-.6-.2h.6m-.1 .2h.6m-.5 .1h.6m-.5 .5h.6m-.5-.7h.6m-.5 .6h.6m.3 .2h.6m-.4-.3h.6m0-.6h.6m.1 .8h.6m.1-.5h.6m-.4 .6h.6m0-.8h.6m-.3 0h.6m.2 .5h.6m.2-.4h.6m2.9-.1h.6m-19.5 1.2h.6m-.2 .3h.6m3.6-.6h.6m-.5 .1h.6m-.2 0h.6m-.3 .3h.6m-.3 .2h.6m-.4-.3h.6m.3 .4h.6m.8-.2h.6m1.1 .3h.6m.2-.8h.6m-.2-.1h.6m.1 .9h.6m-.4-.5h.6m-.4 .5h.6m-.5-.8h.6m-.3 .3h.6m-.4 .4h.6m-.5-.5h.6m-.4 .1h.6m.2-.1h.6m-.3 .1h.6m.7-.2h.6m.1 .4h.6m-.4-.1h.6m.4 .4h.6m3.6-.4h.6m-20.6 1.4h.6m1.8-.3h.6m.3 .4h.6m-.5-.9h.6m.3 .5h.6m-.5-.5h.6m.5 .5h.6m.2-.2h.6m-.3 .1h.6m-.3-.2h.6m.5 0h.6m-.2 .4h.6m-.4 .1h.6m-.6-.6h.6m-.3 .6h.6m-.1-.3h.6m-.3-.4h.6m-.6 .7h.6m-.2-.1h.6m-.5 0h.6m-.4 .3h.6m-.4-.2h.6m0-.7h.6m.6 .7h.6m-.1 0h.6m-.6-.2h.6m-.6-.2h.6m-.1-.3h.6m-.5 .5h.6m-.4-.1h.6m-.5 .1h.6m-.4 .1h.6m.1 .2h.6m-.4 .1h.6m-.6-.6h.6m-.5-.1h.6m-.2-.1h.6m-.6 0h.6m.6 0h.6m.1 .3h.6m-.2 .3h.6m4.5-.1h.6m-.4 .2h.6m-.4-.9h.6m-26.9 1.6h.6m.2 .3h.6m3.7-.8h.6m.2 .6h.6m.9 .1h.6m.1 0h.6m-.3-.3h.6m.9-.1h.6m-.1 .2h.6m-.3 .4h.6m-.5-.2h.6m-.4-.4h.6m-.5-.1h.6m0 .4h.6m.5-.6h.6m-.4 .5h.6m-.3 .4h.6m-.1-.1h.6m-.3 0h.6m-.4-.3h.6m-.4-.5h.6m-.5 .2h.6m-.4 .3h.6m-.5 0h.6m-.1 0h.6m0 .3h.6m-.3-.9h.6m-.5 .1h.6m-.5 .9h.6m-.3-.2h.6m0-.8h.6m.5 .8h.6m.2-.1h.6m.5-.3h.6m-.5 .3h.6m2.1-.5h.6m2.4 .4h.6m2.8-.4h.6m-26 1.6h.6m1.1-.8h.6m1.5 .2h.6m-.4-.1h.6m0 .3h.6m-.3-.2h.6m0 0h.6m-.5 .2h.6m-.4 .5h.6m-.4-.1h.6m-.4-.3h.6m.6 .5h.6m-.4-.3h.6m.2-.1h.6m.4 .2h.6m-.6 0h.6m-.5-.1h.6m-.3-.6h.6m-.3 .8h.6m-.5-.6h.6m-.2-.2h.6m-.5-.1h.6m-.6 1h.6m.3-.4h.6m-.6 0h.6m-.3 .3h.6m1.5-.9h.6m0 .1h.6m-.4 .5h.6m-.5-.3h.6m-.5-.1h.6m-.5 .8h.6m-.2-.9h.6m.1 0h.6m-.5 .5h.6m-.5-.1h.6m1.9-.1h.6m-.6 .3h.6m1.5 0h.6m-.5 .2h.6m2-.6h.6m21.5 0h.6m-50.8 .8h.6m4 .7h.6m1 .2h.6m.2-.6h.6m-.3-.2h.6m.5 0h.6m1.7 .4h.6m-.5 .1h.6m-.2-.2h.6m-.6 0h.6m.1 .5h.6m-.3-.7h.6m0 .3h.6m-.4-.1h.6m-.1-.3h.6m-.3 .7h.6m-.6-.3h.6m-.5-.5h.6m-.4 .2h.6m-.2 .1h.6m-.6-.1h.6m0-.1h.6m-.2 .1h.6m-.4 .3h.6m-.6 .1h.6m-.4-.3h.6m-.2 .5h.6m-.6 0h.6m-.5-.8h.6m-.5 .7h.6m-.5-.7h.6m-.3 .8h.6m-.4-.4h.6m-.5 .3h.6m-.4-.2h.6m-.5-.3h.6m-.3-.1h.6m-.3 .2h.6m-.4 .5h.6m-.4-.3h.6m0 .4h.6m-.4-.3h.6m0 0h.6m-.5-.1h.6m1.1-.3h.6m-.2 .3h.6m-.5 .1h.6m3.2-.6h.6m1.2 .8h.6m5.3-.5h.6m-32.4 1.4h.6m2.3-.3h.6m1.9-.5h.6m.2 .5h.6m.1 .4h.6m-.3-.4h.6m-.4 .4h.6m-.5-.4h.6m-.6-.5h.6m-.4 .6h.6m-.2-.4h.6m1.2 0h.6m-.5 .3h.6m-.4-.5h.6m-.6 .5h.6m-.5 .1h.6m-.5-.3h.6m.1 .5h.6m-.5-.1h.6m-.5 0h.6m-.6 .1h.6m-.1-.6h.6m-.6 .1h.6m-.6 0h.6m-.3 .1h.6m.4-.3h.6m-.5 .4h.6m-.4 .3h.6m-.3-.3h.6m-.3 .3h.6m-.3 .1h.6m-.6 .1h.6m-.4-.6h.6m-.2-.1h.6m.8-.2h.6m-.5 0h.6m-.2 .2h.6m.2 .7h.6m.1 0h.6m.2-.2h.6m.1-.8h.6m-.1 .5h.6m-.1 .1h.6m1.4 .1h.6m-.5-.5h.6m-.1 .5h.6m-23.8 .7h.6m-.3 .2h.6m2.7 .3h.6m.6-.6h.6m-.6 .5h.6m0-.7h.6m-.1 .2h.6m.5-.1h.6m-.5 .6h.6m-.5 .1h.6m1-.7h.6m-.6-.1h.6m-.2 .4h.6m0 .1h.6m-.5-.3h.6m-.2 .4h.6m-.6-.1h.6m0 0h.6m.3 .2h.6m-.3-.2h.6m-.6 .1h.6m-.4 0h.6m-.6-.4h.6m-.2 .4h.6m0-.1h.6m-.5-.3h.6m-.3 .6h.6m-.5-.8h.6m-.6 .8h.6m-.3-.8h.6m-.4 0h.6m-.3-.1h.6m-.5 .1h.6m-.4 .3h.6m-.5 .4h.6m0-.7h.6m-.4 .5h.6m-.5 .1h.6m-.2-.7h.6m-.2 .5h.6m.4 .3h.6m-.4 .1h.6m0-.7h.6m-.6-.1h.6m-.2 .2h.6m-.6-.1h.6m-.5 .1h.6m.8 .7h.6m.1-.4h.6m.1-.4h.6m.5 .6h.6m-.3 .1h.6m-25.8 .3h.6m2.2 .8h.6m1.8-.6h.6m-.2 .3h.6m-.6 .3h.6m.8-.7h.6m-.6-.3h.6m-.4 .7h.6m-.5-.7h.6m.9 .9h.6m-.4-.5h.6m-.6 .5h.6m0-.6h.6m-.5 .3h.6m-.6 0h.6m-.5 .4h.6m-.6-.1h.6m-.4-.4h.6m-.4-.1h.6m-.1 .5h.6m-.1-.1h.6m-.3 .2h.6m-.5-.7h.6m-.6 0h.6m.4 .6h.6m-.5-.3h.6m-.3-.2h.6m-.5 .4h.6m-.2-.1h.6m-.6-.4h.6m-.5 .6h.6m-.5-.4h.6m-.5-.5h.6m-.5 .4h.6m-.5 .1h.6m-.6-.4h.6m-.3 .9h.6m-.4-.3h.6m-.6 .2h.6m-.6-.6h.6m-.5-.2h.6m-.2 0h.6m-.3 .4h.6m-.1 .3h.6m-.6-.2h.6m-.6 .2h.6m-.6-.7h.6m-.5 .8h.6m-.2-.3h.6m-.4 .2h.6m-.3-.5h.6m-.6 0h.6m-.5 .4h.6m-.4 0h.6m-.4-.4h.6m-.5 .2h.6m-.1 .3h.6m-.6-.7h.6m-.3 .6h.6m-.5-.5h.6m-.1-.1h.6m0 .9h.6m0 0h.6m-.4-.2h.6m-.4 .2h.6m-.1-.7h.6m-.6 .2h.6m-.5-.2h.6m1.9-.1h.6m-.5 .4h.6m-.5 .2h.6m-23.3 1.1h.6m.5-.8h.6m.1 .7h.6m.8 .1h.6m1.6-.3h.6m-.6 .4h.6m1.3-.2h.6m-.5-.6h.6m-.4 0h.6m-.5 .8h.6m-.4-.9h.6m-.1 .7h.6m-.2-.2h.6m-.6-.1h.6m-.6-.3h.6m-.5 .7h.6m-.5-.6h.6m-.3 .4h.6m-.2-.4h.6m-.6 .6h.6m-.2 .1h.6m-.4-.7h.6m-.5 .5h.6m-.4-.4h.6m-.6 .3h.6m-.6-.3h.6m-.3 .2h.6m-.5 0h.6m-.6 .2h.6m-.5-.4h.6m-.6 .5h.6m-.4-.5h.6m-.1 0h.6m.1-.1h.6m-.5 .5h.6m-.5-.2h.6m-.1 0h.6m-.6-.2h.6m-.6 .5h.6m-.4-.1h.6m-.4-.6h.6m-.6-.1h.6m-.4 .8h.6m-.4-.8h.6m-.3 0h.6m-.6-.1h.6m-.6 .3h.6m-.5 .3h.6m-.3-.3h.6m-.2-.1h.6m-.3-.1h.6m-.5 .1h.6m-.2-.1h.6m-.5 .6h.6m-.4-.7h.6m-.6 0h.6m-.4 .7h.6m-.5-.6h.6m-.3 0h.6m-.6 .8h.6m-.5 0h.6m-.5-.3h.6m-.5-.3h.6m-.5 .7h.6m-.1-.4h.6m-.4 .4h.6m.1-.6h.6m-.2 .6h.6m-.4-.2h.6m-.5-.3h.6m.3-.4h.6m1 .2h.6m-.6-.2h.6m0 0h.6m0 .7h.6m.8-.7h.6m10 .6h.6m16.5-.1h.6m-51.4 1.3h.6m.5-.1h.6m1.1-.7h.6m-.1 .3h.6m0 0h.6m-.1 0h.6m-.2 0h.6m-.4 .6h.6m-.6-.5h.6m-.3 .1h.6m-.6 .1h.6m-.1-.1h.6m-.3 .1h.6m-.2-.5h.6m-.3 .1h.6m-.5 .6h.6m.1-.9h.6m-.5 .2h.6m.1 .4h.6m.3 .2h.6m-.2-.7h.6m-.6 .6h.6m-.2-.6h.6m-.3 .6h.6m-.6 0h.6m-.3 .1h.6m-.6-.1h.6m-.3-.5h.6m-.5-.1h.6m-.3 .6h.6m.3-.5h.6m.3 .6h.6m-.2-.6h.6m-.3 .8h.6m-.5-.3h.6m-.6-.6h.6m-.3 .2h.6m-.4 .6h.6m-.6-.8h.6m.2 .7h.6m-.5-.1h.6m-.3-.6h.6m-.3 .3h.6m-.6 .5h.6m-.6-.6h.6m-.5 .3h.6m-.6-.2h.6m-.5-.2h.6m-.5 .8h.6m-.3-.6h.6m-.3 .3h.6m.5-.2h.6m-.2-.2h.6m-.2-.1h.6m-.4 .6h.6m-.1 0h.6m-.3-.3h.6m-.3-.1h.6m3.3-.3h.6m.1 .5h.6m.8 .3h.6m-26.4 .8h.6m.4-.1h.6m.4-.5h.6m3.4 .2h.6m.6 .4h.6m-.6 .3h.6m-.5-.5h.6m-.5-.4h.6m-.3 .2h.6m.1-.2h.6m-.4 .6h.6m-.2-.2h.6m-.1-.3h.6m-.2 .1h.6m-.5 .2h.6m-.1 .1h.6m-.2-.5h.6m-.1 .7h.6m-.4-.1h.6m-.5 .2h.6m-.1 0h.6m-.3-.7h.6m-.2 .5h.6m.1-.4h.6m-.3 0h.6m-.4 .3h.6m.1-.3h.6m-.4-.1h.6m.5-.1h.6m-.1 .5h.6m-.5-.6h.6m-.4 .7h.6m-.5 .2h.6m-.4-.1h.6m-.1-.2h.6m-.1-.4h.6m-.3 .4h.6m-.2-.6h.6m.9 0h.6m.1 .6h.6m1.3 0h.6m1.9 .3h.6m1-.5h.6m-25.4 1h.6m2.7-.1h.6m-.5 .2h.6m-.5 .1h.6m-.4 .1h.6m.1 0h.6m-.6 .2h.6m-.4-.6h.6m0 0h.6m-.3 .4h.6m1 .2h.6m-.6-.6h.6m-.3 0h.6m-.2-.2h.6m-.2 .8h.6m-.6-.7h.6m.1 .3h.6m-.5 .4h.6m-.5-.4h.6m0-.2h.6m-.6 .3h.6m1.1-.2h.6m-.5 .3h.6m-.3-.3h.6m-.5 .2h.6m-.6 .3h.6m-.3-.3h.6m-.2-.6h.6m-.2 .7h.6m-.3-.4h.6m.8 0h.6m-.6 .3h.6m-.1 .2h.6m-.4-.7h.6m.3 .3h.6m-.4 .6h.6m.2-.7h.6m5.7 0h.6m-24.6 .8h.6m1.5 .1h.6m.3 .8h.6m.1-.8h.6m-.3 .5h.6m.4 0h.6m0-.1h.6m-.4-.1h.6m.7-.5h.6m-.1 .7h.6m-.4-.7h.6m-.5 .1h.6m-.3 .2h.6m-.4 .2h.6m-.5-.3h.6m-.5 .6h.6m.2-.4h.6m.2 .1h.6m-.1-.3h.6m-.1-.1h.6m-.5 .5h.6m.1 0h.6m-.2-.4h.6m.5 .7h.6m-.3-.6h.6m-.4 .1h.6m-.5-.1h.6m-.6 .2h.6m1.6 .2h.6m-.2-.7h.6m-.5 .1h.6m1.1 .5h.6m10.3-.2h.6m-33.4 .7h.6m4 0h.6m1.2 .1h.6m-.2 .3h.6m1.7 0h.6m0-.4h.6m.3 .1h.6m.1 .7h.6m-.3-.4h.6m-.6-.3h.6m.2-.1h.6m-.6 0h.6m-.3 .6h.6m.1-.4h.6m3.4 .1h.6m.7 .4h.6m1.5-.8h.6m.4 .5h.6m22.7 .3h.6m-44.8 .8h.6m1.8-.2h.6m2.9 .2h.6m1.2 .2h.6m1.1-.3h.6m-.5 .1h.6m-.1-.6h.6m-.4 .9h.6m.6-.6h.6m.1 0h.6m0-.1h.6m-.1 .3h.6m-.2-.4h.6m-.5 .2h.6m.8 .4h.6m2.7-.1h.6m29.6-.1h.6m-49.7 .7h.6m3.2 .2h.6m2 .2h.6m.9 .1h.6m-.4 0h.6m.9 .1h.6m-.4-.2h.6m0-.3h.6m.1 .1h.6m-.2 .5h.6m-.5-.8h.6m.2 0h.6m.9 .9h.6m3.4-1h.6m9.4 .8h.6m1.2-.6h.6m4.8 .1h.6m6.3 .3h.6m.7-.5h.6m11.2 .5h.6m-49.8 .8h.6m6.9-.2h.6m5.3 .5h.6m20.5 .1h.6m-40.2 .4h.6m8 .4h.6m.3 .1h.6m.8 .1h.6m1.2-.2h.6m2-.4h.6m2 .7h.6m1.7-.2h.6m6.2-.5h.6m19.6 .6h.6m7.8-.7h.6m-48 1.3h.6m.5-.1h.6m0 .1h.6m.2 .5h.6m1.4-.8h.6m-.5-.1h.6m.9 .5h.6m.6-.3h.6m-.3-.1h.6m1.2 0h.6m3.2 .1h.6m7.5 .2h.6m3.5 .3h.6m20.4-.2h.6m-58.2 1.2h.6m9.5 .2h.6m.7-.7h.6m4.4 .5h.6m8.6-.6h.6m10.3-.1h.6m1 .8h.6m1-.7h.6m7.1 .6h.6m2-.2h.6m-39.5 1.5h.6m6-.9h.6m2.2 .2h.6m3.9 .6h.6m-.5-.7h.6m10.2 .2h.6m2.7 1h.6m2.6-.4h.6m2.5 .5h.6m13.9-.1h.6m-29.9 1.5h.6m8.9-.3h.6m2.9 0h.6m-24.4 1.2h.6m4-.6h.6m4.7 .2h.6m-.4-.3h.6m5.1 .6h.6m5.3-.4h.6m1.9 0h.6m15.7-.3h.6m-45.9 1.2h.6m.3 .2h.6m.1-.4h.6m1.6 .5h.6m5.8 .5h.6m1.1-1h.6m2.8 .3h.6m1.8 .4h.6m2.3-.4h.6m6.1 .2h.6m-42.2 1.2h.6m20.3 .3h.6m7-.6h.6m2.5 0h.6m2.3 .1h.6m-.5 .1h.6m2.3-.5h.6m1.4 .2h.6m2.4 .5h.6m5.6-.6h.6m-22 1.2h.6m17-.3h.6m5.6 .5h.6m1.2 .2h.6m-38.2 .2h.6m4.7 .7h.6m20.7 0h.6m5.5-.3h.6m2.5-.4h.6m10.3 0h.6m-.3 .6h.6m-42.5 .4h.6m7.1 .7h.6m-.5-.1h.6m7-.5h.6m0 .6h.6m-.2-.6h.6m-.1 .2h.6m7.5-.3h.6m7.9 .8h.6m-54.8 .8h.6m11.5-.4h.6m1.7 .8h.6m5.1-.5h.6m13.1 .3h.6m2.2-.5h.6m.6 .5h.6m5.9-.7h.6m17.3 .3h.6m-50.6 .9h.6m-.1-.2h.6m-.4 .2h.6m2.6 .6h.6m4-.6h.6m.9-.1h.6m4 .2h.6m3.1 .1h.6m4.4-.2h.6m-.3-.2h.6m.5-.1h.6m.8 .5h.6m7 .2h.6m.8-.5h.6m15 .3h.6m-54.1 1.1h.6m8.5 .3h.6m-.5-.3h.6m5.6-.2h.6m7.4-.4h.6m.8 .7h.6m-.3-.4h.6m1.4-.1h.6m2.5 .5h.6m1.1-.3h.6m3 .2h.6m.3-.3h.6m21.8 .2h.6m-57.5 1.1h.6m9.1 0h.6m5.9 0h.6m4.4-.5h.6m3.6 .6h.6m.2-.2h.6m1.2-.4h.6m2 .5h.6m1.8-.1h.6m22.1-.4h.6m8.2 0h.6m-65.8 1.2h.6m6.7-.1h.6m5.5-.1h.6m8.3 .9h.6m2.4-.3h.6m2.3-.2h.6m.9-.2h.6m11.7 .2h.6m2.5-.1h.6m10.7-.1h.6m-54.3 .7h.6m5.1 .9h.6m.5 .1h.6m2.1-.3h.6m0-.4h.6m.8 .3h.6m1.7-.2h.6m-.1-.2h.6m-.3 0h.6m4.5 .4h.6m7.5-.2h.6m-.1-.1h.6m4.3 .7h.6m-41.7 .3h.6m12.5 .7h.6m-.5-.5h.6m.1 .5h.6m.1-.2h.6m.4 .2h.6m4-.4h.6m5.9-.4h.6m1.4-.1h.6m-.3 .5h.6m1.3-.2h.6m1.8-.1h.6m.1 .5h.6m.7-.5h.6m.6 .6h.6m3.4-.2h.6m9.3-.1h.6m3.8-.3h.6m-25.4 .9h.6m-.1 .3h.6m.5-.1h.6m1 .5h.6m2.6-.8h.6m-.5 .7h.6m7.7-.7h.6m-43.5 1.4h.6m6.6 .3h.6m.2-.7h.6m5 0h.6m-.4 .6h.6m3.3-.3h.6m.6-.2h.6m.5 .1h.6m3.3 .5h.6m1.3-.7h.6m.2 .5h.6m.7-.4h.6m.2 .7h.6m.1-.5h.6m2 .4h.6m0-.1h.6m.2-.4h.6m.6-.1h.6m-31.2 1.6h.6m14.9-.6h.6m3.6 .6h.6m-.2-.5h.6m6.8 .5h.6m1.4-.4h.6m1.5 0h.6m.6-.3h.6m2.7 .2h.6m6.4 .6h.6m7.4-.4h.6m-43 .8h.6m.9-.1h.6m6.5 .7h.6m-.5-.9h.6m1.3 .8h.6m-.5-.2h.6m4.6-.4h.6m-.1 .5h.6m5 0h.6m5.6-.3h.6m3.7 .2h.6m2.2 .1h.6m2.2-.2h.6m-45.5 1.3h.6m-.4 .1h.6m1.4-.7h.6m6.2 .4h.6m1 .1h.6m1.4 0h.6m7.6 0h.6m.6 .3h.6m12-.2h.6m-47.4 .7h.6m22.3 .4h.6m1.1-.2h.6m-.2-.5h.6m1.1 .4h.6m4.6 .1h.6m7.7 .2h.6m4.7-.6h.6m.6-.1h.6m-40.2 .9h.6m1.5 0h.6m.5 0h.6m8.5 .4h.6m4.6-.4h.6m-.2 .8h.6m3.2-.9h.6m.2 1h.6m0-.1h.6m-.2-.8h.6m10.7-.1h.6m.1 .8h.6m-37.4 .6h.6m8.9 0h.6m3.3 .4h.6m.9-.1h.6m1.8 .3h.6m3.4-.5h.6m.6 .4h.6m-.1-.4h.6m1.8-.1h.6m1.5 .5h.6m.5-.6h.6m.5-.1h.6m3-.1h.6m.5 .6h.6m1.8-.4h.6m4.4 .6h.6m-.5-.2h.6m1.3 .3h.6m-48.1 .8h.6m3.1-.6h.6m3.6-.1h.6m2.2 .2h.6m.6 .1h.6m4.3 .5h.6m4.3 0h.6m2.2-.2h.6m1.5-.3h.6m6.1-.3h.6m2.2 .5h.6m3.9-.5h.6m2.9-.1h.6m4.4 .3h.6m15.6 .6h.6m-64.6 .8h.6m18.5-.7h.6m3.3 .3h.6m2.5 .1h.6m11.9 .3h.6m10 .2h.6m6.4-.4h.6m6.6 .4h.6m-53.2 .5h.6m.3 .5h.6m-.3-.5h.6m1.5 .2h.6m1 .3h.6m.6-.5h.6m-.4 .5h.6m5.1-.1h.6m3.2 .1h.6m2.8-.1h.6m4.4-.3h.6m.5-.5h.6m-.5 .6h.6m1.1 .2h.6m9.4-.1h.6m.6 0h.6m-.1-.6h.6m-49.2 1.5h.6m5.8 .2h.6m2.5-.1h.6m-.5 .1h.6m4.6-.4h.6m.5 .2h.6m1.4 .1h.6m1.4-.3h.6m1-.2h.6m-.4-.1h.6m1.3 .7h.6m3.2-.3h.6m.5 .1h.6m1.9 0h.6m-.4-.3h.6m3.1 .1h.6m.6 .1h.6m-.3 .4h.6m5.1-.4h.6m.2 .2h.6m.4-.1h.6m4.2-.5h.6m.7 .2h.6m2.7 .3h.6m1.6-.1h.6m-.5 .1h.6m-44.3 1h.6m.1-.1h.6m.1 .4h.6m5.5-.8h.6m.7 .6h.6m1.6-.5h.6m-.5 .1h.6m-.4 .3h.6m-.1 .1h.6m-.2-.6h.6m1 .5h.6m.2 0h.6m10.2 .1h.6m3.8 0h.6m1.7-.1h.6m-.3-.1h.6m.9 .1h.6m-.1 .2h.6m1.5-.2h.6m.6-.6h.6m.2 .2h.6m.6-.1h.6m-42.7 1.8h.6m-.4 .1h.6m1.5-.6h.6m1.6-.2h.6m0 .5h.6m1.5-.5h.6m.5 .8h.6m.4-.6h.6m-.3-.4h.6m-.3 .1h.6m-.5 .3h.6m-.3 0h.6m.1-.2h.6m-.5 .5h.6m-.2 .3h.6m1-.2h.6m-.3-.8h.6m-.4 .5h.6m-.3-.2h.6m-.3 .4h.6m-.5-.1h.6m0 0h.6m-.4 .1h.6m.2-.1h.6m3.4-.5h.6m.7 .4h.6m2.6-.5h.6m-.3 .6h.6m.7-.1h.6m1.8 .1h.6m-.2 .3h.6m2.7-.6h.6m0 .5h.6m-.1-.3h.6m1.5 .1h.6m-.2-.4h.6m.4 .6h.6m-50 .4h.6m10.7-.1h.6m2.5 .7h.6m-.6-.2h.6m.5 .3h.6m-.4-.9h.6m-.5 .9h.6m.3 0h.6m-.2-.7h.6m0 .7h.6m-.4-.8h.6m.4 0h.6m-.5 .4h.6m-.3-.1h.6m-.2-.1h.6m-.4 .2h.6m-.2 .2h.6m0-.1h.6m-.2-.2h.6m-.4-.1h.6m-.3 .3h.6m-.2-.6h.6m0 0h.6m.1 1h.6m-.3-.6h.6m1 .2h.6m1.1-.5h.6m-.5 .5h.6m2 .3h.6m-.6-.5h.6m-.1 0h.6m3.2 .2h.6m.7-.1h.6m.2 .5h.6m.1-.7h.6m5.3 .5h.6m0-.3h.6m0-.5h.6m.3 .5h.6m-.2-.4h.6m0 .1h.6m-.3 .5h.6m-.2-.5h.6m.5-.2h.6m-.3 .3h.6m-.5-.2h.6m-.5 .5h.6m-.4 .2h.6m1.7-.2h.6m-.1 0h.6m-.5-.6h.6m-.6 0h.6m.4 .8h.6m3.3-.5h.6m-49 1.3h.6m2-.4h.6m.8 0h.6m1.3 .2h.6m.9 .2h.6m.3 .3h.6m-.5-.3h.6m.9-.4h.6m-.2 .6h.6m-.5-.6h.6m.4-.1h.6m-.5 .5h.6m-.6 0h.6m-.6-.2h.6m.1-.1h.6m-.1 .4h.6m.8-.6h.6m.2 .5h.6m-.5 0h.6m-.4 .2h.6m-.2-.3h.6m-.3 .2h.6m-.4-.4h.6m-.4 0h.6m-.1 .4h.6m-.5 .1h.6m-.5 .2h.6m-.4-.4h.6m-.6-.4h.6m-.5 .3h.6m1.9 .2h.6m-.5 .1h.6m-.5-.6h.6m-.3 0h.6m-.6 .5h.6m-.2-.6h.6m0 .7h.6m.1-.3h.6m-.1 .5h.6m-.5-.1h.6m.4-.9h.6m.3 .4h.6m1.1 .1h.6m2.6 0h.6m.3-.3h.6m2.4 .8h.6m3.2-.1h.6m.2 0h.6m-.5 .1h.6m0-.2h.6m-.2-.2h.6m-.6 .3h.6m.8-.5h.6m-.2 0h.6m-.3 0h.6m-.1 .5h.6m.7-.6h.6m0 .3h.6m-.5-.5h.6m-.4 .4h.6m1.7 .5h.6m2.6-.3h.6m-.4 .2h.6m2.4 0h.6m-55.4 .5h.6m4 .2h.6m-.6-.3h.6m-.1 0h.6m3.3 .4h.6m-.5-.6h.6m-.2 .6h.6m-.2-.1h.6m-.4-.4h.6m-.6 .6h.6m-.5-.3h.6m-.4 .4h.6m-.5-.6h.6m-.1 .4h.6m-.4 .1h.6m-.5-.1h.6m-.1 .3h.6m-.4-.2h.6m-.5-.7h.6m0 .5h.6m-.5-.2h.6m-.4-.3h.6m-.4 0h.6m-.6 .7h.6m-.3 .1h.6m-.4-.5h.6m-.3-.1h.6m-.3 .3h.6m-.4 .3h.6m-.5-.1h.6m-.6 .1h.6m-.4-.7h.6m-.5 .7h.6m.2-.1h.6m-.6-.5h.6m-.5 .4h.6m-.5 .2h.6m-.6-.4h.6m-.3 0h.6m-.4 0h.6m-.4 0h.6m-.6 .3h.6m-.4-.3h.6m-.5 .3h.6m-.5 .1h.6m.1 0h.6m-.6-.4h.6m-.3 .3h.6m.1 .1h.6m-.3-.9h.6m-.4 .4h.6m-.5 .5h.6m-.6-.4h.6m.3-.4h.6m-.4 .7h.6m0-.1h.6m-.3-.5h.6m-.6 .6h.6m-.4 0h.6m-.4-.7h.6m-.5 0h.6m-.5 0h.6m-.5 .5h.6m.2-.1h.6m-.2-.2h.6m-.1 .2h.6m-.1 .3h.6m-.6 .1h.6m-.1-.3h.6m-.4-.4h.6m-.5 .7h.6m-.6-.4h.6m-.3-.2h.6m-.1 .2h.6m-.4-.4h.6m-.6 .7h.6m.2-.8h.6m.6 .9h.6m2-.5h.6m1.6-.3h.6m.5 .5h.6m1.2-.3h.6m.4 .6h.6m-.2 0h.6m.4-.4h.6m0-.2h.6m-.2 0h.6m-.4 .6h.6m0 .1h.6m-.5-.1h.6m-.1 0h.6m-.6-.4h.6m-.5-.2h.6m0 .2h.6m-.4 .2h.6m-.4-.4h.6m.9-.3h.6m-.1 .5h.6m-.5 .1h.6m-.5 .3h.6m-.4-.2h.6m0 .1h.6m-.6 0h.6m-.5 .2h.6m-.3-.3h.6m.6 .2h.6m-.4-.5h.6m-.6-.1h.6m0 .2h.6m-.6 .4h.6m-.3-.5h.6m.5 .3h.6m-.4 .3h.6m-.5-.5h.6m.4 .2h.6m1.7 0h.6m-56.1 1.1h.6m3.5 0h.6m2.7 .1h.6m.3-.7h.6m1.3 .6h.6m1-.3h.6m-.5 .2h.6m0-.5h.6m-.4 .7h.6m.1-.8h.6m-.3 .2h.6m-.5 .1h.6m.2-.4h.6m-.4 .8h.6m-.5-.7h.6m-.1 .6h.6m0-.5h.6m-.2 .7h.6m-.6 0h.6m-.4 .1h.6m0-.2h.6m-.6-.1h.6m-.5 .3h.6m-.2-.8h.6m-.1 .3h.6m-.6-.4h.6m-.5 .5h.6m-.5 .3h.6m-.6 0h.6m-.3-.5h.6m-.2 .3h.6m-.5 0h.6m-.6-.6h.6m-.6 .6h.6m-.4-.6h.6m-.5 .1h.6m-.6 .7h.6m.2-.3h.6m-.6-.2h.6m-.5 0h.6m-.6-.2h.6m0 .6h.6m-.3-.7h.6m-.6 .3h.6m-.3 .2h.6m-.1-.5h.6m-.6 .8h.6m-.4-.4h.6m-.6 .4h.6m0-.3h.6m-.3-.2h.6m0-.2h.6m-.4 .3h.6m.3 .5h.6m-.1-1h.6m-.4 .6h.6m-.3-.3h.6m-.6 .1h.6m-.2-.1h.6m-.6 .4h.6m-.4-.4h.6m-.5-.1h.6m-.5 .4h.6m-.5 .2h.6m.1-.4h.6m-.2-.1h.6m-.5 .2h.6m-.5 .2h.6m-.5-.5h.6m-.3-.1h.6m0 .6h.6m.3 .2h.6m1.1-.8h.6m-.4 .1h.6m.6 .1h.6m-.5 .7h.6m2.3-.2h.6m1.6-.7h.6m.4-.1h.6m-.5 .7h.6m-.1-.2h.6m.7 .2h.6m-.4 0h.6m-.6 0h.6m-.1-.5h.6m-.3 .4h.6m-.3-.1h.6m-.1 .4h.6m-.3-.6h.6m-.6 .1h.6m-.4-.2h.6m-.3 0h.6m-.6-.2h.6m-.4 .1h.6m-.5 .3h.6m-.2 .3h.6m-.3-.4h.6m0 .4h.6m-.3-.4h.6m-.4 .7h.6m-.6-.8h.6m-.6-.1h.6m-.3 .8h.6m-.5-.4h.6m-.2-.1h.6m-.3-.3h.6m-.3 .8h.6m-.5-.7h.6m-.5 .4h.6m-.5-.3h.6m-.1 .1h.6m0 0h.6m.4 .5h.6m-.6-.8h.6m-.5 .2h.6m-.3 .2h.6m.3 .2h.6m-.5-.2h.6m1.6-.1h.6m-.2-.3h.6m3.1 .1h.6m-53.6 1.3h.6m0-.4h.6m-.3 .3h.6m2.5 .5h.6m-.6-.1h.6m2.7-.4h.6m0-.4h.6m-.3 1h.6m-.4-.7h.6m-.4 .1h.6m-.5-.1h.6m-.5-.3h.6m-.5 0h.6m-.4 .2h.6m-.5 .5h.6m-.3 0h.6m-.5-.4h.6m-.2 .3h.6m.4-.6h.6m.1 .8h.6m-.3-.3h.6m-.5 .1h.6m-.5-.2h.6m0-.1h.6m-.4 .7h.6m-.3-.1h.6m-.5 0h.6m-.4-.4h.6m-.6 .1h.6m-.5-.5h.6m-.6 .6h.6m-.2-.6h.6m-.6 .8h.6m0 0h.6m-.2-.9h.6m-.5 .3h.6m-.3 .2h.6m-.3-.3h.6m-.5 .5h.6m.5 .1h.6m-.5-.3h.6m-.4-.3h.6m-.3 .5h.6m.2 .3h.6m-.5-.1h.6m-.5-.7h.6m-.6 .7h.6m-.5-.4h.6m-.1 .4h.6m-.2 0h.6m-.5-.6h.6m-.5 .4h.6m-.5 .1h.6m-.2-.1h.6m-.4-.5h.6m-.5 .1h.6m-.6 .2h.6m-.6 .4h.6m-.5-.7h.6m-.3-.2h.6m.3 .1h.6m-.5 0h.6m-.3 .5h.6m-.4-.5h.6m-.2 .9h.6m-.6-.3h.6m-.4 .1h.6m-.4-.7h.6m-.3-.1h.6m-.6 .5h.6m-.2-.2h.6m-.5-.2h.6m-.5 .5h.6m-.4-.4h.6m-.5 .4h.6m-.5 0h.6m-.4 .3h.6m-.5-.9h.6m-.4 .4h.6m-.3 0h.6m-.3 0h.6m-.2-.3h.6m-.1 .7h.6m-.4-.3h.6m-.4 .3h.6m-.2 .2h.6m-.2-.2h.6m.2 .2h.6m-.2-.9h.6m2.8 .8h.6m1.4-.4h.6m-.1-.3h.6m-.3 .5h.6m-.5 .2h.6m-.4-.9h.6m-.2 .7h.6m-.4 .2h.6m-.4-.1h.6m-.4-.5h.6m-.5 .4h.6m-.3-.3h.6m-.5-.4h.6m-.6 .6h.6m-.4 .1h.6m-.5-.3h.6m-.5 .3h.6m-.3 0h.6m0-.1h.6m-.5-.3h.6m-.5 .4h.6m-.5-.2h.6m-.3-.3h.6m0 .7h.6m-.3 0h.6m-.5-.1h.6m-.2 .2h.6m.2-.1h.6m-.5 0h.6m-.4-.5h.6m-.5 .4h.6m-.5-.7h.6m-.5 0h.6m-.6 .6h.6m-.5-.7h.6m-.5 .7h.6m-.5 0h.6m-.6-.3h.6m-.5 0h.6m-.3-.2h.6m-.5-.1h.6m-.5 .1h.6m-.4 .2h.6m-.2 .1h.6m.2-.2h.6m-.6 0h.6m-.4 .5h.6m-.3-.3h.6m-.5 .2h.6m-.6 0h.6m-.5 .3h.6m-.6-.6h.6m-.4-.3h.6m-.3 .1h.6m-.5 .4h.6m-.5-.4h.6m.9 .4h.6m-.2 .2h.6m-.6-.2h.6m-.1-.5h.6m-.2 .5h.6m-.4-.1h.6m.7-.1h.6m2.4 .5h.6m-49.1 .7h.6m.1-.4h.6m.3 .4h.6m.2-.1h.6m-.3 .3h.6m-.5-.3h.6m.4-.3h.6m-.4-.1h.6m-.4 .7h.6m-.6-.3h.6m0-.2h.6m-.5 0h.6m-.6 .2h.6m.2 0h.6m-.3 .3h.6m-.5-.8h.6m-.1 .6h.6m-.5 .1h.6m-.2-.6h.6m-.5 .7h.6m-.5 .2h.6m-.5-.1h.6m-.6 .1h.6m-.6-.1h.6m-.5-.8h.6m-.4 0h.6m-.5 .9h.6m-.3-.4h.6m-.5-.2h.6m-.6 .1h.6m-.5-.3h.6m-.5 .5h.6m-.5 .1h.6m.1-.5h.6m-.3 .5h.6m-.3-.5h.6m-.4 .3h.6m-.4-.6h.6m-.3 .5h.6m-.5 .2h.6m-.4 .2h.6m-.5-.1h.6m-.4-.8h.6m-.4 .3h.6m-.4 .4h.6m-.4-.5h.6m-.6 .5h.6m-.5-.5h.6m-.1 .4h.6m-.2-.4h.6m-.6 .1h.6m-.3-.1h.6m-.5 .7h.6m-.3-.5h.6m-.4-.3h.6m0 .2h.6m-.3 .5h.6m-.3-.4h.6m-.4 0h.6m-.5-.1h.6m-.3 .2h.6m-.6-.1h.6m-.1 .5h.6m0-.1h.6m-.6-.3h.6m-.4-.4h.6m-.5 .7h.6m-.5-.5h.6m-.6-.3h.6m-.5 .3h.6m0 .3h.6m-.6-.3h.6m-.6 .3h.6m-.4 .1h.6m-.3 .2h.6m-.2-.6h.6m-.4-.2h.6m-.5 .1h.6m-.6 .7h.6m-.5-.6h.6m-.3 .1h.6m-.5-.2h.6m-.4 .3h.6m-.2 .5h.6m.2-.7h.6m-.4 .5h.6m-.2 .1h.6m-.4-.4h.6m-.4 0h.6m-.6 .4h.6m-.5-.8h.6m-.3 .7h.6m-.5 0h.6m3.1-.1h.6m1.7-.2h.6m.8-.3h.6m0 .5h.6m1.1-.1h.6m-.3-.2h.6m-.5 0h.6m-.5 .4h.6m-.4-.5h.6m-.4 .6h.6m1-.5h.6m-.1 0h.6m-.3-.2h.6m-.4 .8h.6m-.3-.2h.6m-.3-.6h.6m-.5 .7h.6m-.5-.5h.6m-.5 .4h.6m-.6-.6h.6m-.6 .2h.6m-.2 .4h.6m-.4-.5h.6m-.4-.1h.6m-.4 .6h.6m-.2-.3h.6m-.6 .3h.6m-.5-.5h.6m-.6 .2h.6m-.4-.1h.6m-.5-.3h.6m-.5 .8h.6m-.6-.4h.6m-.3 .1h.6m-.4-.1h.6m-.1 .4h.6m-.3-.3h.6m-.5 .1h.6m0-.5h.6m-.5-.1h.6m-.2 .9h.6m-.5-.3h.6m-.2-.1h.6m-.4 .3h.6m-.2-.8h.6m.7 .6h.6m-.2-.2h.6m.7 .4h.6m.7 .1h.6m3.5-.3h.6m-54.7 1.1h.6m.2 .2h.6m1.1-.6h.6m1.3-.1h.6m-.5-.3h.6m-.5 0h.6m.1 .8h.6m-.5-.1h.6m.6-.2h.6m-.5-.3h.6m-.1 .1h.6m-.2-.2h.6m.1 .8h.6m-.3 0h.6m-.5-.3h.6m-.3 .3h.6m-.3 0h.6m-.5-.1h.6m-.4-.2h.6m-.5 .3h.6m-.3-.6h.6m-.6 .2h.6m-.6-.2h.6m-.5 .1h.6m.1 .3h.6m-.3-.4h.6m-.6-.1h.6m-.4 .1h.6m-.6 .2h.6m-.5 .3h.6m-.4-.7h.6m-.5 .7h.6m-.5-.1h.6m-.5-.1h.6m-.5-.4h.6m-.5-.2h.6m-.5 .5h.6m-.6 .3h.6m-.4-.2h.6m-.6 .2h.6m-.5 .1h.6m-.4-.2h.6m-.6 .1h.6m-.3 .2h.6m0-.3h.6m-.3 0h.6m-.2-.7h.6m-.5 .3h.6m-.5 .3h.6m-.6 .2h.6m-.4 .1h.6m-.1-.9h.6m-.6 .7h.6m-.6-.7h.6m-.5 .1h.6m-.1 .5h.6m-.1 .1h.6m-.4-.4h.6m-.5 0h.6m.2-.2h.6m-.6 .2h.6m-.6 .1h.6m-.4 .1h.6m-.4 .4h.6m-.4-.5h.6m-.6 .3h.6m-.6-.4h.6m-.6 0h.6m-.1-.2h.6m-.4 .1h.6m-.5 .5h.6m-.5-.5h.6m-.2 .3h.6m-.4 .2h.6m-.6 .1h.6m-.5 .1h.6m-.6-.3h.6m-.4-.4h.6m-.6 .8h.6m-.3-.3h.6m-.4-.2h.6m-.3-.4h.6m-.6 .3h.6m-.3 0h.6m-.5 .3h.6m-.5-.5h.6m-.5 .6h.6m-.4-.1h.6m-.3 .2h.6m-.6-.1h.6m-.5 0h.6m-.5-.5h.6m-.6 .2h.6m-.5 .2h.6m-.6-.3h.6m-.5 .1h.6m-.4-.4h.6m-.4 .6h.6m-.4-.5h.6m-.1 .1h.6m-.6 .6h.6m-.3-.8h.6m-.6 .7h.6m.3-.5h.6m-.4 .6h.6m-.3-.1h.6m-.5-.2h.6m-.4-.5h.6m-.5 .5h.6m-.6-.1h.6m-.3-.3h.6m0-.1h.6m-.3 .2h.6m.4-.1h.6m-.2 .2h.6m-.1-.4h.6m-.3 0h.6m4.9 .5h.6m0 .4h.6m0-.3h.6m.1-.4h.6m-.5-.1h.6m-.5 .8h.6m-.3-.8h.6m-.1 .2h.6m-.3 .4h.6m-.6 .1h.6m-.5-.7h.6m-.5 .3h.6m-.4 .3h.6m-.5-.7h.6m-.6 .7h.6m-.4-.3h.6m-.6 .4h.6m-.5-.7h.6m-.5 .1h.6m-.6 .5h.6m-.5 .2h.6m-.5-.6h.6m-.3 .3h.6m-.5 .1h.6m-.4-.5h.6m-.4 .3h.6m-.5 0h.6m-.4 .4h.6m-.6-.3h.6m-.5-.5h.6m-.5 0h.6m-.4 .8h.6m-.5-.1h.6m-.5-.1h.6m-.3 0h.6m-.5-.5h.6m-.4 .4h.6m-.6-.1h.6m-.5-.4h.6m-.6 .1h.6m-.6 .4h.6m-.5 .4h.6m-.4-.8h.6m-.4-.2h.6m-.5 .4h.6m-.5-.3h.6m-.5 .6h.6m.3-.3h.6m-.5-.2h.6m-.5 .3h.6m-.5 .5h.6m-.6-.8h.6m-.4 .4h.6m-.4-.4h.6m-.3 0h.6m-.4 .8h.6m-.4-.5h.6m-.5 .2h.6m-.2-.4h.6m-.2 .3h.6m-.5 .2h.6m-.6-.2h.6m-.5 .2h.6m-.3-.1h.6m-.3-.7h.6m-.6 .2h.6m-.1 .5h.6m-.1-.3h.6m-.2 0h.6m-.6 .1h.6m0-.4h.6m-.4 .4h.6m-.5 .3h.6m.8-.2h.6m-.5 .3h.6m-.6-.8h.6m.8 .5h.6m.1-.3h.6m-55.1 1.2h.6m1.4 .3h.6m1-.4h.6m.9-.1h.6m0 .3h.6m-.3-.2h.6m-.4 .6h.6m.9-.9h.6m.3 .9h.6m0-.1h.6m-.4-.2h.6m.2-.3h.6m-.4 .3h.6m-.4 .1h.6m-.4-.8h.6m-.5 .6h.6m-.4 .2h.6m-.6-.4h.6m-.6 .4h.6m-.3-.2h.6m-.4-.5h.6m.1 .1h.6m-.4 .2h.6m-.6 .4h.6m-.2-.4h.6m-.1-.2h.6m-.6-.1h.6m-.5 .4h.6m-.4 .2h.6m-.5-.4h.6m-.4 0h.6m-.2 .1h.6m-.5 0h.6m-.6 .2h.6m-.4-.2h.6m-.5-.1h.6m-.6-.2h.6m-.2 .1h.6m-.5-.2h.6m-.5 .8h.6m-.6-.2h.6m0 .3h.6m-.5-.3h.6m-.5 .1h.6m-.6 .2h.6m-.5-.2h.6m-.4-.7h.6m-.4 .3h.6m-.1-.3h.6m-.6 .6h.6m-.3-.3h.6m-.5 .4h.6m-.6-.6h.6m-.3 .1h.6m-.6 .1h.6m-.3-.1h.6m-.6 .5h.6m-.6-.2h.6m-.5-.4h.6m-.6-.1h.6m-.4 .8h.6m-.4 0h.6m-.5-.6h.6m-.4 .5h.6m-.5-.1h.6m-.6 .3h.6m-.4-.6h.6m-.3-.2h.6m-.5 .2h.6m-.5 .1h.6m-.3 .2h.6m-.6-.4h.6m-.5 0h.6m-.4 .1h.6m-.5 .1h.6m-.6 0h.6m-.1 .4h.6m-.5-.1h.6m-.3-.3h.6m-.4 0h.6m-.4 .3h.6m-.5-.1h.6m-.2-.5h.6m-.4 0h.6m-.5 .1h.6m-.4 .7h.6m-.4-.6h.6m-.4 .1h.6m-.5-.2h.6m.3 .1h.6m-.5 .1h.6m-.1 .5h.6m.6 .1h.6m-.5-.5h.6m-.5 .1h.6m-.1-.4h.6m.1 .8h.6m.2-.2h.6m-.1-.3h.6m0 .4h.6m-.4-.1h.6m5.4-.3h.6m-.6 .5h.6m-.5-.7h.6m.1-.2h.6m1 .5h.6m.1 .1h.6m-.3-.1h.6m-.2 .1h.6m-.4 0h.6m-.5 0h.6m-.3 .1h.6m.1-.1h.6m-.2-.7h.6m-.2 .2h.6m-.5 .5h.6m-.4 .2h.6m-.4-.8h.6m-.5 .8h.6m-.5-.4h.6m-.6 .2h.6m-.4-.4h.6m-.4-.1h.6m-.4 .3h.6m-.2 .1h.6m-.2 0h.6m-.3 .3h.6m-.6-.7h.6m-.4 0h.6m-.5 .5h.6m-.4-.5h.6m-.6 .7h.6m-.4-.9h.6m-.6 .4h.6m-.5 .5h.6m-.5-.7h.6m-.4 0h.6m-.5 .5h.6m-.5 0h.6m0-.2h.6m-.6-.2h.6m-.5 .2h.6m-.4 .3h.6m-.6 .1h.6m-.5-.8h.6m-.5 .9h.6m-.4-1h.6m-.5 .5h.6m-.4-.1h.6m-.4 .3h.6m-.6-.2h.6m-.5-.3h.6m-.3 .2h.6m-.6 .4h.6m-.3 0h.6m.1-.3h.6m-.6 .3h.6m-.3-.7h.6m-.2 .3h.6m-.5 .1h.6m-.3-.3h.6m-.1 .4h.6m-.1-.5h.6m.2 .6h.6m.5 .1h.6m-.1-.2h.6m1.7 .3h.6m-52.9 .8h.6m.6-.1h.6m.6 0h.6m-.6-.4h.6m.4 .7h.6m1.6-.5h.6m.4 0h.6m.1 0h.6m-.3 .3h.6m-.1-.3h.6m-.3 .1h.6m-.6 0h.6m-.6-.1h.6m-.3-.3h.6m-.1 .8h.6m-.5-.1h.6m-.6 0h.6m.2-.7h.6m-.2 .4h.6m-.6 .4h.6m-.4-.4h.6m-.5-.4h.6m.5 .8h.6m-.5-.5h.6m-.5-.2h.6m.2 0h.6m-.3 .8h.6m-.1-1h.6m-.5 .4h.6m-.4-.3h.6m-.3 .5h.6m-.6-.2h.6m-.6 .4h.6m-.3-.5h.6m-.5 .2h.6m-.6 0h.6m.1-.2h.6m-.5 .1h.6m-.6-.2h.6m0 .6h.6m-.5-.3h.6m-.5 .3h.6m-.4-.2h.6m-.5 .4h.6m.1-.6h.6m-.6 .1h.6m-.5 .3h.6m-.5-.3h.6m-.6 .4h.6m-.4 .1h.6m-.6-.6h.6m-.4 .5h.6m-.4-.7h.6m-.6 .1h.6m-.4-.1h.6m-.3-.1h.6m-.6 .3h.6m-.3 .5h.6m-.5-.7h.6m-.6 .8h.6m-.6-.6h.6m-.4 .3h.6m-.6-.3h.6m-.2 .3h.6m-.3-.5h.6m-.6 0h.6m-.6 .5h.6m-.6-.7h.6m-.4 .5h.6m-.3 .4h.6m-.1-.6h.6m-.5 .6h.6m-.6-.8h.6m-.5 .1h.6m-.4-.1h.6m-.5 .4h.6m-.5 .3h.6m-.5-.7h.6m-.6 .2h.6m-.6 .6h.6m-.5-.7h.6m.1 0h.6m-.4 .3h.6m-.5-.4h.6m-.5-.1h.6m.2 .6h.6m-.4 .4h.6m-.5-.6h.6m-.2 0h.6m-.6 .3h.6m1.6-.6h.6m-.6-.1h.6m.4 .4h.6m.3 .1h.6m-.5-.3h.6m.3 .1h.6m-.3 0h.6m-.2 .5h.6m2 0h.6m.4-.6h.6m-.4 0h.6m-.4 0h.6m1-.1h.6m0 .3h.6m-.6 0h.6m-.2 .2h.6m0-.3h.6m-.2 0h.6m-.1 .5h.6m-.4-.8h.6m-.5 .4h.6m-.5 .4h.6m-.5-.1h.6m-.6-.5h.6m-.5 .1h.6m-.6 .6h.6m-.5 .1h.6m.4-.6h.6m-.6-.3h.6m-.5-.1h.6m-.4 .9h.6m-.6-.1h.6m-.4 .1h.6m-.5-.4h.6m-.6-.5h.6m-.6 .4h.6m-.5-.2h.6m-.6-.2h.6m-.4 .9h.6m-.6-.4h.6m-.5 .4h.6m-.5-.8h.6m-.5 .6h.6m-.6 .3h.6m-.4-.2h.6m-.6-.1h.6m-.4-.6h.6m-.3 .8h.6m-.6-.8h.6m-.5 .4h.6m-.6 .3h.6m-.5-.1h.6m-.5 0h.6m-.2-.1h.6m-.5-.5h.6m-.5 .3h.6m-.1-.2h.6m-.4 .7h.6m-.5-.1h.6m-.4-.2h.6m-.5-.5h.6m-.5 .6h.6m-.5 .1h.6m-.6-.2h.6m-.6-.1h.6m-.3 0h.6m-.2-.3h.6m-.6 0h.6m.1 .3h.6m-.5-.5h.6m-.5 .9h.6m-.6-.9h.6m-.4 .1h.6m-.6 .1h.6m-.5 0h.6m-.4 .2h.6m.6 0h.6m-.4 .1h.6m-.5 .1h.6m.7 .2h.6m.4-.6h.6m-.4 .8h.6m-.1-.9h.6m0 .8h.6m-.4 0h.6m-51.4 .4h.6m2.6 .3h.6m-.1-.6h.6m.7 .5h.6m2.1-.3h.6m-.2 .6h.6m-.1 .1h.6m-.2-.6h.6m.9-.3h.6m1.1 .3h.6m-.5 .4h.6m-.2-.6h.6m-.4-.1h.6m-.5 .2h.6m-.5 0h.6m-.3 .1h.6m-.3 .4h.6m-.4-.1h.6m-.5-.3h.6m-.2 .4h.6m-.5-.7h.6m-.3 .1h.6m-.6 0h.6m-.2 .6h.6m-.6-.3h.6m0 0h.6m-.4-.2h.6m-.3 .2h.6m-.5 0h.6m-.6 .5h.6m-.1-.4h.6m-.6 0h.6m-.6 0h.6m-.5-.1h.6m-.5-.3h.6m-.4 .2h.6m-.3-.2h.6m-.5 .7h.6m-.5 .1h.6m-.5-.7h.6m-.3 .1h.6m-.3 .3h.6m0-.1h.6m-.3 0h.6m-.6-.2h.6m-.4 .2h.6m-.6-.1h.6m-.5-.4h.6m.1 .2h.6m-.5 .7h.6m-.3-.8h.6m-.2 .2h.6m-.2 .5h.6m-.6 0h.6m-.3-.3h.6m.8 .4h.6m-.1-.4h.6m.6-.4h.6m.3 .5h.6m.8-.2h.6m.5-.4h.6m-.4 .6h.6m-.4-.5h.6m.4 .3h.6m.9 .5h.6m-.5-.1h.6m.9-.2h.6m-.3-.4h.6m.4 .3h.6m.4-.3h.6m-.3 .1h.6m-.4-.1h.6m-.5 .2h.6m-.6 .2h.6m-.3 0h.6m-.1 0h.6m-.6-.5h.6m-.4 .8h.6m-.5-.8h.6m-.5 .6h.6m-.3 .3h.6m-.1-.4h.6m-.5 .1h.6m-.5 0h.6m-.1 0h.6m-.5-.1h.6m.1-.3h.6m-.5 .5h.6m-.4-.4h.6m-.4 .2h.6m-.6 .3h.6m-.5-.8h.6m-.5 .6h.6m-.5-.1h.6m-.6 0h.6m-.5 .3h.6m-.6-.7h.6m-.6 .1h.6m-.4-.2h.6m-.3 .9h.6m-.5 0h.6m-.5-.9h.6m-.5 .6h.6m-.3-.7h.6m-.4 .1h.6m-.5 .1h.6m-.6 .3h.6m-.4 .5h.6m-.5-.8h.6m-.4 0h.6m-.4 .4h.6m-.5-.6h.6m-.6 .8h.6m-.5-.8h.6m-.3 .9h.6m-.4-.2h.6m-.6-.6h.6m.2 .7h.6m-.6-.6h.6m-.5 .4h.6m-.5-.3h.6m-.5 .1h.6m-.6 0h.6m-.3-.1h.6m-.6 .4h.6m-.1 .1h.6m-.4-.3h.6m0 0h.6m-.4-.1h.6m-.5 .1h.6m-.6-.5h.6m-.1 .6h.6m-.1 0h.6m-.2 0h.6m-.6-.4h.6m-.2 .3h.6m-.4 .3h.6m-.3-.2h.6m-.6-.1h.6m-.2 0h.6m-.2-.3h.6m.3 .6h.6m-53.9 1.1h.6m3.2-.9h.6m1.7 .7h.6m.2 .2h.6m1.2-.3h.6m.1-.4h.6m.4 .5h.6m.1 .2h.6m1-.8h.6m-.6 .1h.6m-.5-.1h.6m-.5 .7h.6m-.4-.3h.6m0-.2h.6m.3-.3h.6m-.4 .4h.6m-.3-.3h.6m.1 .9h.6m-.4-.9h.6m-.2 .6h.6m-.1-.3h.6m0 .2h.6m-.3 .1h.6m-.5-.4h.6m-.3 .5h.6m-.5 0h.6m-.6 0h.6m-.5-.5h.6m-.4 .2h.6m-.4-.2h.6m-.4 .3h.6m-.5-.1h.6m-.5-.4h.6m-.6 .8h.6m-.4 .1h.6m-.4-.8h.6m-.1 0h.6m-.2 .4h.6m-.5 0h.6m-.6-.5h.6m-.1 .2h.6m-.5 .1h.6m-.5 .4h.6m-.6-.2h.6m-.5-.3h.6m-.4 .6h.6m-.6-.8h.6m-.4-.1h.6m-.6 .6h.6m-.5-.2h.6m-.5 .2h.6m-.6 0h.6m-.1-.4h.6m-.6-.1h.6m-.3 .3h.6m-.1 .2h.6m-.4-.2h.6m-.5 .5h.6m-.4-.5h.6m-.4 .1h.6m0 .3h.6m-.5-.4h.6m-.3 .4h.6m-.5 0h.6m-.3-.5h.6m-.1 .2h.6m-.6-.4h.6m-.1 .1h.6m.8 .2h.6m-.3 .4h.6m0-.6h.6m.3 .2h.6m-.4 0h.6m-.2 .5h.6m.3 .1h.6m2.9-.8h.6m0 .5h.6m1.8-.5h.6m-.4 0h.6m-.5 .3h.6m-.3-.4h.6m.5 .3h.6m-.5 0h.6m-.4 .1h.6m-.2-.3h.6m-.6-.1h.6m-.6 .7h.6m-.5-.7h.6m-.2 .9h.6m-.6-.7h.6m-.6 .6h.6m-.6-.8h.6m-.6 0h.6m-.5 .6h.6m-.3 0h.6m-.6-.3h.6m-.6 .5h.6m-.2-.4h.6m0-.3h.6m0 .2h.6m-.4-.1h.6m-.6-.1h.6m-.3 .4h.6m-.2 0h.6m-.6-.1h.6m-.6 0h.6m-.5 .4h.6m-.2-.2h.6m-.5-.1h.6m-.5 .1h.6m-.5 0h.6m-.6 .2h.6m-.5 0h.6m-.6-.6h.6m-.2 .2h.6m-.3-.2h.6m-.5 .4h.6m-.6 .1h.6m-.3-.5h.6m-.4 .7h.6m-.4-.1h.6m-.4 0h.6m-.4-.6h.6m-.4 .6h.6m-.3-.1h.6m-.4 0h.6m-.5-.5h.6m-.5 .2h.6m-.5 .4h.6m-.6-.9h.6m-.4 .1h.6m-.6 .4h.6m-.5 .5h.6m-.5-.6h.6m-.3 .3h.6m-.4 .1h.6m-.6-.5h.6m-.5 0h.6m-.5 .2h.6m0 .4h.6m-.3-.7h.6m.1 0h.6m-.3 .8h.6m-.3-.8h.6m-.4-.2h.6m-.5 .6h.6m-.5 .1h.6m.4-.4h.6m.7-.2h.6m-.5 .8h.6m.4-.1h.6m-50.5 .4h.6m4 0h.6m.2 .3h.6m-.3 .1h.6m-.1-.4h.6m-.3 .4h.6m-.4-.4h.6m.7-.1h.6m-.3 .3h.6m-.3 .2h.6m.1 .4h.6m-.1-.6h.6m-.5 .4h.6m0-.7h.6m-.3 0h.6m-.4 .7h.6m-.2-.7h.6m-.3 .8h.6m-.4-.3h.6m-.1-.6h.6m-.6 .7h.6m-.5 .2h.6m-.4-.4h.6m-.4 .4h.6m-.4-.1h.6m.4-.5h.6m-.6 0h.6m-.5-.2h.6m-.6 .3h.6m-.6-.1h.6m-.5-.2h.6m-.4 .3h.6m.5 .3h.6m.5-.4h.6m-.6 .5h.6m-.3-.7h.6m-.5 .2h.6m.3 .5h.6m.1 .1h.6m-.4-.3h.6m-.3-.1h.6m.8 0h.6m-.1 .1h.6m-.4 .3h.6m-.1-.5h.6m-.4 .3h.6m1-.3h.6m.2 .6h.6m.3-.7h.6m1.2-.3h.6m2.3 .4h.6m1.8 .4h.6m0-.3h.6m-.5-.3h.6m0-.1h.6m-.3 .6h.6m-.1 .1h.6m-.4 .2h.6m-.5-.8h.6m.1 .6h.6m-.3-.5h.6m-.5 .1h.6m-.6-.1h.6m-.5-.2h.6m-.6 .1h.6m-.2 .3h.6m-.3 .1h.6m-.5 0h.6m-.5 .1h.6m-.3-.6h.6m-.6 .8h.6m-.4-.8h.6m-.6 .4h.6m-.6-.3h.6m-.4 .3h.6m-.4 .3h.6m-.5-.6h.6m-.5 .2h.6m-.5 .2h.6m-.6-.3h.6m-.6 0h.6m-.3 .2h.6m-.6 .4h.6m-.6-.8h.6m-.6 .9h.6m-.6-.1h.6m-.1 0h.6m-.4-.3h.6m-.5-.5h.6m-.4 .1h.6m-.4 0h.6m-.6 .7h.6m-.4-.2h.6m-.6-.6h.6m-.5 0h.6m-.5 .1h.6m-.4 .3h.6m-.5 .4h.6m-.5-.8h.6m-.3 0h.6m-.5 .8h.6m-.4-.8h.6m-.6 .8h.6m-.5-.1h.6m-.6-.6h.6m-.6 .6h.6m-.4-.6h.6m-.5-.2h.6m0 .8h.6m-.6-.3h.6m-.6-.1h.6m-.4 .5h.6m-.5-.5h.6m-.4 .1h.6m-.2-.3h.6m-.4 0h.6m-.5 0h.6m-.4-.1h.6m-.4 0h.6m-.5 .6h.6m-.6-.5h.6m-.3 .6h.6m-.4-.1h.6m-.5 .1h.6m-.5-.8h.6m-.4 .8h.6m-.6-.6h.6m-.5-.2h.6m-.4 .3h.6m-.4-.3h.6m3.3 .1h.6m-.3 .4h.6m-.5 .2h.6m-55.4 .8h.6m8.2-.3h.6m2.6 .3h.6m1-.4h.6m-.5 .1h.6m0 .1h.6m-.5-.2h.6m-.6 .5h.6m-.2-.3h.6m-.2-.3h.6m.2 .7h.6m0-.5h.6m.2 .6h.6m-.5-.7h.6m-.4 .7h.6m-.4-.7h.6m.2-.1h.6m-.4 .5h.6m.1-.2h.6m-.6-.1h.6m.3 .4h.6m-.2-.5h.6m-.4 .1h.6m0-.1h.6m-.6 .2h.6m-.2 .2h.6m.2 .1h.6m-.4-.2h.6m.7 .4h.6m1.2-.6h.6m.1 .5h.6m-.5-.5h.6m-.2 .4h.6m-.6-.5h.6m-.1 .4h.6m.8 .1h.6m-.5-.2h.6m-.5-.3h.6m-.1 .4h.6m5 .1h.6m-.5 .3h.6m-.4-.7h.6m1.1 .4h.6m.4 .3h.6m.8-.8h.6m-.1 .1h.6m-.5 .6h.6m0-.3h.6m-.4-.3h.6m-.2 .1h.6m-.4 .4h.6m.1 .1h.6m-.3-.1h.6m-.5-.5h.6m-.5 .5h.6m-.3 .1h.6m-.3-.6h.6m-.5 .1h.6m-.6 .5h.6m-.5-.2h.6m-.1 .1h.6m-.6-.6h.6m-.5 .8h.6m-.5-.3h.6m-.6 .2h.6m-.6-.6h.6m-.5 .5h.6m-.6-.6h.6m-.6 .2h.6m-.5-.1h.6m-.4 .1h.6m-.6-.1h.6m-.4 .4h.6m-.6 .3h.6m-.6-.3h.6m-.2 .1h.6m-.5 0h.6m-.6-.1h.6m-.6 .2h.6m-.5-.8h.6m0 .9h.6m-.6-.6h.6m-.2 .2h.6m-.5-.2h.6m-.5 .5h.6m-.4-.4h.6m-.5 .5h.6m-.5-.3h.6m-.4-.3h.6m-.6 0h.6m-.5 .1h.6m-.3-.4h.6m-.4 .3h.6m-.5 .1h.6m-.3 .2h.6m-.2 .4h.6m-.3-.3h.6m-.6-.6h.6m.4 0h.6m-.3 .5h.6m-.4 .3h.6m.1-.4h.6m-.4-.3h.6m-.6 .1h.6m-.5 .3h.6m-49.1 1h.6m1.7 0h.6m.7-.3h.6m2.4 .5h.6m1.8-.2h.6m2.3 .2h.6m.1-.6h.6m-.2 .5h.6m.7-.6h.6m-.6 .4h.6m-.4-.4h.6m-.5 .5h.6m-.6 .1h.6m.4-.6h.6m.1-.1h.6m0 .7h.6m-.3-.1h.6m-.5 .1h.6m2.5-.5h.6m.4 .1h.6m.4-.1h.6m2.8 .2h.6m-.5-.2h.6m.6 .8h.6m-.4-.3h.6m.3-.1h.6m4.8-.5h.6m.2 .2h.6m-.5-.1h.6m1.2 .7h.6m-.4-.3h.6m-.2 .2h.6m0-.5h.6m-.5 .5h.6m-.2-.1h.6m-.5-.6h.6m-.6 .5h.6m-.5 .2h.6m-.3 .1h.6m-.2-.5h.6m-.3-.2h.6m-.5-.1h.6m-.1-.1h.6m-.6 .6h.6m-.5-.4h.6m-.4 .5h.6m-.6-.2h.6m-.6-.3h.6m-.3 .6h.6m-.6 .2h.6m-.3-.6h.6m-.5 .2h.6m-.6-.1h.6m-.5 .3h.6m-.6-.1h.6m-.6-.7h.6m-.3 .2h.6m-.5 .4h.6m-.6-.5h.6m-.6 .8h.6m-.6-.7h.6m-.3 .1h.6m-.6 .1h.6m-.1 .3h.6m-.5-.6h.6m-.3 0h.6m-.6 .7h.6m-.3 .1h.6m-.6-.4h.6m-.4-.2h.6m-.4 0h.6m-.5 .2h.6m-.5 .4h.6m-.4-.5h.6m-.6 .2h.6m-.5 .2h.6m-.5-.1h.6m-.5 0h.6m-.5 .3h.6m.1-.9h.6m-.6 .7h.6m-.5-.7h.6m-.4 .1h.6m-.3-.2h.6m.1 .7h.6m-.2-.4h.6m-.2 .6h.6m0-.4h.6m-.6-.5h.6m-.5 .2h.6m1.1 0h.6m-.3 .6h.6m-44.6 .3h.6m-.1 .4h.6m5.3 .2h.6m-.1 0h.6m.4 .2h.6m-.1-.3h.6m1.3-.5h.6m1.2 .6h.6m1.3-.5h.6m0 .5h.6m-.6-.3h.6m.9 .4h.6m.6-.5h.6m1.1 .4h.6m.2-.1h.6m.5-.1h.6m4.6 .3h.6m1.6-.6h.6m.6 .5h.6m-.2-.4h.6m.8 .1h.6m.9-.2h.6m-.4 .6h.6m-.4-.1h.6m-.3-.1h.6m-.6-.4h.6m-.3 .3h.6m-.1-.5h.6m-.4 .5h.6m-.1 .4h.6m-.3-.8h.6m-.5-.1h.6m-.6 .2h.6m-.3 .4h.6m-.3-.3h.6m0-.2h.6m-.3 .9h.6m-.3-.9h.6m-.6 .6h.6m-.5 .1h.6m-.6-.2h.6m-.4 .1h.6m-.5 .1h.6m-.6 0h.6m-.2-.5h.6m-.1-.3h.6m-.5 .3h.6m-.4 .6h.6m-.2 .1h.6m-.5-.6h.6m-.5-.2h.6m-.4 .8h.6m-.4-.7h.6m-.6 0h.6m-.5 .3h.6m-.2-.5h.6m-.6 .4h.6m-.6 .3h.6m-.4-.1h.6m-.4 0h.6m-.3-.4h.6m-.3-.2h.6m-.1 0h.6m-.1-.1h.6m.3 .1h.6m-.6 .8h.6m-.2-.2h.6m.5 .2h.6m-.6 0h.6m1.2-.3h.6m-48.6 .5h.6m2.9 0h.6m4 .7h.6m.2-.1h.6m3.4 0h.6m-.3 .1h.6m2.8-.4h.6m-.3 .1h.6m.9 .3h.6m.9-.1h.6m3.3 .2h.6m3.8-.7h.6m-.1-.1h.6m.7 .8h.6m-.1-.8h.6m.6 .6h.6m-.2-.5h.6m-.2 .2h.6m.9-.4h.6m-.5 .6h.6m-.3 .4h.6m-.3-.9h.6m-.6 .4h.6m-.5-.1h.6m-.5 .4h.6m-.6-.6h.6m-.5 .2h.6m-.4 .4h.6m-.5 .1h.6m-.4 0h.6m-.5-.9h.6m-.3 .9h.6m-.3-.4h.6m-.3 .3h.6m.3-.7h.6m-.3 .5h.6m-.6-.4h.6m-.6 0h.6m-.4-.2h.6m-.2 .6h.6m-.3 0h.6m-.4 0h.6m-.2-.3h.6m-.3 0h.6m-.6 0h.6m-.1 .4h.6m-.2-.2h.6m-.5 .1h.6m0-.4h.6m.8 .4h.6m-.2-.2h.6m-.5 0h.6m-.5 0h.6m-.1 .2h.6m-.6-.4h.6m0 .4h.6m-.5 .3h.6m.1-.4h.6m-.2 0h.6m-.5 .3h.6m.8-.6h.6m1.8 .1h.6m-.1 .3h.6m-45.2 1.4h.6m.2-.7h.6m16 .7h.6m9.7-.4h.6m.4-.1h.6m-.5 .5h.6m-.5-.9h.6m-.5 .9h.6m-.3-.5h.6m-.6-.3h.6m-.6 .2h.6m-.1 .3h.6m-.5-.1h.6m-.6-.5h.6m.4 .7h.6m-.3 0h.6m-.5-.7h.6m-.5 .1h.6m-.5 .7h.6m-.4 0h.6m-.5-.6h.6m.7 .6h.6m-.5 0h.6m-.6-.5h.6m-.3-.1h.6m.6-.3h.6m-.3 .1h.6m-.6 .4h.6m-.4-.4h.6m.5 .3h.6m0-.3h.6m-.4 .1h.6m-.3-.2h.6m.2 .5h.6m4 .1h.6m-36.7 1h.6m17.3 .1h.6m1.9 0h.6m.2-.7h.6m3.7 .7h.6m-.1-.3h.6m-.5 .2h.6m-.3 .3h.6m-.4-.5h.6m.1-.3h.6m0 .1h.6m-.5-.2h.6m-.2 .5h.6m-.2 .4h.6m0-.3h.6m-.4 .1h.6m-.6 .2h.6m-.5-.3h.6m-.6 .2h.6m-.3 0h.6m-28.6 .4h.6m18.5 .3h.6m-.1-.3h.6m.1 .7h.6m-.1-.7h.6m0 .4h.6m.2 .1h.6m.3-.2h.6m.2 .3h.6m-.2 .2h.6m.8-.6h.6m-.4-.3h.6m-.5 .5h.6m.5 .3h.6m-.5-.3h.6m.4 .4h.6m-.2-.8h.6m-.6-.2h.6m-.4 .4h.6m.9-.2h.6m0 .3h.6m-15 1.2h.6m3.5-.6h.6m-.2 .2h.6m.4-.2h.6m.3 .5h.6m-.3 .1h.6m1.2-.6h.6m.7 .4h.6m.1-.5h.6m-.1 .4h.6m0-.1h.6m.5-.2h.6m-11.3 1.5h.6m-.5 .3h.6m2.4-.5h.6m1.6-.1h.6m-.2 .5h.6m-.1-.4h.6m1.2-.3h.6m-.4 .4h.6m-.3 .4h.6m1.4-.6h.6m.1 .2h.6m2.7-.3h.6m-.4-.2h.6m-30.5 1.7h.6m13.1 .2h.6m3.9-.3h.6m2 .1h.6m.1-.2h.6m1.7 .5h.6m-.3-1h.6m-.2 .6h.6m-17.8 1.1h.6m7.3 .2h.6m7.8-.7h.6m-5 1.5h.6m7.4-.3h.6m1.7 .3h.6" stroke="#7A4266" stroke-width=".6" stroke-opacity=".38" fill="none"/>
<path d="M366.5 487h.5m40.9 1.7h.5m-46.9 .8h.5m5 .9h.5m-5.7 .5h.5m-4.7 .7h.5m4.1 1.7h.5m1.1 0h.5m-8.7 .8h.5m2.4-.5h.5m9.7 .1h.5m-20.3 .8h.5m1.7 .1h.5m3.6 .1h.5m.4 .6h.5m6.1-.5h.5m3.3 .5h.5m1.6 0h.5m.2 .5h.5m1.4 0h.5m27.4 .3h.5m-45.8 1.3h.5m6.5-.1h.5m1.5-.8h.5m-.2 .3h.5m-15.6 .8h.5m11 .1h.5m3.5 .3h.5m4.4-.1h.5m-8.5 .7h.5m1.7 .2h.5m7.9 .5h.5m-21.2 .7h.5m5.6-.4h.5m7.6 .1h.5m5.1 .4h.5m-19.9 .8h.5m15 0h.5m6.8 .5h.5m-.2-.1h.5m1.1-.3h.5m-23.8 1.5h.5m7.1 0h.5m5.5-.8h.5m8.7 0h.5m.4 .3h.5m-21.1 1.5h.5m5.7-.3h.5m.2-.3h.5m2.6-.3h.5m1.8 .7h.5m1.8-.1h.5m1.4 0h.5m5.3-.7h.5m-30.2 1.4h.5m10.1 .5h.5m-.1-.4h.5m1.5-.2h.5m0 .4h.5m.7-.3h.5m6.3 .3h.5m-.1-.3h.5m-.1 .5h.5m5.6 .1h.5m-21.9 .3h.5m3.2-.2h.5m6 .1h.5m2.2 .4h.5m4 .2h.5m.2-.2h.5m6-.1h.5m-30.3 .6h.5m1.4 .1h.5m4.4 .3h.5m-.1 .1h.5m3.3 0h.5m2.7 .1h.5m8.4-.1h.5m2.4-.4h.5m-19.9 1h.5m2.9 .1h.5m2 0h.5m-.1 0h.5m-.1 .7h.5m1.7-.3h.5m30.6-.2h.5m12.4 0h.5m-52.2 1.5h.5m1.8-.5h.5m.1-.1h.5m2.4 .4h.5m2.5 .1h.5m4.8 0h.5m4.8 .1h.5m-.4-.8h.5m3.8 .7h.5m-28.6 .4h.5m2.4-.2h.5m2 0h.5m1.2 .6h.5m3.3-.3h.5m3.6 0h.5m3.2 .1h.5m2.6-.4h.5m-21.2 1.6h.5m2 0h.5m3.6 0h.5m2.2 .2h.5m2.7-.7h.5m5.7 0h.5m2.6 .7h.5m-27.4 .5h.5m2.9 .2h.5m6.3-.3h.5m.2 .6h.5m-.4-.1h.5m2.8-.3h.5m1 .2h.5m-14 .8h.5m.5 .1h.5m10.1-.1h.5m7.6 0h.5m-16.3 .9h.5m12.5 0h.5m6.4-.1h.5m-26.4 .7h.5m12.2 .1h.5m9.7 .4h.5m-9.6 1.2h.5m0 0h.5m-5.9 .8h.5m3.8 1.4h.5m-11.4 .4h.5m.7 .7h.5m2.8-.1h.5m11.4-.8h.5m7 .4h.5m13.1 .3h.5m2.3-.3h.5m-44.1 1.4h.5m5.3-.9h.5m4.5 .9h.5m9.3-.7h.5m3.1 0h.5m.5 .5h.5m-16.8 .4h.5m2.2 .3h.5m.1 .2h.5m15.8-.4h.5m-5.7 1.3h.5m7.1-.1h.5m32.5 .6h.5m-58.4 .1h.5m-1.1 1.7h.5m58.5-.8h.5m8.1 .5h.5m-50.5 1.2h.5m3.6 .1h.5m-27.6 4.1h.5m43.5 0h.5m-27.5 .6h.5m-9.6 1.2h.5m5.4 0h.5m22.7-.4h.5m-23.4 1.9h.5m22 1.2h.5m22.1 .1h.5m-39.2 .7h.5m29.4 0h.5m-27.4 1.2h.5m-18.9 2.4h.5m13 .1h.5m7.6-.6h.5m4.9 0h.5m-21.1 1.4h.5m15.2 .3h.5m22.2-.9h.5m8.2 .2h.5m-18.4 .9h.5m14.7 .3h.5m-44.6 1.1h.5m1.4 .1h.5m30.7 .2h.5m5.3 0h.5m-5.4 1h.5m2.6-.6h.5m15.2 .7h.5m-37.2 .9h.5m30.2-.3h.5m-33.2 1.1h.5m5.9 0h.5m12.2-.4h.5m12.4 .4h.5m-39.4 .5h.5m2.8 1.4h.5m4.1 .3h.5m11.4-.1h.5m5.1-.8h.5m6.6 .9h.5m-.4-.3h.5m19.1-.3h.5m-61.3 1.7h.5m4.4-.1h.5m4.9-.7h.5m1.2 .6h.5m14.1-.8h.5m5.4 .9h.5m4.5-.3h.5m14.2-.6h.5m-51.7 1.3h.5m2-.1h.5m5.3 .6h.5m5.6-.1h.5m7.3-.5h.5m3.7 0h.5m3.2 0h.5m3.1 .7h.5m1.2-.5h.5m5.3 .3h.5m9-.3h.5m-42.6 1h.5m2.6 0h.5m1.9-.4h.5m1.4 .5h.5m4 .3h.5m6-.7h.5m3.8 0h.5m.3 .7h.5m4.5-.4h.5m8.3-.2h.5m-51.4 1.2h.5m1.7 .5h.5m5.9-.2h.5m2.1 0h.5m9.9-.3h.5m.2-.2h.5m12.6 .2h.5m1.5-.2h.5m2.5 .6h.5m5.4-.3h.5m-.4-.3h.5m.8 .4h.5m1.8-.3h.5m3.6-.2h.5m8.4 .9h.5m-71.5 .1h.5m14.4 .7h.5m4.9-.6h.5m3.5 .7h.5m-.4 0h.5m10.3-.3h.5m-.5-.2h.5m12.9 .5h.5m0-.8h.5m6.7 .8h.5m7.2-.9h.5m-57.4 1.6h.5m6.9 .1h.5m1.4-.5h.5m5.8 .3h.5m1.8 .4h.5m2.3 0h.5m.2 .1h.5m4.5-.9h.5m-.2 .3h.5m7.9 .5h.5m7-.4h.5m.3-.3h.5m0-.1h.5m.8 .3h.5m1.4-.1h.5m-.5 .4h.5m2.5 .2h.5m-45.2 .5h.5m.3-.2h.5m1.7-.1h.5m2.3 .4h.5m3.6-.4h.5m7.3 .2h.5m-.3-.1h.5m-.4 .3h.5m.1-.3h.5m.4-.2h.5m3.2 .8h.5m4.2-.2h.5m.2-.3h.5m5.9 .6h.5m1.6-.9h.5m.2 .5h.5m1.7-.4h.5m.6 .8h.5m.3-.4h.5m-49.2 1.4h.5m-.2-.7h.5m8.7 .7h.5m1-.3h.5m1.8-.4h.5m1.9 .4h.5m-.2-.2h.5m4.6-.4h.5m.9 .6h.5m-.3-.4h.5m3.2 .2h.5m-.1 .3h.5m5.3-.6h.5m5 .8h.5m.3-.7h.5m-.3-.1h.5m.6 .5h.5m1.4 0h.5m-.3-.3h.5m1.7-.1h.5m1.4 .7h.5m.1-.7h.5m6.4 .3h.5m-57.2 1.2h.5m12.9 .2h.5m2.1-.1h.5m6.4-.2h.5m.6-.2h.5m.7-.3h.5m-.2 .8h.5m.4-.5h.5m9.9 .1h.5m.3 .3h.5m-.3-.6h.5m1 .1h.5m3.5 .7h.5m1.9-.5h.5m-.4-.3h.5m1.8 .1h.5m6.3-.3h.5m.6 .3h.5m-54.5 1.2h.5m0 .3h.5m9.4 .2h.5m4.7-.1h.5m-.3-.2h.5m.9 0h.5m0-.2h.5m.6 0h.5m.6 .2h.5m-.2-.3h.5m7.3 .5h.5m4.6-.7h.5m.9 .1h.5m1.6 .6h.5m.5-.6h.5m.6-.2h.5m4.9-.1h.5m1.8 .1h.5m.5 0h.5m.7 .5h.5m-.5-.1h.5m-.3-.3h.5m4.7 .7h.5m.6-.5h.5m-.4-.2h.5m3.4 .4h.5m6.3-.5h.5m-70.3 1.1h.5m-.1 .2h.5m1.5-.1h.5m14.4 .1h.5m4 .5h.5m0 .1h.5m4.2 0h.5m-.1 0h.5m0-.8h.5m2.8 .4h.5m-.2-.1h.5m4.6-.5h.5m.6 .8h.5m4.3 0h.5m2 0h.5m-.3-.1h.5m6 .1h.5m.5-.3h.5m.7 .2h.5m1.3 .3h.5m.5-.1h.5m-52.8 .7h.5m3 .1h.5m.5-.5h.5m.6 .6h.5m3.1-.3h.5m6.9 .5h.5m1.1-.8h.5m1.2 .1h.5m.7 0h.5m-.4 .5h.5m-.1-.6h.5m.1-.1h.5m1.2 .4h.5m.4-.4h.5m8.2 .7h.5m1.2-.4h.5m1.1 .3h.5m1 .3h.5m.4-.6h.5m2.3 .3h.5m1.5-.2h.5m1.8-.1h.5m1.7 .4h.5m2.4-.8h.5m5.3 .4h.5m.2-.2h.5m-58.5 1.6h.5m1.3-.2h.5m8.4-.2h.5m1.4 0h.5m-.3-.2h.5m3.1 .4h.5m6.9-.2h.5m-.3-.1h.5m.7-.2h.5m3.9 .2h.5m.7 .4h.5m2.2-.6h.5m1.4 .1h.5m1 .3h.5m1.4 .2h.5m1.1-.3h.5m.8-.3h.5m-.2 .6h.5m-.3-.1h.5m-.1-.5h.5m.6 .1h.5m3.5 .6h.5m6.6-.4h.5m-56.2 1.2h.5m4.6-.3h.5m2.4 0h.5m3.5 .5h.5m-.4-.4h.5m1.4 .6h.5m1.3-.3h.5m.7 0h.5m1.6-.5h.5m0 .1h.5m-.3 .3h.5m.4-.4h.5m5.2 .1h.5m1.7 .5h.5m-.4 .1h.5m4.7 .1h.5m.3-.4h.5m3-.1h.5m3 .2h.5m3.6-.5h.5m.9 .4h.5m.9-.6h.5m-.4 .3h.5m2 .6h.5m.3-.1h.5m5.3-.4h.5m3.4 .4h.5m-59.3 .8h.5m3.3 .3h.5m2.8-.5h.5m-.3 .4h.5m2.6-.8h.5m.1 .1h.5m2.7-.1h.5m1.4 .3h.5m2.6 .3h.5m3.1 .4h.5m2.5-.5h.5m-.5 .4h.5m.6-.5h.5m11 .2h.5m2 .4h.5m1.2-.9h.5m.3 0h.5m.3 .5h.5m3.9-.5h.5m-42.6 1.1h.5m0 0h.5m8.5 .2h.5m0 .1h.5m.6 0h.5m0-.5h.5m2.2 .9h.5m.3-.4h.5m4.4 .5h.5m3.7-.7h.5m7.4-.1h.5m.3 0h.5m.1 .2h.5m5.8-.4h.5m.8 .4h.5m1.2 .3h.5m1.7-.4h.5m-47.7 1.6h.5m6-.1h.5m1.8-.4h.5m3.3 .3h.5m1.2-.6h.5m6.1 .2h.5m.7 .4h.5m13.8-.3h.5m2.4 0h.5m-.4 .3h.5m0 .3h.5m2.2 0h.5m.4-.3h.5m1.5-.2h.5m7.2 .2h.5m-47.6 .7h.5m.8 .4h.5m3.1-.6h.5m-.5 .3h.5m7.2-.1h.5m1.2 .6h.5m4.1-1h.5m8.7 .4h.5m2.1 .3h.5m3 .3h.5m4.8-.9h.5m-25.7 .9h.5m3.4 .7h.5m8.6-.1h.5m.1 .2h.5m.4 0h.5m6.8 .1h.5m.1-.6h.5m5.3 .3h.5m.1 0h.5m-47.8 1.2h.5m0-.8h.5m6.8 .9h.5m4.1 0h.5m-.4-.5h.5m.9-.1h.5m3.8-.1h.5m1.3 0h.5m16.4 .1h.5m-.5-.1h.5m4.5 .6h.5m2.4 .1h.5m.8-.8h.5m1.8 .3h.5m1.7 0h.5m2.9 .1h.5m-53.2 .7h.5m9.6 .2h.5m1.8-.2h.5m16 .6h.5m3-.2h.5m-.1-.2h.5m2.5-.3h.5m2.5 .5h.5m.9 .4h.5m1.2 0h.5m1.1-.7h.5m1.6 0h.5m-.1 .1h.5m-42.7 .6h.5m12 .9h.5m0-.2h.5m6.6-.7h.5m12.7 .9h.5m.4-.4h.5m3.2 .3h.5m.4-.5h.5m9.8 .7h.5m-58.6 .1h.5m27.3 .2h.5m.2 0h.5m8.5 0h.5m3.3 .2h.5m.5 .1h.5m1.2 .1h.5m3.3-.4h.5m3.6 .4h.5m-24.8 1.2h.5m7.4 0h.5m9.5-.2h.5m-45.9 .7h.5m3-.4h.5m28.2 .6h.5m1.6-.4h.5m.4 .1h.5m5.7-.3h.5m-.4 .1h.5m.7 .7h.5m1.5-.1h.5m-26.3 .5h.5m4.8 .3h.5m6.6 .3h.5m-2.2 .7h.5m10-.2h.5m-8.1 1h.5m2.2 .6h.5m2.3-.5h.5m5.1 .3h.5" stroke="#8f8290" stroke-width=".5" stroke-opacity=".5" fill="none"/>
<rect x="345.6" y="485.6" width="96.89999999999998" height="88.60000000000002" fill="none" stroke="#000" stroke-width="1.3"/>
<line x1="345.6" y1="485.40000000000003" x2="345.6" y2="574.8000000000001" stroke="#1c1c1c" stroke-width="1.3"/>
<line x1="345.0" y1="574.2" x2="442.5" y2="574.2" stroke="#1c1c1c" stroke-width="1.3"/>
<rect x="346.9" y="488" width="31.80000000000001" height="31.299999999999955" fill="none" stroke="#1c1c1c" stroke-width="1.7"/>
<line x1="430.4" y1="516.6" x2="414.1868361508578" y2="527.1301992009893" stroke="#1c1c1c" stroke-width="1.1"/>
<polygon points="411,529.2 413.77,525.02 415.95,528.37" fill="#1c1c1c"/>
<line x1="342.6" y1="493.7" x2="345.6" y2="493.7" stroke="#1c1c1c" stroke-width="0.9"/>
<text x="339.20000000000005" y="495.3" font-size="4.6" text-anchor="end" fill="#262626">10<tspan font-size="3" dy="-1.8">5</tspan></text>
<line x1="342.6" y1="513" x2="345.6" y2="513" stroke="#1c1c1c" stroke-width="0.9"/>
<text x="339.20000000000005" y="514.6" font-size="4.6" text-anchor="end" fill="#262626">10<tspan font-size="3" dy="-1.8">4</tspan></text>
<line x1="342.6" y1="534" x2="345.6" y2="534" stroke="#1c1c1c" stroke-width="0.9"/>
<text x="339.20000000000005" y="535.6" font-size="4.6" text-anchor="end" fill="#262626">10<tspan font-size="3" dy="-1.8">3</tspan></text>
<line x1="342.6" y1="555.6" x2="345.6" y2="555.6" stroke="#1c1c1c" stroke-width="0.9"/>
<text x="339.20000000000005" y="557.2" font-size="4.6" text-anchor="end" fill="#262626">10<tspan font-size="3" dy="-1.8">2</tspan></text>
<line x1="342.6" y1="563.7" x2="345.6" y2="563.7" stroke="#1c1c1c" stroke-width="0.9"/>
<text x="339.20000000000005" y="565.3000000000001" font-size="4.6" text-anchor="end" fill="#262626">0</text>
<line x1="342.6" y1="573.6" x2="345.6" y2="573.6" stroke="#1c1c1c" stroke-width="0.9"/>
<text x="339.20000000000005" y="575.2" font-size="4.6" text-anchor="end" fill="#262626">-134</text>
<line x1="344.0" y1="507.19012108368514" x2="345.6" y2="507.19012108368514" stroke="#1c1c1c" stroke-width="0.6"/>
<line x1="344.0" y1="503.7915597839105" x2="345.6" y2="503.7915597839105" stroke="#1c1c1c" stroke-width="0.6"/>
<line x1="344.0" y1="501.38024216737034" x2="345.6" y2="501.38024216737034" stroke="#1c1c1c" stroke-width="0.6"/>
<line x1="344.0" y1="499.50987891631485" x2="345.6" y2="499.50987891631485" stroke="#1c1c1c" stroke-width="0.6"/>
<line x1="344.0" y1="497.9816808675957" x2="345.6" y2="497.9816808675957" stroke="#1c1c1c" stroke-width="0.6"/>
<line x1="344.0" y1="496.68960782772484" x2="345.6" y2="496.68960782772484" stroke="#1c1c1c" stroke-width="0.6"/>
<line x1="344.0" y1="495.5703632510555" x2="345.6" y2="495.5703632510555" stroke="#1c1c1c" stroke-width="0.6"/>
<line x1="344.0" y1="494.58311956782103" x2="345.6" y2="494.58311956782103" stroke="#1c1c1c" stroke-width="0.6"/>
<line x1="344.0" y1="527.6783700910564" x2="345.6" y2="527.6783700910564" stroke="#1c1c1c" stroke-width="0.6"/>
<line x1="344.0" y1="523.9804536508871" x2="345.6" y2="523.9804536508871" stroke="#1c1c1c" stroke-width="0.6"/>
<line x1="344.0" y1="521.3567401821128" x2="345.6" y2="521.3567401821128" stroke="#1c1c1c" stroke-width="0.6"/>
<line x1="344.0" y1="519.3216299089436" x2="345.6" y2="519.3216299089436" stroke="#1c1c1c" stroke-width="0.6"/>
<line x1="344.0" y1="517.6588237419435" x2="345.6" y2="517.6588237419435" stroke="#1c1c1c" stroke-width="0.6"/>
<line x1="344.0" y1="516.2529411597006" x2="345.6" y2="516.2529411597006" stroke="#1c1c1c" stroke-width="0.6"/>
<line x1="344.0" y1="515.0351102731692" x2="345.6" y2="515.0351102731692" stroke="#1c1c1c" stroke-width="0.6"/>
<line x1="344.0" y1="513.9609073017742" x2="345.6" y2="513.9609073017742" stroke="#1c1c1c" stroke-width="0.6"/>
<line x1="344.0" y1="549.0977520936581" x2="345.6" y2="549.0977520936581" stroke="#1c1c1c" stroke-width="0.6"/>
<line x1="344.0" y1="545.2941808980553" x2="345.6" y2="545.2941808980553" stroke="#1c1c1c" stroke-width="0.6"/>
<line x1="344.0" y1="542.595504187316" x2="345.6" y2="542.595504187316" stroke="#1c1c1c" stroke-width="0.6"/>
<line x1="344.0" y1="540.502247906342" x2="345.6" y2="540.502247906342" stroke="#1c1c1c" stroke-width="0.6"/>
<line x1="344.0" y1="538.7919329917133" x2="345.6" y2="538.7919329917133" stroke="#1c1c1c" stroke-width="0.6"/>
<line x1="344.0" y1="537.3458823356921" x2="345.6" y2="537.3458823356921" stroke="#1c1c1c" stroke-width="0.6"/>
<line x1="344.0" y1="536.0932562809741" x2="345.6" y2="536.0932562809741" stroke="#1c1c1c" stroke-width="0.6"/>
<line x1="344.0" y1="534.9883617961106" x2="345.6" y2="534.9883617961106" stroke="#1c1c1c" stroke-width="0.6"/>
<rect x="342.3" y="562.8000000000001" width="3.3" height="1.8" fill="#1c1c1c"/>
<line x1="353.7" y1="574.2" x2="353.7" y2="576.8000000000001" stroke="#1c1c1c" stroke-width="0.9"/>
<text x="353.7" y="585.2" font-size="4.6" text-anchor="middle" fill="#262626">0</text>
<line x1="367.1" y1="574.2" x2="367.1" y2="576.8000000000001" stroke="#1c1c1c" stroke-width="0.9"/>
<text x="367.1" y="585.2" font-size="4.6" text-anchor="middle" fill="#262626">10<tspan font-size="3" dy="-1.8">2</tspan></text>
<line x1="389.5" y1="574.2" x2="389.5" y2="576.8000000000001" stroke="#1c1c1c" stroke-width="0.9"/>
<text x="389.5" y="585.2" font-size="4.6" text-anchor="middle" fill="#262626">10<tspan font-size="3" dy="-1.8">3</tspan></text>
<line x1="411.5" y1="574.2" x2="411.5" y2="576.8000000000001" stroke="#1c1c1c" stroke-width="0.9"/>
<text x="411.5" y="585.2" font-size="4.6" text-anchor="middle" fill="#262626">10<tspan font-size="3" dy="-1.8">4</tspan></text>
<line x1="433.1" y1="574.2" x2="433.1" y2="576.8000000000001" stroke="#1c1c1c" stroke-width="0.9"/>
<text x="433.1" y="585.2" font-size="4.6" text-anchor="middle" fill="#262626">10<tspan font-size="3" dy="-1.8">5</tspan></text>
<rect x="345.6" y="574.2" width="21.5" height="1.7" fill="#666"/>
<line x1="373.8430719028732" y1="574.2" x2="373.8430719028732" y2="575.8000000000001" stroke="#1c1c1c" stroke-width="0.6"/>
<line x1="377.78751610572044" y1="574.2" x2="377.78751610572044" y2="575.8000000000001" stroke="#1c1c1c" stroke-width="0.6"/>
<line x1="380.58614380574636" y1="574.2" x2="380.58614380574636" y2="575.8000000000001" stroke="#1c1c1c" stroke-width="0.6"/>
<line x1="382.75692809712683" y1="574.2" x2="382.75692809712683" y2="575.8000000000001" stroke="#1c1c1c" stroke-width="0.6"/>
<line x1="384.5305880085936" y1="574.2" x2="384.5305880085936" y2="575.8000000000001" stroke="#1c1c1c" stroke-width="0.6"/>
<line x1="386.03019609631934" y1="574.2" x2="386.03019609631934" y2="575.8000000000001" stroke="#1c1c1c" stroke-width="0.6"/>
<line x1="387.32921570861953" y1="574.2" x2="387.32921570861953" y2="575.8000000000001" stroke="#1c1c1c" stroke-width="0.6"/>
<line x1="388.47503221144086" y1="574.2" x2="388.47503221144086" y2="575.8000000000001" stroke="#1c1c1c" stroke-width="0.6"/>
<line x1="396.1226599046076" y1="574.2" x2="396.1226599046076" y2="575.8000000000001" stroke="#1c1c1c" stroke-width="0.6"/>
<line x1="399.9966676038326" y1="574.2" x2="399.9966676038326" y2="575.8000000000001" stroke="#1c1c1c" stroke-width="0.6"/>
<line x1="402.7453198092152" y1="574.2" x2="402.7453198092152" y2="575.8000000000001" stroke="#1c1c1c" stroke-width="0.6"/>
<line x1="404.8773400953924" y1="574.2" x2="404.8773400953924" y2="575.8000000000001" stroke="#1c1c1c" stroke-width="0.6"/>
<line x1="406.61932750844016" y1="574.2" x2="406.61932750844016" y2="575.8000000000001" stroke="#1c1c1c" stroke-width="0.6"/>
<line x1="408.09215688031367" y1="574.2" x2="408.09215688031367" y2="575.8000000000001" stroke="#1c1c1c" stroke-width="0.6"/>
<line x1="409.36797971382276" y1="574.2" x2="409.36797971382276" y2="575.8000000000001" stroke="#1c1c1c" stroke-width="0.6"/>
<line x1="410.49333520766515" y1="574.2" x2="410.49333520766515" y2="575.8000000000001" stroke="#1c1c1c" stroke-width="0.6"/>
<line x1="418.002247906342" y1="574.2" x2="418.002247906342" y2="575.8000000000001" stroke="#1c1c1c" stroke-width="0.6"/>
<line x1="421.80581910194473" y1="574.2" x2="421.80581910194473" y2="575.8000000000001" stroke="#1c1c1c" stroke-width="0.6"/>
<line x1="424.504495812684" y1="574.2" x2="424.504495812684" y2="575.8000000000001" stroke="#1c1c1c" stroke-width="0.6"/>
<line x1="426.597752093658" y1="574.2" x2="426.597752093658" y2="575.8000000000001" stroke="#1c1c1c" stroke-width="0.6"/>
<line x1="428.30806700828674" y1="574.2" x2="428.30806700828674" y2="575.8000000000001" stroke="#1c1c1c" stroke-width="0.6"/>
<line x1="429.75411766430796" y1="574.2" x2="429.75411766430796" y2="575.8000000000001" stroke="#1c1c1c" stroke-width="0.6"/>
<line x1="431.006743719026" y1="574.2" x2="431.006743719026" y2="575.8000000000001" stroke="#1c1c1c" stroke-width="0.6"/>
<line x1="432.1116382038894" y1="574.2" x2="432.1116382038894" y2="575.8000000000001" stroke="#1c1c1c" stroke-width="0.6"/>
<text x="346.4" y="590.5" font-size="4.6" text-anchor="middle" fill="#262626">-53</text>
<ellipse cx="370" cy="675" rx="12" ry="6.7" fill="url(#cg)" opacity="0.85" transform="rotate(-8 370 675)"/>
<ellipse cx="408" cy="676" rx="6" ry="9.5" fill="url(#cg)" opacity="0.85" transform="rotate(0 408 676)"/>
<path d="M354.7 643.5h.6m41.7 .3h.6m5.8 5.3h.6m-32.1 3h.6m-2.5 2.4h.6m1.9 1.1h.6m1.9 .4h.6m34 .7h.6m-12 2.5h.6m8.1 0h.6m1.1 0h.6m-7.6 .9h.6m4.4 .5h.6m-24.8 1.2h.6m29.7 .1h.6m-46.8 1.4h.6m15.5-.6h.6m21.7 .5h.6m.4 .1h.6m.6-.3h.6m.3 .5h.6m-.1-.3h.6m1.4 .3h.6m4.3-.5h.6m-47.8 1.1h.6m2.9-.2h.6m3.1-.2h.6m11 .8h.6m11.2-.8h.6m6 .4h.6m2.2 0h.6m.7-.3h.6m-52.9 .8h.6m9.9 .6h.6m5.1-.4h.6m.1 0h.6m-.4 .3h.6m.1 .3h.6m-.5-.3h.6m.3 .3h.6m.3-.1h.6m25-.6h.6m2.4 .5h.6m-.2-.6h.6m.5 .2h.6m.7 .3h.6m-.5-.2h.6m-.1 .4h.6m.8 .1h.6m-.5-.6h.6m-.6-.2h.6m-.6 .4h.6m.1 .2h.6m-.3 .1h.6m-.2-.5h.6m0 .2h.6m0-.5h.6m0 .4h.6m1.3-.3h.6m-54.4 1.7h.6m4.8-.3h.6m1.4-.4h.6m2.1 .9h.6m.5-.5h.6m1.1-.3h.6m.2 .7h.6m.8 0h.6m23.6 .1h.6m1.3-.2h.6m1.3-.6h.6m-.3 .7h.6m-.5-.4h.6m.3-.3h.6m.3-.1h.6m-.5 .3h.6m-.1-.2h.6m-.4 .7h.6m-.4 .1h.6m-.5-.8h.6m.2-.1h.6m-.4 .3h.6m.9 .3h.6m-.6-.5h.6m-.2 .6h.6m-.5 .1h.6m2.2 0h.6m-.3-.9h.6m-51.6 1.7h.6m3.5-.4h.6m.1-.2h.6m.4 .4h.6m-.5 .3h.6m-.1-.1h.6m.9 .2h.6m-.2-.8h.6m.2 0h.6m-.4-.1h.6m2.1 0h.6m-.4 .3h.6m1.8 0h.6m-.2-.2h.6m1.3 .8h.6m-.4 0h.6m.7-.1h.6m2.7-.3h.6m10.8-.3h.6m4.8 .3h.6m-.5 .3h.6m.1-.1h.6m3.7-.5h.6m-.1-.2h.6m-.2 .1h.6m-.2 .6h.6m-.2 .2h.6m-.1-.3h.6m2.3 .2h.6m-.5-.7h.6m2.7 .5h.6m-57.8 .6h.6m.1 .1h.6m2.7 .5h.6m1.8-.7h.6m1.4 .2h.6m1.1 .1h.6m-.1 .2h.6m-.3-.5h.6m-.2 .6h.6m-.2 .2h.6m.5-.8h.6m-.4 .8h.6m.2-.2h.6m-.3-.5h.6m-.4-.2h.6m1 .7h.6m1.5 0h.6m.3 0h.6m-.2 .1h.6m-.2-.3h.6m-.6-.2h.6m.5 .1h.6m-.4 .1h.6m5.2-.4h.6m.9 .3h.6m9.7-.3h.6m4.2 .8h.6m.3-.1h.6m.1-.2h.6m-.1-.6h.6m-.4 .9h.6m-.1 .1h.6m-.1-.2h.6m.2-.4h.6m0 .1h.6m-.5-.4h.6m-.3 .2h.6m-.2-.1h.6m-.4 .1h.6m-.5 .5h.6m-.2-.7h.6m-.5 .5h.6m0 .2h.6m-.6 .1h.6m-.3-.6h.6m-.1 .4h.6m-.3-.2h.6m-.2 0h.6m-.5 .4h.6m-.5-.4h.6m-.5 .1h.6m-.4-.3h.6m-.5 .7h.6m-.6-.8h.6m-.5 .6h.6m-.3-.2h.6m-.6-.5h.6m-.3 .3h.6m-.2-.3h.6m-.5 .7h.6m.1-.4h.6m1.4-.4h.6m-.3 .5h.6m3 .3h.6m-59.6 .6h.6m-.4 0h.6m-.3-.4h.6m1.3 .7h.6m.3 .1h.6m-.1-.5h.6m0 .6h.6m.1-.3h.6m.1 .2h.6m-.3 0h.6m-.2-.6h.6m0 0h.6m-.5 .3h.6m-.5-.4h.6m.2 .6h.6m.4 .2h.6m.2-.5h.6m-.5-.2h.6m.4 .5h.6m-.4 .1h.6m-.5-.8h.6m0 .6h.6m-.3-.1h.6m-.4 .1h.6m-.5 .3h.6m-.6-.5h.6m-.2 .5h.6m-.3-.3h.6m-.2-.1h.6m.2 .3h.6m-.5-.3h.6m-.5-.4h.6m-.2 .1h.6m-.1 .6h.6m-.5-.5h.6m-.3 .7h.6m-.6-.6h.6m-.1 .1h.6m-.6 .2h.6m-.3-.1h.6m-.5 0h.6m-.6 .2h.6m-.4 .2h.6m-.3-.1h.6m0 0h.6m-.5-.9h.6m-.4 .3h.6m-.3 .4h.6m-.5 .3h.6m-.1-.1h.6m-.3-.4h.6m-.1 .3h.6m.5-.4h.6m.1-.1h.6m-.5 0h.6m-.3 .2h.6m-.5 .1h.6m.7 0h.6m1.4-.4h.6m3.8 .5h.6m11-.1h.6m.3-.1h.6m-.3 0h.6m-.2 .5h.6m-.5-.6h.6m.1 .1h.6m-.1-.5h.6m.6 .7h.6m-.3-.1h.6m-.2 .2h.6m-.4 0h.6m-.6 .1h.6m-.1 0h.6m0 0h.6m-.6-.5h.6m-.5 .1h.6m-.5-.2h.6m-.2 .6h.6m-.4-.1h.6m-.5 .1h.6m-.4-.1h.6m-.4 .1h.6m-.5-.5h.6m-.4 .2h.6m-.6 .3h.6m-.6-.8h.6m-.5 .4h.6m-.5 .3h.6m-.4 .2h.6m-.4-.8h.6m-.1 .6h.6m-.6 .1h.6m-.4-.3h.6m.2-.5h.6m-.5 .3h.6m-.5-.1h.6m-.4-.1h.6m.1-.1h.6m.4 .6h.6m-.6-.7h.6m.3 0h.6m1.4 .9h.6m.9-.4h.6m-59.1 1h.6m-.5-.3h.6m.5 0h.6m-.1 .7h.6m.6-.7h.6m-.6 .6h.6m-.5-.6h.6m-.5 .4h.6m0-.3h.6m-.5 .4h.6m-.2 .1h.6m.5-.2h.6m-.4 .3h.6m-.4-.7h.6m-.6 .5h.6m-.5 .1h.6m-.4-.1h.6m-.5 .2h.6m-.5-.6h.6m-.5 .1h.6m-.4 .3h.6m-.5 0h.6m-.6-.2h.6m-.4 .1h.6m-.5 .4h.6m-.5-.9h.6m-.4 .8h.6m-.5-.4h.6m-.2 .4h.6m-.6 0h.6m-.5-.7h.6m-.5 .2h.6m-.6 .2h.6m-.3 .2h.6m-.4 .1h.6m-.2-.2h.6m-.5-.3h.6m0-.2h.6m-.4 0h.6m-.3 .7h.6m-.5-.5h.6m-.4 .1h.6m-.6 .1h.6m-.2-.2h.6m-.6 0h.6m-.6 .3h.6m-.2 .1h.6m-.4-.6h.6m-.5 .1h.6m-.6 .7h.6m-.6-.5h.6m-.3 .3h.6m-.5-.5h.6m-.5 .5h.6m-.4-.5h.6m-.4-.2h.6m-.6 .5h.6m-.6 .1h.6m-.5-.5h.6m0 .7h.6m-.6-.5h.6m-.3 .1h.6m-.6-.3h.6m-.4 .5h.6m-.2 .2h.6m-.4-.8h.6m-.5 0h.6m-.5 .6h.6m-.5 .1h.6m-.4 .1h.6m-.5-.4h.6m-.5 0h.6m-.6-.3h.6m-.5 .2h.6m-.5-.3h.6m-.4 .6h.6m-.5-.7h.6m-.5 .3h.6m-.5-.3h.6m-.5 .6h.6m-.6 .4h.6m-.4-.2h.6m-.3-.3h.6m-.6-.3h.6m-.4 .8h.6m-.2-.9h.6m-.6 .9h.6m-.6-1h.6m-.5 .2h.6m-.4 .7h.6m-.2-.5h.6m-.5 .5h.6m-.6 0h.6m-.5-.3h.6m-.3 .3h.6m-.4-.4h.6m-.5 .2h.6m-.5 0h.6m-.6-.3h.6m-.3 .2h.6m-.5-.1h.6m-.4 0h.6m-.3 .4h.6m-.5 0h.6m-.4-.8h.6m-.5 .7h.6m-.1 .2h.6m-.5-.1h.6m-.4-.4h.6m-.4-.1h.6m-.3-.3h.6m-.4 .9h.6m.2-1h.6m.3 .3h.6m.6 .3h.6m-.1 0h.6m.8 .3h.6m.1 0h.6m1.2-.1h.6m2.4 .1h.6m10.2-.6h.6m0 .5h.6m-.5-.3h.6m.2-.4h.6m-.3 .3h.6m-.3-.2h.6m-.5 0h.6m-.1 .5h.6m-.6-.3h.6m-.4-.3h.6m-.2 0h.6m-.4 .7h.6m-.3-.4h.6m-.5 0h.6m-.3 .1h.6m-.5 0h.6m-.6 .1h.6m-.3 .1h.6m-.6 .1h.6m-.6-.7h.6m-.2 .3h.6m-.3-.4h.6m-.3 .3h.6m-.6 .4h.6m-.2-.5h.6m-.3 .2h.6m-.3-.1h.6m.1 .1h.6m-.5 .2h.6m-.6-.3h.6m-.6 .3h.6m-.5 0h.6m-.5 .2h.6m-.3-.4h.6m-.1 .3h.6m-.6 .2h.6m-.5-.4h.6m-.3-.2h.6m-.6 .5h.6m-.5-.2h.6m-.4-.4h.6m-.6 .5h.6m-.5 .1h.6m-.5-.5h.6m-.3 .3h.6m-.3-.4h.6m-.6 .1h.6m-.4 .4h.6m-.5 .1h.6m-.2-.5h.6m-.4 .3h.6m-.1 .2h.6m-.5 0h.6m-.5-.5h.6m-.4 .1h.6m-.3-.1h.6m-.6-.1h.6m.3 .3h.6m1.6 .5h.6m-59.6 0h.6m2.1 .5h.6m-.3-.5h.6m.3 .5h.6m-.6-.1h.6m-.4 .5h.6m-.2-.3h.6m-.2-.5h.6m-.5 .3h.6m-.5 .2h.6m-.5-.6h.6m-.5 .7h.6m-.2-.6h.6m-.1 .6h.6m.4 .3h.6m-.4-.7h.6m-.3 .3h.6m-.4-.1h.6m-.6-.5h.6m-.6 .8h.6m-.6 0h.6m-.4 .2h.6m-.3-.6h.6m-.6 .4h.6m-.6-.1h.6m-.5-.5h.6m-.4 .1h.6m-.5 .6h.6m-.6-.1h.6m-.3 .1h.6m-.6-.4h.6m-.3-.4h.6m-.6 .2h.6m.2 .3h.6m-.6-.1h.6m-.4 .3h.6m-.2-.8h.6m-.5 0h.6m-.5 0h.6m-.6 .9h.6m-.4-.5h.6m-.4 .2h.6m-.6-.5h.6m-.5 .7h.6m-.3-.1h.6m-.6 .3h.6m-.6-.6h.6m-.5 .2h.6m-.5 0h.6m-.6-.4h.6m-.5 .5h.6m-.5 .3h.6m-.4 0h.6m-.4-.9h.6m-.3 .2h.6m-.4 .2h.6m-.6-.4h.6m-.6 .1h.6m-.4 .5h.6m-.4-.2h.6m-.5 .4h.6m-.6-.6h.6m-.6 .5h.6m-.5-.2h.6m-.4-.3h.6m-.1 .1h.6m-.6 .5h.6m-.6-.5h.6m-.6-.4h.6m-.5 .9h.6m-.5-.4h.6m-.6 0h.6m-.2-.1h.6m-.3 .4h.6m-.4 0h.6m-.5 .2h.6m-.5-.4h.6m-.6-.4h.6m-.5 .5h.6m-.5 0h.6m-.1-.3h.6m-.3 .3h.6m-.5-.6h.6m-.3 .4h.6m-.3-.2h.6m-.6 .5h.6m-.5 0h.6m-.5 .2h.6m-.5-.9h.6m-.6 .1h.6m-.5 .4h.6m-.3-.1h.6m-.5 .4h.6m-.5-.3h.6m-.3 0h.6m-.5-.6h.6m-.3 .5h.6m-.6 .5h.6m-.4 0h.6m-.4-.4h.6m.2-.6h.6m-.5 .6h.6m-.2-.3h.6m-.5 .2h.6m.1 .5h.6m-.3-.5h.6m-.5 .2h.6m-.3-.4h.6m-.6 0h.6m-.4 0h.6m-.4 .3h.6m-.5 .1h.6m-.5-.1h.6m-.6 0h.6m0 .1h.6m-.4-.3h.6m0-.3h.6m-.2 .8h.6m-.2-.3h.6m2.2 0h.6m.9 .3h.6m-.2 .1h.6m.9-.9h.6m-.4 .8h.6m6.1-.8h.6m3.1 .3h.6m2.2-.3h.6m.4 .8h.6m-.4 0h.6m.1 0h.6m-.1-.3h.6m-.5-.4h.6m-.3 .5h.6m-.5 0h.6m-.4-.4h.6m-.6-.2h.6m-.4 .6h.6m-.6 0h.6m-.5-.6h.6m-.3 .6h.6m-.3 .3h.6m-.4-.4h.6m-.3-.5h.6m-.4 .7h.6m-.5 0h.6m-.5-.3h.6m-.6 .2h.6m-.4-.2h.6m-.6 0h.6m-.4 .1h.6m-.5 .4h.6m-.5-.4h.6m-.5 .1h.6m-.6-.6h.6m-.6 .7h.6m-.4-.2h.6m-.5-.6h.6m-.6 .8h.6m-.4 .1h.6m-.4-.5h.6m-.5-.3h.6m-.4 .3h.6m-.5 .4h.6m-.6-.1h.6m-.5-.1h.6m-.4 .1h.6m-.4-.5h.6m-.1 .8h.6m-.5-.3h.6m-.3-.2h.6m-.5 .4h.6m-.4-.1h.6m-.6-.4h.6m-.6 .4h.6m-.5-.4h.6m-.4 .6h.6m-.1-.5h.6m-.5 .3h.6m-.3 0h.6m-.6 .1h.6m.1-.9h.6m-.1 .1h.6m-.6 .4h.6m1.4 .3h.6m-.5-.8h.6m-.2 .5h.6m.6 .4h.6m2.3-.2h.6m-68 1.1h.6m2.5 0h.6m1.3-.8h.6m.2 .9h.6m1.2-.3h.6m.5-.6h.6m.4 .7h.6m.1-.5h.6m-.4-.1h.6m-.4 .6h.6m-.6 0h.6m0-.1h.6m-.5-.3h.6m-.4-.1h.6m-.6 .5h.6m-.1-.5h.6m-.6 .6h.6m-.6-.1h.6m-.3-.6h.6m-.5 .1h.6m-.6 .6h.6m-.5 .1h.6m-.6-.6h.6m-.3-.1h.6m-.5-.1h.6m-.5 .4h.6m-.4 .4h.6m-.2-.1h.6m-.5 .2h.6m-.5-.4h.6m-.5 0h.6m-.3-.1h.6m-.5-.1h.6m-.6 .4h.6m-.4 0h.6m-.4 0h.6m.1-.6h.6m-.5 .2h.6m-.6 .5h.6m-.4-.8h.6m-.5 .8h.6m-.5-.2h.6m-.4 0h.6m-.6-.6h.6m-.4 .6h.6m-.2-.7h.6m-.6 .3h.6m-.5 .3h.6m-.5-.5h.6m-.3 .1h.6m-.6 .3h.6m-.5 .1h.6m-.4 .4h.6m-.6-.3h.6m-.6-.6h.6m-.5 .3h.6m-.4-.1h.6m-.6 .5h.6m-.5-.1h.6m-.6 .2h.6m-.6-.9h.6m-.5 .5h.6m-.6 .4h.6m0-.7h.6m-.6-.1h.6m-.5 .6h.6m-.6 .1h.6m-.6 .1h.6m-.5-.3h.6m-.6-.4h.6m-.5 .5h.6m-.4-.4h.6m-.3 .3h.6m-.6-.1h.6m-.6 .3h.6m-.5 .1h.6m-.6 0h.6m-.6-.7h.6m-.3 0h.6m-.4 .7h.6m-.3-.8h.6m-.6 .9h.6m-.4-.5h.6m-.6-.1h.6m-.5 .2h.6m-.5-.1h.6m-.6 0h.6m-.4-.3h.6m-.5 .2h.6m-.6 .2h.6m-.6 0h.6m-.6 .1h.6m-.5 0h.6m-.5-.4h.6m-.5 .5h.6m-.3-.7h.6m-.5 0h.6m-.5 .2h.6m-.6-.1h.6m-.5 .4h.6m-.4 .3h.6m-.3-.1h.6m-.2-.2h.6m-.4 0h.6m-.5 .3h.6m-.6-.2h.6m-.5-.7h.6m-.5 .8h.6m-.5-.4h.6m-.5 .2h.6m-.5-.3h.6m-.5 .7h.6m-.4-.2h.6m-.6 0h.6m-.2-.7h.6m-.5 .3h.6m-.5 .5h.6m-.3-.5h.6m-.4 .6h.6m-.6-.3h.6m-.4-.1h.6m-.4 .1h.6m-.3 .1h.6m-.3-.3h.6m-.6 .3h.6m0 .1h.6m-.4 0h.6m-.3-.3h.6m-.4-.6h.6m-.6 .7h.6m-.5-.4h.6m.1 .5h.6m.1-.2h.6m-.4 .1h.6m-.2-.6h.6m-.4 .5h.6m-.5 .1h.6m0 .2h.6m-.2-.3h.6m-.5 .3h.6m-.6-.5h.6m-.1-.4h.6m1.2 .2h.6m-.5 .7h.6m1-.7h.6m-.4-.2h.6m.7 .4h.6m2.4 0h.6m6.8 .2h.6m1.8 .2h.6m.8-.6h.6m-.5 .4h.6m-.1 .1h.6m-.1 .3h.6m-.4-.2h.6m-.2 0h.6m-.3 0h.6m-.6-.5h.6m-.5 .7h.6m-.4 0h.6m-.5-.5h.6m-.5 .2h.6m-.6 .2h.6m-.4-.3h.6m-.6-.3h.6m-.5-.3h.6m-.6 1h.6m-.6-.1h.6m-.5-.4h.6m-.5 .5h.6m-.5-.9h.6m-.3 .7h.6m-.3-.1h.6m-.3 .1h.6m-.6-.2h.6m-.2-.4h.6m-.6 0h.6m-.4 .6h.6m-.5-.4h.6m-.5-.4h.6m-.4 .6h.6m-.6 0h.6m-.6 0h.6m-.6-.5h.6m-.3 .4h.6m-.6 0h.6m-.5 0h.6m-.3 .5h.6m-.5-.4h.6m-.6-.1h.6m-.5-.4h.6m-.5 0h.6m-.6 .1h.6m-.4 .7h.6m-.5-.9h.6m-.4 .4h.6m-.4 .2h.6m-.5-.4h.6m-.6-.2h.6m-.5 .2h.6m-.5 .5h.6m-.5-.2h.6m-.6 .4h.6m-.5 .1h.6m-.6-.4h.6m-.5 .4h.6m-.5-.2h.6m-.6-.1h.6m-.6 .3h.6m-.5-.6h.6m-.4 .5h.6m-.6-.6h.6m-.5 .3h.6m-.4-.5h.6m-.6 .4h.6m-.5 0h.6m-.3-.3h.6m-.5-.2h.6m-.5 .4h.6m-.5 0h.6m-.5 .1h.6m-.4-.4h.6m-.2 .1h.6m-.6 .6h.6m-.5-.5h.6m-.6 .3h.6m-.4-.4h.6m-.6 .2h.6m-.5-.2h.6m-.5 .2h.6m0 .1h.6m-.4-.2h.6m0 .7h.6m-.4-.1h.6m0-.2h.6m.4-.5h.6m-64.9 1.6h.6m.5-.3h.6m2.7-.3h.6m.5 .3h.6m-.3-.4h.6m1 .4h.6m-.1-.4h.6m.4 .6h.6m-.5 .1h.6m-.5-.7h.6m-.1 .7h.6m0 0h.6m-.3-.7h.6m-.5 .8h.6m-.6 0h.6m0-.1h.6m-.2-.5h.6m-.6 .3h.6m-.5-.1h.6m-.5-.2h.6m-.2 .4h.6m-.6 .2h.6m-.5-.2h.6m-.6-.1h.6m-.4 .4h.6m-.6-.9h.6m-.6 .7h.6m-.5 0h.6m-.6 .1h.6m-.2-.4h.6m-.5-.5h.6m-.4 .9h.6m-.4-.1h.6m-.5-.6h.6m-.6-.1h.6m-.5 .7h.6m-.5-.2h.6m-.5 .2h.6m-.5-.3h.6m-.4-.3h.6m-.5 .3h.6m-.6 .3h.6m-.5-.4h.6m-.1 0h.6m-.6 .4h.6m-.6-.6h.6m-.4 .6h.6m-.5-.5h.6m-.6 .1h.6m-.5 .5h.6m-.6-.3h.6m-.4-.4h.6m-.3 .5h.6m-.6-.4h.6m-.6-.2h.6m-.4 .5h.6m-.5-.4h.6m-.6 .8h.6m-.4-.9h.6m-.5-.1h.6m-.6 .8h.6m-.6 0h.6m-.6-.4h.6m-.5 0h.6m-.3 .6h.6m-.5-.3h.6m-.6-.4h.6m-.4 .1h.6m-.6-.1h.6m-.3 .4h.6m-.2-.2h.6m-.6-.3h.6m-.5 .1h.6m-.5-.1h.6m-.5-.2h.6m-.6 .7h.6m-.5-.1h.6m-.5-.4h.6m-.5 .7h.6m-.6-.1h.6m-.4-.5h.6m-.5 0h.6m-.5 .1h.6m-.6 .3h.6m-.4 .3h.6m-.5-.5h.6m-.6 .1h.6m-.5 0h.6m-.5 .4h.6m-.5-.4h.6m-.6-.2h.6m-.5 .1h.6m-.3 .5h.6m-.5-.2h.6m-.4 0h.6m-.6-.1h.6m-.5 .3h.6m-.5-.5h.6m-.5 .1h.6m-.4 .2h.6m-.6-.5h.6m-.5 .3h.6m-.6-.3h.6m-.5 .5h.6m-.5 .2h.6m-.6-.3h.6m-.6 .1h.6m-.4-.7h.6m-.6 .8h.6m-.6-.3h.6m-.5 .1h.6m-.5 0h.6m-.5-.1h.6m-.5-.1h.6m-.6-.2h.6m-.6 .6h.6m-.5-.3h.6m-.6 .4h.6m-.6-.4h.6m-.6 0h.6m-.5 .3h.6m-.5 .1h.6m-.6-.3h.6m-.6-.6h.6m-.2 .5h.6m-.6 .2h.6m-.5-.7h.6m-.5 .6h.6m-.5-.6h.6m-.5 .2h.6m-.5-.1h.6m-.6 .2h.6m-.6-.1h.6m-.4-.2h.6m-.6-.1h.6m-.5 .2h.6m-.6 .5h.6m-.5-.4h.6m-.4 .1h.6m-.6 .6h.6m-.5-.1h.6m-.6-.4h.6m-.5-.5h.6m-.5 .6h.6m-.6 .1h.6m-.5 .1h.6m-.6-.1h.6m-.4-.4h.6m-.6 .5h.6m-.5 0h.6m-.6 0h.6m-.5-.5h.6m-.5-.3h.6m-.4 .9h.6m-.6-.2h.6m-.6-.4h.6m-.4 0h.6m-.5 .7h.6m-.6-.3h.6m-.5-.2h.6m-.6 0h.6m-.4 .1h.6m-.5-.6h.6m-.5 .3h.6m-.5 .3h.6m-.6-.2h.6m-.3 .1h.6m-.5-.2h.6m-.6 .6h.6m-.4-.5h.6m-.5 .2h.6m-.5 .3h.6m-.6 .1h.6m-.4-.5h.6m-.5-.3h.6m-.4 .1h.6m-.5 .5h.6m-.5-.1h.6m-.2-.1h.6m-.5-.3h.6m-.2 .3h.6m-.6-.2h.6m-.4 .1h.6m-.5 .4h.6m-.5-.2h.6m-.5-.1h.6m-.1 0h.6m-.5-.2h.6m-.5-.1h.6m-.4 .1h.6m-.1 .5h.6m-.6-.9h.6m-.6 .1h.6m.5 .2h.6m-.4-.2h.6m-.4 .9h.6m-.5-1h.6m-.2 .1h.6m-.1-.1h.6m-.6 .3h.6m-.5 .2h.6m-.3-.2h.6m-.1 .7h.6m.2-.2h.6m.9-.1h.6m.4-.4h.6m2.3 .5h.6m3 0h.6m4.4-.1h.6m1-.6h.6m.7 .3h.6m-.2 .5h.6m1.3-.6h.6m-.1 .1h.6m-.5 .4h.6m-.6-.2h.6m-.2 .2h.6m-.5-.7h.6m-.5 .5h.6m-.4 .2h.6m-.5 .1h.6m-.5-.7h.6m-.5 .5h.6m-.6 0h.6m-.4 .1h.6m-.4-.6h.6m-.5 .3h.6m-.4 .3h.6m-.6-.3h.6m-.6 .1h.6m-.5 .3h.6m.4 0h.6m-.5-.2h.6m-.6-.1h.6m-.5-.5h.6m-.5 .2h.6m-.6 .3h.6m-.6 .3h.6m-.4-.7h.6m-.5 0h.6m-.4 .7h.6m-.5 .1h.6m-.5-.5h.6m-.6-.3h.6m-.5 .2h.6m-.6-.4h.6m-.4 .1h.6m-.6 0h.6m-.6 .8h.6m-.6-.6h.6m-.4 .3h.6m-.5 0h.6m-.5-.4h.6m-.6 .6h.6m-.6-.7h.6m.2 .5h.6m-.4-.5h.6m-.4 .5h.6m-.1 .4h.6m-.5-.4h.6m-.4-.6h.6m-.3 1h.6m-.6-.8h.6m-.5 .3h.6m-.2 0h.6m-.6-.5h.6m-.4 .2h.6m-.4 .7h.6m-.5-.2h.6m-.5 .3h.6m-.5-.3h.6m-.5 .2h.6m-.5-.1h.6m-.5-.1h.6m-.6-.7h.6m-.4 1h.6m-.6-.4h.6m.1 .2h.6m-.1-.2h.6m-.4 .3h.6m-.4-.5h.6m2.7 .5h.6m-69.2 .9h.6m1.9-.7h.6m-.3 .2h.6m2.1 .3h.6m.4 0h.6m-.3-.1h.6m.4-.4h.6m.7 .3h.6m-.5 .6h.6m-.5-.9h.6m0-.1h.6m-.2 .2h.6m-.4 .4h.6m-.4 0h.6m-.1-.2h.6m-.6-.1h.6m-.5 .2h.6m-.4 .4h.6m-.4 0h.6m-.3-.6h.6m-.3-.1h.6m-.5 .7h.6m-.5 .1h.6m-.5-.6h.6m-.6-.2h.6m-.5-.1h.6m-.5 .7h.6m-.4-.3h.6m-.5-.4h.6m-.3 .8h.6m-.6-.3h.6m-.5 0h.6m-.6 .1h.6m-.6-.5h.6m-.3-.1h.6m-.6 .9h.6m-.5-.7h.6m-.4 .6h.6m-.3-.7h.6m-.5 .4h.6m0 .1h.6m-.6-.6h.6m-.4 .2h.6m-.6 .6h.6m-.6-.1h.6m-.4-.5h.6m-.6 .4h.6m-.6-.5h.6m-.5 .2h.6m-.5 .2h.6m-.4 0h.6m-.5-.5h.6m-.6-.1h.6m-.6 .8h.6m-.5-.6h.6m-.4 .6h.6m-.6-.5h.6m-.4-.2h.6m-.5 .4h.6m-.5-.5h.6m-.6 .9h.6m-.4 0h.6m-.6-.5h.6m-.6-.2h.6m-.2 .2h.6m-.6 .2h.6m-.6-.5h.6m-.5 .8h.6m-.2 0h.6m-.6-.4h.6m-.3 .1h.6m-.4-.1h.6m-.6 .1h.6m-.5-.5h.6m-.6 .4h.6m-.4-.1h.6m-.6-.3h.6m-.6 .6h.6m-.5 .3h.6m-.5-.7h.6m-.5-.2h.6m-.5 .6h.6m-.5-.1h.6m-.6 .2h.6m-.6 .1h.6m-.5-.7h.6m-.6 .2h.6m-.6 .6h.6m-.5-.5h.6m-.6-.3h.6m-.3 .8h.6m-.6 0h.6m-.5-.5h.6m-.6-.1h.6m-.5 .5h.6m-.6-.3h.6m-.5 0h.6m-.6 .3h.6m-.3-.9h.6m-.5 .3h.6m-.6 .4h.6m-.6 .1h.6m-.5-.4h.6m-.6 .3h.6m-.5 .2h.6m-.5-.8h.6m-.6 .1h.6m-.5-.2h.6m-.4 .4h.6m-.6-.3h.6m-.5 0h.6m-.5 .3h.6m-.6 .3h.6m-.5-.5h.6m-.6 .7h.6m-.6-.8h.6m-.6 .2h.6m-.6 .4h.6m-.5-.4h.6m-.5 .6h.6m-.5-.8h.6m-.6 .6h.6m-.4-.3h.6m-.6 .2h.6m-.6 0h.6m-.5-.3h.6m-.5 .2h.6m-.2-.5h.6m-.6 .8h.6m-.4-.2h.6m-.5-.3h.6m-.5-.1h.6m-.6 .1h.6m-.6 0h.6m-.2 .5h.6m-.6-.4h.6m-.6-.3h.6m-.5 .6h.6m-.5-.5h.6m-.6 .6h.6m-.5-.1h.6m-.5-.7h.6m-.6 .8h.6m-.6-.8h.6m-.5 .2h.6m-.6 .1h.6m-.5-.1h.6m-.5 .8h.6m-.6-.5h.6m-.5-.3h.6m-.5 .5h.6m-.6-.7h.6m-.6 .8h.6m-.6-.2h.6m-.4 .3h.6m-.6-.1h.6m-.5 0h.6m-.4 .1h.6m-.6-.3h.6m-.3 .3h.6m-.6 0h.6m-.6-.4h.6m-.5-.5h.6m-.5 .2h.6m-.6 .5h.6m-.5-.2h.6m-.5 .4h.6m-.6 0h.6m-.4-.8h.6m-.6-.1h.6m-.5 .3h.6m-.4-.2h.6m-.6 .3h.6m-.6 .1h.6m-.5 0h.6m-.6-.5h.6m-.6 0h.6m-.5 .5h.6m-.4 .2h.6m-.4 .1h.6m-.5 0h.6m-.6-.1h.6m-.6 .2h.6m-.6-.4h.6m-.4 0h.6m-.5 .3h.6m-.6-.1h.6m-.5-.5h.6m-.5 .6h.6m-.5 0h.6m-.3-.2h.6m-.1-.2h.6m-.3 .3h.6m-.6-.6h.6m-.5 .3h.6m-.5-.2h.6m-.6 .6h.6m-.6 .2h.6m-.4-.3h.6m-.1-.3h.6m0 .5h.6m-.6-.8h.6m-.5 0h.6m-.6 0h.6m-.2 .5h.6m-.4-.2h.6m.1 .5h.6m-.5-.3h.6m-.4-.1h.6m-.1 .2h.6m-.4-.4h.6m.2 .2h.6m0-.4h.6m-.6 .1h.6m.7-.1h.6m.7 .7h.6m.5-.2h.6m10-.5h.6m-.3 0h.6m3 .2h.6m-.2 .2h.6m-.4-.4h.6m-.6 .2h.6m-.6-.2h.6m.2 0h.6m.5 0h.6m-.4 0h.6m-.6 .5h.6m-.5 0h.6m-.4-.2h.6m-.1 .3h.6m-.4-.5h.6m-.3 .5h.6m-.4-.4h.6m-.5-.1h.6m-.5 .2h.6m-.4 .4h.6m-.3-.3h.6m-.6 .3h.6m-.3-.4h.6m-.5 .5h.6m-.6-.4h.6m-.5-.1h.6m-.4 .1h.6m-.5 .5h.6m-.6 0h.6m-.3-.8h.6m-.5 .2h.6m-.3-.2h.6m-.6 .7h.6m-.4-.4h.6m-.5 0h.6m-.4 .4h.6m-.3-.9h.6m-.6 .8h.6m-.5-.8h.6m-.5 .5h.6m-.5 .4h.6m-.5-.3h.6m-.5-.5h.6m-.5 .2h.6m-.6-.3h.6m-.5 .9h.6m-.4-.3h.6m-.4-.1h.6m-.6 .1h.6m-.6-.6h.6m-.5 .9h.6m-.3-.8h.6m-.6 .3h.6m-.3 .4h.6m-.5-.2h.6m-.5 .3h.6m-.5-.5h.6m-.6 .2h.6m-.5 0h.6m-.4-.3h.6m-.4 0h.6m-.4 .3h.6m-.1 .2h.6m-.6-.1h.6m-.5 .2h.6m-.4-.7h.6m-.3 .5h.6m-.4 .2h.6m-.4-.2h.6m-.1-.5h.6m-.3 .1h.6m-.1 .3h.6m-.5 .1h.6m0-.6h.6m2.1 .1h.6m3.2 .1h.6m-71.6 1h.6m.8 0h.6m2.1-.2h.6m-.4 .5h.6m.6 .4h.6m-.4-.6h.6m-.4 0h.6m.1 .2h.6m.8-.3h.6m.5 .5h.6m.2 0h.6m-.4 0h.6m-.5-.3h.6m-.3 .1h.6m-.6-.3h.6m-.2 .3h.6m-.3-.2h.6m-.5 .2h.6m-.5-.6h.6m-.5 .1h.6m-.3-.1h.6m-.4 .6h.6m-.4 .3h.6m-.5-.1h.6m-.5-.8h.6m-.4 .3h.6m-.5 .1h.6m-.4 .5h.6m-.6-.3h.6m-.5-.3h.6m-.3 .4h.6m-.2-.5h.6m-.5 .2h.6m-.5 .1h.6m-.6-.1h.6m-.6 .2h.6m-.5-.1h.6m-.5-.5h.6m-.5 .9h.6m-.5-.5h.6m-.5 .2h.6m-.6-.2h.6m-.5 0h.6m-.5 .3h.6m-.5-.2h.6m-.5-.5h.6m-.5 .7h.6m-.5 .2h.6m-.5-.8h.6m-.6 .5h.6m-.5 .2h.6m-.6 .1h.6m-.6-.8h.6m-.5 .3h.6m-.6 .3h.6m-.5-.2h.6m-.6-.1h.6m-.3 .2h.6m-.5-.5h.6m-.6 .4h.6m-.6-.2h.6m-.5 0h.6m-.5 .7h.6m-.6-.6h.6m-.5 0h.6m-.5 .3h.6m-.6-.4h.6m-.6 .7h.6m-.5-.6h.6m-.4 .3h.6m-.6-.3h.6m-.6-.4h.6m-.6 .8h.6m-.4-.4h.6m-.6 .5h.6m-.6-.6h.6m-.6 .7h.6m-.5-.1h.6m-.5-.2h.6m-.4 0h.6m-.5 .1h.6m-.6-.7h.6m-.6 .9h.6m-.5-.4h.6m-.6 .2h.6m-.6 .1h.6m-.5-.3h.6m-.3 .2h.6m-.5-.5h.6m-.6-.2h.6m-.1 .5h.6m-.5 0h.6m-.5-.1h.6m-.6-.4h.6m-.5 .3h.6m-.6-.1h.6m-.5 .3h.6m-.5 0h.6m-.6 .3h.6m-.6-.3h.6m-.5 .2h.6m-.5-.8h.6m-.6 .1h.6m-.5 .8h.6m-.6-.8h.6m-.6 0h.6m-.6-.1h.6m-.4 .3h.6m-.6 .1h.6m-.6 .4h.6m-.6-.6h.6m-.6 .4h.6m-.6-.2h.6m-.6 .5h.6m-.5-.4h.6m-.5-.3h.6m-.6 .5h.6m-.5 0h.6m-.5-.6h.6m-.6 .4h.6m-.6-.4h.6m-.4 .2h.6m-.6 .6h.6m-.6-.3h.6m-.5-.2h.6m-.5-.1h.6m-.6 .1h.6m-.6-.1h.6m-.5-.2h.6m-.5 .5h.6m-.6 .2h.6m-.6-.2h.6m-.5 .1h.6m-.6 .3h.6m-.6-.2h.6m-.5-.8h.6m-.4 .2h.6m-.6 .3h.6m-.6-.5h.6m-.6 1h.6m-.6-.4h.6m-.5 0h.6m-.6-.4h.6m-.6 0h.6m-.3-.1h.6m-.5 .6h.6m-.5-.4h.6m-.5 .4h.6m-.5-.1h.6m-.4 0h.6m-.5-.5h.6m-.6-.1h.6m-.6 .8h.6m-.5-.8h.6m-.6 .5h.6m-.6-.1h.6m-.6-.2h.6m-.6 .7h.6m-.4-.2h.6m-.5 .2h.6m-.5-.9h.6m-.5 .3h.6m-.6 0h.6m-.6 .4h.6m-.5 .1h.6m-.4-.7h.6m-.6 .1h.6m-.5 .3h.6m-.6 .4h.6m-.5-.4h.6m-.5-.1h.6m-.6-.1h.6m-.2 .3h.6m-.6 .3h.6m-.5-.1h.6m-.5-.8h.6m-.6 .7h.6m-.5 .3h.6m-.5-1h.6m-.6 .2h.6m-.4-.1h.6m-.6 .8h.6m-.4-.6h.6m-.5-.2h.6m-.3 0h.6m-.6 .7h.6m-.5-.4h.6m-.5 .6h.6m-.5-.8h.6m-.5 0h.6m-.4 .3h.6m-.4 .1h.6m-.3-.5h.6m-.6-.1h.6m-.5 0h.6m-.5 .5h.6m-.5-.5h.6m-.5 .1h.6m-.5 .4h.6m-.6-.2h.6m-.3-.2h.6m-.6 .6h.6m-.2 .2h.6m-.5 0h.6m-.5-.1h.6m-.5 .1h.6m-.6-.5h.6m-.5 .3h.6m-.6-.1h.6m-.3 .1h.6m.5-.3h.6m-.4 .2h.6m-.4-.6h.6m-.4 .7h.6m-.2 .2h.6m0-.2h.6m-.4 0h.6m-.4 .1h.6m0 0h.6m-.3 .2h.6m-.4-.6h.6m.4 .4h.6m7.1-.7h.6m8.2 .4h.6m1.7 .5h.6m-.6-.1h.6m-.2-.8h.6m-.4 0h.6m-.2 .4h.6m-.6 .3h.6m-.5-.4h.6m-.3 0h.6m-.1 .1h.6m-.5 .2h.6m-.5-.6h.6m-.5 .6h.6m-.5-.4h.6m-.4 .6h.6m-.6-.2h.6m-.3-.5h.6m-.6 .1h.6m-.6 .5h.6m-.3-.8h.6m-.4 .8h.6m-.3-.1h.6m-.3 0h.6m-.4 .1h.6m-.6-.7h.6m-.6 .5h.6m-.5-.6h.6m-.5 1h.6m-.5-.3h.6m-.5 .2h.6m-.4-.5h.6m-.4 0h.6m-.2-.3h.6m-.6 .7h.6m-.5-.1h.6m-.3-.3h.6m-.5 .5h.6m-.4-.7h.6m-.4 .5h.6m-.6-.7h.6m-.6 1h.6m-.6 0h.6m-.4-.3h.6m-.6-.1h.6m-.5 .3h.6m-.4 0h.6m-.6-.2h.6m-.6-.4h.6m-.2-.2h.6m-.6 .4h.6m-.6 0h.6m-.5-.3h.6m-.6 .3h.6m-.6 .1h.6m-.4 .4h.6m-.6-.7h.6m-.6 .2h.6m-.6 .2h.6m-.5 .3h.6m-.5-.1h.6m-.6-.2h.6m-.5-.1h.6m-.6-.5h.6m-.5 0h.6m-.6 .1h.6m-.6 .5h.6m-.3-.5h.6m-.6 .8h.6m-.3 0h.6m-.5-.9h.6m-.5 .6h.6m-.6 0h.6m-.6-.5h.6m-.5 .3h.6m-.6-.4h.6m-.6 .4h.6m-.6 0h.6m-.4 0h.6m-.4-.4h.6m-.4 .7h.6m-.6 .1h.6m-.6-.7h.6m-.5 .4h.6m-.5 .2h.6m-.5-.7h.6m-.4 0h.6m-.6 .4h.6m-.4-.4h.6m-.4 .7h.6m-.6-.4h.6m-.4 .4h.6m-.6-.8h.6m-.5 .1h.6m-.6 .1h.6m-.2 .6h.6m-.6 .1h.6m-.4-.6h.6m-.4 .2h.6m-.5-.4h.6m-.5 .9h.6m-.5-.5h.6m-.3-.5h.6m-.6 .1h.6m-.6 .2h.6m-.5 .5h.6m-.4-.7h.6m-.4 .2h.6m-.2 .3h.6m-.2-.3h.6m-.3 .1h.6m-.2 .4h.6m0-.4h.6m1.3 .2h.6m-70.8 1h.6m7-.1h.6m.2 .3h.6m-.4-.6h.6m-.4 .4h.6m-.6 .4h.6m-.5-.1h.6m-.5-.6h.6m-.2 0h.6m0 .2h.6m.2 0h.6m-.5-.3h.6m1.3 .8h.6m-.5-.4h.6m0 .1h.6m-.2-.2h.6m-.6-.3h.6m-.4 .1h.6m-.4-.2h.6m-.6 .4h.6m-.5-.5h.6m-.3 .4h.6m-.6 .4h.6m-.5-.2h.6m-.4-.3h.6m-.3 .1h.6m-.4-.3h.6m-.4 .1h.6m-.5 0h.6m-.5 .4h.6m-.6-.6h.6m-.3 .4h.6m-.5 .1h.6m-.5 .4h.6m-.5-.9h.6m-.6 .4h.6m-.6 .5h.6m-.6-.7h.6m-.5 .6h.6m-.6 0h.6m-.4-.3h.6m-.5-.1h.6m-.6 .1h.6m-.5-.1h.6m-.6-.2h.6m-.5 .3h.6m-.6 .1h.6m-.6 0h.6m-.5 0h.6m-.6-.2h.6m-.4-.2h.6m-.5 .6h.6m-.5 .2h.6m-.5-.5h.6m-.5 .5h.6m-.6-.9h.6m-.5 .4h.6m-.5 .3h.6m-.6-.2h.6m-.5 .2h.6m-.6 0h.6m-.5-.8h.6m-.6 .9h.6m-.4-.7h.6m-.6 .8h.6m-.6-.7h.6m-.5-.2h.6m-.4 0h.6m-.6 .5h.6m-.6-.4h.6m-.4 .2h.6m-.5-.3h.6m-.6 .7h.6m-.5-.3h.6m-.4-.3h.6m-.4 .5h.6m-.4 .2h.6m-.5-.4h.6m-.6-.5h.6m-.6 .5h.6m-.6 .4h.6m-.6-.9h.6m-.6 .4h.6m-.6 0h.6m-.5-.4h.6m-.6 .8h.6m-.4-.7h.6m-.5 0h.6m-.6 .4h.6m-.6 .3h.6m-.5-.4h.6m-.3-.2h.6m-.6 .1h.6m-.6-.3h.6m-.5 .7h.6m-.4 0h.6m-.5 .2h.6m-.5-.8h.6m-.5 .7h.6m-.2-.8h.6m-.6 .1h.6m-.6 .2h.6m-.3-.3h.6m-.6 0h.6m-.5 .8h.6m-.5-.3h.6m-.5-.5h.6m-.6 .8h.6m-.5-.8h.6m-.5 .9h.6m-.6-.8h.6m-.6 .1h.6m-.6 0h.6m-.5 0h.6m-.5 .5h.6m-.5 .1h.6m-.4-.4h.6m-.5 .5h.6m-.6-.3h.6m-.5 .1h.6m-.6-.5h.6m-.5-.2h.6m-.5 0h.6m-.5 1h.6m-.6-.8h.6m-.5 .2h.6m-.6-.2h.6m-.6 .3h.6m-.5 .5h.6m-.5-.5h.6m-.5-.4h.6m-.5 .8h.6m-.6-.4h.6m-.5-.3h.6m-.6 .4h.6m-.6-.5h.6m-.6 .1h.6m-.6-.1h.6m-.5 .5h.6m-.6 .3h.6m-.5 0h.6m-.5 .1h.6m-.5-1h.6m-.6 .6h.6m-.5 .3h.6m-.6-.8h.6m-.3-.1h.6m-.5 .9h.6m-.5-.3h.6m-.5-.1h.6m-.6 .3h.6m-.4 .2h.6m-.5 0h.6m-.4-.7h.6m-.6 .3h.6m-.3-.3h.6m-.4 .3h.6m-.3 0h.6m-.2-.5h.6m-.4 .7h.6m-.5-.2h.6m-.6-.1h.6m-.6-.2h.6m-.5 0h.6m-.5 .5h.6m-.4-.1h.6m-.5 0h.6m-.5 .3h.6m-.5-.4h.6m-.5 0h.6m-.2 .1h.6m-.6-.7h.6m-.1 .2h.6m-.4-.1h.6m-.3 .6h.6m-.5-.4h.6m-.6 0h.6m-.5 .2h.6m-.4-.2h.6m-.6 .7h.6m-.4-.6h.6m-.5-.1h.6m-.6-.1h.6m-.5 .2h.6m-.6 .3h.6m-.5-.2h.6m-.4 .4h.6m-.5-.3h.6m-.4-.1h.6m-.6-.2h.6m-.3-.3h.6m-.3 .8h.6m-.2-.8h.6m-.4 .5h.6m-.6-.5h.6m-.4 .9h.6m-.3-.2h.6m-.4 0h.6m.1-.4h.6m-.5 .5h.6m.1-.8h.6m-.6 .3h.6m-.3 .4h.6m-.3-.4h.6m-.5 .7h.6m-.3-.8h.6m-.5 .4h.6m-.6 .4h.6m-.2 0h.6m.8-.4h.6m1.6-.2h.6m.7 .1h.6m1.4-.3h.6m8.8 .1h.6m-.6-.2h.6m-.3 0h.6m.1 .8h.6m.6-.2h.6m.8 .2h.6m-.5-.7h.6m-.2 0h.6m-.6 .4h.6m-.5-.4h.6m-.5 .7h.6m-.2-.5h.6m-.3-.2h.6m-.6 .5h.6m-.4 .1h.6m-.5-.3h.6m-.4 .4h.6m-.5-.5h.6m-.6 .4h.6m-.6 .1h.6m-.5-.4h.6m-.6 .4h.6m-.2-.6h.6m-.3-.2h.6m-.3 .6h.6m-.4 .2h.6m-.6-.2h.6m-.5 .2h.6m-.6-.4h.6m-.6 .1h.6m-.6-.1h.6m-.5-.2h.6m-.6 0h.6m-.4-.1h.6m-.5 .4h.6m-.6 .2h.6m-.6-.5h.6m-.4 .7h.6m-.5-.5h.6m-.6-.1h.6m-.5 0h.6m-.6 .5h.6m-.5 .1h.6m-.5-.2h.6m-.5-.3h.6m-.5 .3h.6m-.5-.4h.6m-.6 .4h.6m-.6-.5h.6m-.6-.3h.6m-.6 .6h.6m-.5 .2h.6m-.5-.7h.6m-.6 .4h.6m-.4 .2h.6m-.5 .1h.6m-.6-.7h.6m-.6 .7h.6m-.5 .2h.6m-.5-.6h.6m-.5 .2h.6m-.5-.5h.6m-.5 .3h.6m-.6 0h.6m-.5 .3h.6m-.6 .1h.6m-.5-.2h.6m-.4 .4h.6m-.5-.2h.6m-.5-.8h.6m-.5 .5h.6m-.6 0h.6m-.5 .3h.6m-.2-.5h.6m-.5 .5h.6m-.5-.8h.6m-.4 .2h.6m-.5 .3h.6m-.4-.3h.6m-.3 .2h.6m-.5-.3h.6m-.4 0h.6m-.6 .6h.6m-.6-.6h.6m-.5 .8h.6m-.3-.2h.6m-.6-.4h.6m-.1 .4h.6m-.5 .2h.6m-.6-.6h.6m-.5 .1h.6m-.6 .4h.6m0-.8h.6m-.3 .3h.6m-.4 .6h.6m-.3-.9h.6m-.4 .5h.6m-.5 .2h.6m.2 0h.6m-.1 0h.6m.1-.6h.6m.2 .4h.6m1 0h.6m9.2-.1h.6m-75.3 .6h.6m.2 .9h.6m.9-.7h.6m-.5 .6h.6m-.1-.4h.6m-.6 .2h.6m0 .1h.6m.1 .3h.6m0-.3h.6m-.5 0h.6m-.3-.1h.6m-.2-.3h.6m-.5 0h.6m-.3-.3h.6m-.5 .7h.6m-.5 .3h.6m.8-.5h.6m-.3 0h.6m-.4-.2h.6m-.5 .2h.6m-.5-.4h.6m-.6 .9h.6m-.5-.9h.6m-.6 .8h.6m0-.9h.6m-.5 1h.6m-.6-.7h.6m-.4 .5h.6m-.6 .1h.6m-.3-.8h.6m-.4 .6h.6m-.4-.1h.6m-.6-.3h.6m-.5 .3h.6m-.5 .3h.6m-.6-.8h.6m-.4 .4h.6m-.5-.1h.6m-.5-.2h.6m-.6 .5h.6m-.6-.1h.6m-.5 .3h.6m-.6-.6h.6m-.5 .4h.6m-.6-.5h.6m-.6-.1h.6m-.5 .4h.6m-.5-.1h.6m-.6 .5h.6m-.6-.6h.6m-.6 0h.6m-.4 .6h.6m-.3-.1h.6m-.6-.7h.6m-.6 .4h.6m-.4-.4h.6m-.6-.1h.6m-.5 .6h.6m-.6 .2h.6m-.6-.4h.6m-.5-.2h.6m-.5 .1h.6m-.5 .4h.6m-.4 .3h.6m-.5-.8h.6m-.5 .6h.6m-.5-.5h.6m-.6 .6h.6m-.5-.5h.6m-.5-.4h.6m-.5 .2h.6m-.5-.1h.6m-.5 .7h.6m-.6-.6h.6m-.5 .3h.6m-.5-.3h.6m-.6 .4h.6m-.5 .1h.6m-.4-.5h.6m-.6 .2h.6m-.4-.4h.6m-.5 .1h.6m-.5 .2h.6m-.6 0h.6m-.6-.3h.6m-.5 .2h.6m-.6-.1h.6m-.6 .7h.6m-.3-.2h.6m-.6-.4h.6m-.5 .5h.6m-.5-.4h.6m-.6 .6h.6m-.6 .1h.6m-.6-.4h.6m-.5-.2h.6m-.3-.2h.6m-.2 .5h.6m-.5 .1h.6m-.5-.3h.6m-.5 .4h.6m-.5-.8h.6m-.4 0h.6m-.5 .8h.6m-.5-.8h.6m-.5 .8h.6m-.6-.6h.6m-.6-.1h.6m-.5 .6h.6m-.1 0h.6m-.6-.3h.6m-.5 .2h.6m-.6-.4h.6m-.5 .6h.6m-.4-.7h.6m-.6 .7h.6m-.2-.1h.6m-.6 0h.6m-.5-.6h.6m-.5 .1h.6m-.4-.2h.6m-.6 .3h.6m-.5 .3h.6m-.6 .2h.6m-.4-.5h.6m-.6 .4h.6m-.5-.1h.6m-.6 0h.6m-.4-.5h.6m-.5 .7h.6m-.5-.2h.6m-.6 .1h.6m-.4-.2h.6m-.5-.2h.6m-.6-.1h.6m-.5 .2h.6m-.5 .2h.6m-.6 .1h.6m-.2-.6h.6m-.5 .3h.6m-.5-.3h.6m-.6 .4h.6m-.5 0h.6m-.2-.2h.6m-.6-.2h.6m-.3-.1h.6m-.6 0h.6m-.2 .2h.6m-.6 .2h.6m-.5 .2h.6m-.5 .3h.6m-.1-.3h.6m-.6 .2h.6m-.2-.8h.6m-.6 .2h.6m-.5 0h.6m-.5 .1h.6m-.3-.4h.6m-.5 .4h.6m-.4-.4h.6m-.5 .4h.6m-.6-.3h.6m-.3 .3h.6m-.6 .2h.6m-.5-.2h.6m-.3-.3h.6m-.4 .3h.6m-.4 0h.6m-.6 0h.6m-.5-.3h.6m0 .1h.6m-.3 .6h.6m-.4 0h.6m-.4-.8h.6m0 .4h.6m-.3 .2h.6m.4-.6h.6m.2 .6h.6m.1-.2h.6m.8 .5h.6m1-.4h.6m6.5-.3h.6m6.1 .3h.6m.4 .3h.6m.1 .2h.6m-.6-.6h.6m-.5-.3h.6m0 .4h.6m-.6 .3h.6m-.4 .1h.6m-.6-.3h.6m-.4 0h.6m-.6 .2h.6m-.6-.5h.6m-.1-.1h.6m-.4 .5h.6m-.2-.2h.6m-.2 .2h.6m-.1 0h.6m-.5-.1h.6m-.5-.2h.6m-.3 .5h.6m-.6-.2h.6m-.5 .1h.6m-.6-.4h.6m-.6 .3h.6m-.4-.6h.6m-.6 .6h.6m-.5-.3h.6m-.6 .5h.6m-.5-.6h.6m-.6 .7h.6m-.4 0h.6m-.5-.7h.6m-.5 .2h.6m-.6 .2h.6m-.4-.1h.6m-.5-.1h.6m-.6 .4h.6m-.5-.3h.6m-.6-.5h.6m-.5-.1h.6m-.6 .8h.6m-.6-.7h.6m-.6 .2h.6m-.6 .7h.6m-.6-.3h.6m-.4 .1h.6m-.6 .2h.6m-.6-.5h.6m-.6 .3h.6m-.5-.5h.6m-.6 .1h.6m-.5 .3h.6m-.4-.2h.6m-.5-.4h.6m-.6 .5h.6m-.5-.6h.6m-.5 0h.6m-.5 .7h.6m-.6 0h.6m-.6-.2h.6m-.4-.2h.6m-.5 .1h.6m-.6-.2h.6m-.5 .6h.6m-.6-.2h.6m-.5-.3h.6m-.6 .6h.6m-.5-.1h.6m-.6 .1h.6m-.5 .1h.6m-.6-.5h.6m-.5-.4h.6m-.6 .3h.6m-.4-.3h.6m-.5 0h.6m-.6 .3h.6m-.3 .1h.6m-.5-.1h.6m-.5 0h.6m-.6 .5h.6m-.5-.5h.6m-.5-.2h.6m-.4 .7h.6m-.3-.5h.6m-.5 .4h.6m-.6-.7h.6m-.4 .8h.6m-.6-.5h.6m-.5 .2h.6m-.6 .1h.6m-.4 .1h.6m-.6-.8h.6m-.5 1h.6m-.5-.5h.6m-.4 .1h.6m-.6-.3h.6m-.5-.2h.6m-.5 .7h.6m-.4-.2h.6m-.6 0h.6m-.5 0h.6m-.6-.2h.6m-.4-.2h.6m-.6 .4h.6m-.6 .4h.6m-.5-.6h.6m-.2-.1h.6m-.3 .7h.6m-.6-.1h.6m-.5-.7h.6m-.5 .2h.6m.2-.2h.6m-.4 .4h.6m-.6-.3h.6m-.1-.3h.6m-.5 .9h.6m-.2-.3h.6m-62.4 1.1h.6m.6-.7h.6m.6 .7h.6m0-.6h.6m.2-.1h.6m.8 .6h.6m.5 .3h.6m-.2-.7h.6m0 .1h.6m-.2-.3h.6m-.5 .2h.6m-.4 .5h.6m-.5-.4h.6m-.6-.1h.6m0 .7h.6m-.3-.4h.6m-.6-.2h.6m-.3 .5h.6m-.3-.4h.6m-.4 .1h.6m-.6 .4h.6m-.6-.9h.6m-.4 .9h.6m-.4-.4h.6m-.5 .4h.6m-.6-.1h.6m-.5 .1h.6m-.6-.9h.6m-.3 .3h.6m-.2 .4h.6m-.5-.6h.6m-.4 .7h.6m-.4-.1h.6m-.3-.1h.6m-.3 .2h.6m-.6-.6h.6m-.3 .4h.6m-.5-.4h.6m-.5 .1h.6m-.6 .6h.6m-.5-.3h.6m-.6 .1h.6m-.5 .2h.6m-.6-.5h.6m.2 .1h.6m-.5 .3h.6m-.6-.7h.6m-.5 .3h.6m-.2 .5h.6m-.4 0h.6m-.5-.9h.6m-.5 .7h.6m-.4-.6h.6m-.2 .6h.6m-.6-.5h.6m-.5 .4h.6m-.6-.3h.6m-.2 .1h.6m-.6 .1h.6m-.4-.1h.6m-.4 .1h.6m-.4 .2h.6m-.6-.1h.6m-.6 .2h.6m-.5-.5h.6m-.6-.2h.6m-.3 .6h.6m-.5-.4h.6m-.6 .4h.6m-.5-.5h.6m-.5 .1h.6m-.6-.2h.6m-.2 .7h.6m-.4 0h.6m-.4-.4h.6m-.4 .4h.6m-.4-.4h.6m-.4-.4h.6m-.6 .7h.6m-.4-.5h.6m-.5 .1h.6m-.4 .7h.6m-.5-.7h.6m-.5 .4h.6m-.5-.5h.6m-.6 .4h.6m-.5-.3h.6m-.5-.3h.6m-.5 1h.6m-.2-.4h.6m-.6-.6h.6m-.4 .3h.6m-.6 .5h.6m-.1 0h.6m-.5-.5h.6m-.2-.2h.6m-.5 .3h.6m-.6 .4h.6m-.6-.5h.6m-.3 .1h.6m-.1-.4h.6m-.4 .8h.6m-.5-.3h.6m-.5 .3h.6m-.4-.7h.6m-.5 .4h.6m-.4-.4h.6m-.4-.1h.6m-.5 0h.6m-.4 .3h.6m-.4-.1h.6m0 .8h.6m.4-.1h.6m-.1-.6h.6m-.3 .6h.6m-.5-.8h.6m-.5 .2h.6m-.5 .3h.6m-.4 0h.6m2 .2h.6m-.2-.1h.6m-.3-.6h.6m-.4 .3h.6m1.5 0h.6m10 .3h.6m2-.6h.6m-.3 0h.6m-.6 .8h.6m1.3-.1h.6m0-.5h.6m.5 0h.6m-.2 0h.6m0-.2h.6m-.3 .8h.6m-.6 0h.6m-.1-.2h.6m-.5-.6h.6m-.6 .1h.6m-.5-.1h.6m-.4 .5h.6m-.4-.1h.6m-.5-.1h.6m-.5 .2h.6m-.6 .1h.6m-.5-.3h.6m-.6 .6h.6m-.5-.2h.6m-.6-.7h.6m-.6 .7h.6m-.5 .2h.6m-.6-.5h.6m-.6 .5h.6m-.5 0h.6m-.6-.8h.6m-.4 .2h.6m-.4 .2h.6m-.6 .1h.6m-.6-.4h.6m-.5 .5h.6m-.5 .1h.6m-.6-.3h.6m-.6 .2h.6m-.4-.7h.6m-.5 0h.6m-.5 .8h.6m-.5-.1h.6m-.6-.3h.6m-.3-.1h.6m-.4-.3h.6m-.6 .5h.6m-.5 .4h.6m-.1-.6h.6m-.6-.4h.6m-.5 .6h.6m-.5-.5h.6m-.6 .1h.6m-.5 0h.6m-.5 .1h.6m-.5 0h.6m-.3-.1h.6m-.5 .2h.6m-.6-.3h.6m-.5 .6h.6m-.5-.2h.6m-.6 0h.6m-.4 .2h.6m-.5 .2h.6m-.6-.8h.6m-.5 .6h.6m-.5 .3h.6m-.6-.4h.6m-.6 .3h.6m-.6-.7h.6m-.6 .4h.6m-.4 .4h.6m-.5-.9h.6m-.5 .8h.6m-.5-.4h.6m-.4 .2h.6m-.6-.6h.6m-.5 0h.6m-.3 .8h.6m-.6-.6h.6m-.6 0h.6m-.5 .4h.6m-.4 0h.6m-.5 .1h.6m-.5 0h.6m-.5-.6h.6m-.5 .7h.6m-.6-.8h.6m-.5 .8h.6m-.5-.8h.6m-.5 .1h.6m-.6 .5h.6m-.6-.5h.6m-.5 .4h.6m-.3 .1h.6m-.4 .3h.6m-.6-.3h.6m-.4 .1h.6m-.5-.6h.6m-.4 .1h.6m-.5-.1h.6m-.4 .3h.6m-.5 .5h.6m-.5-.4h.6m-.4-.5h.6m-.3 .8h.6m-.4-.8h.6m-.5 .6h.6m-.2-.1h.6m0-.1h.6m-.4 .4h.6m-.6-.8h.6m-.2 .3h.6m-.3 .3h.6m-62.3 1.2h.6m-.4-.1h.6m1.8-.3h.6m-.6 0h.6m-.5-.2h.6m-.4 .4h.6m-.3-.4h.6m.7-.1h.6m.1 .5h.6m-.6-.3h.6m-.3-.4h.6m-.5 .2h.6m-.3 .1h.6m-.3-.2h.6m-.6 .5h.6m-.4 0h.6m-.5-.4h.6m1.3 .5h.6m-.4 0h.6m-.2-.3h.6m-.6-.2h.6m-.2 .2h.6m-.4-.2h.6m-.4 .5h.6m-.3-.6h.6m-.6 0h.6m-.5 .5h.6m-.5-.2h.6m-.5 0h.6m-.5 .2h.6m-.4-.3h.6m-.5 0h.6m-.6 .5h.6m-.2-.4h.6m-.5 .1h.6m-.3-.4h.6m-.6 .4h.6m-.5 .1h.6m-.3-.2h.6m-.3 .2h.6m-.4-.2h.6m-.5 .3h.6m-.4 .1h.6m-.2 0h.6m-.5-.1h.6m0 0h.6m-.4-.6h.6m-.6 .6h.6m-.4 0h.6m-.4-.4h.6m-.5 .1h.6m-.6 .1h.6m-.5 .5h.6m-.6-.7h.6m-.3 0h.6m-.5-.1h.6m-.1 .4h.6m-.2-.1h.6m-.6-.2h.6m-.5-.1h.6m-.6 0h.6m.3 0h.6m-.6 .2h.6m-.2-.4h.6m-.4 .6h.6m-.6-.2h.6m-.4-.3h.6m-.2-.1h.6m-.5 .4h.6m-.5-.2h.6m-.5 .6h.6m-.6-.5h.6m-.4 .6h.6m-.3-.3h.6m-.3 0h.6m-.2-.5h.6m-.5 .6h.6m-.5-.3h.6m-.6 .2h.6m-.5-.1h.6m-.6-.4h.6m-.4 0h.6m-.5 .6h.6m-.3-.5h.6m-.6 .5h.6m-.2-.3h.6m-.3 .6h.6m.1-1h.6m.9 .5h.6m-.3-.1h.6m-.5 .3h.6m1.5-.6h.6m-.1 .8h.6m-.2-.8h.6m-.1 .5h.6m-.6-.5h.6m17.2 .2h.6m.9-.1h.6m.3 .3h.6m-.1 .4h.6m-.6-.2h.6m-.1 0h.6m-.3-.7h.6m-.1 .8h.6m-.4-.1h.6m-.2-.3h.6m-.3 .4h.6m-.1-.2h.6m-.4-.5h.6m-.2 0h.6m-.5 .2h.6m-.5-.2h.6m-.6 .2h.6m-.5-.2h.6m-.5 .1h.6m-.4 .4h.6m-.6 0h.6m-.5 0h.6m-.6 .2h.6m-.6-.6h.6m-.2 .1h.6m-.6 .6h.6m-.4-.1h.6m-.4-.1h.6m-.5-.5h.6m-.5 .5h.6m-.5-.3h.6m-.5-.1h.6m-.6 .4h.6m-.6 .3h.6m-.5-.9h.6m-.4 .4h.6m-.5-.1h.6m-.5-.3h.6m-.5 0h.6m-.6 0h.6m-.3 .4h.6m-.4-.3h.6m-.6 0h.6m-.6 0h.6m-.6 .1h.6m-.6 .1h.6m-.5 .4h.6m-.3-.6h.6m-.6 .4h.6m-.5-.2h.6m-.5-.4h.6m-.5 .3h.6m-.6 .3h.6m-.5-.5h.6m-.5 .2h.6m-.6-.2h.6m-.5 .5h.6m-.6-.2h.6m-.5-.1h.6m-.6 .4h.6m-.5 0h.6m-.6-.1h.6m-.5 .4h.6m-.6-.4h.6m-.6 0h.6m-.5-.1h.6m-.6-.4h.6m-.5 .8h.6m-.6-.5h.6m-.6 .2h.6m-.5 .4h.6m-.5-.8h.6m-.5 .8h.6m-.6-.4h.6m-.5-.2h.6m-.3 .6h.6m-.5-.7h.6m-.5 .4h.6m-.4-.3h.6m-.5 .2h.6m-.6 .4h.6m-.6-1h.6m0 .1h.6m-.6 .5h.6m-.6-.5h.6m-.6 .1h.6m-.6-.1h.6m-.3 .5h.6m-.5 .1h.6m-.3 .3h.6m1-.5h.6m-.6 .2h.6m-.6 0h.6m-.5-.3h.6m-.6 .2h.6m.3 0h.6m-.2 .3h.6m-59.4 .7h.6m-.5-.5h.6m-.6 0h.6m.7 .5h.6m.4-.5h.6m.6 .1h.6m-.4 .2h.6m-.3 .3h.6m-.4-.2h.6m-.5-.3h.6m0 .3h.6m.1-.5h.6m.5 .8h.6m-.4-.1h.6m-.5-.1h.6m-.6-.6h.6m-.4 .2h.6m-.1 .7h.6m-.5-.4h.6m-.1-.1h.6m-.3 .1h.6m-.2-.3h.6m-.5 .3h.6m-.4-.2h.6m-.6 .5h.6m-.3-.2h.6m-.6-.2h.6m-.4 .1h.6m-.4-.4h.6m-.5 .5h.6m-.4-.1h.6m-.6 0h.6m-.5 .4h.6m-.5-.4h.6m-.6 .1h.6m-.1-.1h.6m-.1-.5h.6m-.2 .1h.6m-.5 .7h.6m0 .1h.6m-.4-.5h.6m-.5 .4h.6m-.5 .1h.6m-.6-.9h.6m-.6 1h.6m-.4-.9h.6m-.5 .1h.6m-.5 .1h.6m-.4 .5h.6m-.2-.7h.6m0 0h.6m-.6 .5h.6m-.1 .2h.6m-.4-.6h.6m-.2 .7h.6m-.3-.2h.6m-.4-.7h.6m-.4 1h.6m-.2-.8h.6m-.1 0h.6m.2 .3h.6m-.4 .3h.6m-.4-.8h.6m-.6 .6h.6m-.2-.3h.6m.3 0h.6m-.3-.2h.6m-.4 0h.6m-.6 .8h.6m.2-.9h.6m-.6 .3h.6m-.5 .3h.6m.7 .2h.6m1.2-.4h.6m-.5 .4h.6m8.5-.1h.6m9.9-.4h.6m.5 0h.6m.1 .1h.6m-.3 .4h.6m.7-.6h.6m-.6 0h.6m-.2 .7h.6m-.6-.1h.6m-.3-.6h.6m-.6-.2h.6m-.2 .9h.6m-.5-.2h.6m-.5 .3h.6m-.5-.6h.6m-.6 .5h.6m-.2-.4h.6m-.5-.2h.6m-.6 0h.6m-.5 .3h.6m-.4-.3h.6m-.6 0h.6m-.4 .5h.6m-.5-.6h.6m-.5-.2h.6m-.5 .6h.6m-.4-.3h.6m-.6-.1h.6m-.5 0h.6m-.5-.1h.6m-.6 .3h.6m-.4-.4h.6m-.4 .2h.6m-.6 .2h.6m-.6-.2h.6m-.5 0h.6m-.4 .6h.6m-.6-.8h.6m-.5 .9h.6m-.4-.4h.6m-.6-.2h.6m-.6 .2h.6m-.6-.3h.6m-.5 .3h.6m-.5 .5h.6m-.6-.7h.6m-.4 .2h.6m-.5 .2h.6m-.5 .1h.6m-.6 .1h.6m-.5-.6h.6m-.4-.1h.6m-.6-.1h.6m-.6 0h.6m-.5 .5h.6m-.6 .1h.6m-.5 .1h.6m-.5 .2h.6m-.4-1h.6m-.5 .4h.6m-.4 .3h.6m-.6-.5h.6m-.5 0h.6m-.4 .1h.6m-.4 .6h.6m-.5-.2h.6m-.6-.5h.6m-.4 .3h.6m-.2 .1h.6m-.6-.5h.6m-.6 .8h.6m-.6-.1h.6m-.5-.5h.6m-.4 .7h.6m-.5-.4h.6m-.3-.1h.6m-.4 .4h.6m-.4-.6h.6m-.6 0h.6m-.2 .5h.6m-.2-.3h.6m-.6 0h.6m.1 .5h.6m0-.8h.6m-.2-.1h.6m-.4 .1h.6m.1 .7h.6m-.1-.8h.6m0-.1h.6m-63.8 1.1h.6m-.4 .4h.6m4 0h.6m.3-.4h.6m.5 .8h.6m.8-.3h.6m.2 0h.6m-.6-.2h.6m-.5-.1h.6m.4 .4h.6m.1-.6h.6m.2 .1h.6m-.4 0h.6m-.6 .5h.6m-.4-.1h.6m-.4-.5h.6m-.2 .1h.6m.2 .8h.6m-.5-1h.6m-.5 .7h.6m-.1-.2h.6m-.6 .3h.6m-.4-.6h.6m.4 .7h.6m-.6-.5h.6m-.1-.2h.6m-.2 .4h.6m-.6 .3h.6m-.4-.7h.6m-.6-.1h.6m-.3 .6h.6m-.6 .2h.6m-.5-.6h.6m-.5-.3h.6m.5 .6h.6m-.5 0h.6m-.3-.5h.6m-.6 .2h.6m-.5-.3h.6m-.6 .3h.6m0 .7h.6m.2-.6h.6m-.3 .6h.6m-.4-.5h.6m-.2-.4h.6m-.4 .3h.6m-.5-.2h.6m.9 .2h.6m-.2-.1h.6m-.4 .6h.6m-.2 0h.6m-.5-.3h.6m-.5-.5h.6m-.5 .1h.6m1.6-.2h.6m3.6 .2h.6m16.6 .1h.6m.1 0h.6m-.2 .1h.6m-.3-.2h.6m.7 .5h.6m-.6 .2h.6m-.5-.3h.6m-.1 .3h.6m0-.5h.6m-.2-.2h.6m-.5 .7h.6m-.6-.6h.6m-.5-.2h.6m-.5 .1h.6m-.4-.1h.6m-.5 .6h.6m-.5-.1h.6m-.5-.5h.6m-.6 .8h.6m-.4-.5h.6m-.6-.3h.6m-.4 .5h.6m-.6 0h.6m-.5 .1h.6m-.5-.3h.6m-.4 .1h.6m-.5-.1h.6m-.3 .4h.6m-.2-.4h.6m-.6 .2h.6m-.5 .1h.6m-.2 .3h.6m-.5-.7h.6m-.4 0h.6m-.1-.1h.6m-.5 .4h.6m-.2 .4h.6m-.1-.7h.6m-.6 .6h.6m-.5-.3h.6m-.5-.2h.6m-.5-.3h.6m-.5 .2h.6m-.4 0h.6m-.5 0h.6m-.6 .4h.6m-.5-.2h.6m-.5-.1h.6m-.4 .3h.6m-.5-.2h.6m-.6-.2h.6m-.4 .1h.6m-.4-.4h.6m-.4 .6h.6m-.5-.2h.6m-.4-.2h.6m-.6-.2h.6m-.5 .9h.6m-.4-.1h.6m-.6-.7h.6m-.5 .3h.6m-.6-.3h.6m-.3 0h.6m-.6 .8h.6m-.6-.3h.6m-.5-.3h.6m-.6 .5h.6m-.4-.4h.6m.1-.2h.6m0-.1h.6m-.4 .2h.6m-.2 .1h.6m-.4 0h.6m-.2 .4h.6m.2-.7h.6m-.3 .2h.6m.2 .1h.6m2.7 .5h.6m-67.4 .6h.6m4.5-.2h.6m.6 .4h.6m.6-.5h.6m-.5 0h.6m-.5-.1h.6m-.5 .9h.6m-.2-.5h.6m.2-.4h.6m.1 .6h.6m-.1-.2h.6m-.4-.3h.6m-.5 .6h.6m1.2 .2h.6m-.5-.9h.6m-.2 .4h.6m.2 0h.6m-.2-.1h.6m-.4 .2h.6m.3-.6h.6m.4 .1h.6m-.3 .1h.6m-.6 .6h.6m-.1-.3h.6m-.1-.1h.6m-.2-.4h.6m.3 .8h.6m-.2 0h.6m1.9-.1h.6m2.9-.3h.6m11.4-.3h.6m9.6 .7h.6m-.5-.6h.6m1.2 .1h.6m-.3 0h.6m.1-.2h.6m-.3 .3h.6m-.5-.1h.6m.8 .1h.6m.1-.3h.6m-.4 .5h.6m-.5-.3h.6m-.6 .5h.6m-.5-.3h.6m-.5-.2h.6m-.5 .5h.6m-.6-.7h.6m-.6 .4h.6m-.5 .3h.6m-.6 0h.6m-.5 0h.6m-.4-.3h.6m-.5 0h.6m-.4 .2h.6m-.4-.3h.6m-.5-.3h.6m-.4 0h.6m-.6 .2h.6m-.5 .4h.6m-.5-.1h.6m-.5-.5h.6m-.6 .3h.6m-.5-.1h.6m-.5 .4h.6m-.6-.2h.6m-.5-.5h.6m-.6 0h.6m-.2 .2h.6m-.3 .2h.6m-.4-.2h.6m-.5 .8h.6m-.4-.6h.6m-.5 .4h.6m-.4 .1h.6m-.4-.4h.6m-.2 .2h.6m-.3-.5h.6m-.1 .2h.6m-.2-.2h.6m-.5 0h.6m-.5 .1h.6m-.2 0h.6m.1 .6h.6m-.2-.7h.6m-.3 .5h.6m.6-.1h.6m-69.3 .7h.6m11.2 0h.6m2.2-.1h.6m-.5-.1h.6m-.3 .1h.6m.9 .2h.6m0-.2h.6m1 .7h.6m-.1 0h.6m.2-.4h.6m-.5 .2h.6m1.2-.5h.6m-.6 .6h.6m-.4-.3h.6m0-.3h.6m.2 .7h.6m4.7-.2h.6m.9-.6h.6m-.6 0h.6m1 .1h.6m19.3-.1h.6m.9 .6h.6m1.7-.4h.6m-.5 .4h.6m-.2-.2h.6m-.1-.2h.6m-.5 .6h.6m-.4-.6h.6m-.2 .1h.6m.4 .5h.6m-.4-.5h.6m-.6-.2h.6m-.5 .2h.6m-.5 .6h.6m-.3 0h.6m-.3-.7h.6m-.5 .2h.6m-.3 .5h.6m-.5-.2h.6m-.6-.3h.6m-.5 0h.6m-.6-.5h.6m-.4 .1h.6m-.1 .8h.6m-.5-.2h.6m-.4 0h.6m-.6 .3h.6m-.4-.8h.6m-.5 0h.6m-.5 .4h.6m-.3 .1h.6m-.6 .1h.6m-.5-.2h.6m-.5 0h.6m-.1 .1h.6m-.6-.6h.6m-.4 0h.6m-.4 .2h.6m-.6 .7h.6m-.3-.8h.6m-.6-.2h.6m-.4 .4h.6m-.6 .6h.6m-.3-.6h.6m-.4 0h.6m-.6 .1h.6m-.4 .4h.6m-.3-.3h.6m-.5-.2h.6m-.2 0h.6m-.5 .1h.6m-.3 0h.6m-.1 0h.6m-.5 .4h.6m-.2 0h.6m0-.2h.6m-.4 .1h.6m-.5-.3h.6m-.5-.2h.6m.4 .6h.6m1.6-.6h.6m-65.2 1.4h.6m10.2 .2h.6m1.2-.1h.6m-.2-.5h.6m.2-.2h.6m1.5 .4h.6m4.9-.2h.6m10.6 0h.6m18.4 .2h.6m-.6-.3h.6m.4 .2h.6m-.6 .3h.6m-.3-.4h.6m-.4-.1h.6m-.4 .6h.6m-.6-.7h.6m-.4 .2h.6m-.4 .1h.6m-.5 .1h.6m.3 .1h.6m-.5-.6h.6m-.3 .3h.6m-.6 .5h.6m-.5-.6h.6m-.4 .1h.6m-.6 0h.6m-.6 .5h.6m-.4 0h.6m-.1-.3h.6m-.2 .1h.6m-.2 .1h.6m-.5-.6h.6m0 .1h.6m-.2 .2h.6m-.2-.1h.6m-.5 .2h.6m-.5-.2h.6m-.5 0h.6m-.1 .1h.6m-.4-.1h.6m0 .4h.6m-.4-.6h.6m-.4 .5h.6m0 .2h.6m-.2-.6h.6m-60.8 1.2h.6m8-.3h.6m1.7 0h.6m1.9 .8h.6m-.3-.9h.6m4 0h.6m26 .2h.6m4.6 .3h.6m-.3 .2h.6m1.1-.5h.6m0 .1h.6m-.3 .5h.6m.1-.6h.6m-.6 .8h.6m-.2-.4h.6m.3-.5h.6m-.5 .8h.6m-.5-.1h.6m-.2-.6h.6m-.1-.1h.6m-.5 .6h.6m.3 .1h.6m-.5 0h.6m-.5 .2h.6m-.3-.5h.6m-.4-.3h.6m2.7 .6h.6m-.6-.2h.6m.4 .1h.6m-49 .6h.6m14.9-.1h.6m20.4 .6h.6m1.6-.2h.6m-.5 .3h.6m-.6-.6h.6m.3-.2h.6m.7 .8h.6m-.6-.3h.6m-.5-.6h.6m-.4 .2h.6m-.4 .5h.6m-.3 .1h.6m-.3-.2h.6m-.5 0h.6m-.6-.5h.6m-.2 .5h.6m-.6 .2h.6m-.1-.2h.6m-.5 .2h.6m-.1-.7h.6m.2 .6h.6m-.4-.5h.6m-.5-.2h.6m-.4 .9h.6m1.6 0h.6m-.5-.6h.6m-14.4 1.3h.6m3.3 0h.6m-.3-.4h.6m.1 0h.6m-.4-.2h.6m-.5 .2h.6m-.1-.1h.6m0 .1h.6m.1-.1h.6m-.6 .2h.6m0-.3h.6m-.1 .8h.6m1.3-.7h.6m-.1 .3h.6m-.5-.2h.6m1.5-.1h.6m-31.2 1.1h.6m21.6 .4h.6m-.5-.1h.6m1.3-.4h.6m.2 0h.6m-.3 .6h.6m.2-.3h.6m-.1 .4h.6m-.3-.2h.6m-.4 0h.6m.2 .3h.6m-.2-.7h.6m-.1 .1h.6m2 .1h.6m-.1 .4h.6m.2-.4h.6m-10.2 .9h.6m-.1 .3h.6m0-.3h.6m-.5 .3h.6m-.3 .1h.6m.8 .3h.6m.4-.6h.6m1.5 .2h.6m-.2 0h.6m2.2 0h.6m-8.3 .9h.6m.2-.4h.6m2 .4h.6m5 .1h.6" stroke="#7A4266" stroke-width=".6" stroke-opacity=".38" fill="none"/>
<path d="M361 630.6h.5m27.9 7.4h.5m-8.8 1h.5m-.5 3.3h.5m25.6 8.8h.5m.2 3.8h.5m1.8 0h.5m-47.6 1.5h.5m36.6 0h.5m2.1 .8h.5m5.8-.1h.5m-20.1 3.4h.5m12.1-.7h.5m.5 .2h.5m12 .3h.5m-42.5 .8h.5m3.3 .1h.5m11.8 0h.5m4.4-.2h.5m6.8-.2h.5m1.2-.1h.5m2.8 .3h.5m.4 .4h.5m7.1-.5h.5m-15.3 .9h.5m3.3-.3h.5m.1 .1h.5m5.1 .1h.5m-.1 .2h.5m1.9-.1h.5m.9 .2h.5m-32.9 1.3h.5m21.8 0h.5m.6-.3h.5m2.8-.1h.5m5-.1h.5m-.1 .5h.5m-52.9 .3h.5m2 .3h.5m3.7 .6h.5m6.5-.5h.5m29.4 .4h.5m1.4-.2h.5m3.3-.2h.5m1.6 .2h.5m1.4-.2h.5m-48.9 .7h.5m26.9 .6h.5m8.1-.6h.5m12.7 .8h.5m-53.9 .2h.5m2-.1h.5m3.1 .9h.5m8.5-.3h.5m.4 0h.5m4.5-.4h.5m15.3-.2h.5m3.8 .2h.5m1.1 .5h.5m2.8 .2h.5m2.4-.7h.5m-61.2 1.6h.5m11.1 0h.5m1.7-.8h.5m3.2 .4h.5m-.3 .1h.5m-.2 .3h.5m1.6-.4h.5m0-.1h.5m-.2 .5h.5m.7-.3h.5m19.8-.5h.5m10.2 .4h.5m1.4-.2h.5m-52.4 1.3h.5m2.8-.2h.5m3-.2h.5m3.8 .4h.5m-.2 .2h.5m1.6 0h.5m.7-.5h.5m.8-.1h.5m2.3-.2h.5m4.5 .1h.5m.9 .4h.5m17.7-.1h.5m6.1-.3h.5m.8 .2h.5m5-.2h.5m-.4 .3h.5m-57.9 .8h.5m1.8-.1h.5m2.9 .1h.5m1.1 .1h.5m1.2-.2h.5m1.8 .9h.5m3.8-.7h.5m.4 .6h.5m.8-.6h.5m.3 0h.5m-.3 .1h.5m2.5 0h.5m.7-.1h.5m1.1-.3h.5m7 0h.5m16.8 .2h.5m-.2 .6h.5m1.9 .1h.5m.4 0h.5m-.2-.7h.5m1.6 .4h.5m-.5 0h.5m26-.5h.5m-86.3 1.7h.5m4.4-.6h.5m-.5 .3h.5m4.8 .4h.5m3.6-.4h.5m.7-.3h.5m.1 .5h.5m-.4 0h.5m-.2-.7h.5m.2 .3h.5m.5 .2h.5m2.2-.3h.5m3.1 .6h.5m5.4 0h.5m1.5-.6h.5m1.9 .6h.5m1.9-.6h.5m8.9-.1h.5m-.2 .7h.5m1.9-.7h.5m7.2 .9h.5m-.4 0h.5m.1-.5h.5m-.3-.1h.5m-.1 0h.5m0-.2h.5m-.4 .3h.5m-.5-.2h.5m1 .5h.5m4.3-.5h.5m2.9-.2h.5m-66.5 1.3h.5m1.3 .3h.5m-.4-.3h.5m5.3 .4h.5m2-.3h.5m3.4 .4h.5m-.3-.6h.5m1.1 .5h.5m.3 0h.5m-.1-.3h.5m.9 .2h.5m.7-.4h.5m-.4-.1h.5m.2 .6h.5m-.2 .1h.5m-.1-.2h.5m1.5-.6h.5m1.1 .7h.5m.6-.1h.5m-.4-.5h.5m1.2 0h.5m1.6 0h.5m9.6 .4h.5m10.3-.2h.5m.5-.4h.5m.6 .5h.5m2.5 .1h.5m.8-.3h.5m3.7 .3h.5m-.4-.2h.5m2.4-.2h.5m1.6 .6h.5m-65 .4h.5m.7 .6h.5m3.1-.2h.5m4.6 .1h.5m.2 0h.5m-.4-.3h.5m0 .2h.5m1.9 .1h.5m-.5-.6h.5m-.4 .5h.5m-.5 .3h.5m-.3-.4h.5m-.4 .4h.5m1.1-.6h.5m.9 .4h.5m6-.6h.5m.9 .6h.5m.8-.3h.5m1.5 .1h.5m2.8-.1h.5m-.4 .5h.5m2.1-.4h.5m.8 .3h.5m.4-.5h.5m9.5 .2h.5m-.2-.4h.5m.7 .7h.5m2-.6h.5m1.4 .8h.5m.8-1h.5m4.3 .5h.5m6.4 .4h.5m-65.7 .1h.5m1.3 .3h.5m8.9 .4h.5m1.2-.2h.5m-.2 0h.5m-.1-.2h.5m.1 .2h.5m1.5-.2h.5m.3 .7h.5m.4 0h.5m1.9-.8h.5m.6 .7h.5m1.2-.8h.5m-.5 .5h.5m0 .3h.5m-.5-.6h.5m-.1 .7h.5m1.5-.3h.5m.8-.4h.5m1.6-.1h.5m.9 .7h.5m11.8-.7h.5m3.2 .4h.5m.7-.4h.5m1.1 .1h.5m.1 .5h.5m0-.8h.5m.3 .2h.5m.5 .1h.5m1.1 .2h.5m-.4 .3h.5m-.1-.2h.5m.1 .3h.5m-.2-.7h.5m-.4 0h.5m.6 .5h.5m-.4-.3h.5m0-.2h.5m-.3-.1h.5m.2 .6h.5m2.3-.3h.5m.6-.2h.5m-68.8 1.4h.5m2.1-.1h.5m3.1 0h.5m1.9-.3h.5m-.1 .5h.5m.5-.3h.5m-.5 .6h.5m-.3-.5h.5m3.1 0h.5m.5-.1h.5m.1 .3h.5m0-.3h.5m0-.1h.5m.1 .3h.5m.6 .3h.5m-.2-.4h.5m1.2 .5h.5m-.4-.8h.5m2.1 .5h.5m3.9 .3h.5m.3-.5h.5m.3-.5h.5m.3 .4h.5m1.4 .2h.5m-.2-.3h.5m.8-.2h.5m.2 .7h.5m4 .1h.5m4.9-.1h.5m3-.5h.5m3.8-.3h.5m2.9 .5h.5m.6 .2h.5m1.3 .2h.5m1.9 0h.5m2.2-.3h.5m.9-.5h.5m-.4 .4h.5m2 .3h.5m11.2 .2h.5m-75.2 .2h.5m-.5 .3h.5m.2-.3h.5m1.6 .2h.5m.8 .4h.5m-.2-.5h.5m-.3 .3h.5m.2 .3h.5m.4-.3h.5m-.2-.4h.5m1.3 .7h.5m-.4 0h.5m1.7 .1h.5m.7-.6h.5m2 .2h.5m1.4 .1h.5m1.3 .1h.5m-.2-.5h.5m-.1 .1h.5m.7 .3h.5m1.8 .3h.5m-.4-.3h.5m1.2 .1h.5m-.1-.5h.5m-.3 0h.5m-.1-.1h.5m.9 .5h.5m.4-.1h.5m.8-.3h.5m.2 .1h.5m-.5 0h.5m.2-.3h.5m16 .8h.5m-.3-.3h.5m1.1 .4h.5m3.2-.2h.5m-.5-.5h.5m0 .6h.5m-.4-.8h.5m1-.1h.5m-.4 .2h.5m1.5-.1h.5m.2 0h.5m1.1 .3h.5m5-.2h.5m-63.7 1.1h.5m5.5 .1h.5m2 .4h.5m.2-.7h.5m1.3 .7h.5m1.3-.7h.5m1.8 .7h.5m-.3-.7h.5m.9 .8h.5m1.7 0h.5m-.3-.8h.5m-.2 .1h.5m1 .2h.5m-.4-.2h.5m2.1 .1h.5m-.5 .5h.5m.2-.7h.5m-.3 .7h.5m1.8 .2h.5m1.8-.6h.5m-.4-.2h.5m-.1-.1h.5m3.1 .7h.5m3.5-.1h.5m3.8-.4h.5m2.6 .5h.5m.7 0h.5m1.1-.6h.5m.6 .4h.5m-.3-.1h.5m.5-.4h.5m.3 .7h.5m1.8-.8h.5m2.4 .7h.5m3.8 .1h.5m.7-.4h.5m.9 .6h.5m-66.9 .6h.5m7.6 .3h.5m-.2 .1h.5m.3-.6h.5m.8-.4h.5m0 .9h.5m.5-.5h.5m1.4-.3h.5m2.1-.1h.5m.2 .4h.5m.3 .4h.5m.8-.3h.5m-.1 .2h.5m-.3-.2h.5m-.2 .4h.5m1.1-.2h.5m1.6-.7h.5m1.8 .9h.5m-.4 0h.5m-.3-.2h.5m1.8-.7h.5m-.4 .8h.5m-.4-.5h.5m-.1 .5h.5m-.4-.3h.5m.3 .4h.5m6.6-.8h.5m12.9 .5h.5m1.9-.5h.5m-.3 .3h.5m1.6-.3h.5m-.4 .6h.5m-.5 0h.5m1.3 .3h.5m.4-.7h.5m.6 .7h.5m.4-.3h.5m-.2 .2h.5m-.4 0h.5m-61.7 .8h.5m7.5-.5h.5m1.1 .6h.5m-.2-.1h.5m-.2 .1h.5m1.9-.4h.5m.3 0h.5m1 0h.5m2.9-.3h.5m-.3 .8h.5m1.7-.7h.5m1 .5h.5m.5 .3h.5m1.3-1h.5m-.2 .1h.5m-.1 .8h.5m-.1-.3h.5m.2-.1h.5m3.6 0h.5m1.6 .2h.5m.6-.6h.5m17.3 .4h.5m3.6 .1h.5m.1-.4h.5m-.4 .1h.5m.2 .2h.5m-.1 .5h.5m1-.9h.5m-.2 .5h.5m-.3 0h.5m1-.3h.5m-.5 .3h.5m2.3-.5h.5m.5 .6h.5m.9 .3h.5m.3-.1h.5m-.5-.7h.5m-.2 .5h.5m-.1-.5h.5m1.5 .6h.5m-71.9 .7h.5m1.1 0h.5m1.9-.4h.5m-.3 .4h.5m.6-.3h.5m2.8 0h.5m-.1 .2h.5m2.2 .1h.5m1.4 .1h.5m-.2-.4h.5m.5-.1h.5m1.1 .8h.5m.7-.8h.5m1.4 .8h.5m2.9-.8h.5m.2 .3h.5m-.1-.1h.5m-.3 .3h.5m3.6-.5h.5m.7 .5h.5m.2 .1h.5m-.4 .3h.5m.6-.8h.5m.3 .7h.5m.1 .1h.5m11-.7h.5m8.4 .1h.5m6.5 .1h.5m1.5-.2h.5m.4 .5h.5m.9-.6h.5m1.2-.1h.5m8.5 .3h.5m-70.6 .9h.5m1.1 .1h.5m2.4-.3h.5m1.6-.1h.5m3.5 .9h.5m.5-.8h.5m4.6 .7h.5m1.8-.1h.5m5.1 .1h.5m2 0h.5m2 0h.5m-.1-.1h.5m11.3 .1h.5m4.8-.4h.5m1.5 0h.5m1.2-.4h.5m0 .5h.5m.9-.1h.5m.2 .3h.5m-.4-.1h.5m-.5 0h.5m-.1 .1h.5m.9 0h.5m.1 .2h.5m.2-.4h.5m0 0h.5m1.7 .5h.5m1.2-.8h.5m1.1-.1h.5m-66 1.3h.5m5.9 .1h.5m-.5-.3h.5m.3 .6h.5m.1-.7h.5m-.2 .7h.5m-.2 .1h.5m-.4-.3h.5m1.5-.2h.5m-.1 .3h.5m.1-.2h.5m.8-.3h.5m.3 .1h.5m1.9-.1h.5m1.2 .4h.5m-.4-.3h.5m0 .1h.5m.8-.3h.5m1.8 .2h.5m.9-.1h.5m1.6 .6h.5m6.4-.5h.5m6.6 .4h.5m9-.3h.5m2.9 0h.5m-.4 .1h.5m.4-.3h.5m2.6 .6h.5m-.2-.4h.5m-.1 .3h.5m.5-.3h.5m5 .6h.5m-61.7 .2h.5m3 .4h.5m-.3 .2h.5m.1 .1h.5m2.8-.3h.5m.4 .3h.5m3.1-.2h.5m2.6-.5h.5m.6 0h.5m3.1 0h.5m21.3 .3h.5m10.7-.2h.5m1.5 .1h.5m.1-.3h.5m-.1 .2h.5m.6 .6h.5m.6-.5h.5m.7 .6h.5m.6-.1h.5m2.9-.6h.5m0-.3h.5m-59.4 1.3h.5m1.3 .6h.5m6.4-.8h.5m.8 .5h.5m9.9-.2h.5m5.6-.4h.5m18.1 .6h.5m2.8 0h.5m-.5-.3h.5m.7-.3h.5m2.5 .6h.5m.8 0h.5m-.4 .4h.5m-58.1 .9h.5m1.2-.1h.5m5.2-.1h.5m8.7-.1h.5m-.5 .2h.5m3.2-.2h.5m3.5-.6h.5m-.4 .7h.5m24.9-.3h.5m1.6 .2h.5m2-.2h.5m.9-.2h.5m3.1 .3h.5m-63.3 1.4h.5m2.6 0h.5m13.8-.9h.5m9.2 .1h.5m1.6 .6h.5m1.5-.2h.5m2.1-.3h.5m14.6 0h.5m1.5 .4h.5m5.8 .2h.5m.4-.3h.5m.5 .3h.5m6.8-.2h.5m-58.4 1.1h.5m-.2 .2h.5m12.9-.6h.5m19.1 .5h.5m10.5-.1h.5m2.3-.6h.5m3.7 .4h.5m.4 .3h.5m-.4-.5h.5m1.6 .2h.5m2.5 .2h.5m5.8-.5h.5m-66.2 1.3h.5m7.2-.5h.5m1.3 .6h.5m.4-.2h.5m8.6 .5h.5m23.6-.7h.5m4.2-.1h.5m0 .2h.5m.4 .4h.5m.2-.2h.5m1.4 .2h.5m-57.9 .6h.5m.1-.3h.5m1.3 .3h.5m13.9 0h.5m3.6 0h.5m3.2-.2h.5m20.2 0h.5m4.9 .6h.5m.9 0h.5m1.6-.5h.5m.1-.1h.5m.5 .4h.5m3.6 .4h.5m3.5-.6h.5m-46.7 .8h.5m1.7 .5h.5m27.5 .4h.5m3.7-.1h.5m.6-.8h.5m5.6 .8h.5m3.8-.6h.5m-58 1.3h.5m41.9-.4h.5m3.5-.1h.5m3.2 .3h.5m7 .2h.5m1.7 0h.5" stroke="#8f8290" stroke-width=".5" stroke-opacity=".5" fill="none"/>
<rect x="345.6" y="602.1" width="98.79999999999995" height="88.89999999999998" fill="none" stroke="#000" stroke-width="1.3"/>
<line x1="345.6" y1="601.9" x2="345.6" y2="691.6" stroke="#1c1c1c" stroke-width="1.3"/>
<line x1="345.0" y1="691" x2="444.4" y2="691" stroke="#1c1c1c" stroke-width="1.3"/>
<rect x="346.9" y="605.3" width="31.5" height="31.0" fill="none" stroke="#1c1c1c" stroke-width="1.7"/>
<line x1="430.9" y1="629.8" x2="414.67932921983646" y2="640.4186865416535" stroke="#1c1c1c" stroke-width="1.1"/>
<polygon points="411.5,642.5 414.25,638.31 416.44,641.65" fill="#1c1c1c"/>
<line x1="342.6" y1="610" x2="345.6" y2="610" stroke="#1c1c1c" stroke-width="0.9"/>
<text x="339.20000000000005" y="611.6" font-size="4.6" text-anchor="end" fill="#262626">10<tspan font-size="3" dy="-1.8">5</tspan></text>
<line x1="342.6" y1="630" x2="345.6" y2="630" stroke="#1c1c1c" stroke-width="0.9"/>
<text x="339.20000000000005" y="631.6" font-size="4.6" text-anchor="end" fill="#262626">10<tspan font-size="3" dy="-1.8">4</tspan></text>
<line x1="342.6" y1="651" x2="345.6" y2="651" stroke="#1c1c1c" stroke-width="0.9"/>
<text x="339.20000000000005" y="652.6" font-size="4.6" text-anchor="end" fill="#262626">10<tspan font-size="3" dy="-1.8">3</tspan></text>
<line x1="342.6" y1="672" x2="345.6" y2="672" stroke="#1c1c1c" stroke-width="0.9"/>
<text x="339.20000000000005" y="673.6" font-size="4.6" text-anchor="end" fill="#262626">10<tspan font-size="3" dy="-1.8">2</tspan></text>
<line x1="342.6" y1="678.5" x2="345.6" y2="678.5" stroke="#1c1c1c" stroke-width="0.9"/>
<text x="339.20000000000005" y="680.1" font-size="4.6" text-anchor="end" fill="#262626">0</text>
<line x1="342.6" y1="685" x2="345.6" y2="685" stroke="#1c1c1c" stroke-width="0.9"/>
<text x="339.20000000000005" y="686.6" font-size="4.6" text-anchor="end" fill="#262626">-10<tspan font-size="3" dy="-1.8">2</tspan></text>
<line x1="342.6" y1="690.8" x2="345.6" y2="690.8" stroke="#1c1c1c" stroke-width="0.9"/>
<text x="339.20000000000005" y="692.4" font-size="4.6" text-anchor="end" fill="#262626">-216</text>
<line x1="344.0" y1="623.9794000867204" x2="345.6" y2="623.9794000867204" stroke="#1c1c1c" stroke-width="0.6"/>
<line x1="344.0" y1="620.4575749056067" x2="345.6" y2="620.4575749056067" stroke="#1c1c1c" stroke-width="0.6"/>
<line x1="344.0" y1="617.9588001734407" x2="345.6" y2="617.9588001734407" stroke="#1c1c1c" stroke-width="0.6"/>
<line x1="344.0" y1="616.0205999132796" x2="345.6" y2="616.0205999132796" stroke="#1c1c1c" stroke-width="0.6"/>
<line x1="344.0" y1="614.4369749923271" x2="345.6" y2="614.4369749923271" stroke="#1c1c1c" stroke-width="0.6"/>
<line x1="344.0" y1="613.0980391997149" x2="345.6" y2="613.0980391997149" stroke="#1c1c1c" stroke-width="0.6"/>
<line x1="344.0" y1="611.9382002601611" x2="345.6" y2="611.9382002601611" stroke="#1c1c1c" stroke-width="0.6"/>
<line x1="344.0" y1="610.9151498112135" x2="345.6" y2="610.9151498112135" stroke="#1c1c1c" stroke-width="0.6"/>
<line x1="344.0" y1="644.6783700910564" x2="345.6" y2="644.6783700910564" stroke="#1c1c1c" stroke-width="0.6"/>
<line x1="344.0" y1="640.9804536508871" x2="345.6" y2="640.9804536508871" stroke="#1c1c1c" stroke-width="0.6"/>
<line x1="344.0" y1="638.3567401821128" x2="345.6" y2="638.3567401821128" stroke="#1c1c1c" stroke-width="0.6"/>
<line x1="344.0" y1="636.3216299089436" x2="345.6" y2="636.3216299089436" stroke="#1c1c1c" stroke-width="0.6"/>
<line x1="344.0" y1="634.6588237419435" x2="345.6" y2="634.6588237419435" stroke="#1c1c1c" stroke-width="0.6"/>
<line x1="344.0" y1="633.2529411597006" x2="345.6" y2="633.2529411597006" stroke="#1c1c1c" stroke-width="0.6"/>
<line x1="344.0" y1="632.0351102731692" x2="345.6" y2="632.0351102731692" stroke="#1c1c1c" stroke-width="0.6"/>
<line x1="344.0" y1="630.9609073017742" x2="345.6" y2="630.9609073017742" stroke="#1c1c1c" stroke-width="0.6"/>
<line x1="344.0" y1="665.6783700910564" x2="345.6" y2="665.6783700910564" stroke="#1c1c1c" stroke-width="0.6"/>
<line x1="344.0" y1="661.9804536508871" x2="345.6" y2="661.9804536508871" stroke="#1c1c1c" stroke-width="0.6"/>
<line x1="344.0" y1="659.3567401821128" x2="345.6" y2="659.3567401821128" stroke="#1c1c1c" stroke-width="0.6"/>
<line x1="344.0" y1="657.3216299089436" x2="345.6" y2="657.3216299089436" stroke="#1c1c1c" stroke-width="0.6"/>
<line x1="344.0" y1="655.6588237419435" x2="345.6" y2="655.6588237419435" stroke="#1c1c1c" stroke-width="0.6"/>
<line x1="344.0" y1="654.2529411597006" x2="345.6" y2="654.2529411597006" stroke="#1c1c1c" stroke-width="0.6"/>
<line x1="344.0" y1="653.0351102731692" x2="345.6" y2="653.0351102731692" stroke="#1c1c1c" stroke-width="0.6"/>
<line x1="344.0" y1="651.9609073017742" x2="345.6" y2="651.9609073017742" stroke="#1c1c1c" stroke-width="0.6"/>
<rect x="342.3" y="677.6" width="3.3" height="1.8" fill="#1c1c1c"/>
<line x1="350.5" y1="691" x2="350.5" y2="693.6" stroke="#1c1c1c" stroke-width="0.9"/>
<text x="350.5" y="702" font-size="4.6" text-anchor="middle" fill="#262626">10<tspan font-size="3" dy="-1.8">1</tspan></text>
<line x1="369" y1="691" x2="369" y2="693.6" stroke="#1c1c1c" stroke-width="0.9"/>
<text x="369" y="702" font-size="4.6" text-anchor="middle" fill="#262626">10<tspan font-size="3" dy="-1.8">2</tspan></text>
<line x1="391" y1="691" x2="391" y2="693.6" stroke="#1c1c1c" stroke-width="0.9"/>
<text x="391" y="702" font-size="4.6" text-anchor="middle" fill="#262626">10<tspan font-size="3" dy="-1.8">3</tspan></text>
<line x1="413" y1="691" x2="413" y2="693.6" stroke="#1c1c1c" stroke-width="0.9"/>
<text x="413" y="702" font-size="4.6" text-anchor="middle" fill="#262626">10<tspan font-size="3" dy="-1.8">4</tspan></text>
<line x1="435.5" y1="691" x2="435.5" y2="693.6" stroke="#1c1c1c" stroke-width="0.9"/>
<text x="435.5" y="702" font-size="4.6" text-anchor="middle" fill="#262626">10<tspan font-size="3" dy="-1.8">5</tspan></text>
<rect x="345.6" y="691" width="4.899999999999977" height="1.7" fill="#666"/>
<line x1="356.06905491978364" y1="691" x2="356.06905491978364" y2="692.6" stroke="#1c1c1c" stroke-width="0.6"/>
<line x1="359.3267432123138" y1="691" x2="359.3267432123138" y2="692.6" stroke="#1c1c1c" stroke-width="0.6"/>
<line x1="361.6381098395673" y1="691" x2="361.6381098395673" y2="692.6" stroke="#1c1c1c" stroke-width="0.6"/>
<line x1="363.43094508021636" y1="691" x2="363.43094508021636" y2="692.6" stroke="#1c1c1c" stroke-width="0.6"/>
<line x1="364.8957981320974" y1="691" x2="364.8957981320974" y2="692.6" stroke="#1c1c1c" stroke-width="0.6"/>
<line x1="366.13431374026374" y1="691" x2="366.13431374026374" y2="692.6" stroke="#1c1c1c" stroke-width="0.6"/>
<line x1="367.207164759351" y1="691" x2="367.207164759351" y2="692.6" stroke="#1c1c1c" stroke-width="0.6"/>
<line x1="368.1534864246275" y1="691" x2="368.1534864246275" y2="692.6" stroke="#1c1c1c" stroke-width="0.6"/>
<line x1="375.6226599046076" y1="691" x2="375.6226599046076" y2="692.6" stroke="#1c1c1c" stroke-width="0.6"/>
<line x1="379.4966676038326" y1="691" x2="379.4966676038326" y2="692.6" stroke="#1c1c1c" stroke-width="0.6"/>
<line x1="382.2453198092152" y1="691" x2="382.2453198092152" y2="692.6" stroke="#1c1c1c" stroke-width="0.6"/>
<line x1="384.3773400953924" y1="691" x2="384.3773400953924" y2="692.6" stroke="#1c1c1c" stroke-width="0.6"/>
<line x1="386.11932750844016" y1="691" x2="386.11932750844016" y2="692.6" stroke="#1c1c1c" stroke-width="0.6"/>
<line x1="387.59215688031367" y1="691" x2="387.59215688031367" y2="692.6" stroke="#1c1c1c" stroke-width="0.6"/>
<line x1="388.86797971382276" y1="691" x2="388.86797971382276" y2="692.6" stroke="#1c1c1c" stroke-width="0.6"/>
<line x1="389.99333520766515" y1="691" x2="389.99333520766515" y2="692.6" stroke="#1c1c1c" stroke-width="0.6"/>
<line x1="397.6226599046076" y1="691" x2="397.6226599046076" y2="692.6" stroke="#1c1c1c" stroke-width="0.6"/>
<line x1="401.4966676038326" y1="691" x2="401.4966676038326" y2="692.6" stroke="#1c1c1c" stroke-width="0.6"/>
<line x1="404.2453198092152" y1="691" x2="404.2453198092152" y2="692.6" stroke="#1c1c1c" stroke-width="0.6"/>
<line x1="406.3773400953924" y1="691" x2="406.3773400953924" y2="692.6" stroke="#1c1c1c" stroke-width="0.6"/>
<line x1="408.11932750844016" y1="691" x2="408.11932750844016" y2="692.6" stroke="#1c1c1c" stroke-width="0.6"/>
<line x1="409.59215688031367" y1="691" x2="409.59215688031367" y2="692.6" stroke="#1c1c1c" stroke-width="0.6"/>
<line x1="410.86797971382276" y1="691" x2="410.86797971382276" y2="692.6" stroke="#1c1c1c" stroke-width="0.6"/>
<line x1="411.99333520766515" y1="691" x2="411.99333520766515" y2="692.6" stroke="#1c1c1c" stroke-width="0.6"/>
<line x1="419.77317490243956" y1="691" x2="419.77317490243956" y2="692.6" stroke="#1c1c1c" stroke-width="0.6"/>
<line x1="423.7352282311924" y1="691" x2="423.7352282311924" y2="692.6" stroke="#1c1c1c" stroke-width="0.6"/>
<line x1="426.5463498048791" y1="691" x2="426.5463498048791" y2="692.6" stroke="#1c1c1c" stroke-width="0.6"/>
<line x1="428.72682509756044" y1="691" x2="428.72682509756044" y2="692.6" stroke="#1c1c1c" stroke-width="0.6"/>
<line x1="430.508403133632" y1="691" x2="430.508403133632" y2="692.6" stroke="#1c1c1c" stroke-width="0.6"/>
<line x1="432.0147059003208" y1="691" x2="432.0147059003208" y2="692.6" stroke="#1c1c1c" stroke-width="0.6"/>
<line x1="433.31952470731875" y1="691" x2="433.31952470731875" y2="692.6" stroke="#1c1c1c" stroke-width="0.6"/>
<line x1="434.4704564623848" y1="691" x2="434.4704564623848" y2="692.6" stroke="#1c1c1c" stroke-width="0.6"/>
<text x="346" y="707.5" font-size="4.6" text-anchor="middle" fill="#262626">-2</text>
<rect x="0.7" y="0.7" width="518.6" height="732.6" fill="none" stroke="#000" stroke-width="1.4"/>
</svg></body></html>
